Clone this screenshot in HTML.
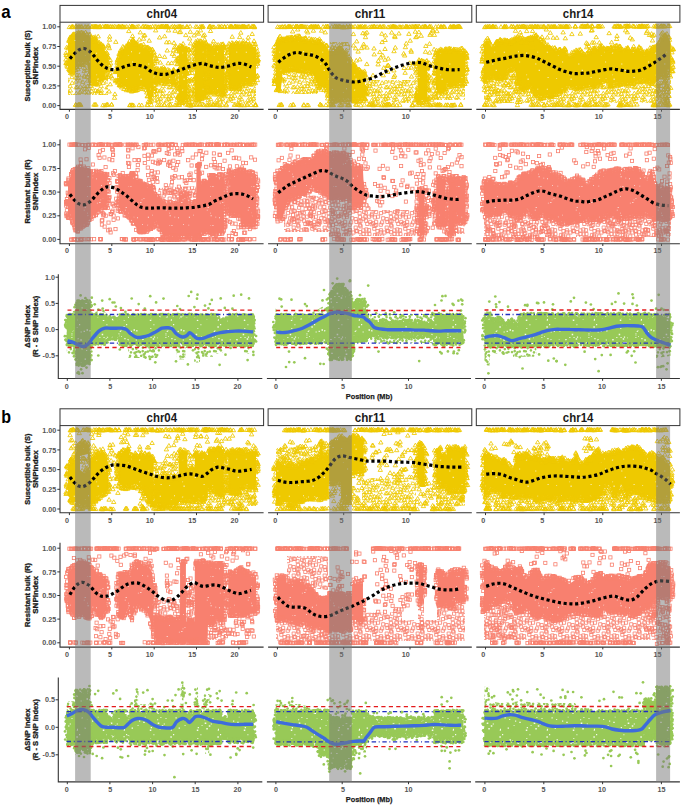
<!DOCTYPE html>
<html><head><meta charset="utf-8"><style>
html,body{margin:0;padding:0;background:#fff;}
svg{display:block;}
text{font-family:"Liberation Sans",sans-serif;}
</style></head><body>
<div style="position:relative;width:685px;height:807px;overflow:hidden">
<svg width="685" height="807" viewBox="0 0 685 807" font-family="Liberation Sans, sans-serif">
<defs><marker id="mt" markerWidth="6" markerHeight="6" refX="3" refY="3" markerUnits="userSpaceOnUse" overflow="visible"><path d="M3,1L5.2,4.7H0.8Z" fill="none" stroke="#EEC900" stroke-width="0.85"/></marker><marker id="ms" markerWidth="6" markerHeight="6" refX="3" refY="3" markerUnits="userSpaceOnUse" overflow="visible"><rect x="1.4" y="1.4" width="3.2" height="3.2" fill="none" stroke="#F8806F" stroke-width="0.8"/></marker><marker id="md" markerWidth="6" markerHeight="6" refX="3" refY="3" markerUnits="userSpaceOnUse" overflow="visible"><circle cx="3" cy="3" r="1.35" fill="#98C957"/></marker><pattern id="pt" width="43" height="37" patternUnits="userSpaceOnUse"><rect width="43" height="37" fill="#EEC900"/><path d="M22.7,32.8h1.1v1.1h-1.1zM21.3,14.7h0.9v0.9h-0.9zM40.2,3.9h0.9v0.9h-0.9zM11.6,5.1h1.0v1.0h-1.0zM19.3,26.6h1.0v1.0h-1.0zM11.6,4.5h1.0v1.0h-1.0zM31.6,3.0h1.0v1.0h-1.0zM9.9,16.1h0.7v0.7h-0.7zM3.2,24.6h0.9v0.9h-0.9zM10.3,15.4h0.9v0.9h-0.9zM2.0,14.3h0.9v0.9h-0.9zM10.3,0.5h0.8v0.8h-0.8zM41.9,18.4h0.7v0.7h-0.7zM30.8,14.8h1.0v1.0h-1.0z" fill="#fff" fill-opacity="0.80"/></pattern><pattern id="ps" width="41" height="39" patternUnits="userSpaceOnUse"><rect width="41" height="39" fill="#F8806F"/><path d="M14.9,7.7h0.8v0.8h-0.8zM14.0,22.3h0.9v0.9h-0.9zM5.2,17.8h0.7v0.7h-0.7zM10.4,21.7h0.8v0.8h-0.8zM18.6,4.5h0.8v0.8h-0.8zM2.7,11.9h1.0v1.0h-1.0zM17.3,7.0h1.1v1.1h-1.1zM7.5,30.0h0.9v0.9h-0.9zM19.0,29.2h0.9v0.9h-0.9zM29.3,19.8h0.7v0.7h-0.7zM24.4,29.7h0.8v0.8h-0.8zM5.4,30.4h0.7v0.7h-0.7zM20.5,3.2h0.9v0.9h-0.9zM5.0,1.3h0.8v0.8h-0.8zM24.8,21.8h0.7v0.7h-0.7zM1.8,14.7h0.9v0.9h-0.9zM5.6,20.2h1.1v1.1h-1.1zM25.0,21.7h1.0v1.0h-1.0z" fill="#fff" fill-opacity="0.80"/></pattern><pattern id="pd" width="47" height="41" patternUnits="userSpaceOnUse"><rect width="47" height="41" fill="#98C957"/><path d="M39.1,21.9h1.1v1.1h-1.1zM9.3,0.1h1.0v1.0h-1.0zM45.1,23.6h1.1v1.1h-1.1zM41.7,11.4h1.2v1.2h-1.2zM2.3,24.7h1.4v1.4h-1.4zM8.8,32.6h1.5v1.5h-1.5zM33.3,11.3h1.5v1.5h-1.5zM3.7,19.7h0.9v0.9h-0.9zM9.5,8.9h1.1v1.1h-1.1zM18.3,31.1h1.5v1.5h-1.5zM20.8,28.3h1.5v1.5h-1.5zM7.7,5.8h1.5v1.5h-1.5zM25.7,2.9h1.1v1.1h-1.1zM34.5,20.2h1.2v1.2h-1.2zM7.3,14.9h1.2v1.2h-1.2zM13.6,28.1h0.9v0.9h-0.9zM24.5,4.9h0.9v0.9h-0.9zM26.5,2.3h0.9v0.9h-0.9zM16.7,25.4h1.6v1.6h-1.6zM1.7,14.5h1.2v1.2h-1.2zM29.4,39.3h1.4v1.4h-1.4zM12.9,8.5h1.2v1.2h-1.2zM24.5,6.5h0.9v0.9h-0.9zM39.5,1.3h1.5v1.5h-1.5zM11.7,10.2h1.5v1.5h-1.5zM37.6,30.4h1.4v1.4h-1.4zM24.5,21.0h1.0v1.0h-1.0zM32.0,37.1h1.2v1.2h-1.2zM30.3,9.9h1.3v1.3h-1.3zM22.7,26.4h1.2v1.2h-1.2zM27.0,8.2h0.9v0.9h-0.9zM16.0,9.5h0.8v0.8h-0.8zM5.3,8.9h1.1v1.1h-1.1zM24.4,9.0h1.0v1.0h-1.0zM29.8,33.0h0.9v0.9h-0.9zM12.4,37.2h1.0v1.0h-1.0zM42.2,2.1h1.3v1.3h-1.3zM19.4,20.0h1.0v1.0h-1.0zM43.6,28.0h0.9v0.9h-0.9zM33.6,3.4h1.1v1.1h-1.1zM29.9,31.8h1.1v1.1h-1.1zM9.7,29.9h1.3v1.3h-1.3zM36.6,2.8h1.3v1.3h-1.3zM16.1,22.2h1.1v1.1h-1.1zM1.2,11.0h1.5v1.5h-1.5z" fill="#fff" fill-opacity="0.90"/></pattern><pattern id="qt" width="31" height="29" patternUnits="userSpaceOnUse"><path d="M2.6,1.3l2.2,3.7h-4.4zM33.6,1.3l2.2,3.7h-4.4zM1.6,4.7l2.2,3.7h-4.4zM32.6,4.7l2.2,3.7h-4.4zM2.3,7.4l2.2,3.7h-4.4zM33.3,7.4l2.2,3.7h-4.4zM2.9,10.2l2.2,3.7h-4.4zM33.9,10.2l2.2,3.7h-4.4zM3.4,12.6l2.2,3.7h-4.4zM1.6,19.0l2.2,3.7h-4.4zM32.6,19.0l2.2,3.7h-4.4zM1.3,21.3l2.2,3.7h-4.4zM32.3,21.3l2.2,3.7h-4.4zM0.5,23.6l2.2,3.7h-4.4zM31.5,23.6l2.2,3.7h-4.4zM5.4,1.4l2.2,3.7h-4.4zM4.6,2.2l2.2,3.7h-4.4zM7.3,7.1l2.2,3.7h-4.4zM5.6,9.3l2.2,3.7h-4.4zM6.1,12.8l2.2,3.7h-4.4zM5.4,19.0l2.2,3.7h-4.4zM4.8,20.4l2.2,3.7h-4.4zM4.1,-4.8l2.2,3.7h-4.4zM4.1,24.2l2.2,3.7h-4.4zM8.4,1.3l2.2,3.7h-4.4zM7.8,4.6l2.2,3.7h-4.4zM11.3,7.0l2.2,3.7h-4.4zM11.6,11.2l2.2,3.7h-4.4zM10.1,14.1l2.2,3.7h-4.4zM9.9,17.0l2.2,3.7h-4.4zM10.2,22.7l2.2,3.7h-4.4zM8.2,-3.0l2.2,3.7h-4.4zM8.2,26.0l2.2,3.7h-4.4zM14.0,-1.8l2.2,3.7h-4.4zM14.0,27.2l2.2,3.7h-4.4zM14.3,4.2l2.2,3.7h-4.4zM14.3,7.3l2.2,3.7h-4.4zM13.8,9.8l2.2,3.7h-4.4zM15.0,14.7l2.2,3.7h-4.4zM13.9,17.5l2.2,3.7h-4.4zM13.9,21.4l2.2,3.7h-4.4zM15.3,-2.1l2.2,3.7h-4.4zM15.3,26.9l2.2,3.7h-4.4zM19.3,1.4l2.2,3.7h-4.4zM18.0,2.7l2.2,3.7h-4.4zM17.8,6.6l2.2,3.7h-4.4zM16.0,9.0l2.2,3.7h-4.4zM17.1,15.1l2.2,3.7h-4.4zM15.7,18.0l2.2,3.7h-4.4zM18.0,20.3l2.2,3.7h-4.4zM18.4,-2.5l2.2,3.7h-4.4zM18.4,26.5l2.2,3.7h-4.4zM22.9,-0.6l2.2,3.7h-4.4zM22.9,28.4l2.2,3.7h-4.4zM22.5,3.0l2.2,3.7h-4.4zM22.6,8.2l2.2,3.7h-4.4zM22.2,10.9l2.2,3.7h-4.4zM22.3,15.5l2.2,3.7h-4.4zM22.5,16.6l2.2,3.7h-4.4zM20.8,21.7l2.2,3.7h-4.4zM22.3,-3.2l2.2,3.7h-4.4zM22.3,25.8l2.2,3.7h-4.4zM24.8,0.1l2.2,3.7h-4.4zM24.8,29.1l2.2,3.7h-4.4zM26.6,3.1l2.2,3.7h-4.4zM24.6,5.3l2.2,3.7h-4.4zM24.6,9.9l2.2,3.7h-4.4zM26.8,14.4l2.2,3.7h-4.4zM25.1,16.6l2.2,3.7h-4.4zM25.5,20.4l2.2,3.7h-4.4zM25.6,-2.9l2.2,3.7h-4.4zM25.6,26.1l2.2,3.7h-4.4zM-0.5,-0.9l2.2,3.7h-4.4zM-0.5,28.1l2.2,3.7h-4.4zM30.5,-0.9l2.2,3.7h-4.4zM30.5,28.1l2.2,3.7h-4.4zM-1.4,2.1l2.2,3.7h-4.4zM29.6,2.1l2.2,3.7h-4.4zM-1.7,5.4l2.2,3.7h-4.4zM29.3,5.4l2.2,3.7h-4.4zM-0.3,11.3l2.2,3.7h-4.4zM30.7,11.3l2.2,3.7h-4.4zM-0.0,14.0l2.2,3.7h-4.4zM31.0,14.0l2.2,3.7h-4.4zM-2.4,17.3l2.2,3.7h-4.4zM28.6,17.3l2.2,3.7h-4.4zM-2.3,23.2l2.2,3.7h-4.4zM28.7,23.2l2.2,3.7h-4.4zM-2.6,-3.1l2.2,3.7h-4.4zM-2.6,25.9l2.2,3.7h-4.4zM28.4,-3.1l2.2,3.7h-4.4zM28.4,25.9l2.2,3.7h-4.4z" fill="none" stroke="#EEC900" stroke-width="0.8"/></pattern><pattern id="qs" width="31" height="29" patternUnits="userSpaceOnUse"><path d="M1.4,1.4h3.2v3.2h-3.2zM0.9,4.8h3.2v3.2h-3.2zM31.9,4.8h3.2v3.2h-3.2zM-1.4,9.2h3.2v3.2h-3.2zM29.6,9.2h3.2v3.2h-3.2zM1.3,12.8h3.2v3.2h-3.2zM32.3,12.8h3.2v3.2h-3.2zM-0.5,18.6h3.2v3.2h-3.2zM30.5,18.6h3.2v3.2h-3.2zM1.0,21.3h3.2v3.2h-3.2zM32.0,21.3h3.2v3.2h-3.2zM0.7,24.1h3.2v3.2h-3.2zM31.7,24.1h3.2v3.2h-3.2zM3.4,1.8h3.2v3.2h-3.2zM3.7,3.1h3.2v3.2h-3.2zM2.5,7.4h3.2v3.2h-3.2zM4.4,12.1h3.2v3.2h-3.2zM2.5,17.3h3.2v3.2h-3.2zM2.5,20.4h3.2v3.2h-3.2zM3.9,-2.5h3.2v3.2h-3.2zM3.9,26.5h3.2v3.2h-3.2zM7.1,-1.3h3.2v3.2h-3.2zM7.1,27.7h3.2v3.2h-3.2zM8.6,2.8h3.2v3.2h-3.2zM7.4,8.5h3.2v3.2h-3.2zM9.6,13.7h3.2v3.2h-3.2zM8.5,17.8h3.2v3.2h-3.2zM7.2,20.1h3.2v3.2h-3.2zM7.4,-3.3h3.2v3.2h-3.2zM7.4,25.7h3.2v3.2h-3.2zM10.9,-1.1h3.2v3.2h-3.2zM10.9,27.9h3.2v3.2h-3.2zM12.9,6.1h3.2v3.2h-3.2zM10.6,7.0h3.2v3.2h-3.2zM13.1,14.5h3.2v3.2h-3.2zM13.8,17.3h3.2v3.2h-3.2zM13.1,23.0h3.2v3.2h-3.2zM13.6,-2.7h3.2v3.2h-3.2zM13.6,26.3h3.2v3.2h-3.2zM17.5,-1.5h3.2v3.2h-3.2zM17.5,27.5h3.2v3.2h-3.2zM14.2,6.3h3.2v3.2h-3.2zM17.0,8.6h3.2v3.2h-3.2zM17.3,12.3h3.2v3.2h-3.2zM16.6,16.8h3.2v3.2h-3.2zM17.4,20.6h3.2v3.2h-3.2zM14.6,-2.4h3.2v3.2h-3.2zM14.6,26.6h3.2v3.2h-3.2zM20.9,0.4h3.2v3.2h-3.2zM20.9,29.4h3.2v3.2h-3.2zM18.5,3.1h3.2v3.2h-3.2zM21.5,7.3h3.2v3.2h-3.2zM20.9,14.1h3.2v3.2h-3.2zM17.9,16.6h3.2v3.2h-3.2zM18.0,21.7h3.2v3.2h-3.2zM20.8,-3.2h3.2v3.2h-3.2zM20.8,25.8h3.2v3.2h-3.2zM24.0,0.7h3.2v3.2h-3.2zM24.0,29.7h3.2v3.2h-3.2zM25.1,4.3h3.2v3.2h-3.2zM23.2,8.3h3.2v3.2h-3.2zM22.8,12.2h3.2v3.2h-3.2zM23.3,16.1h3.2v3.2h-3.2zM24.7,19.3h3.2v3.2h-3.2zM23.8,-4.1h3.2v3.2h-3.2zM23.8,24.9h3.2v3.2h-3.2zM-4.2,0.4h3.2v3.2h-3.2zM-4.2,29.4h3.2v3.2h-3.2zM26.8,0.4h3.2v3.2h-3.2zM26.8,29.4h3.2v3.2h-3.2zM-1.9,4.4h3.2v3.2h-3.2zM29.1,4.4h3.2v3.2h-3.2zM-1.9,10.7h3.2v3.2h-3.2zM29.1,10.7h3.2v3.2h-3.2zM-4.5,12.1h3.2v3.2h-3.2zM26.5,12.1h3.2v3.2h-3.2zM-3.3,17.3h3.2v3.2h-3.2zM27.7,17.3h3.2v3.2h-3.2zM-2.0,19.6h3.2v3.2h-3.2zM29.0,19.6h3.2v3.2h-3.2zM-4.6,-3.4h3.2v3.2h-3.2zM-4.6,25.6h3.2v3.2h-3.2zM26.4,-3.4h3.2v3.2h-3.2zM26.4,25.6h3.2v3.2h-3.2z" fill="none" stroke="#F8806F" stroke-width="0.8"/></pattern><pattern id="qd" width="31" height="29" patternUnits="userSpaceOnUse"><path d="M-1.2,2.0a1.3,1.3 0 1,0 0.01,0zM-1.2,31.0a1.3,1.3 0 1,0 0.01,0zM29.8,2.0a1.3,1.3 0 1,0 0.01,0zM29.8,31.0a1.3,1.3 0 1,0 0.01,0zM0.3,5.2a1.3,1.3 0 1,0 0.01,0zM31.3,5.2a1.3,1.3 0 1,0 0.01,0zM0.8,7.9a1.3,1.3 0 1,0 0.01,0zM31.8,7.9a1.3,1.3 0 1,0 0.01,0zM-1.0,12.0a1.3,1.3 0 1,0 0.01,0zM30.0,12.0a1.3,1.3 0 1,0 0.01,0zM-0.7,16.2a1.3,1.3 0 1,0 0.01,0zM30.3,16.2a1.3,1.3 0 1,0 0.01,0zM-0.8,18.3a1.3,1.3 0 1,0 0.01,0zM30.2,18.3a1.3,1.3 0 1,0 0.01,0zM-1.2,24.0a1.3,1.3 0 1,0 0.01,0zM29.8,24.0a1.3,1.3 0 1,0 0.01,0zM0.6,-1.2a1.3,1.3 0 1,0 0.01,0zM0.6,27.8a1.3,1.3 0 1,0 0.01,0zM31.6,-1.2a1.3,1.3 0 1,0 0.01,0zM31.6,27.8a1.3,1.3 0 1,0 0.01,0zM3.9,1.1a1.3,1.3 0 1,0 0.01,0zM3.9,30.1a1.3,1.3 0 1,0 0.01,0zM2.4,6.1a1.3,1.3 0 1,0 0.01,0zM3.9,8.6a1.3,1.3 0 1,0 0.01,0zM4.8,12.9a1.3,1.3 0 1,0 0.01,0zM4.0,14.9a1.3,1.3 0 1,0 0.01,0zM3.4,20.1a1.3,1.3 0 1,0 0.01,0zM3.5,21.9a1.3,1.3 0 1,0 0.01,0zM2.8,25.9a1.3,1.3 0 1,0 0.01,0zM7.0,3.1a1.3,1.3 0 1,0 0.01,0zM6.1,6.5a1.3,1.3 0 1,0 0.01,0zM5.8,9.1a1.3,1.3 0 1,0 0.01,0zM6.0,13.8a1.3,1.3 0 1,0 0.01,0zM5.3,14.5a1.3,1.3 0 1,0 0.01,0zM6.0,18.6a1.3,1.3 0 1,0 0.01,0zM6.6,24.9a1.3,1.3 0 1,0 0.01,0zM6.9,25.5a1.3,1.3 0 1,0 0.01,0zM10.5,3.6a1.3,1.3 0 1,0 0.01,0zM10.7,4.0a1.3,1.3 0 1,0 0.01,0zM11.1,7.8a1.3,1.3 0 1,0 0.01,0zM8.6,11.2a1.3,1.3 0 1,0 0.01,0zM9.7,16.2a1.3,1.3 0 1,0 0.01,0zM8.5,19.0a1.3,1.3 0 1,0 0.01,0zM8.7,23.2a1.3,1.3 0 1,0 0.01,0zM8.8,-0.2a1.3,1.3 0 1,0 0.01,0zM8.8,28.8a1.3,1.3 0 1,0 0.01,0zM12.4,2.7a1.3,1.3 0 1,0 0.01,0zM12.4,31.7a1.3,1.3 0 1,0 0.01,0zM12.1,6.3a1.3,1.3 0 1,0 0.01,0zM13.2,8.3a1.3,1.3 0 1,0 0.01,0zM11.2,13.3a1.3,1.3 0 1,0 0.01,0zM11.6,16.1a1.3,1.3 0 1,0 0.01,0zM12.1,20.2a1.3,1.3 0 1,0 0.01,0zM13.2,23.6a1.3,1.3 0 1,0 0.01,0zM12.4,-0.7a1.3,1.3 0 1,0 0.01,0zM12.4,28.3a1.3,1.3 0 1,0 0.01,0zM16.0,2.8a1.3,1.3 0 1,0 0.01,0zM16.0,31.8a1.3,1.3 0 1,0 0.01,0zM17.2,6.5a1.3,1.3 0 1,0 0.01,0zM14.7,9.0a1.3,1.3 0 1,0 0.01,0zM14.2,11.5a1.3,1.3 0 1,0 0.01,0zM16.7,17.1a1.3,1.3 0 1,0 0.01,0zM15.1,18.2a1.3,1.3 0 1,0 0.01,0zM14.2,24.1a1.3,1.3 0 1,0 0.01,0zM14.6,25.8a1.3,1.3 0 1,0 0.01,0zM18.7,1.8a1.3,1.3 0 1,0 0.01,0zM18.7,30.8a1.3,1.3 0 1,0 0.01,0zM19.7,5.2a1.3,1.3 0 1,0 0.01,0zM19.5,9.5a1.3,1.3 0 1,0 0.01,0zM17.4,11.5a1.3,1.3 0 1,0 0.01,0zM19.3,17.7a1.3,1.3 0 1,0 0.01,0zM18.1,21.2a1.3,1.3 0 1,0 0.01,0zM20.2,22.6a1.3,1.3 0 1,0 0.01,0zM18.9,-1.7a1.3,1.3 0 1,0 0.01,0zM18.9,27.3a1.3,1.3 0 1,0 0.01,0zM21.5,2.9a1.3,1.3 0 1,0 0.01,0zM21.5,31.9a1.3,1.3 0 1,0 0.01,0zM20.7,4.4a1.3,1.3 0 1,0 0.01,0zM20.5,7.3a1.3,1.3 0 1,0 0.01,0zM22.4,12.5a1.3,1.3 0 1,0 0.01,0zM23.0,15.3a1.3,1.3 0 1,0 0.01,0zM22.2,20.3a1.3,1.3 0 1,0 0.01,0zM21.8,22.6a1.3,1.3 0 1,0 0.01,0zM23.4,25.9a1.3,1.3 0 1,0 0.01,0zM23.8,2.2a1.3,1.3 0 1,0 0.01,0zM23.8,31.2a1.3,1.3 0 1,0 0.01,0zM25.4,7.2a1.3,1.3 0 1,0 0.01,0zM25.6,10.2a1.3,1.3 0 1,0 0.01,0zM25.3,14.4a1.3,1.3 0 1,0 0.01,0zM24.0,16.7a1.3,1.3 0 1,0 0.01,0zM25.7,21.0a1.3,1.3 0 1,0 0.01,0zM23.7,25.1a1.3,1.3 0 1,0 0.01,0zM25.5,-1.8a1.3,1.3 0 1,0 0.01,0zM25.5,27.2a1.3,1.3 0 1,0 0.01,0zM-2.9,1.8a1.3,1.3 0 1,0 0.01,0zM-2.9,30.8a1.3,1.3 0 1,0 0.01,0zM28.1,1.8a1.3,1.3 0 1,0 0.01,0zM28.1,30.8a1.3,1.3 0 1,0 0.01,0zM-2.5,7.2a1.3,1.3 0 1,0 0.01,0zM28.5,7.2a1.3,1.3 0 1,0 0.01,0zM-3.3,7.7a1.3,1.3 0 1,0 0.01,0zM27.7,7.7a1.3,1.3 0 1,0 0.01,0zM-2.9,11.0a1.3,1.3 0 1,0 0.01,0zM28.1,11.0a1.3,1.3 0 1,0 0.01,0zM-2.8,17.2a1.3,1.3 0 1,0 0.01,0zM28.2,17.2a1.3,1.3 0 1,0 0.01,0zM-3.3,19.4a1.3,1.3 0 1,0 0.01,0zM27.7,19.4a1.3,1.3 0 1,0 0.01,0zM-3.0,23.1a1.3,1.3 0 1,0 0.01,0zM28.0,23.1a1.3,1.3 0 1,0 0.01,0zM-2.9,26.0a1.3,1.3 0 1,0 0.01,0zM28.1,26.0a1.3,1.3 0 1,0 0.01,0z" fill="#98C957"/></pattern></defs>
<rect width="685" height="807" fill="#fff"/>
<polygon points="68.0,64.0 108.0,64.0 108.0,95.0 68.0,95.0" fill="url(#qt)"/>
<polygon points="155.0,78.0 256.0,80.0 256.0,103.0 155.0,103.0" fill="url(#qt)"/>
<polygon points="187.0,62.0 195.0,62.0 195.0,80.0 187.0,80.0" fill="url(#qt)"/>
<polygon points="224.0,66.0 229.0,66.0 229.0,90.0 224.0,90.0" fill="url(#qt)"/>
<polygon points="68.0,43.0 71.7,38.0 75.0,35.5 78.0,35.0 79.0,34.9 82.0,34.5 87.0,35.0 89.0,36.0 91.0,38.0 95.0,41.0 96.5,42.2 99.4,44.5 101.0,46.1 104.0,49.0 107.0,54.0 108.5,58.0 108.5,66.0 107.0,70.0 104.0,75.5 101.0,79.0 99.4,80.1 96.5,82.0 95.0,81.5 91.0,80.0 89.0,75.0 87.0,62.0 82.0,62.0 79.0,62.0 78.0,63.0 75.0,66.0 71.7,72.0 68.0,68.0" fill="url(#pt)"/>
<polygon points="117.0,61.0 120.0,53.6 123.0,49.0 126.0,47.7 130.0,43.4 133.0,42.0 137.4,46.0 141.8,47.7 146.0,49.5 148.0,50.0 150.5,51.0 153.4,52.0 153.4,96.0 150.5,100.0 148.0,98.8 146.0,88.6 141.8,85.7 137.4,87.2 133.0,88.0 130.0,88.6 126.0,87.0 123.0,85.7 120.0,83.0 117.0,81.0" fill="url(#pt)"/>
<polygon points="155.0,70.0 175.0,72.0 175.0,82.0 155.0,80.0" fill="url(#pt)"/>
<polygon points="179.0,47.7 187.0,47.7 187.0,100.0 179.0,100.0" fill="url(#pt)"/>
<polygon points="195.0,45.0 198.0,42.0 206.0,45.0 206.0,96.0 198.0,98.0 195.0,98.0" fill="url(#pt)"/>
<polygon points="207.0,47.7 215.0,47.7 216.0,46.3 224.0,46.3 224.0,92.0 216.0,92.0 215.0,90.0 207.0,90.0" fill="url(#pt)"/>
<polygon points="229.0,45.5 240.0,45.5 241.0,45.0 256.0,47.0 256.0,82.0 241.0,82.0 240.0,86.0 229.0,86.0" fill="url(#pt)"/>
<path d="M81.1,32.2 81.1,63.6 70.9,38.2 70.9,71.6 70.3,38.9 70.3,69.7 85.6,32.1 85.6,61.4 85.2,35.1 85.2,61.5 77.0,34.7 77.0,66.7 91.4,36.9 91.4,83.0 69.9,40.9 69.9,70.2 73.8,33.8 73.8,68.3 101.1,43.8 101.1,80.3 93.9,38.6 93.9,82.2 70.5,36.8 70.5,70.6 95.6,40.2 95.6,81.9 91.7,37.3 91.7,80.5 100.2,45.1 100.2,79.5 91.3,37.3 91.3,82.6 97.5,41.2 97.5,84.2 72.8,35.9 72.8,72.1 74.2,35.1 74.2,66.7 95.1,41.1 95.1,82.8 103.5,46.7 103.5,77.9 92.1,38.1 92.1,81.2 102.0,47.8 102.0,78.7 94.9,38.2 94.9,83.2 94.2,41.4 94.2,83.5 79.5,33.4 79.5,63.7 68.9,40.6 68.9,68.7 72.7,34.4 72.7,72.2 73.2,34.8 73.2,69.8 103.3,45.6 103.3,77.1 90.3,37.8 90.3,80.4 103.0,46.1 103.0,77.3 82.5,35.1 82.5,64.8 74.1,33.9 74.1,67.5 77.5,34.0 77.5,64.9 78.6,31.9 78.6,63.0 83.0,33.9 83.0,64.8 96.0,40.8 96.0,83.3 95.4,38.5 95.4,84.2 99.6,45.2 99.6,82.1 83.9,33.3 83.9,61.4 93.7,37.3 93.7,80.2 76.5,32.9 76.5,64.9 70.1,37.1 70.1,69.9 72.1,36.1 72.1,70.4 103.4,47.9 103.4,75.8 78.2,33.4 78.2,63.2 73.0,37.4 73.0,72.7 86.9,33.9 86.9,61.3 72.1,36.0 72.1,71.3 101.6,44.3 101.6,77.4 106.5,52.3 106.5,70.5 90.0,34.1 90.0,78.6 107.6,56.1 107.6,70.1 78.6,33.4 78.6,62.1 99.3,43.5 99.3,82.3 81.4,32.5 81.4,64.2 107.9,56.8 107.9,69.9 101.1,46.2 101.1,78.7 89.0,34.4 89.0,73.9 69.1,39.6 69.1,69.3 96.0,42.7 96.0,82.6 105.9,53.2 105.9,74.7 82.8,32.5 82.8,61.9 68.2,48.1 66.9,65.5 66.3,55.0 66.8,63.0 68.5,59.5 66.1,62.6 66.5,55.0 68.3,62.7 67.8,63.0 65.9,52.9 67.6,66.7 66.6,47.3 68.4,46.8 66.1,63.2 68.4,63.7 65.9,59.4 67.7,56.7 108.1,58.1 110.6,63.2 109.3,65.5 109.0,65.0 110.2,59.7 126.2,45.7 126.2,87.0 138.3,44.4 138.3,87.6 121.8,51.5 121.8,85.0 133.7,41.9 133.7,90.5 132.3,43.0 132.3,89.1 136.4,44.1 136.4,86.5 133.0,39.8 133.0,87.0 146.1,47.2 146.1,90.0 143.4,47.6 143.4,87.1 135.9,43.8 135.9,89.6 120.9,51.5 120.9,83.8 127.1,46.6 127.1,88.5 137.4,46.1 137.4,89.8 133.1,41.6 133.1,89.0 135.6,44.2 135.6,88.3 136.4,44.0 136.4,90.1 142.5,48.5 142.5,88.9 126.4,46.5 126.4,90.0 147.6,47.4 147.6,96.1 133.1,39.4 133.1,87.9 119.7,54.1 119.7,84.9 149.7,48.3 149.7,101.5 141.0,45.0 141.0,88.5 152.2,49.5 152.2,100.4 131.5,41.7 131.5,91.3 147.3,47.5 147.3,96.0 135.8,42.9 135.8,87.3 128.6,44.8 128.6,87.1 137.2,44.6 137.2,86.3 129.1,43.9 129.1,89.3 119.3,56.2 119.3,84.7 152.4,49.1 152.4,97.5 118.4,57.6 118.4,82.0 121.7,49.7 121.7,87.2 146.8,47.7 146.8,92.3 150.5,50.3 150.5,101.8 120.3,50.4 120.3,85.0 132.5,39.5 132.5,90.9 140.1,47.2 140.1,85.6 148.2,47.3 148.2,101.3 133.5,40.8 133.5,89.1 150.7,49.2 150.7,99.2 136.2,42.8 136.2,86.9 122.9,46.4 122.9,85.4 128.4,43.4 128.4,90.0 127.6,45.0 127.6,87.3 129.6,40.9 129.6,88.5 117.6,59.6 117.6,82.6 123.9,47.5 123.9,88.8 120.9,52.5 120.9,84.5 135.0,44.2 135.0,88.2 135.4,44.0 135.4,90.5 129.5,44.3 129.5,90.2 140.1,45.7 140.1,86.7 119.0,53.6 119.0,81.6 144.0,46.7 144.0,86.9 120.1,53.8 120.1,85.5 141.4,45.7 141.4,85.8 116.9,70.2 117.3,69.9 117.0,80.2 114.9,71.9 117.1,80.3 116.9,68.1 117.8,68.6 116.4,71.1 117.2,71.1 117.8,66.3 117.5,69.0 117.7,61.4 116.9,65.7 116.0,71.6 154.9,80.9 154.7,90.7 153.8,66.3 155.6,58.6 154.8,80.3 152.7,88.8 155.3,79.6 154.8,87.7 153.0,75.0 154.1,88.7 155.0,88.4 154.4,91.3 154.6,82.5 153.3,53.4 153.0,67.9 152.9,88.8 154.3,79.6 154.5,81.9 154.1,52.1 155.0,84.9 154.1,75.5 154.6,54.9 154.8,63.1 152.8,63.7 154.8,61.0 154.8,94.9 154.1,68.8 154.0,82.1 154.9,79.1 154.5,55.4 157.9,68.3 157.9,82.3 161.1,69.9 161.1,79.7 156.2,68.2 156.2,81.8 168.8,71.1 168.8,81.5 165.3,69.9 165.3,81.9 157.4,70.8 157.4,80.0 174.6,72.7 174.6,81.0 164.2,71.2 164.2,83.8 164.0,69.0 164.0,80.7 173.9,69.7 173.9,83.2 157.8,69.4 157.8,83.1 157.7,70.5 157.7,81.3 172.7,71.6 172.7,81.7 173.0,70.7 173.0,80.9 155.1,69.0 155.1,80.8 161.0,68.2 161.0,81.0 161.3,71.0 161.3,79.6 170.0,71.9 170.0,81.0 173.5,71.7 173.5,84.5 160.8,69.1 160.8,81.2 175.0,71.4 175.0,82.4 163.6,69.0 163.6,80.0 157.0,70.5 157.0,80.3 173.7,69.9 173.7,81.9 165.2,68.8 165.2,81.5 174.1,72.4 174.1,84.2 167.6,71.9 167.6,84.0 166.0,71.0 166.0,80.3 169.6,70.3 169.6,83.5 167.9,69.4 167.9,80.5 173.5,69.4 173.5,82.7 161.9,68.9 161.9,82.6 152.9,72.6 153.8,73.0 154.1,73.9 155.3,71.6 155.2,79.1 154.3,72.2 153.1,80.0 175.5,73.4 174.8,72.9 175.2,72.9 174.9,74.6 175.9,80.9 176.4,76.1 175.4,77.2 182.0,46.1 182.0,99.2 181.2,48.6 181.2,99.5 183.0,47.2 183.0,102.5 180.7,45.8 180.7,100.0 182.2,46.5 182.2,102.8 185.8,48.2 185.8,99.1 179.3,47.5 179.3,102.6 182.8,47.0 182.8,99.0 182.1,48.4 182.1,102.3 185.8,48.6 185.8,100.0 179.9,45.3 179.9,101.1 184.5,48.5 184.5,101.9 177.9,87.7 178.4,76.5 179.7,88.6 179.1,95.8 177.9,63.6 179.4,60.9 177.9,84.2 179.5,51.4 178.2,78.2 178.6,59.4 178.0,48.2 178.9,71.8 176.9,81.4 177.1,72.6 179.1,60.6 176.9,84.6 178.9,48.8 178.3,83.0 178.5,61.2 177.8,96.1 179.1,49.5 178.8,69.7 177.8,58.1 177.4,86.4 178.3,58.4 176.9,64.0 177.3,59.8 179.1,87.5 178.9,97.5 178.3,57.5 179.1,69.5 177.8,97.3 179.4,68.3 179.2,98.6 179.4,50.4 179.6,68.3 188.9,93.9 188.4,99.9 189.0,64.9 186.8,96.6 188.4,49.4 188.2,67.5 187.3,65.0 186.7,47.9 187.0,66.1 189.1,54.2 189.1,58.5 187.3,90.7 188.7,70.3 186.3,72.5 187.3,95.8 186.8,66.8 188.9,49.3 187.4,90.2 188.5,49.8 186.3,51.0 189.0,61.1 188.4,94.7 187.2,61.9 189.1,80.0 187.0,85.2 187.1,62.1 186.2,87.2 188.9,80.9 189.0,49.0 186.9,72.6 189.1,97.6 187.4,60.8 187.5,73.5 189.0,57.3 188.6,86.3 188.7,88.1 201.7,41.7 201.7,97.4 199.0,42.5 199.0,97.1 197.2,42.8 197.2,98.0 195.7,41.4 195.7,99.2 198.6,43.1 198.6,100.4 205.9,43.0 205.9,95.4 196.1,42.9 196.1,99.8 199.9,40.7 199.9,98.2 201.8,43.1 201.8,99.0 204.3,44.0 204.3,95.9 204.2,42.5 204.2,97.7 199.1,42.4 199.1,97.5 197.7,40.3 197.7,97.6 204.7,43.8 204.7,96.6 199.4,43.5 199.4,98.7 197.5,42.7 197.5,99.6 205.9,42.4 205.9,96.9 193.3,89.5 193.1,47.1 194.9,51.3 195.2,96.6 194.1,94.3 194.7,90.9 194.5,58.8 193.5,95.1 195.5,76.6 193.9,56.5 194.7,52.5 195.2,58.5 194.0,79.5 195.2,45.6 194.8,81.0 195.2,61.5 195.2,87.1 194.2,48.4 195.5,66.0 194.1,78.9 195.5,53.7 193.7,66.7 195.0,61.3 192.9,61.6 194.1,63.9 194.6,90.8 192.8,64.3 195.2,83.6 195.2,45.3 193.1,67.5 193.3,66.5 193.2,69.4 195.3,45.8 194.1,79.0 193.1,49.7 193.9,64.7 194.3,52.7 206.0,71.6 208.0,50.5 206.7,86.0 208.1,55.1 205.6,93.1 208.1,69.6 205.4,92.2 206.4,91.1 207.1,87.1 205.7,85.1 205.9,65.6 207.7,87.3 205.7,56.1 206.4,71.4 206.4,51.3 205.9,82.0 207.9,47.1 206.9,83.6 205.3,87.7 205.6,75.6 206.9,77.0 206.1,66.4 206.9,66.7 207.2,67.8 206.5,46.2 207.1,70.0 205.9,83.9 207.5,68.4 205.7,69.1 205.5,51.6 206.5,49.7 206.5,71.0 205.3,77.5 205.4,82.4 207.5,71.1 207.9,46.7 207.9,90.5 223.2,43.8 223.2,94.4 223.9,46.2 223.9,94.3 210.3,48.6 210.3,91.0 223.3,47.0 223.3,91.7 220.4,47.0 220.4,91.3 213.0,47.7 213.0,89.6 222.2,44.4 222.2,94.3 209.4,46.7 209.4,92.7 210.5,45.8 210.5,91.0 212.4,44.8 212.4,89.7 209.7,48.4 209.7,91.7 222.2,44.0 222.2,94.1 209.0,46.8 209.0,91.5 213.1,48.2 213.1,91.2 216.9,46.8 216.9,91.4 223.9,45.8 223.9,92.6 220.6,44.4 220.6,95.0 216.8,44.7 216.8,94.1 214.5,45.4 214.5,92.0 207.8,48.0 207.8,90.0 217.9,47.2 217.9,93.3 218.3,44.6 218.3,91.0 207.6,45.3 207.6,91.5 214.3,46.8 214.3,92.6 209.2,45.6 209.2,91.6 207.4,44.7 207.4,90.4 207.5,62.8 207.1,72.4 206.0,56.3 205.9,67.8 207.4,87.3 207.1,54.0 207.5,74.7 205.2,80.8 206.6,58.9 207.8,75.0 206.1,62.5 205.9,66.5 205.0,78.7 207.1,85.9 207.7,70.2 206.6,57.8 207.6,80.6 207.8,71.0 205.0,53.7 207.2,73.4 206.3,74.8 205.4,55.1 206.9,60.4 207.7,85.3 205.5,78.0 207.8,83.4 205.6,67.4 205.6,66.8 207.1,52.2 223.9,48.1 224.2,80.6 225.3,84.9 225.3,58.5 224.9,66.2 225.6,70.2 224.0,75.6 226.1,56.2 225.8,47.0 224.0,57.1 225.4,89.5 225.4,61.2 225.8,61.3 223.9,87.8 225.1,78.0 225.2,91.0 224.6,84.7 225.3,85.5 224.5,79.4 224.9,60.4 223.8,74.8 223.4,87.9 223.6,47.5 223.5,88.8 224.2,52.8 223.3,48.2 225.3,75.3 225.3,80.0 223.4,73.3 224.3,83.7 225.7,87.0 230.8,46.0 230.8,88.7 254.5,44.2 254.5,81.8 232.0,42.6 232.0,88.4 250.9,45.9 250.9,84.3 246.1,43.8 246.1,81.4 231.6,45.5 231.6,85.8 237.6,44.2 237.6,85.1 235.9,43.6 235.9,87.9 238.9,43.8 238.9,88.9 242.6,45.6 242.6,83.5 229.8,44.2 229.8,86.7 249.9,44.6 249.9,83.8 243.5,43.2 243.5,84.4 231.5,45.8 231.5,85.7 229.0,43.3 229.0,88.0 255.4,43.9 255.4,83.0 242.3,45.4 242.3,81.7 242.4,43.6 242.4,84.3 236.0,46.3 236.0,86.1 234.8,45.3 234.8,87.0 232.0,45.0 232.0,85.3 250.3,46.0 250.3,84.1 246.0,44.1 246.0,82.6 239.7,46.1 239.7,85.3 253.0,43.7 253.0,81.8 236.1,46.1 236.1,87.0 239.2,46.0 239.2,85.9 241.4,44.2 241.4,84.0 249.3,45.7 249.3,82.4 237.8,43.1 237.8,88.4 246.9,45.8 246.9,81.7 240.8,45.2 240.8,83.9 232.4,44.3 232.4,88.5 235.4,43.3 235.4,86.2 248.0,46.3 248.0,81.6 233.2,43.5 233.2,86.3 243.1,42.9 243.1,82.3 234.1,46.4 234.1,87.9 231.7,46.3 231.7,85.4 239.4,46.4 239.4,88.2 248.8,44.8 248.8,81.8 246.2,43.1 246.2,81.8 239.5,42.6 239.5,86.6 227.4,73.6 228.3,71.1 228.4,51.2 228.0,61.9 227.6,82.3 228.5,68.7 227.6,62.6 229.1,74.7 227.2,76.8 227.7,80.0 227.8,71.5 228.4,58.2 227.9,49.5 228.5,77.2 227.7,71.0 229.0,62.7 228.4,70.7 228.6,72.8 227.0,52.9 227.8,77.0 228.6,65.3 226.9,47.0 228.2,52.0 227.5,83.6 228.2,49.6 228.1,67.4 227.6,66.2 227.9,79.1 256.8,61.4 258.0,54.4 257.3,60.7 257.5,51.3 258.2,59.4 255.4,56.6 256.4,47.5 256.5,61.7 257.3,59.3 256.0,54.9 257.4,79.9 256.8,54.7 257.6,60.7 255.8,51.5 257.5,75.3 257.1,63.4 256.9,54.9 258.1,59.4 257.1,75.7 257.6,63.4 256.1,66.2 255.6,76.2 256.3,76.8 256.0,60.2 99.3,62.0 98.2,36.2 107.3,53.2 99.2,54.4 103.2,62.1 105.8,76.2 101.2,92.7 109.5,39.5 109.1,91.3 108.3,44.6 109.1,74.6 95.3,36.7 111.2,76.0 99.3,42.2 97.4,50.3 108.2,57.1 97.6,91.1 108.5,46.2 110.1,73.1 108.3,76.8 110.2,84.1 109.3,48.0 106.8,68.4 107.6,62.8 110.0,69.9 99.5,50.3 97.4,66.1 96.0,64.5 97.5,66.0 103.5,68.9 109.7,36.4 109.3,64.5 115.4,79.9 117.0,62.5 114.5,97.6 112.5,78.2 115.8,41.7 115.7,81.0 117.6,59.8 117.9,70.6 114.9,93.9 156.5,58.7 183.1,43.5 193.8,44.6 176.4,51.0 189.7,38.4 174.6,46.9 179.9,63.1 168.2,63.1 173.2,50.1 167.2,50.3 198.9,56.2 190.6,43.2 169.3,42.0 181.4,55.4 190.3,31.6 187.5,65.4 179.5,32.0 168.5,30.2 163.5,66.9 182.4,56.3 190.5,66.4 182.5,54.7 183.2,57.9 181.8,57.2 164.6,56.7 175.6,60.5 159.6,37.3 156.7,61.0 196.1,56.2 171.6,62.9 190.4,52.5 166.6,42.1 174.0,42.7 174.4,55.7 197.0,32.2 180.5,31.6 160.3,62.4 180.9,66.7 175.1,30.6 172.4,53.7 197.2,69.2 176.4,46.5 159.6,55.8 164.6,36.1 155.7,30.2 185.8,34.9 198.5,33.5 194.1,35.2 201.0,40.8 213.6,41.0 210.5,30.8 243.3,40.7 247.9,40.9 204.7,39.4 239.7,36.9 252.2,33.8 254.0,40.8 200.6,30.2 236.4,42.3 204.5,34.7 240.8,32.5 248.2,37.3 203.3,35.5 232.2,36.6 140.3,32.2 143.9,35.4 139.3,39.4 132.5,35.8 143.6,44.2 143.5,38.5 128.8,30.9 149.2,40.5 144.8,35.0 182.3,27.0 224.5,26.7 126.7,26.5 235.1,26.5 197.1,26.7 236.6,26.8 122.0,26.2 118.2,26.5 178.7,26.9 235.0,26.2 224.8,26.8 231.2,26.7 120.2,26.9 219.9,26.7 239.9,26.5 84.9,26.6 218.1,26.4 209.3,26.9 112.8,26.7 195.7,26.6 107.6,26.4 209.5,26.8 155.0,26.3 219.8,26.8 112.5,26.7 236.7,26.9 166.6,26.6 179.2,26.4 105.0,26.3 200.1,26.5 174.5,26.5 165.7,26.3 77.3,27.0 138.9,26.3 187.3,26.8 98.2,26.7 133.5,26.6 72.8,26.2 254.2,26.9 159.9,26.7 117.9,26.8 148.7,27.0 212.5,26.9 249.2,26.4 76.1,26.4 102.8,26.3 78.5,26.6 231.8,26.6 246.1,26.9 81.0,26.7 143.3,26.3 248.4,26.4 174.6,26.7 247.9,26.7 142.5,26.6 98.9,27.0 254.5,26.4 76.2,26.4 134.8,26.9 238.2,26.9 77.8,26.8 201.7,26.7 253.3,26.2 96.1,26.8 244.7,26.7 124.9,26.7 210.7,26.3 129.6,26.4 92.2,26.6 100.5,26.4 95.8,26.7 71.4,26.8 105.5,26.2 242.5,26.4 243.7,26.9 235.2,26.3 152.6,26.3 242.7,26.9 186.5,26.6 132.5,26.9 158.3,26.7 95.7,26.4 79.6,26.8 172.5,26.3 231.8,26.4 146.0,26.3 119.7,26.9 131.6,26.3 160.8,26.5 237.9,26.3 252.0,26.2 236.4,26.7 108.5,26.6 122.5,26.4 106.7,26.5 254.3,27.0 242.0,26.3 123.1,26.9 79.7,26.8 123.9,27.0 72.0,26.8 132.7,26.3 69.4,26.9 167.5,26.3 150.4,26.9 109.8,26.7 94.8,26.3 213.1,26.8 105.8,26.3 85.3,26.7 161.7,26.4 107.5,26.7 201.4,26.8 178.0,26.4 81.3,26.8 145.3,26.8 79.4,26.8 131.7,26.9 230.7,26.6 71.9,26.9 158.1,26.9 118.8,26.3 224.5,26.5 99.6,26.5 180.2,26.2 166.2,26.6 165.4,26.3 202.6,26.9 230.8,26.5 202.0,26.5 209.5,26.2 232.2,27.0 161.5,26.6 168.2,26.6 72.9,27.0 110.8,26.3 88.2,26.4 221.8,26.2 87.0,26.8 105.5,26.2 181.1,26.7 166.8,26.8 88.2,26.9 203.1,26.2 92.0,26.6 162.6,26.4 91.8,26.5 94.6,26.7 230.0,26.3 176.1,26.8 99.7,26.9 244.3,26.5 147.6,26.9 167.3,26.5 245.0,26.8 132.3,26.4 131.7,26.5 252.5,26.8 239.7,26.9 227.5,26.2 165.7,27.0 243.7,26.4 147.9,26.7 137.1,26.6 82.0,26.5 163.4,26.2 95.1,27.0 214.2,26.9 187.4,26.8 234.4,26.9 75.4,26.7 118.7,26.7 120.1,26.6 241.9,26.7 115.9,26.6 150.1,27.0 122.8,26.4 190.1,26.3 180.1,27.0 165.1,26.4 156.2,26.6 96.8,26.3 93.6,26.4 145.0,26.4 114.5,26.3 171.2,26.9 183.1,26.7 80.2,104.5 80.8,104.7 79.0,104.8 78.2,104.5 75.7,104.5 78.6,104.6 79.4,104.3 76.9,105.0 75.6,104.7 94.0,104.5 96.0,104.5 95.1,104.4 102.9,105.0 107.7,104.3 107.0,104.7 111.6,104.4 104.9,105.1 111.6,104.4 106.4,104.6 131.8,104.8 133.5,105.0 130.2,104.9 132.4,104.9 129.8,104.9 132.1,105.0 141.7,105.0 139.1,104.9 151.3,104.7 159.2,104.8 147.8,104.9 157.3,104.8 147.0,104.7 204.0,104.9 188.1,104.6 213.3,104.6 190.9,104.9 241.6,104.7 202.6,104.4 189.2,104.4 215.2,104.8 168.4,105.0 191.1,105.0 240.5,105.1 179.6,104.6 247.4,104.3 164.6,104.8 207.7,105.0 234.3,104.7 255.8,104.7 209.7,104.8 197.4,104.6 217.1,104.6 251.0,104.8 210.4,104.4 195.9,104.6 213.9,104.8 244.5,105.1 206.7,104.7 220.0,105.1 193.0,104.7 238.3,104.4 190.5,105.1 239.3,104.7 170.6,105.0 226.2,105.0 255.1,105.0 200.4,104.4 187.8,104.7 208.5,104.5 177.5,104.8 217.9,104.6 255.4,104.8 164.1,104.6 235.6,104.5 226.3,104.3 189.2,105.0 216.3,104.8 178.9,104.7 213.1,104.5 222.1,104.7 255.7,104.8 199.5,104.4 175.0,104.9 170.2,104.4 176.4,104.7 239.0,104.8 237.4,104.3 161.2,104.9 191.0,104.9 194.0,104.4 185.6,104.4 246.8,104.8" fill="none" stroke="none" marker-start="url(#mt)" marker-mid="url(#mt)" marker-end="url(#mt)"/>
<path d="M69.9,58.7 C70.6,57.9 72.8,55.4 74.3,53.9 C75.8,52.4 77.4,50.8 79.0,49.9 C80.6,49.0 82.3,48.2 84.1,48.5 C85.9,48.8 88.0,50.2 89.6,51.4 C91.2,52.6 92.6,54.3 93.9,55.8 C95.2,57.3 96.3,59.0 97.7,60.6 C99.1,62.2 100.8,64.0 102.3,65.3 C103.8,66.6 105.3,67.5 107.0,68.2 C108.7,68.9 110.7,69.5 112.6,69.6 C114.5,69.7 116.5,69.4 118.4,68.9 C120.3,68.4 122.5,67.3 124.2,66.7 C125.9,66.1 127.0,65.7 128.6,65.3 C130.2,64.9 131.9,64.5 133.7,64.5 C135.5,64.5 137.6,65.0 139.6,65.5 C141.6,66.0 143.6,66.5 145.4,67.4 C147.2,68.3 148.8,70.1 150.5,71.1 C152.2,72.1 153.9,72.8 155.6,73.3 C157.3,73.8 158.7,74.1 160.5,74.3 C162.3,74.5 164.3,74.6 166.2,74.3 C168.1,74.0 170.1,73.2 172.0,72.6 C173.9,72.0 176.1,71.4 177.9,70.8 C179.7,70.2 181.4,69.5 183.0,68.9 C184.6,68.3 185.8,67.6 187.4,67.0 C189.0,66.4 190.8,66.0 192.5,65.5 C194.2,65.0 195.7,64.5 197.3,64.2 C198.9,63.9 200.3,63.3 202.0,63.4 C203.7,63.5 205.7,64.5 207.5,65.0 C209.3,65.5 211.1,66.0 212.9,66.4 C214.7,66.8 216.5,67.3 218.3,67.4 C220.1,67.5 222.0,67.3 223.9,67.0 C225.8,66.7 227.9,66.2 229.7,65.7 C231.5,65.2 233.1,64.5 234.8,64.1 C236.5,63.7 238.1,63.3 239.9,63.4 C241.7,63.5 243.9,63.9 245.8,64.5 C247.7,65.1 250.4,66.6 251.3,67.0" fill="none" stroke="#000" stroke-width="3.2" stroke-dasharray="3.1 2.7"/>
<polygon points="283.0,68.0 318.0,70.0 318.0,94.0 283.0,94.0" fill="url(#qt)"/>
<polygon points="330.0,42.0 350.0,42.0 350.0,56.0 330.0,56.0" fill="url(#qt)"/>
<polygon points="365.0,78.0 372.0,80.0 401.0,80.0 401.0,103.0 372.0,103.0 365.0,103.0" fill="url(#qt)"/>
<polygon points="436.0,84.0 465.0,84.0 465.0,100.0 436.0,100.0" fill="url(#qt)"/>
<polygon points="401.0,80.0 417.0,80.0 417.0,103.0 401.0,103.0" fill="url(#qt)"/>
<polygon points="276.0,43.0 281.0,41.2 283.0,40.5 290.0,40.0 297.0,38.5 304.5,40.0 312.0,41.0 316.0,42.0 319.0,42.5 323.5,43.0 328.6,49.2 328.6,88.6 323.5,88.0 319.0,86.0 316.0,80.0 312.0,72.0 304.5,70.0 297.0,68.0 290.0,67.0 283.0,70.0 281.0,88.0 276.0,88.0" fill="url(#pt)"/>
<polygon points="328.6,56.0 335.0,52.0 340.0,50.0 345.0,54.0 350.0,60.0 352.0,65.0 358.0,70.0 365.0,74.0 365.0,98.8 358.0,98.8 352.0,98.8 350.0,98.8 345.0,98.8 340.0,98.8 335.0,98.8 328.6,98.8" fill="url(#pt)"/>
<polygon points="417.5,62.5 427.0,62.5 427.0,100.0 417.5,100.0" fill="url(#pt)"/>
<polygon points="436.0,51.0 446.0,50.7 447.0,50.7 465.0,51.0 465.0,83.0 447.0,83.0 446.0,90.0 436.0,90.0" fill="url(#pt)"/>
<path d="M294.4,37.9 294.4,68.2 278.9,42.5 278.9,89.3 326.5,45.4 326.5,89.8 289.1,37.2 289.1,70.1 321.0,41.0 321.0,89.5 318.9,40.7 318.9,87.2 326.5,45.6 326.5,91.2 288.8,38.6 288.8,69.4 287.6,38.4 287.6,70.5 301.5,39.6 301.5,69.2 285.1,38.8 285.1,68.8 327.1,45.5 327.1,89.7 282.0,40.0 282.0,79.2 297.2,35.8 297.2,67.5 319.4,41.0 319.4,86.2 286.1,38.4 286.1,68.6 277.8,42.0 277.8,88.4 284.2,40.2 284.2,68.9 290.2,40.3 290.2,66.5 299.3,39.3 299.3,70.8 284.4,38.8 284.4,71.3 295.8,39.6 295.8,67.7 326.0,45.1 326.0,88.2 299.8,36.6 299.8,70.6 289.7,40.6 289.7,68.5 295.4,36.8 295.4,69.2 287.2,40.7 287.2,67.7 303.0,38.9 303.0,69.7 316.6,40.6 316.6,82.8 305.9,38.4 305.9,70.9 280.5,39.1 280.5,90.4 292.9,39.0 292.9,66.8 305.6,38.6 305.6,71.3 291.6,36.9 291.6,67.5 287.9,37.7 287.9,69.8 290.9,38.4 290.9,69.8 316.8,42.7 316.8,84.0 283.0,38.6 283.0,69.6 311.7,40.6 311.7,72.3 297.7,38.3 297.7,70.0 289.1,40.5 289.1,67.8 309.1,38.3 309.1,70.7 324.0,43.6 324.0,89.9 278.1,39.4 278.1,87.6 286.4,38.5 286.4,69.1 278.1,40.5 278.1,89.6 285.5,40.7 285.5,70.2 313.7,39.4 313.7,76.1 312.0,39.4 312.0,71.0 319.9,42.7 319.9,86.5 278.3,42.6 278.3,89.4 278.5,40.1 278.5,87.4 317.6,40.1 317.6,85.9 315.4,39.2 315.4,80.6 296.7,38.6 296.7,70.3 290.8,37.2 290.8,69.9 298.3,39.5 298.3,70.1 314.9,42.0 314.9,79.2 299.8,36.3 299.8,70.5 298.5,37.9 298.5,71.1 282.7,40.6 282.7,71.7 313.0,41.5 313.0,74.0 304.7,40.9 304.7,71.6 304.6,38.0 304.6,69.3 294.8,37.6 294.8,67.5 292.3,37.0 292.3,69.2 311.3,38.9 311.3,71.8 303.1,38.5 303.1,72.4 294.5,37.2 294.5,70.2 283.5,39.7 283.5,70.1 318.9,41.7 318.9,87.8 284.9,40.0 284.9,70.6 300.3,39.2 300.3,71.2 282.0,39.0 282.0,79.2 286.9,37.5 286.9,68.5 286.4,40.1 286.4,69.3 281.9,39.2 281.9,80.4 295.1,36.6 295.1,67.0 276.6,43.8 276.6,90.0 280.4,41.3 280.4,90.9 305.6,37.6 305.6,71.3 298.8,36.6 298.8,69.7 276.4,43.5 276.4,89.6 309.0,41.3 309.0,72.8 276.0,54.1 276.4,44.2 274.5,80.8 275.9,51.4 274.9,81.1 274.0,50.6 274.4,80.4 274.6,57.7 276.2,80.1 275.8,59.6 275.1,59.6 274.3,53.8 276.7,68.5 274.9,79.9 274.7,83.7 274.0,65.2 275.3,50.1 275.9,69.2 276.6,74.0 276.3,62.9 273.9,47.0 276.7,62.8 276.2,75.5 276.8,80.8 274.2,78.4 275.5,55.7 274.8,66.2 275.5,58.2 275.5,73.0 274.3,83.7 276.3,56.3 329.1,71.4 328.8,56.9 328.1,62.0 329.2,87.5 330.5,83.3 330.7,87.1 329.7,81.2 328.0,75.9 329.6,60.9 329.5,86.7 329.2,74.7 328.7,62.7 330.5,50.3 328.4,75.9 329.1,52.6 329.8,63.9 329.5,65.6 329.4,71.5 329.0,53.7 328.3,84.3 329.4,53.6 330.4,59.2 328.1,70.1 328.6,68.5 329.5,58.1 329.5,53.7 329.3,72.4 331.5,52.8 331.5,98.1 344.6,54.1 344.6,100.0 354.6,67.2 354.6,98.3 364.7,73.7 364.7,98.2 358.8,69.0 358.8,98.5 363.5,72.4 363.5,100.9 333.6,53.0 333.6,98.0 337.2,49.6 337.2,97.9 350.2,58.4 350.2,99.0 354.4,65.7 354.4,101.4 351.2,63.5 351.2,100.1 362.0,72.8 362.0,98.5 355.7,66.5 355.7,100.9 353.4,66.4 353.4,98.3 342.2,51.7 342.2,101.6 354.9,64.6 354.9,100.2 332.2,52.9 332.2,101.0 332.7,54.1 332.7,100.5 337.9,48.6 337.9,99.6 359.1,70.0 359.1,98.3 329.4,53.0 329.4,101.0 335.3,51.1 335.3,99.0 353.6,64.9 353.6,98.4 360.5,70.6 360.5,100.6 358.0,70.8 358.0,97.9 341.1,48.5 341.1,99.8 360.4,71.6 360.4,97.9 335.2,52.2 335.2,100.5 342.9,51.2 342.9,98.4 359.4,69.4 359.4,101.3 350.8,59.4 350.8,99.1 336.5,52.0 336.5,100.2 330.2,52.7 330.2,99.2 345.6,54.1 345.6,99.4 341.5,48.2 341.5,100.1 340.7,47.7 340.7,99.6 364.5,70.9 364.5,98.4 353.0,63.9 353.0,98.9 346.8,54.2 346.8,100.1 347.8,58.2 347.8,101.8 329.8,54.5 329.8,100.9 360.4,71.4 360.4,100.3 351.7,62.7 351.7,98.9 357.5,70.1 357.5,101.6 353.4,64.4 353.4,100.9 355.5,67.0 355.5,100.3 341.4,50.3 341.4,99.4 330.8,53.0 330.8,99.1 364.6,72.7 364.6,99.3 337.5,49.0 337.5,99.2 333.5,49.9 333.5,101.3 345.1,52.9 345.1,100.1 339.6,47.8 339.6,98.1 339.6,48.4 339.6,100.7 348.7,59.1 348.7,99.2 362.1,71.7 362.1,98.1 335.1,51.3 335.1,101.7 341.6,51.4 341.6,99.5 326.8,58.9 327.9,94.5 328.6,67.0 329.3,63.0 328.6,86.1 328.7,73.1 328.8,81.8 326.8,83.7 328.8,87.4 326.5,81.7 329.2,90.6 326.8,70.6 329.0,64.1 327.8,93.5 327.5,95.5 328.8,70.0 327.2,83.8 328.2,85.1 328.4,58.5 328.2,57.9 327.5,70.3 327.9,81.6 328.6,75.8 329.4,95.6 327.7,98.3 329.2,82.3 327.2,70.1 329.1,62.7 329.0,88.8 364.5,94.2 365.5,87.4 366.0,87.8 366.2,88.9 365.2,92.4 365.0,91.6 366.5,93.2 365.1,93.2 367.1,85.2 365.0,87.0 367.0,77.3 364.2,85.8 366.2,93.2 365.3,98.5 364.9,92.8 364.5,74.7 364.6,75.5 422.3,61.7 422.3,99.7 426.4,61.0 426.4,99.6 419.2,62.5 419.2,102.7 419.0,59.6 419.0,102.1 419.8,63.4 419.8,101.0 423.5,60.9 423.5,102.2 421.9,60.8 421.9,102.6 418.5,62.4 418.5,99.3 423.6,61.1 423.6,102.5 418.1,61.8 418.1,100.6 426.2,63.3 426.2,101.5 419.6,60.5 419.6,100.0 421.6,60.4 421.6,99.8 424.7,62.1 424.7,100.2 426.9,60.4 426.9,101.3 417.8,94.9 415.7,72.5 416.0,93.4 417.5,74.9 416.8,95.9 417.8,88.1 416.5,79.5 416.6,95.6 417.7,95.6 417.2,91.7 415.7,69.3 415.7,99.8 417.4,63.4 418.0,99.0 418.3,96.7 417.8,90.1 418.0,68.8 416.3,65.9 417.3,96.9 416.2,95.6 415.4,63.7 417.6,92.2 416.2,63.9 416.8,71.2 417.0,66.4 418.2,99.7 427.1,95.4 426.6,80.8 426.6,78.6 426.7,88.2 426.6,90.2 427.7,66.7 427.3,81.1 429.0,75.6 426.8,98.8 428.8,89.9 427.0,69.1 427.0,65.1 426.3,81.6 427.4,83.4 427.3,62.9 428.3,87.0 427.8,83.1 428.3,99.3 428.8,89.4 427.4,74.4 427.5,99.0 427.4,77.0 427.4,67.9 429.2,62.7 428.0,97.2 427.0,85.4 446.9,48.7 446.9,83.3 439.4,51.3 439.4,92.1 462.3,48.2 462.3,84.8 445.4,50.3 445.4,91.2 445.2,51.6 445.2,89.0 457.6,51.3 457.6,84.0 453.2,51.8 453.2,82.9 454.3,50.8 454.3,83.5 456.7,49.4 456.7,84.1 453.8,50.5 453.8,83.3 454.2,50.0 454.2,82.9 453.8,48.9 453.8,85.6 449.7,50.6 449.7,84.1 449.8,48.6 449.8,82.6 462.9,50.1 462.9,84.1 451.3,51.0 451.3,83.0 441.0,51.1 441.0,90.8 454.6,51.1 454.6,85.6 461.2,48.1 461.2,83.5 460.1,51.2 460.1,82.5 440.5,48.9 440.5,89.4 446.3,50.9 446.3,88.7 449.1,48.1 449.1,83.6 464.9,50.8 464.9,83.8 449.9,50.9 449.9,85.0 440.3,50.6 440.3,90.5 451.1,48.7 451.1,83.5 445.9,49.2 445.9,89.1 441.8,50.1 441.8,89.2 441.2,50.7 441.2,90.1 445.4,48.7 445.4,92.3 438.6,50.5 438.6,92.4 441.8,49.5 441.8,92.2 453.9,49.3 453.9,82.2 448.8,49.2 448.8,84.9 444.6,49.4 444.6,91.6 459.5,49.3 459.5,83.5 452.8,51.5 452.8,82.8 464.2,50.8 464.2,83.5 455.3,49.2 455.3,82.3 457.9,49.4 457.9,84.1 450.4,51.4 450.4,85.0 436.7,50.3 436.7,90.9 449.4,51.1 449.4,83.7 449.7,51.3 449.7,83.8 450.2,49.8 450.2,85.3 434.8,79.9 435.6,52.6 434.8,72.6 434.5,81.0 436.4,59.6 436.6,82.9 436.5,54.4 434.5,73.0 436.6,77.6 434.7,69.8 436.6,77.9 435.5,73.8 433.8,82.9 434.2,56.7 435.8,71.2 436.8,89.6 436.0,61.2 435.9,60.9 434.2,72.7 435.3,67.4 436.6,62.9 434.2,82.3 434.2,61.0 436.2,53.0 435.2,65.6 435.4,70.1 435.0,65.3 466.6,57.4 467.0,68.8 464.4,61.1 465.8,64.1 465.9,61.4 465.0,76.5 465.1,73.7 466.6,69.9 465.6,80.9 465.5,79.1 464.4,64.9 466.1,52.6 466.8,53.3 466.0,56.8 467.0,69.0 466.6,66.9 466.2,72.6 465.1,57.8 466.7,55.7 467.0,57.6 464.5,54.0 466.6,81.4 299.0,35.6 290.7,38.1 313.4,30.5 280.0,36.0 279.2,37.4 292.6,31.3 307.8,32.2 306.7,30.5 325.3,32.2 321.6,30.5 319.4,38.8 297.7,29.3 358.1,51.4 355.6,48.1 353.5,45.3 363.7,44.0 362.9,33.0 365.3,33.3 366.8,63.9 367.0,47.4 356.7,41.2 364.0,46.4 366.9,32.3 359.8,59.2 361.6,47.9 353.4,33.9 356.3,60.3 365.5,37.0 433.0,30.6 411.5,76.4 394.7,75.3 415.3,31.5 394.0,51.0 388.3,65.4 383.8,67.6 391.7,32.4 408.9,33.7 408.4,67.6 411.3,51.6 374.2,54.2 378.4,60.7 380.7,57.3 395.3,47.4 415.8,37.0 383.2,75.1 393.9,70.3 429.6,52.5 381.8,33.6 430.0,34.7 404.7,55.3 379.8,51.9 382.8,55.2 405.4,47.0 385.0,48.8 385.4,35.2 387.8,71.7 405.1,72.6 373.0,75.2 404.2,67.8 409.6,62.8 387.1,65.8 382.1,41.9 374.0,48.3 406.2,43.3 430.8,33.1 410.2,40.5 411.3,67.4 418.9,32.0 388.2,58.4 436.9,31.0 412.8,62.9 425.8,45.8 425.5,51.6 432.8,29.5 434.1,49.2 398.9,33.3 388.2,65.0 416.8,36.4 394.7,35.9 385.1,39.8 393.8,76.8 437.8,67.8 403.7,53.4 423.4,73.5 421.6,60.2 385.1,59.6 427.8,67.5 378.1,64.2 395.0,36.9 435.7,62.0 421.2,35.6 426.7,74.9 431.7,65.5 426.9,68.3 411.0,50.3 426.5,67.4 429.5,43.6 435.4,55.1 434.4,34.7 435.9,67.6 429.5,97.6 429.3,80.3 431.6,81.4 431.9,99.5 433.9,94.2 430.9,96.2 434.9,93.4 436.4,97.3 431.1,77.4 433.5,97.6 430.4,91.1 435.4,96.4 427.0,88.2 427.2,78.0 435.1,86.3 433.0,87.4 338.7,26.4 342.1,26.9 390.9,26.4 293.2,26.4 406.0,26.6 398.6,26.8 299.2,26.7 284.6,26.9 310.9,26.4 453.2,26.5 318.3,26.9 389.3,26.9 349.6,26.6 452.9,26.6 458.9,26.4 429.8,26.3 374.0,26.2 309.3,27.0 360.6,26.8 323.1,26.5 295.6,26.6 435.7,26.6 346.3,26.9 441.5,26.7 291.0,26.7 358.7,27.0 343.6,26.7 393.3,26.5 373.1,26.7 443.9,26.6 343.9,27.0 287.5,26.9 402.8,26.6 359.4,26.8 441.0,26.8 415.0,26.2 336.8,26.3 452.3,26.9 303.6,26.7 383.1,26.2 349.2,26.8 395.0,26.4 417.3,26.4 377.1,26.5 457.0,26.7 425.1,26.7 347.0,27.0 407.6,26.8 328.1,26.3 382.8,26.9 423.0,26.5 302.7,26.6 438.4,26.3 412.9,26.3 334.4,26.2 331.8,26.5 454.9,27.0 311.4,26.4 450.6,26.4 336.0,26.6 297.0,26.4 349.5,26.5 454.3,26.4 314.5,26.9 359.8,26.9 394.2,26.8 334.9,26.3 416.3,26.6 379.8,26.7 415.5,26.4 343.7,26.9 374.4,26.4 393.0,26.4 418.9,26.2 429.1,26.7 342.1,27.0 325.9,26.4 289.9,26.6 415.7,26.7 352.9,26.8 297.5,26.4 395.6,27.0 393.6,26.8 419.5,26.5 450.0,26.8 339.9,26.5 425.3,26.5 311.2,26.9 374.8,26.6 400.2,26.9 301.6,26.5 289.1,26.5 369.4,26.9 399.9,26.7 351.3,26.7 327.4,26.9 422.1,26.9 304.8,26.7 415.8,26.6 442.3,26.9 413.7,26.9 396.4,26.9 301.2,26.8 406.5,26.7 327.6,26.3 388.0,26.9 327.2,26.4 318.2,26.3 401.4,27.0 424.6,26.5 405.7,26.3 431.3,26.5 277.6,26.7 302.5,26.4 287.9,26.6 379.1,26.8 284.3,26.9 297.3,26.4 392.8,26.5 337.9,26.7 317.1,26.8 315.5,26.9 425.8,26.6 282.6,26.8 282.2,26.6 355.0,26.3 392.9,26.8 384.6,26.5 371.2,26.7 318.6,26.9 460.2,26.8 453.9,26.5 458.5,26.3 364.9,26.3 360.5,26.7 407.3,26.6 339.9,26.4 351.1,26.4 312.7,26.8 372.0,26.6 313.4,26.8 313.2,26.4 380.1,26.8 456.0,26.8 451.5,26.9 409.9,26.8 288.5,26.4 279.4,26.9 409.8,26.7 325.5,26.5 307.1,26.7 459.4,26.4 285.1,26.3 342.4,26.9 425.0,26.6 295.8,26.3 305.3,26.8 363.7,27.0 444.8,26.8 364.6,26.9 300.6,26.3 380.7,26.6 315.5,26.4 280.9,26.9 407.7,27.0 457.4,26.5 411.8,26.5 426.4,26.9 301.6,26.2 316.4,26.7 346.7,26.2 429.8,26.8 362.3,26.2 440.6,26.6 290.1,26.5 391.9,26.9 366.2,26.7 314.9,26.4 443.7,26.5 296.1,26.7 300.2,26.4 361.0,26.7 394.1,26.8 357.9,26.3 281.6,104.3 280.4,104.6 281.4,104.9 279.2,104.8 293.5,104.7 290.7,105.0 293.0,104.4 303.9,105.1 303.8,104.6 308.3,105.0 307.1,104.9 320.2,104.4 325.9,104.9 320.2,104.3 321.4,105.0 333.6,104.8 348.5,104.8 348.3,104.5 332.2,104.3 344.9,104.4 349.4,104.9 332.9,104.9 332.4,104.7 331.2,104.9 347.7,105.0 329.0,105.0 340.7,105.0 339.6,104.8 341.5,104.9 330.6,104.3 378.7,104.5 371.5,104.3 388.5,104.3 392.7,104.9 374.4,104.4 383.9,104.5 373.0,104.4 399.8,104.7 369.3,104.4 387.8,105.0 393.6,104.4 370.0,104.5 389.4,104.4 381.7,105.1 389.7,104.3 355.7,104.4 385.9,104.8 377.5,104.7 372.0,104.8 383.8,105.0 387.9,104.9 396.7,105.0 387.1,104.3 385.4,105.0 373.1,105.0 360.8,105.1 373.6,104.9 364.4,104.5 369.1,104.6 356.6,104.7 412.9,104.8 412.6,104.9 412.0,105.1 422.3,104.5 418.7,104.6 417.1,104.5 423.2,105.0 438.5,104.9 454.1,105.0 454.8,104.7 430.7,105.0 438.0,104.8 439.8,104.7 460.8,104.4 445.6,104.8 445.8,105.1 441.3,105.0 451.1,105.1 430.1,104.5 437.1,105.0 427.5,104.5 452.1,105.1 433.2,104.7 451.0,104.9 453.1,104.9 435.7,104.5 428.0,104.9 434.3,104.5 460.8,104.8 447.7,104.8 447.9,104.9 437.6,104.4 429.3,104.3 439.7,104.4" fill="none" stroke="none" marker-start="url(#mt)" marker-mid="url(#mt)" marker-end="url(#mt)"/>
<path d="M278.2,62.3 C279.1,61.6 281.6,59.4 283.3,58.2 C285.0,57.0 286.8,55.8 288.4,55.0 C290.0,54.2 291.2,53.7 292.8,53.3 C294.4,52.9 296.1,52.3 297.9,52.4 C299.7,52.5 301.9,53.5 303.8,53.9 C305.8,54.3 307.7,54.3 309.6,54.7 C311.5,55.1 313.4,55.4 315.4,56.2 C317.3,57.0 319.6,58.1 321.3,59.4 C323.0,60.7 324.5,62.2 325.7,63.8 C326.9,65.4 327.5,67.2 328.6,68.9 C329.7,70.6 330.9,72.5 332.2,74.0 C333.5,75.5 334.9,77.1 336.6,78.1 C338.3,79.1 340.6,79.6 342.5,80.1 C344.4,80.6 346.4,81.0 348.3,81.3 C350.2,81.6 352.2,82.0 354.1,82.0 C356.1,82.0 358.1,81.6 360.0,81.3 C361.9,81.0 363.2,80.5 365.5,79.9 C367.8,79.3 371.2,78.6 373.5,77.7 C375.8,76.8 377.4,75.7 379.3,74.7 C381.2,73.7 383.2,72.7 385.1,71.8 C387.1,70.9 389.1,70.1 391.0,69.3 C392.9,68.5 394.9,67.7 396.8,67.0 C398.8,66.3 400.8,65.6 402.7,65.0 C404.6,64.4 406.6,63.9 408.5,63.5 C410.4,63.1 412.4,62.9 414.3,62.8 C416.2,62.6 418.5,62.4 420.2,62.6 C421.9,62.8 422.9,63.2 424.6,63.8 C426.3,64.4 428.5,65.4 430.4,66.0 C432.3,66.6 434.4,67.0 436.2,67.4 C438.0,67.8 439.5,68.2 441.3,68.6 C443.1,69.0 445.2,69.4 447.2,69.6 C449.1,69.8 450.9,69.9 453.0,69.9 C455.1,69.9 458.5,69.6 459.6,69.6" fill="none" stroke="#000" stroke-width="3.2" stroke-dasharray="3.1 2.7"/>
<polygon points="484.0,74.0 671.0,72.0 671.0,103.0 484.0,103.0" fill="url(#qt)"/>
<polygon points="484.0,44.8 487.7,40.4 490.6,45.2 492.1,47.7 497.9,43.5 502.3,40.4 503.7,41.1 508.1,43.4 514.0,40.4 516.9,39.0 518.3,39.6 524.2,41.9 528.6,40.2 534.4,38.1 535.9,37.5 538.8,39.7 541.7,41.9 544.6,44.2 549.0,47.7 553.4,49.5 556.3,50.7 560.0,50.7 565.0,50.7 566.0,52.0 569.4,56.5 576.0,52.1 580.0,52.1 586.0,55.0 593.0,50.7 600.4,47.7 604.0,49.0 607.0,50.0 609.0,50.7 618.0,47.7 624.0,50.7 631.0,49.2 638.4,49.2 645.7,53.6 651.5,49.2 656.0,49.2 661.8,39.0 667.6,36.0 670.5,41.9 671.2,45.0 671.2,72.0 670.5,72.2 667.6,72.8 661.8,74.2 656.0,75.5 651.5,82.0 645.7,78.4 638.4,80.0 631.0,84.0 624.0,82.0 618.0,82.0 609.0,84.0 607.0,78.0 604.0,78.0 600.4,84.0 593.0,84.0 586.0,86.0 580.0,86.0 576.0,86.0 569.4,86.0 566.0,86.0 565.0,86.7 560.0,90.0 556.3,92.8 553.4,95.0 549.0,93.0 544.6,96.0 541.7,96.0 538.8,96.0 535.9,92.0 534.4,90.0 528.6,82.0 524.2,88.0 518.3,84.0 516.9,78.5 514.0,67.0 508.1,68.2 503.7,78.0 502.3,77.4 497.9,75.5 492.1,75.9 490.6,76.0 487.7,77.8 484.0,80.0" fill="url(#pt)"/>
<path d="M505.1,40.8 505.1,77.7 612.7,47.6 612.7,85.3 517.3,36.6 517.3,80.3 560.6,50.5 560.6,90.4 620.3,46.2 620.3,84.7 548.1,47.3 548.1,92.7 639.1,47.6 639.1,82.3 634.3,48.9 634.3,82.3 485.8,40.4 485.8,81.5 513.6,40.3 513.6,68.4 607.8,48.0 607.8,79.9 502.2,41.4 502.2,77.9 606.1,49.0 606.1,77.9 496.1,41.9 496.1,78.0 508.3,44.1 508.3,68.6 619.3,45.9 619.3,84.2 531.1,37.8 531.1,86.6 504.9,39.7 504.9,77.6 537.4,37.2 537.4,96.2 525.9,39.0 525.9,85.5 555.9,49.0 555.9,94.7 572.3,55.0 572.3,85.2 608.2,50.8 608.2,81.6 489.5,42.1 489.5,76.1 570.1,55.9 570.1,85.4 506.0,41.3 506.0,72.5 527.2,39.5 527.2,83.4 496.7,42.8 496.7,76.5 659.3,42.6 659.3,74.0 525.6,41.3 525.6,87.3 646.9,53.5 646.9,81.6 504.6,42.4 504.6,77.1 528.9,37.8 528.9,84.8 523.8,39.1 523.8,87.8 657.0,46.3 657.0,77.2 497.9,42.3 497.9,75.8 522.4,40.9 522.4,87.3 506.4,43.5 506.4,72.9 517.7,36.4 517.7,83.2 580.3,49.4 580.3,86.9 622.6,49.2 622.6,81.9 577.4,51.5 577.4,87.6 511.2,42.1 511.2,70.4 622.6,50.4 622.6,82.5 653.0,46.9 653.0,79.8 595.9,50.1 595.9,83.3 524.6,38.9 524.6,88.2 510.3,40.1 510.3,69.7 593.2,51.4 593.2,84.6 611.1,47.0 611.1,86.3 527.6,39.5 527.6,84.4 661.5,38.5 661.5,77.2 600.3,45.6 600.3,86.3 521.8,41.9 521.8,87.2 526.4,41.9 526.4,85.3 560.2,49.1 560.2,91.6 488.3,39.9 488.3,77.0 639.0,46.6 639.0,81.3 532.3,37.7 532.3,88.3 617.2,45.5 617.2,82.1 506.6,43.4 506.6,71.2 509.7,41.7 509.7,69.2 650.0,47.6 650.0,81.0 515.4,39.1 515.4,73.2 560.6,51.3 560.6,91.3 645.0,54.0 645.0,78.6 660.3,40.2 660.3,73.7 655.2,46.6 655.2,75.7 538.2,37.4 538.2,98.1 646.9,51.3 646.9,80.3 642.9,52.1 642.9,80.6 580.0,49.6 580.0,86.0 607.2,49.4 607.2,80.8 652.2,50.0 652.2,80.7 498.2,43.9 498.2,76.9 518.0,39.2 518.0,82.8 528.3,38.8 528.3,83.5 610.8,47.4 610.8,85.6 600.9,46.7 600.9,84.9 633.7,46.2 633.7,83.5 610.9,49.9 610.9,85.2 517.7,40.2 517.7,83.9 527.6,39.3 527.6,86.2 522.8,40.0 522.8,89.9 652.5,47.1 652.5,82.5 551.3,48.3 551.3,96.1 507.9,41.2 507.9,68.5 533.8,35.4 533.8,88.7 560.0,49.4 560.0,89.3 593.0,51.5 593.0,85.3 550.6,48.2 550.6,94.5 516.8,38.0 516.8,77.3 610.5,47.8 610.5,84.1 664.2,37.8 664.2,76.0 604.2,48.6 604.2,79.8 664.9,35.2 664.9,75.5 540.3,38.9 540.3,98.3 596.5,49.7 596.5,86.5 594.2,48.0 594.2,83.1 584.1,54.0 584.1,86.1 497.1,41.1 497.1,75.2 614.3,46.0 614.3,82.7 533.6,38.2 533.6,91.9 487.6,38.0 487.6,80.5 665.6,34.6 665.6,73.6 581.8,51.2 581.8,86.7 573.6,51.7 573.6,85.2 499.7,39.9 499.7,75.6 600.8,47.6 600.8,83.3 632.2,49.1 632.2,83.7 576.1,49.9 576.1,88.7 588.9,50.4 588.9,84.8 613.7,47.7 613.7,84.8 526.9,41.1 526.9,86.5 501.6,40.2 501.6,76.9 616.5,48.4 616.5,84.5 527.3,38.1 527.3,85.4 589.8,50.2 589.8,84.7 593.0,48.1 593.0,85.5 529.1,38.1 529.1,83.4 583.8,53.8 583.8,85.1 619.6,46.4 619.6,82.2 603.8,48.6 603.8,79.8 652.8,47.0 652.8,80.3 608.0,48.4 608.0,80.7 526.4,41.2 526.4,87.4 618.1,48.6 618.1,84.2 542.0,40.4 542.0,97.9 494.4,45.5 494.4,75.1 493.2,46.0 493.2,75.4 658.4,45.5 658.4,75.8 521.0,38.1 521.0,86.9 581.6,51.3 581.6,87.9 583.1,53.7 583.1,85.4 497.1,42.7 497.1,76.5 531.3,38.9 531.3,85.6 543.6,42.3 543.6,97.8 628.2,48.3 628.2,84.0 657.6,47.0 657.6,76.6 503.6,39.9 503.6,79.5 536.2,34.8 536.2,95.3 654.3,46.7 654.3,78.8 599.9,46.1 599.9,83.3 624.5,50.7 624.5,82.9 500.0,40.6 500.0,75.8 664.4,34.9 664.4,73.7 627.8,47.4 627.8,82.5 497.2,41.7 497.2,76.7 640.0,47.8 640.0,79.4 627.2,48.7 627.2,83.3 507.1,40.8 507.1,73.4 505.9,40.3 505.9,75.1 650.9,50.2 650.9,82.5 663.0,37.8 663.0,74.0 571.1,55.2 571.1,87.9 508.3,41.1 508.3,71.0 504.0,41.5 504.0,77.6 530.4,37.6 530.4,85.4 669.4,37.3 669.4,74.8 544.1,41.5 544.1,98.0 547.9,44.6 547.9,94.4 637.8,49.7 637.8,81.6 485.9,42.5 485.9,80.2 652.4,50.0 652.4,81.1 642.8,52.2 642.8,79.1 552.5,47.6 552.5,95.0 554.8,47.5 554.8,93.8 654.3,47.8 654.3,79.5 650.1,50.3 650.1,81.1 656.1,49.2 656.1,78.4 620.3,48.9 620.3,84.3 531.4,38.8 531.4,86.4 641.2,48.4 641.2,80.5 547.0,46.4 547.0,94.8 642.0,51.7 642.0,81.7 510.0,43.2 510.0,69.8 610.7,49.7 610.7,82.8 646.9,51.9 646.9,80.0 547.5,46.7 547.5,96.1 646.8,50.6 646.8,79.5 530.7,36.9 530.7,85.2 488.9,42.5 488.9,77.0 497.2,41.3 497.2,77.5 521.1,39.5 521.1,86.5 634.2,50.0 634.2,82.5 602.4,49.0 602.4,81.6 652.4,49.1 652.4,80.9 647.6,51.4 647.6,79.0 594.0,50.6 594.0,85.1 574.6,51.7 574.6,88.5 608.6,48.4 608.6,83.2 552.0,49.8 552.0,96.1 507.4,43.7 507.4,69.0 594.6,48.8 594.6,85.9 564.4,48.1 564.4,88.2 637.6,49.4 637.6,80.9 525.6,41.3 525.6,88.3 525.0,42.1 525.0,89.9 565.1,49.4 565.1,88.4 658.1,43.4 658.1,75.2 545.6,44.9 545.6,95.1 586.4,53.8 586.4,87.6 510.8,42.9 510.8,70.6 589.0,53.3 589.0,84.9 654.4,48.4 654.4,79.9 646.6,51.4 646.6,81.6 522.8,38.4 522.8,88.1 652.2,49.8 652.2,83.8 579.6,52.8 579.6,87.2 510.9,41.5 510.9,69.8 563.3,50.1 563.3,87.8 535.7,36.3 535.7,92.8 571.7,52.4 571.7,85.0 547.7,46.5 547.7,95.9 528.4,38.4 528.4,83.4 516.8,38.4 516.8,80.9 521.8,40.3 521.8,88.3 624.3,50.5 624.3,83.9 535.0,38.2 535.0,93.5 493.8,47.2 493.8,76.5 500.2,39.2 500.2,78.7 610.9,47.7 610.9,84.4 603.6,49.8 603.6,79.1 627.5,47.9 627.5,82.8 514.2,39.0 514.2,69.2 540.8,38.8 540.8,95.9 499.9,39.9 499.9,76.6 578.5,49.8 578.5,86.9 566.3,53.4 566.3,86.9 660.9,39.5 660.9,74.2 594.8,47.5 594.8,83.7 497.7,43.5 497.7,78.4 559.5,49.1 559.5,91.1 549.9,47.8 549.9,94.0 512.5,41.6 512.5,68.6 485.2,43.8 485.2,81.2 550.4,47.8 550.4,96.3 559.2,49.4 559.2,90.8 587.8,53.6 587.8,87.4 661.7,36.7 661.7,74.6 643.4,52.4 643.4,80.3 610.8,48.5 610.8,86.4 586.8,53.1 586.8,85.5 505.6,42.7 505.6,76.0 489.0,40.9 489.0,77.9 576.8,50.6 576.8,88.6 549.5,47.0 549.5,95.9 603.7,47.7 603.7,78.9 556.5,50.1 556.5,94.8 532.8,37.2 532.8,88.3 551.9,49.6 551.9,95.5 535.6,35.9 535.6,94.0 514.0,40.2 514.0,66.1 520.2,37.5 520.2,87.5 511.5,39.6 511.5,66.7 533.4,38.4 533.4,90.5 654.4,50.0 654.4,79.0 656.6,45.5 656.6,78.1 565.3,48.8 565.3,88.5 644.7,51.6 644.7,78.0 647.4,52.3 647.4,80.9 666.9,33.5 666.9,72.2 507.3,40.1 507.3,71.9 602.0,45.7 602.0,81.1 517.9,38.8 517.9,84.0 665.5,35.5 665.5,76.2 565.3,49.7 565.3,86.5 527.6,41.5 527.6,86.4 616.1,46.0 616.1,82.1 512.5,39.6 512.5,69.3 495.0,44.7 495.0,77.4 490.3,43.4 490.3,78.4 591.8,50.3 591.8,86.9 596.5,47.6 596.5,84.6 660.6,41.6 660.6,77.1 589.0,50.7 589.0,84.8 555.8,50.2 555.8,92.2 634.1,49.3 634.1,83.4 485.1,43.7 485.1,80.0 609.3,49.9 609.3,85.8 560.5,51.5 560.5,92.5 657.9,45.3 657.9,75.3 554.5,48.0 554.5,96.8 632.3,49.4 632.3,85.6 669.5,39.6 669.5,72.7 625.8,48.4 625.8,84.0 513.7,41.0 513.7,68.0 535.5,38.3 535.5,90.8 658.1,45.5 658.1,74.6 626.5,49.5 626.5,85.3 593.8,49.1 593.8,86.7 500.3,41.9 500.3,76.0 535.8,35.0 535.8,94.4 566.7,52.9 566.7,86.0 620.7,48.7 620.7,81.4 576.4,52.0 576.4,85.9 606.5,47.9 606.5,78.5 656.2,49.6 656.2,78.4 563.9,50.0 563.9,89.6 482.5,60.9 482.2,58.9 481.9,61.4 484.4,71.2 484.4,68.7 484.6,79.6 483.2,70.9 484.4,67.2 483.7,53.6 482.4,46.0 483.4,47.9 482.2,76.2 484.7,61.2 483.4,70.1 482.6,56.9 482.0,51.3 484.4,73.5 484.4,51.3 483.3,56.6 484.3,77.5 483.4,72.5 484.0,76.9 484.1,76.7 483.0,79.0 672.7,62.0 672.0,68.1 671.7,47.7 673.1,66.8 672.4,65.1 671.1,57.5 672.9,71.0 673.2,49.3 672.5,60.0 671.6,49.5 670.8,57.7 671.9,52.2 671.5,60.0 672.7,60.9 670.9,68.9 671.5,70.9 673.3,48.8 672.1,71.1 497.9,89.8 495.3,75.8 491.4,78.3 494.2,92.0 504.3,100.6 508.7,84.8 518.2,92.1 503.6,98.3 508.1,84.7 505.8,83.1 518.9,81.6 519.0,76.7 484.4,89.9 491.4,88.7 488.3,97.6 508.1,93.5 517.4,101.8 508.4,94.3 484.1,76.3 499.4,101.2 495.3,90.3 484.3,86.2 516.5,90.9 513.7,75.4 491.3,79.8 514.0,77.7 517.6,82.2 515.7,88.9 495.6,101.1 498.6,93.8 486.4,97.4 519.3,78.0 510.9,82.3 489.3,84.8 507.8,100.7 519.8,101.8 506.4,92.6 489.8,94.6 503.8,84.7 516.4,81.9 520.2,32.2 520.7,40.8 563.1,32.2 543.7,40.5 547.4,37.3 546.3,29.3 514.8,37.5 526.4,44.1 526.7,45.5 526.7,30.9 542.0,36.8 532.8,44.3 525.5,42.4 565.3,38.1 543.7,47.5 550.3,32.6 515.5,30.6 532.6,30.8 553.2,37.5 531.1,39.2 571.9,33.9 521.1,35.1 532.1,47.2 556.9,37.6 592.1,29.9 588.9,45.9 627.3,32.1 625.6,30.2 617.0,35.7 587.5,43.8 632.3,39.2 592.3,42.4 611.6,42.2 586.7,47.1 580.3,33.5 609.1,33.0 586.4,42.7 652.6,35.7 599.4,42.4 596.2,37.0 630.3,37.6 591.4,30.4 619.6,48.8 647.2,31.0 616.7,38.8 594.2,42.4 616.2,45.2 601.3,47.7 668.2,88.7 658.1,89.0 657.9,94.9 666.5,91.8 670.6,76.3 666.7,98.2 657.7,84.3 656.8,91.9 666.8,85.1 666.4,85.6 666.7,83.0 670.7,87.7 656.1,77.7 666.9,100.1 665.6,79.5 669.1,95.8 657.7,86.0 666.1,75.1 656.6,85.3 669.1,103.9 660.8,101.4 667.8,100.1 664.8,103.1 665.7,102.5 664.5,80.7 663.8,89.0 661.1,85.8 663.7,92.1 659.3,83.0 663.5,89.6 662.3,94.3 658.8,90.4 660.1,97.3 666.6,97.6 663.8,82.2 668.7,37.2 651.6,33.6 652.5,40.3 665.4,36.7 662.7,32.4 654.0,34.7 649.5,34.8 663.4,40.7 646.4,32.7 664.3,39.5 661.0,39.2 661.5,33.4 485.4,26.5 484.7,27.0 496.1,26.7 506.2,26.8 489.3,26.5 486.5,26.8 501.0,26.6 492.5,26.4 495.2,26.8 504.6,26.9 504.0,26.6 493.7,26.5 506.4,26.3 487.6,26.4 505.2,26.9 491.6,26.9 504.5,26.5 488.4,26.8 492.6,26.3 504.8,26.6 493.1,26.7 489.9,26.2 493.0,26.5 511.7,26.5 560.5,26.5 555.2,26.7 523.2,26.2 554.8,26.7 530.1,26.4 566.6,26.9 526.2,26.7 548.4,26.5 513.4,26.5 552.9,26.7 544.2,26.3 524.8,26.4 538.1,26.5 569.6,26.3 575.1,26.4 566.7,26.4 549.2,26.5 513.5,26.8 563.7,26.4 561.5,26.6 575.2,26.2 535.7,26.4 551.6,26.8 565.7,26.6 536.2,26.8 517.8,26.4 559.9,26.6 575.5,26.3 541.0,26.4 511.1,26.3 516.9,26.5 539.1,26.6 529.8,26.8 544.5,27.0 522.0,26.6 543.1,26.5 567.0,26.4 568.0,26.5 532.8,26.7 547.6,26.4 516.5,27.0 535.0,26.3 553.7,26.6 532.3,26.5 565.9,26.5 538.1,27.0 534.5,26.5 521.5,26.7 554.2,26.6 537.4,26.4 562.3,26.6 565.1,26.5 558.7,26.2 525.3,27.0 555.4,26.7 543.3,26.6 523.8,26.3 552.9,26.8 527.8,26.7 519.9,26.7 522.2,26.6 531.4,26.6 519.7,26.6 551.1,26.3 587.1,26.2 592.6,26.2 597.9,26.2 585.1,26.1 599.1,26.2 597.3,26.0 590.3,26.5 598.9,26.2 582.4,26.2 580.8,26.4 602.4,26.3 586.2,26.4 584.1,26.4 592.0,25.7 600.5,26.1 599.1,26.3 592.3,26.4 584.7,26.4 587.8,25.7 587.7,25.8 581.7,26.2 582.8,25.8 586.7,25.9 646.7,26.4 644.7,26.5 627.0,26.3 620.5,26.4 642.2,26.3 618.3,25.8 646.9,26.1 634.1,26.4 614.9,26.3 628.0,26.3 627.7,25.9 648.2,25.9 639.5,26.4 619.2,26.3 625.2,25.9 617.9,26.5 624.1,26.1 629.6,25.7 639.9,26.3 644.9,26.0 617.6,26.0 639.0,26.2 625.6,26.1 615.3,26.4 628.3,26.1 641.3,25.9 638.6,26.0 642.3,25.8 620.3,26.2 628.8,26.0 632.7,25.9 626.9,25.7 641.7,25.9 643.1,26.1 633.7,26.2 614.1,26.3 621.0,26.4 641.2,26.2 642.4,26.0 636.6,26.5 616.8,25.8 660.4,26.1 655.7,25.9 668.6,26.0 655.7,25.8 663.4,25.9 661.6,26.1 660.9,26.1 668.1,25.7 669.7,25.9 653.7,26.3 663.3,26.1 656.9,26.3 658.5,26.3 657.1,26.2 664.7,26.0 661.6,25.8 664.6,26.3 655.8,26.1 492.8,104.4 494.1,105.0 484.6,104.5 485.0,104.5 485.0,104.7 487.0,104.5 489.5,104.6 517.4,104.9 532.9,104.5 531.1,104.6 532.8,104.9 544.3,105.1 534.6,104.3 543.9,104.6 546.8,104.6 536.3,104.4 547.1,104.7 538.5,104.6 544.1,105.0 539.1,104.4 575.2,105.0 575.3,104.8 584.7,104.7 585.6,104.5 584.6,105.0 555.0,104.6 604.6,105.1 550.8,104.8 589.2,105.0 579.1,104.4 568.6,104.9 595.2,104.5 589.8,104.8 590.8,104.3 577.4,104.6 587.0,104.6 557.9,104.8 567.8,104.9 569.0,104.7 600.1,104.4 595.3,104.4 608.0,104.3 594.9,104.6 561.1,104.6 581.1,104.6 557.6,104.7 568.6,105.1 573.8,104.6 564.1,105.1 569.9,104.8 601.6,104.6 596.8,104.5 556.8,104.3 577.8,105.0 562.6,104.7 597.3,104.5 559.5,104.7 576.4,105.1 605.6,104.5 584.8,104.6 552.1,104.7 606.8,104.5 586.3,104.9 553.9,105.0 556.8,104.5 633.7,104.3 626.3,104.4 628.4,104.3 621.3,104.5 619.8,104.4 622.3,104.7 621.0,105.0 627.2,104.5 623.3,105.0 619.0,104.9 620.1,105.1 627.0,104.8 637.0,104.4 619.4,104.9 630.9,104.9 655.1,104.7 653.1,104.6 655.2,104.8 655.6,104.5 663.1,104.4 666.6,104.7 654.0,104.4 660.2,104.7 664.8,104.6 658.1,105.0 655.0,105.1 668.6,105.1 669.8,104.5 666.9,104.8 653.5,105.1" fill="none" stroke="none" marker-start="url(#mt)" marker-mid="url(#mt)" marker-end="url(#mt)"/>
<path d="M486.2,62.3 C487.1,62.1 489.5,61.6 491.3,61.2 C493.1,60.8 495.2,60.1 497.2,59.7 C499.1,59.3 501.2,59.0 503.0,58.7 C504.8,58.4 506.4,58.1 508.1,57.7 C509.8,57.3 511.5,56.8 513.2,56.5 C514.9,56.2 516.5,56.0 518.3,55.8 C520.1,55.6 522.3,55.4 524.2,55.5 C526.1,55.6 527.8,55.8 529.7,56.2 C531.6,56.6 533.9,57.1 535.6,57.7 C537.4,58.3 538.6,58.9 540.2,59.7 C541.8,60.5 543.7,61.5 545.3,62.3 C546.9,63.1 548.1,63.7 549.7,64.5 C551.3,65.3 553.1,66.2 554.8,67.0 C556.5,67.8 558.2,68.9 559.9,69.6 C561.6,70.3 563.3,70.9 565.0,71.4 C566.7,71.9 568.6,72.4 570.2,72.8 C571.8,73.2 572.6,73.6 574.5,73.7 C576.4,73.8 579.6,73.4 581.5,73.3 C583.4,73.2 584.2,73.4 585.8,73.3 C587.4,73.2 589.2,72.9 590.9,72.6 C592.6,72.3 594.4,71.8 596.1,71.4 C597.8,71.0 599.5,70.8 601.2,70.4 C602.9,70.1 604.5,69.5 606.3,69.3 C608.1,69.0 610.0,68.9 611.8,68.9 C613.6,69.0 615.4,69.3 617.2,69.6 C619.0,69.9 620.8,70.2 622.6,70.5 C624.4,70.8 626.3,71.3 628.2,71.4 C630.1,71.5 632.1,71.3 634.0,71.1 C635.9,70.9 637.9,70.8 639.6,70.4 C641.3,70.0 642.7,69.2 644.2,68.5 C645.7,67.8 647.0,67.0 648.6,66.1 C650.2,65.2 652.1,64.1 653.7,63.1 C655.3,62.1 656.6,61.2 658.1,60.1 C659.6,59.0 661.3,58.0 662.9,56.8 C664.5,55.6 666.8,53.6 667.6,53.0" fill="none" stroke="#000" stroke-width="3.2" stroke-dasharray="3.1 2.7"/>
<polygon points="158.0,188.0 196.0,186.0 196.0,206.0 158.0,206.0" fill="url(#qs)"/>
<polygon points="68.0,182.3 71.7,173.5 76.0,170.6 81.9,167.7 87.7,172.0 91.4,174.5 92.1,175.0 95.0,173.5 98.0,172.0 99.4,172.4 103.8,173.5 107.4,176.4 107.4,202.7 103.8,207.0 99.4,210.0 98.0,211.4 95.0,214.4 92.1,215.5 91.4,215.8 87.7,221.7 81.9,224.6 76.0,230.4 71.7,218.8 68.0,217.3" fill="url(#ps)"/>
<polygon points="118.4,177.9 122.8,175.0 124.2,175.7 128.6,177.9 130.0,176.5 133.0,173.5 135.9,178.3 137.4,180.8 141.8,185.2 147.6,188.1 153.4,189.6 156.4,198.3 160.0,200.0 164.0,205.0 178.6,206.0 179.0,195.0 187.4,195.0 188.0,204.0 196.0,204.0 196.5,166.2 200.5,166.2 201.0,185.0 208.0,181.0 208.5,177.9 216.5,177.9 223.9,176.4 223.9,231.9 216.5,231.9 208.5,231.9 208.0,231.9 201.0,231.9 200.5,236.3 196.5,236.3 196.0,236.3 188.0,236.3 187.4,236.3 179.0,236.3 178.6,236.3 164.0,236.3 160.0,230.4 156.4,220.2 153.4,224.6 147.6,229.0 141.8,230.4 137.4,228.2 135.9,227.5 133.0,221.7 130.0,215.8 128.6,215.1 124.2,212.9 122.8,211.5 118.4,207.0" fill="url(#ps)"/>
<polygon points="228.2,172.0 235.0,174.0 240.0,172.0 240.5,172.1 248.0,173.0 256.0,176.0 256.0,224.6 248.0,224.6 240.5,224.6 240.0,212.9 235.0,212.9 228.2,212.9" fill="url(#ps)"/>
<path d="M93.5,174.5 93.5,216.2 71.1,175.3 71.1,218.3 78.2,169.0 78.2,228.0 86.2,170.8 86.2,221.8 94.0,171.4 94.0,215.7 93.6,174.0 93.6,214.1 75.5,171.8 75.5,229.7 84.7,168.3 84.7,225.0 97.2,172.0 97.2,212.8 90.4,172.9 90.4,217.1 105.4,175.7 105.4,207.2 107.1,175.0 107.1,205.4 77.5,169.8 77.5,230.8 105.0,174.8 105.0,208.1 78.5,169.5 78.5,228.8 80.3,167.0 80.3,228.4 101.2,173.2 101.2,210.4 74.7,169.1 74.7,228.2 76.4,168.8 76.4,229.5 74.1,171.8 74.1,225.2 101.4,171.2 101.4,211.0 79.9,166.7 79.9,227.1 68.5,179.9 68.5,218.0 68.5,181.6 68.5,218.0 68.0,183.1 68.0,217.2 78.0,166.7 78.0,227.9 96.0,172.4 96.0,214.5 77.7,167.9 77.7,231.6 82.7,169.2 82.7,226.8 72.9,173.1 72.9,221.1 96.0,173.2 96.0,215.2 89.7,173.6 89.7,218.2 89.3,171.1 89.3,219.8 75.5,170.7 75.5,230.4 98.7,171.7 98.7,212.1 104.3,174.2 104.3,207.6 80.8,168.9 80.8,226.1 72.0,171.6 72.0,221.5 104.7,173.8 104.7,207.6 104.9,174.5 104.9,206.4 86.2,170.9 86.2,222.7 72.3,172.6 72.3,222.7 77.8,169.5 77.8,231.2 73.0,170.1 73.0,223.4 81.2,168.9 81.2,228.3 85.6,170.6 85.6,224.3 74.8,172.3 74.8,227.0 71.0,174.0 71.0,217.6 86.9,170.1 86.9,224.9 84.3,169.9 84.3,225.5 91.1,172.3 91.1,216.5 87.4,170.3 87.4,223.5 87.9,170.4 87.9,222.8 107.3,174.1 107.3,203.2 68.5,178.5 68.5,216.7 84.7,170.1 84.7,225.0 106.1,175.7 106.1,205.6 90.9,171.2 90.9,217.2 78.3,168.9 78.3,227.4 89.4,171.6 89.4,220.0 83.9,166.6 83.9,225.5 99.5,171.8 99.5,209.4 91.6,175.1 91.6,218.7 66.5,183.9 66.2,205.6 68.0,214.5 66.3,213.6 68.1,202.5 67.7,192.7 66.5,203.9 67.8,201.3 66.0,202.1 66.1,202.1 65.8,183.3 67.4,201.6 66.6,216.2 66.9,199.0 66.9,201.0 66.7,215.4 68.8,193.5 66.2,184.4 66.4,183.4 66.9,210.3 68.1,195.6 68.1,207.0 67.2,203.5 67.8,202.8 109.5,196.9 109.5,182.9 108.1,186.5 107.6,197.5 107.1,191.1 108.9,201.0 106.7,183.5 108.1,201.0 107.1,198.5 107.8,190.8 109.4,178.1 107.6,180.5 107.0,184.4 108.7,191.7 107.0,197.5 108.1,180.2 109.1,198.0 107.3,201.1 203.9,181.3 203.9,230.9 209.9,178.2 209.9,231.3 199.3,166.3 199.3,237.8 206.2,183.0 206.2,232.2 206.4,182.6 206.4,232.2 190.5,203.7 190.5,238.7 178.2,204.1 178.2,236.3 175.7,203.3 175.7,238.7 212.2,175.9 212.2,233.7 189.4,201.5 189.4,238.4 199.2,164.4 199.2,235.7 148.1,188.3 148.1,229.5 204.4,180.7 204.4,231.3 155.2,195.4 155.2,221.6 126.1,176.7 126.1,213.2 188.8,201.3 188.8,236.3 188.4,204.5 188.4,236.9 165.8,202.2 165.8,236.7 143.9,186.4 143.9,231.7 201.2,184.0 201.2,233.7 131.8,173.2 131.8,219.6 148.2,188.2 148.2,228.4 152.7,187.6 152.7,227.6 185.8,193.9 185.8,236.8 215.6,178.7 215.6,232.7 178.2,206.4 178.2,236.3 145.7,184.6 145.7,230.5 199.5,163.8 199.5,237.0 222.9,175.5 222.9,232.4 207.0,182.2 207.0,232.4 131.4,174.6 131.4,220.6 215.8,177.5 215.8,232.1 172.7,203.7 172.7,237.1 167.8,205.9 167.8,238.9 216.1,176.8 216.1,234.8 133.1,174.3 133.1,223.4 210.4,176.6 210.4,234.9 121.0,176.6 121.0,212.0 157.9,199.3 157.9,224.2 197.8,165.1 197.8,236.9 139.1,182.7 139.1,231.0 127.8,178.4 127.8,214.6 158.0,197.7 158.0,226.0 212.3,178.7 212.3,233.4 157.0,196.0 157.0,221.1 173.1,205.0 173.1,237.1 222.0,175.4 222.0,232.3 162.5,200.8 162.5,236.9 180.7,194.2 180.7,237.0 144.8,185.0 144.8,230.7 165.5,206.0 165.5,237.6 140.2,180.9 140.2,229.3 154.9,194.0 154.9,225.0 143.3,186.1 143.3,230.8 175.1,204.9 175.1,235.5 125.4,176.0 125.4,215.2 158.5,200.0 158.5,228.5 150.3,186.1 150.3,228.2 187.4,193.4 187.4,235.5 169.8,202.5 169.8,238.2 184.4,193.1 184.4,237.1 143.0,183.5 143.0,229.8 204.5,181.8 204.5,233.8 155.1,194.7 155.1,223.5 187.4,193.6 187.4,237.5 138.5,182.8 138.5,230.5 174.6,205.3 174.6,235.7 153.7,188.3 153.7,226.6 119.8,175.8 119.8,210.9 201.0,183.5 201.0,232.4 142.9,185.6 142.9,230.3 194.7,202.4 194.7,238.3 178.9,199.3 178.9,239.2 158.3,200.2 158.3,224.7 211.0,175.0 211.0,233.1 159.4,199.8 159.4,228.9 140.4,183.9 140.4,230.9 198.1,165.2 198.1,235.4 199.8,164.1 199.8,237.2 118.5,175.9 118.5,208.7 199.0,165.7 199.0,237.1 195.7,203.7 195.7,236.1 174.9,205.1 174.9,238.2 139.3,180.9 139.3,229.5 128.5,176.3 128.5,217.0 179.3,192.7 179.3,238.2 130.7,175.8 130.7,216.8 128.6,175.9 128.6,216.1 146.9,188.3 146.9,231.9 148.3,188.3 148.3,230.3 177.6,204.0 177.6,239.1 219.3,174.4 219.3,232.2 152.3,187.1 152.3,226.2 213.2,175.0 213.2,234.2 151.0,186.0 151.0,229.0 147.1,185.7 147.1,228.6 157.1,196.1 157.1,222.0 144.8,186.0 144.8,230.5 150.6,188.0 150.6,228.8 194.8,202.4 194.8,239.0 201.9,183.7 201.9,232.8 153.2,187.1 153.2,227.3 182.6,192.4 182.6,239.0 212.0,175.0 212.0,233.7 143.5,185.2 143.5,232.3 155.4,194.3 155.4,223.4 138.7,181.6 138.7,229.6 222.1,174.5 222.1,233.7 122.7,173.1 122.7,210.9 134.1,174.5 134.1,223.6 202.2,181.7 202.2,233.4 209.2,175.4 209.2,231.8 199.1,165.1 199.1,239.0 154.1,190.1 154.1,226.5 154.7,194.2 154.7,225.3 139.5,182.1 139.5,232.0 130.8,176.1 130.8,219.4 197.5,165.6 197.5,235.7 219.5,174.7 219.5,234.0 194.7,202.3 194.7,238.0 161.7,202.1 161.7,232.1 216.9,176.4 216.9,234.1 168.2,205.5 168.2,236.5 175.9,202.9 175.9,237.3 126.8,177.4 126.8,215.9 163.2,205.0 163.2,238.0 219.3,174.7 219.3,233.7 195.2,203.4 195.2,235.4 215.9,176.7 215.9,233.3 204.4,181.2 204.4,231.0 215.8,176.0 215.8,231.1 132.8,174.7 132.8,223.4 140.5,181.5 140.5,232.4 188.5,203.3 188.5,235.8 162.0,203.3 162.0,232.4 162.6,200.5 162.6,237.3 129.4,177.9 129.4,217.9 195.6,201.2 195.6,238.1 170.4,204.4 170.4,235.9 172.4,205.8 172.4,235.8 210.8,176.6 210.8,232.0 143.6,185.0 143.6,231.5 178.5,206.6 178.5,237.3 172.5,206.5 172.5,236.2 120.2,175.1 120.2,209.0 131.5,173.7 131.5,217.9 215.5,176.8 215.5,234.4 192.0,203.9 192.0,238.3 150.2,188.7 150.2,226.8 176.9,205.3 176.9,238.4 136.1,177.0 136.1,229.9 203.3,184.6 203.3,231.4 140.6,181.4 140.6,231.7 197.0,165.8 197.0,238.4 172.8,204.9 172.8,239.0 186.8,194.6 186.8,237.7 170.5,205.5 170.5,237.6 132.0,173.2 132.0,220.5 164.0,204.2 164.0,236.7 159.7,198.5 159.7,229.9 220.9,174.4 220.9,231.0 194.5,202.6 194.5,237.1 180.8,193.5 180.8,236.3 120.0,177.3 120.0,211.4 148.6,187.2 148.6,228.6 124.6,176.4 124.6,215.4 143.8,184.2 143.8,231.7 202.5,183.0 202.5,232.4 118.5,201.1 116.6,202.9 118.9,195.2 116.2,198.7 117.8,182.1 119.0,199.2 119.0,201.4 117.2,191.7 116.5,205.0 117.4,180.8 117.4,190.1 118.5,204.9 117.0,181.4 118.5,187.9 117.5,187.3 117.9,201.6 118.7,198.9 118.2,205.4 116.3,187.4 117.4,181.1 224.3,211.0 225.0,195.4 223.2,183.3 224.8,185.9 224.0,210.7 225.8,205.0 223.9,208.9 223.9,219.8 223.6,190.9 224.4,226.8 223.6,187.1 223.5,188.3 224.1,198.3 225.4,198.8 224.5,198.4 225.4,226.5 224.4,227.5 223.9,230.7 224.7,214.2 224.2,191.5 223.5,225.5 224.2,215.2 224.5,205.6 223.7,186.2 224.1,214.2 224.7,176.5 225.2,200.4 223.3,190.8 223.7,222.1 224.8,194.5 223.8,192.6 223.9,195.6 225.5,220.2 225.2,225.5 225.1,182.7 223.2,185.5 223.9,205.7 225.6,208.9 240.1,170.0 240.1,219.2 249.1,171.8 249.1,223.8 255.5,173.8 255.5,227.0 231.5,172.6 231.5,213.3 252.9,173.0 252.9,224.0 233.7,173.8 233.7,215.8 246.1,172.5 246.1,224.7 235.8,171.0 235.8,215.8 229.4,171.8 229.4,213.3 233.4,172.3 233.4,215.6 235.1,171.6 235.1,214.4 246.5,171.9 246.5,224.3 252.5,172.1 252.5,224.3 234.9,173.0 234.9,213.8 243.6,172.4 243.6,227.2 241.2,169.3 241.2,226.9 228.7,170.4 228.7,212.5 244.9,172.7 244.9,224.1 236.4,173.9 236.4,214.7 231.2,172.6 231.2,215.1 239.6,169.8 239.6,214.5 237.1,170.7 237.1,212.6 239.4,169.8 239.4,213.4 243.5,171.6 243.5,225.2 250.4,171.3 250.4,224.9 254.1,175.8 254.1,227.3 249.5,172.7 249.5,226.8 244.1,170.0 244.1,224.6 230.9,173.3 230.9,213.2 239.5,171.3 239.5,212.3 247.8,173.2 247.8,226.8 252.7,173.0 252.7,224.2 249.4,173.3 249.4,225.1 237.7,170.5 237.7,215.2 241.0,172.4 241.0,225.0 237.1,172.2 237.1,214.9 252.7,173.2 252.7,226.4 239.4,172.7 239.4,214.9 243.6,170.9 243.6,224.7 252.8,175.0 252.8,224.8 230.6,170.5 230.6,215.8 229.3,172.6 229.3,214.0 243.6,171.6 243.6,225.2 243.7,169.8 243.7,227.3 228.7,177.7 227.0,198.2 226.6,200.3 226.2,174.1 229.0,181.7 226.7,178.2 227.4,203.5 228.5,193.6 226.3,202.6 227.8,191.6 228.2,211.3 226.7,199.8 228.1,201.9 227.5,204.6 227.9,208.1 226.9,190.4 227.3,204.9 227.4,211.3 229.0,208.7 226.9,192.0 226.5,178.1 228.0,201.2 226.5,187.3 226.0,198.5 228.9,177.0 228.8,195.3 228.0,182.7 227.7,175.2 257.9,216.7 256.9,197.6 256.1,205.3 256.2,223.4 258.1,211.3 257.7,179.7 255.6,192.8 255.6,196.5 258.2,216.6 258.1,186.8 255.9,177.1 256.0,178.7 256.8,190.6 257.2,203.3 257.0,190.6 257.4,209.5 257.3,198.9 256.6,189.9 255.3,198.6 257.0,185.0 257.8,218.7 257.8,215.7 256.7,184.5 256.0,211.8 258.2,181.4 255.2,193.2 256.2,205.0 255.5,217.0 256.2,220.2 256.2,190.8 255.7,222.9 257.0,216.1 255.4,202.4 257.4,223.8 112.8,150.1 93.1,177.0 98.7,175.7 88.9,147.8 113.1,154.9 99.6,157.8 100.2,175.0 113.1,173.3 89.0,171.6 80.6,159.5 113.0,154.6 92.9,164.5 88.3,168.3 102.8,149.9 112.2,149.1 104.4,157.5 85.0,149.3 114.9,171.0 96.1,170.8 113.9,174.8 98.6,155.2 98.1,176.4 105.6,167.1 109.5,159.3 99.6,172.5 87.0,172.8 80.9,163.1 100.1,151.4 112.3,160.2 86.5,159.3 110.6,214.2 100.1,203.0 112.8,204.4 104.6,226.6 115.5,229.1 103.1,200.2 113.6,219.8 106.6,200.6 107.8,207.8 110.6,232.4 103.8,202.5 112.5,203.6 104.0,214.5 117.7,210.7 105.7,215.7 102.9,213.3 112.6,210.7 114.3,206.1 101.8,220.7 108.2,230.3 101.9,224.6 112.1,212.2 102.3,220.2 113.6,215.6 108.5,222.6 111.0,214.0 103.3,215.3 109.9,229.6 117.9,218.4 105.9,207.4 148.2,175.1 135.9,173.2 160.0,161.9 158.0,163.6 148.9,179.9 134.5,160.1 159.5,149.5 137.8,165.1 151.8,171.0 157.8,172.4 128.0,149.7 129.2,163.4 128.9,167.0 148.2,154.7 155.4,162.7 158.7,160.6 147.8,167.6 136.4,176.6 128.1,156.5 138.3,180.5 144.0,148.4 137.6,170.2 153.9,151.1 152.9,161.8 144.8,163.0 142.0,184.6 157.4,181.9 151.5,173.6 132.5,148.3 154.6,172.6 148.2,158.9 136.5,182.0 145.0,147.8 138.9,160.3 130.2,184.2 156.9,178.0 128.1,162.9 131.6,174.6 153.9,177.0 153.3,151.6 128.4,150.5 155.0,178.5 144.5,155.9 155.4,151.6 138.4,147.1 159.5,162.8 152.7,177.5 146.6,184.5 152.8,182.2 158.8,150.1 152.0,155.6 138.4,160.0 199.6,151.1 179.7,154.7 199.9,173.8 189.3,175.0 191.6,165.5 178.9,186.7 189.3,194.2 175.1,192.1 190.5,177.8 178.7,177.5 166.8,153.0 175.2,154.4 165.8,185.3 190.3,180.0 171.4,185.5 193.7,180.2 172.2,177.4 178.2,162.0 169.3,193.0 186.8,196.5 170.2,161.7 182.3,151.1 174.9,176.1 181.3,195.3 184.8,181.2 185.1,188.8 177.2,148.0 199.3,189.2 168.6,153.8 172.0,182.2 168.7,149.0 181.8,148.3 173.3,167.9 171.4,148.1 173.4,160.7 175.7,169.6 177.0,164.9 164.7,191.5 190.6,173.6 164.1,160.1 196.4,171.8 171.4,190.6 196.1,154.4 182.0,177.2 168.2,164.6 186.3,183.0 186.6,180.3 177.6,151.6 164.6,191.6 195.1,195.1 166.7,188.0 170.2,166.0 171.2,192.7 193.5,191.3 177.7,196.7 173.4,177.9 188.2,160.2 177.7,153.2 192.7,157.6 168.9,162.5 216.6,168.4 213.6,175.3 219.6,154.7 213.9,153.4 206.3,152.7 202.0,159.2 223.0,169.0 202.3,155.0 215.4,165.0 200.7,151.0 214.7,167.2 202.1,172.7 206.2,166.9 213.8,158.9 224.6,160.7 211.0,165.3 221.8,179.6 220.0,165.2 218.6,168.4 224.9,179.1 219.8,154.9 214.8,162.1 225.2,223.8 225.1,219.7 226.4,203.9 227.5,220.6 228.9,235.9 228.0,194.8 227.3,207.7 228.7,205.0 225.8,181.4 226.4,209.8 225.5,185.9 226.4,184.0 224.9,204.9 225.7,208.0 226.7,201.8 231.7,150.4 243.7,171.3 235.9,157.7 236.9,166.3 241.8,167.5 228.1,152.9 233.8,158.1 239.2,158.5 255.0,159.7 244.1,171.2 246.0,163.1 251.2,157.4 229.0,171.1 243.0,162.8 229.9,166.4 238.5,227.4 235.9,234.0 238.3,218.6 253.0,217.3 235.6,223.7 255.5,214.8 233.9,231.1 230.1,221.9 249.9,229.1 250.2,214.8 252.9,220.6 250.8,223.3 253.0,223.5 235.2,215.6 241.9,213.2 232.6,233.0 244.1,232.7 232.2,223.5 241.1,214.6 235.4,234.1 248.3,224.2 245.1,232.7 118.6,144.8 71.6,145.0 77.6,144.7 76.1,144.8 99.3,144.8 93.4,144.6 106.3,144.8 85.1,145.0 117.8,145.0 120.2,144.6 89.2,144.8 82.3,144.9 116.1,144.6 95.3,145.0 115.2,144.8 74.4,144.8 95.9,144.9 78.7,144.7 120.2,144.6 100.8,144.6 108.0,144.8 117.1,144.7 114.6,144.7 71.5,144.6 73.0,144.7 119.5,144.7 106.3,144.6 95.8,144.8 74.1,144.8 92.2,144.7 112.2,144.9 75.3,144.6 71.7,144.7 102.1,145.0 119.4,145.0 75.5,144.9 108.6,144.8 120.8,144.8 75.2,144.7 75.7,144.9 101.5,145.0 69.5,144.6 119.6,144.7 82.7,145.0 74.8,144.9 115.6,144.8 100.6,144.6 100.5,144.9 109.1,144.8 74.9,144.7 103.0,144.6 74.6,144.7 110.4,144.8 87.6,145.0 99.2,144.7 98.4,145.0 88.2,144.8 99.0,145.0 102.2,144.6 99.3,144.7 187.0,144.9 127.6,144.8 166.1,144.8 232.5,144.8 207.5,144.7 158.5,144.8 194.8,144.7 225.2,144.8 171.6,144.7 234.6,145.0 247.9,144.7 134.3,144.9 128.2,145.0 214.0,144.7 182.8,144.9 146.0,144.7 228.1,144.9 201.7,144.6 153.4,144.7 129.1,144.9 200.0,145.0 197.6,145.0 186.4,144.8 161.9,144.8 247.7,144.8 125.3,144.7 150.9,144.9 191.7,144.8 246.5,144.9 136.4,144.6 216.8,144.8 210.5,144.8 129.7,144.8 234.4,144.9 130.8,144.6 243.5,144.8 146.6,144.9 246.1,145.0 209.5,145.0 136.5,144.8 231.2,144.7 143.8,145.0 217.3,144.6 133.3,144.8 250.0,144.9 239.8,144.6 200.5,144.6 168.5,144.6 185.8,144.6 211.0,144.9 243.5,144.9 134.9,145.0 196.1,145.0 189.5,144.6 217.2,144.6 253.9,144.8 243.2,144.8 167.8,144.9 218.0,144.8 161.1,144.8 218.6,144.7 145.7,144.8 211.2,144.6 160.6,145.0 160.0,144.9 165.0,144.6 188.7,145.0 226.8,144.6 217.1,144.9 188.2,144.9 193.4,144.6 216.1,144.6 165.6,145.0 199.4,144.8 218.0,144.8 175.3,144.8 127.9,144.7 130.2,145.0 243.9,144.9 145.7,145.0 162.1,145.0 210.3,144.9 222.1,144.7 234.3,144.8 224.2,145.0 158.3,144.8 172.4,144.6 239.7,144.9 189.2,144.8 240.3,144.6 171.9,144.9 195.0,144.8 158.9,144.7 212.8,144.7 247.8,145.0 252.1,144.7 192.4,144.6 172.1,144.6 190.7,145.0 224.9,144.7 161.2,145.0 131.9,145.0 237.1,144.6 249.6,144.9 176.0,144.8 204.7,144.8 238.7,145.0 167.8,144.6 227.0,144.9 210.8,144.6 134.9,145.0 172.7,144.8 252.5,144.6 208.2,144.6 198.5,144.9 145.6,144.9 251.9,145.0 228.6,145.0 218.9,144.8 233.0,145.0 207.4,144.9 148.4,144.7 167.6,145.0 227.4,144.7 255.2,144.6 133.1,144.7 135.1,145.0 172.0,144.7 237.0,144.8 207.6,144.8 185.3,145.0 77.2,239.4 82.4,239.1 73.8,239.4 90.8,239.3 71.5,239.7 73.6,239.7 71.2,239.5 73.8,239.2 81.0,239.6 81.3,239.3 80.5,239.4 77.3,239.8 75.0,239.1 84.3,239.3 88.8,239.0 87.6,239.3 94.1,239.2 81.3,239.3 100.1,239.2 100.7,239.3 100.8,239.2 124.2,239.4 126.0,239.5 124.0,239.1 121.8,239.1 122.3,239.1 125.6,239.3 151.9,239.2 136.7,239.1 134.3,239.5 144.3,239.2 149.6,239.5 140.9,239.5 146.1,239.4 133.1,239.3 152.8,239.3 145.7,239.1 148.8,239.7 139.6,239.3 142.8,239.2 135.8,239.1 146.8,239.4 153.0,239.8 151.1,239.8 150.3,239.0 134.0,239.8 151.1,239.5 145.3,239.3 185.3,239.1 193.8,239.2 164.4,239.7 195.7,239.7 176.3,239.5 175.1,239.7 170.4,239.5 194.3,239.3 161.5,239.4 192.1,239.7 170.0,239.1 177.1,239.6 172.0,239.5 158.2,239.1 204.9,239.4 163.8,239.4 220.9,239.3 194.4,239.3 190.9,239.0 216.9,239.5 180.0,239.2 168.9,239.7 214.0,239.3 197.6,239.4 169.8,239.0 206.7,239.1 195.0,239.0 157.5,239.1 201.1,239.5 224.4,239.5 192.0,239.0 222.1,239.4 215.2,239.0 213.6,239.4 171.0,239.3 161.2,239.5 171.1,239.6 168.0,239.6 198.6,239.6 221.6,239.2 203.1,239.3 217.7,239.7 208.7,239.5 174.0,239.7 222.8,239.8 179.3,239.7 202.8,239.7 211.3,239.4 183.3,239.6 201.2,239.4 216.3,239.0 156.9,239.4 162.7,239.7 162.1,239.7 171.5,239.1 208.0,239.5 184.3,239.5 194.2,239.8 191.0,239.4 187.9,239.3 203.6,239.1 203.8,239.7 208.5,239.4 180.4,239.1 162.4,239.4 216.7,239.7 168.7,239.6 231.8,239.4 232.1,239.1 229.0,239.4 231.4,239.4 243.1,239.7 244.7,239.3 241.8,239.4 250.0,239.3 249.3,239.4 238.2,239.8 242.9,239.4 254.3,239.2 239.1,239.2 240.6,239.7 246.8,239.0 242.6,239.4 241.0,239.2" fill="none" stroke="none" marker-start="url(#ms)" marker-mid="url(#ms)" marker-end="url(#ms)"/>
<path d="M69.9,194.2 C70.6,195.1 72.5,198.0 73.9,199.5 C75.3,201.0 76.6,202.5 78.2,203.4 C79.8,204.3 81.6,205.1 83.4,204.9 C85.2,204.7 87.2,203.6 88.9,202.4 C90.6,201.2 92.1,199.5 93.6,198.0 C95.1,196.5 96.5,194.6 98.0,193.2 C99.5,191.8 100.8,190.4 102.3,189.3 C103.8,188.2 105.3,187.2 107.0,186.9 C108.7,186.6 110.8,187.0 112.6,187.4 C114.4,187.8 116.1,188.8 117.7,189.6 C119.3,190.4 120.5,191.4 122.0,192.5 C123.5,193.6 125.3,194.8 126.9,196.1 C128.5,197.4 129.9,198.8 131.5,200.2 C133.1,201.5 134.7,203.0 136.2,204.2 C137.7,205.3 139.0,206.4 140.7,207.1 C142.3,207.8 144.3,207.9 146.1,208.1 C147.9,208.3 149.8,208.1 151.7,208.1 C153.6,208.1 155.4,207.9 157.5,207.8 C159.6,207.8 161.9,207.7 164.0,207.8 C166.1,207.9 167.9,208.1 169.8,208.2 C171.8,208.3 173.8,208.2 175.7,208.2 C177.6,208.2 179.4,208.2 181.2,208.1 C183.0,208.0 184.7,207.9 186.6,207.8 C188.5,207.7 190.6,207.7 192.5,207.5 C194.4,207.3 196.4,206.9 198.3,206.6 C200.2,206.3 202.3,206.0 204.1,205.6 C205.9,205.2 207.6,204.9 209.3,204.2 C211.0,203.5 212.8,202.1 214.4,201.2 C216.1,200.3 217.7,199.7 219.2,199.0 C220.7,198.3 222.1,197.6 223.6,196.9 C225.1,196.2 226.4,195.6 227.9,195.1 C229.4,194.6 231.0,194.2 232.6,193.9 C234.2,193.7 236.0,193.6 237.7,193.6 C239.4,193.6 241.1,193.8 242.8,194.2 C244.5,194.6 246.2,195.3 247.9,196.1 C249.6,196.9 252.2,198.5 253.0,199.0" fill="none" stroke="#000" stroke-width="3.2" stroke-dasharray="3.1 2.7"/>
<polygon points="284.0,196.0 329.3,196.0 329.3,232.0 284.0,232.0" fill="url(#qs)"/>
<polygon points="329.3,195.0 351.9,195.0 351.9,236.0 329.3,236.0" fill="url(#qs)"/>
<polygon points="352.0,203.0 368.0,203.0 372.0,210.0 416.0,210.0 416.0,236.0 372.0,236.0 368.0,236.0 352.0,236.0" fill="url(#qs)"/>
<polygon points="454.0,218.0 465.0,218.0 465.0,234.0 454.0,234.0" fill="url(#qs)"/>
<polygon points="276.8,173.5 282.6,169.1 287.0,168.3 289.9,167.7 297.2,163.3 304.5,161.8 311.8,158.9 317.6,154.5 323.5,153.1 329.3,156.0 335.0,155.0 340.0,155.0 345.0,156.0 350.0,158.0 351.9,168.5 352.0,169.1 362.9,169.1 363.5,180.0 365.0,190.0 365.0,200.0 363.5,200.0 362.9,205.0 352.0,205.0 351.9,197.0 350.0,197.0 345.0,197.0 340.0,197.0 335.0,196.3 329.3,195.4 323.5,192.5 317.6,188.1 311.8,188.1 304.5,191.0 297.2,195.4 289.9,196.9 287.0,201.2 282.6,218.8 276.8,218.8" fill="url(#ps)"/>
<polygon points="418.7,191.0 424.6,191.0 424.6,233.0 418.7,233.0" fill="url(#ps)"/>
<polygon points="436.2,179.3 445.0,179.0 445.0,224.6 436.2,224.6" fill="url(#ps)"/>
<polygon points="448.5,179.3 454.0,179.3 454.0,233.4 448.5,233.4" fill="url(#ps)"/>
<polygon points="454.0,179.3 465.4,180.0 465.4,220.2 454.0,220.2" fill="url(#ps)"/>
<path d="M356.6,167.9 356.6,204.9 329.5,153.4 329.5,196.5 333.9,152.5 333.9,197.3 304.1,161.9 304.1,192.7 357.0,168.5 357.0,204.7 293.2,165.5 293.2,198.5 282.3,168.0 282.3,218.9 318.0,154.9 318.0,189.7 342.4,155.5 342.4,197.1 331.4,154.1 331.4,196.6 323.6,152.8 323.6,192.2 350.7,159.8 350.7,197.3 351.7,168.4 351.7,197.5 360.8,166.2 360.8,207.8 294.5,162.1 294.5,198.0 291.0,167.0 291.0,195.7 287.7,166.5 287.7,199.5 318.4,152.7 318.4,190.6 320.3,154.7 320.3,192.5 291.9,167.2 291.9,199.1 326.6,153.8 326.6,193.7 305.1,159.4 305.1,190.5 331.0,154.0 331.0,197.7 327.4,155.3 327.4,193.8 351.5,165.5 351.5,198.5 297.8,163.0 297.8,195.6 340.4,154.4 340.4,196.6 303.3,162.1 303.3,190.8 332.5,154.6 332.5,197.7 305.8,160.2 305.8,191.4 342.9,152.9 342.9,198.0 299.7,162.1 299.7,193.9 295.0,162.6 295.0,198.4 308.9,160.6 308.9,191.2 300.5,161.8 300.5,192.4 359.1,168.6 359.1,204.5 322.6,152.3 322.6,193.5 302.3,162.9 302.3,193.8 283.2,169.3 283.2,218.9 303.6,161.8 303.6,194.0 354.6,166.4 354.6,207.3 298.7,163.2 298.7,196.2 317.9,155.0 317.9,190.5 364.5,187.5 364.5,201.3 341.6,155.0 341.6,197.6 320.8,152.8 320.8,190.3 299.8,163.1 299.8,196.2 338.3,154.8 338.3,197.8 327.4,154.7 327.4,193.5 315.9,156.6 315.9,187.9 318.0,151.7 318.0,188.4 349.5,154.9 349.5,199.2 347.2,157.3 347.2,197.0 359.0,167.6 359.0,205.8 360.7,168.3 360.7,206.7 286.5,165.4 286.5,203.1 286.1,168.7 286.1,204.7 361.3,168.8 361.3,204.8 339.5,153.3 339.5,198.0 283.5,169.3 283.5,217.4 328.0,155.1 328.0,195.1 288.1,166.4 288.1,201.6 326.5,152.1 326.5,193.9 318.7,151.3 318.7,188.1 316.5,152.9 316.5,190.7 288.2,168.0 288.2,201.7 304.6,160.9 304.6,193.9 331.2,154.2 331.2,198.6 299.7,163.6 299.7,194.1 314.0,155.5 314.0,189.7 354.6,168.9 354.6,204.7 364.1,184.2 364.1,201.0 351.7,165.1 351.7,198.4 346.1,156.6 346.1,198.7 282.3,168.2 282.3,218.9 330.4,154.4 330.4,196.4 324.2,152.8 324.2,195.4 301.7,160.5 301.7,192.4 286.7,168.7 286.7,205.0 287.9,166.5 287.9,202.5 353.0,170.0 353.0,208.0 303.6,159.3 303.6,191.5 321.1,150.7 321.1,190.7 318.5,154.0 318.5,188.4 287.7,166.4 287.7,199.6 287.6,165.6 287.6,202.5 354.3,166.3 354.3,207.2 351.2,164.3 351.2,197.2 349.1,155.0 349.1,196.2 361.0,167.0 361.0,207.7 343.3,152.9 343.3,196.4 333.8,152.8 333.8,197.7 336.1,152.9 336.1,197.3 295.5,164.8 295.5,197.3 337.8,154.5 337.8,195.9 355.0,169.2 355.0,206.1 328.9,154.8 328.9,197.2 323.8,151.4 323.8,193.7 295.6,161.3 295.6,196.8 353.6,169.0 353.6,204.8 321.6,152.9 321.6,192.4 317.4,153.7 317.4,189.9 354.5,168.2 354.5,207.1 336.8,152.5 336.8,196.6 304.5,160.2 304.5,192.0 302.8,163.1 302.8,194.0 309.5,159.6 309.5,191.7 290.9,166.6 290.9,199.5 309.9,160.2 309.9,191.1 305.0,159.2 305.0,193.0 313.4,156.0 313.4,189.0 341.0,155.8 341.0,199.7 344.4,153.6 344.4,197.5 277.4,170.8 277.4,219.2 292.4,165.1 292.4,195.9 334.4,153.7 334.4,196.2 337.3,153.3 337.3,195.7 350.7,162.1 350.7,199.5 302.7,160.2 302.7,193.9 289.7,168.6 289.7,198.8 325.2,151.1 325.2,193.5 314.1,158.0 314.1,187.7 329.0,153.2 329.0,198.1 342.7,155.8 342.7,199.0 292.7,164.0 292.7,195.5 325.4,151.4 325.4,193.2 292.2,167.0 292.2,198.6 302.0,163.2 302.0,192.1 289.2,166.4 289.2,200.2 285.5,168.7 285.5,208.4 347.2,155.2 347.2,196.2 285.5,168.4 285.5,208.1 344.2,153.6 344.2,197.1 295.5,164.8 295.5,197.6 290.5,167.3 290.5,195.9 317.9,152.4 317.9,190.4 340.2,154.8 340.2,196.8 280.6,170.2 280.6,220.6 277.6,173.2 277.6,221.4 308.7,159.2 308.7,190.9 358.5,168.7 358.5,206.1 275.3,195.7 277.5,198.3 276.4,188.7 276.4,183.5 276.7,207.3 274.9,194.2 275.1,179.2 276.1,207.2 275.3,191.0 277.1,217.0 275.8,203.1 276.6,178.6 275.9,191.8 274.9,203.5 275.3,199.3 275.3,179.6 274.6,199.8 275.8,182.1 277.3,205.4 275.4,203.7 276.8,195.6 275.3,202.5 274.9,177.5 275.3,174.1 275.7,197.7 277.4,192.5 275.6,212.8 277.4,196.6 275.2,178.8 274.9,216.0 276.6,183.0 364.6,192.2 365.5,197.1 367.0,195.6 367.1,194.3 366.2,190.0 365.5,190.2 364.6,198.1 419.4,189.2 419.4,234.1 421.8,188.1 421.8,232.4 422.7,189.6 422.7,232.4 421.5,189.5 421.5,236.0 419.0,188.7 419.0,232.3 422.0,191.8 422.0,235.1 419.4,190.2 419.4,233.4 424.5,190.8 424.5,234.4 420.2,189.7 420.2,234.1 418.4,214.7 419.2,208.7 416.5,207.8 418.0,222.6 417.1,221.9 418.4,220.9 418.9,216.9 419.5,199.1 419.0,205.8 417.3,191.9 416.9,194.9 416.6,230.9 417.7,226.3 416.7,209.8 416.9,192.5 417.2,218.2 417.2,197.3 419.3,213.0 417.7,219.9 419.0,214.9 416.6,201.6 417.0,231.4 417.5,209.5 418.2,210.6 419.1,194.1 418.7,198.3 416.8,206.2 416.9,214.6 416.8,228.7 425.9,209.8 424.5,214.7 424.7,225.8 423.9,217.7 424.8,208.6 425.4,232.3 426.8,206.0 426.7,231.1 425.4,214.7 424.4,224.1 425.3,223.0 426.6,217.2 425.9,214.1 424.2,210.3 424.0,198.6 426.7,207.0 424.2,209.3 424.0,216.5 424.5,200.1 425.7,229.9 423.8,221.0 425.5,211.5 425.1,191.5 424.9,213.0 424.8,232.8 424.8,226.5 426.2,224.4 425.3,212.0 426.3,195.9 438.2,176.3 438.2,225.6 440.2,180.0 440.2,227.3 439.8,178.2 439.8,224.0 442.8,178.2 442.8,224.3 443.9,176.2 443.9,224.4 440.4,180.1 440.4,224.2 438.5,179.4 438.5,224.9 444.4,176.1 444.4,224.6 438.9,179.6 438.9,224.0 442.1,179.6 442.1,227.5 443.3,176.3 443.3,225.5 438.1,176.7 438.1,224.6 442.7,178.4 442.7,224.1 438.7,176.5 438.7,227.3 434.7,200.7 434.1,223.6 436.4,190.8 436.4,207.8 435.2,202.8 434.7,203.3 436.1,209.6 434.2,181.6 435.5,185.6 434.8,198.8 434.5,209.6 434.1,205.6 435.2,223.4 434.6,194.6 436.7,221.0 436.8,221.1 434.2,209.3 434.2,206.8 434.8,206.3 436.3,182.9 434.8,199.7 436.6,204.6 436.2,191.2 434.4,207.3 434.8,216.3 435.7,199.7 435.7,195.5 434.7,219.4 436.1,211.5 436.4,179.7 434.9,214.5 445.2,224.4 446.4,193.6 446.5,217.5 444.6,220.6 445.5,191.5 445.3,203.1 445.8,192.4 444.4,207.8 446.4,210.7 445.4,218.1 444.3,184.9 444.3,204.3 445.8,189.4 445.8,179.2 444.3,222.9 446.9,182.2 446.2,202.2 445.8,217.3 446.1,221.9 446.2,220.7 444.5,216.5 445.2,221.0 446.6,223.1 446.5,196.8 445.8,214.7 444.4,203.6 445.9,211.7 445.2,206.6 446.4,196.4 446.2,220.2 445.3,203.0 451.2,179.7 451.2,233.5 450.1,177.9 450.1,235.0 449.3,180.2 449.3,234.4 452.5,177.9 452.5,232.5 450.6,178.6 450.6,232.8 453.9,178.6 453.9,234.2 448.7,177.3 448.7,233.7 452.1,177.0 452.1,234.3 448.5,209.9 447.2,207.3 447.0,213.0 449.0,214.8 447.8,220.4 446.5,198.3 446.7,191.7 447.3,179.6 446.8,203.4 447.9,206.2 448.2,191.7 447.2,213.2 449.1,193.9 446.5,194.6 448.4,210.6 448.2,230.6 446.4,186.3 448.6,188.6 448.0,194.7 447.3,227.2 449.1,180.7 449.0,196.1 448.9,202.7 448.2,218.6 446.4,232.2 448.0,214.1 448.9,212.3 446.6,227.2 448.9,188.3 446.6,217.0 447.0,182.9 447.4,180.5 447.1,222.3 448.3,179.5 447.1,233.3 447.4,199.1 448.3,223.2 456.1,199.0 453.9,233.2 454.5,203.2 454.1,218.5 456.1,204.7 455.8,201.0 454.5,222.7 456.1,220.2 455.3,224.1 456.0,230.9 454.8,200.3 453.2,207.8 454.3,179.3 456.2,195.9 456.0,180.2 454.3,221.7 455.2,215.7 454.7,184.2 455.7,220.5 454.6,209.7 455.6,206.0 454.6,205.5 455.4,219.1 454.2,221.3 454.3,215.7 454.3,227.9 456.0,221.4 454.3,198.3 454.5,212.0 453.3,208.8 456.0,182.8 455.9,210.3 456.2,218.4 455.4,220.0 454.5,185.7 455.8,226.8 455.4,191.1 459.7,178.7 459.7,220.7 459.6,178.5 459.6,223.1 461.1,180.6 461.1,222.8 456.0,179.5 456.0,220.7 460.8,179.0 460.8,222.2 457.4,179.2 457.4,220.7 462.9,178.8 462.9,221.8 465.4,178.1 465.4,219.2 464.2,179.0 464.2,221.8 463.5,180.4 463.5,220.7 465.3,178.6 465.3,222.1 463.5,178.3 463.5,220.9 458.2,177.9 458.2,220.8 463.7,177.1 463.7,223.2 463.0,179.1 463.0,221.8 457.4,179.6 457.4,222.7 458.4,178.6 458.4,220.1 456.9,179.9 456.9,221.8 453.5,205.5 454.2,179.5 453.7,202.8 454.2,201.5 453.8,190.0 452.6,194.1 452.6,210.0 453.7,180.6 452.3,201.9 453.1,207.3 453.2,216.4 454.8,218.9 453.0,196.0 452.1,215.9 453.0,179.7 452.9,196.2 453.1,213.3 454.4,213.8 453.9,189.6 454.7,183.7 454.0,200.9 452.0,186.3 453.9,194.6 452.9,193.8 452.8,185.4 454.7,203.0 452.6,184.8 454.7,206.7 464.8,217.2 466.7,186.4 465.8,182.2 464.9,194.1 467.2,216.6 466.9,205.6 466.4,200.5 466.6,200.0 465.8,213.6 465.5,196.3 466.6,218.8 465.6,197.4 465.8,188.4 465.7,211.7 465.2,199.2 465.5,203.2 466.9,184.6 466.1,187.5 466.5,207.2 465.3,189.3 465.5,193.2 467.3,215.1 467.0,195.8 466.0,188.1 466.0,218.2 464.9,195.9 465.2,214.0 465.5,199.6 292.0,219.5 310.2,223.2 318.3,221.3 300.3,204.5 313.5,197.7 326.8,220.5 309.3,208.3 293.0,214.9 320.4,200.0 293.8,219.3 308.4,222.9 306.1,229.4 324.3,206.9 311.0,216.0 307.6,223.8 317.7,223.8 299.9,213.2 311.3,215.8 290.5,223.6 307.6,201.4 323.6,214.9 319.1,221.2 314.4,227.1 292.1,207.3 296.4,217.6 298.5,197.0 295.3,201.9 311.2,211.5 308.2,196.4 310.7,204.6 331.4,197.3 332.7,211.4 333.1,214.0 333.0,225.1 349.1,208.3 330.9,234.6 331.2,221.6 346.4,214.8 349.4,201.0 345.6,232.2 349.6,229.8 339.2,216.0 348.5,210.6 335.1,196.3 333.9,200.8 350.3,207.7 337.3,235.0 344.9,212.8 331.7,210.0 335.9,233.9 338.8,234.9 335.4,196.9 344.4,148.5 336.1,158.9 298.1,163.7 309.1,166.7 318.8,165.9 346.8,154.5 328.8,161.6 326.1,147.5 328.5,162.2 291.4,148.9 281.9,157.9 284.8,164.0 308.0,166.9 332.0,155.6 290.5,155.5 322.5,164.2 343.9,153.5 278.6,160.3 328.5,159.9 337.2,163.2 323.8,163.4 286.2,165.9 326.9,148.9 289.5,159.8 299.8,165.7 297.8,156.7 314.7,165.8 299.7,164.8 331.2,158.4 347.9,164.7 364.0,159.0 352.7,151.9 362.4,149.6 362.3,154.6 358.2,165.1 365.5,163.4 359.1,158.8 367.8,167.4 361.7,148.7 366.4,148.0 353.9,161.5 355.1,163.6 363.0,150.6 366.5,169.0 362.5,168.6 423.3,177.8 424.8,208.0 416.5,152.4 395.8,192.8 395.4,157.8 401.2,156.2 402.4,153.4 418.5,160.8 431.9,154.0 412.4,188.8 384.7,187.8 407.1,187.0 383.8,178.0 425.5,187.2 387.6,168.7 428.3,150.4 402.6,180.4 399.5,147.2 378.8,201.7 401.1,166.0 400.9,150.4 377.2,200.9 420.6,159.8 392.3,152.0 392.3,180.9 420.2,179.9 426.3,211.9 408.3,149.8 380.6,190.7 380.3,205.4 375.5,150.6 435.7,173.4 407.5,185.8 379.6,168.8 395.6,195.0 422.1,192.2 383.6,177.0 430.6,158.3 394.3,187.0 435.7,148.6 416.2,177.0 405.9,201.6 378.1,185.9 392.3,196.1 417.7,174.0 381.7,196.7 416.9,183.6 419.7,208.7 387.6,191.8 423.6,164.3 429.8,167.4 433.2,184.9 434.3,204.5 422.0,171.1 401.3,185.2 423.5,174.1 429.5,161.1 405.3,156.4 382.9,165.9 375.0,184.0 411.7,172.7 423.1,182.5 415.7,152.5 393.1,148.4 382.2,202.2 380.7,185.7 396.2,190.7 427.8,200.9 433.8,209.8 397.5,211.2 420.8,165.1 393.0,181.0 426.1,153.4 429.0,190.6 410.0,173.5 428.9,207.5 432.8,209.0 432.7,227.7 425.6,190.8 435.3,198.3 433.9,207.4 427.2,190.5 429.5,215.8 425.2,190.5 427.9,227.9 433.2,201.0 429.2,207.9 432.7,202.3 428.6,211.7 427.3,208.5 433.1,211.7 425.2,205.0 431.1,200.0 429.0,214.1 428.8,197.9 434.6,192.8 434.9,194.1 452.1,164.4 447.9,167.0 461.6,157.2 437.7,153.4 461.5,166.2 457.9,159.5 445.4,169.1 452.5,176.2 440.7,158.0 456.0,176.0 449.5,172.2 439.2,167.5 445.5,169.2 444.6,153.0 443.8,170.2 456.7,176.2 448.0,149.1 459.5,155.2 456.8,162.6 448.9,148.0 442.6,170.9 449.3,175.2 448.0,219.2 448.9,200.1 446.0,219.2 444.3,231.4 444.7,220.9 445.4,213.7 446.3,210.4 444.9,224.0 447.1,202.9 316.5,144.6 286.1,144.7 291.8,144.8 313.7,144.6 300.3,144.9 287.5,144.7 295.1,145.0 308.5,144.8 279.8,144.7 310.2,144.8 292.9,144.9 278.6,144.9 304.8,144.6 293.9,145.0 287.7,144.8 291.0,144.8 292.9,144.7 314.5,144.9 317.5,144.7 295.9,144.7 312.2,144.7 304.6,144.6 299.0,144.7 314.1,144.7 315.7,144.8 290.8,144.8 314.8,144.9 310.5,144.8 302.1,144.6 310.8,144.9 303.3,144.7 308.0,144.8 290.0,145.0 308.4,144.9 311.1,144.9 292.6,145.0 313.8,144.9 294.7,144.8 278.9,145.0 310.7,144.8 295.9,145.0 277.9,144.8 287.2,144.9 291.4,144.9 313.4,144.8 281.7,144.6 310.9,144.8 294.9,144.6 281.2,144.6 313.4,144.6 335.9,144.8 347.8,144.7 351.2,144.9 367.3,144.6 334.6,144.6 334.3,144.7 322.0,145.0 333.7,144.9 359.2,144.9 321.8,144.8 360.9,144.9 349.2,144.8 359.6,144.8 337.3,144.8 342.9,144.6 352.5,145.0 351.6,144.6 339.8,144.9 326.8,144.8 353.0,144.8 336.3,144.6 354.0,144.6 349.1,144.8 354.9,144.6 366.8,144.9 362.0,144.6 354.7,144.7 353.8,144.9 340.0,145.0 341.4,144.8 354.5,144.6 363.1,144.7 362.7,144.6 326.5,144.8 332.0,144.8 330.1,144.9 355.6,144.9 327.0,144.6 348.2,144.6 354.5,144.8 364.8,145.0 351.7,145.0 344.7,144.7 323.5,144.9 352.2,144.9 344.9,144.8 364.2,144.7 327.2,145.0 356.7,145.0 367.3,144.8 386.0,144.8 416.1,144.7 442.8,144.7 459.3,144.7 397.6,145.0 393.1,144.9 396.6,144.8 414.3,144.7 446.1,145.0 455.2,144.6 374.3,144.8 438.6,144.8 458.5,145.0 433.4,144.7 408.1,144.6 407.4,144.9 400.5,144.6 420.5,145.0 430.1,144.6 410.9,144.7 445.1,144.8 411.9,145.0 398.7,144.8 460.2,144.7 420.6,144.9 402.1,144.9 409.9,145.0 422.1,144.9 423.6,144.9 407.1,144.6 404.7,144.7 373.3,144.9 419.2,144.8 435.4,144.6 383.3,144.9 375.7,145.0 417.7,145.0 449.3,144.8 402.9,144.8 441.2,144.8 436.8,145.0 439.4,144.8 438.8,144.8 424.3,144.8 456.2,145.0 423.1,144.8 381.3,144.8 455.6,144.7 441.7,144.7 436.2,144.7 425.6,144.9 374.9,145.0 419.1,144.7 399.7,144.8 438.7,144.6 378.3,144.7 429.1,144.8 440.7,144.9 405.1,144.8 385.1,144.9 430.3,144.7 432.0,144.6 459.5,144.8 455.0,144.9 391.3,144.9 427.3,144.7 434.4,144.9 433.2,144.7 458.9,145.0 411.1,145.0 461.4,144.7 389.2,144.7 416.1,144.6 393.4,144.9 373.7,144.9 408.7,144.9 395.3,144.8 391.2,144.6 449.8,144.7 398.6,145.0 405.3,144.8 384.7,144.8 450.8,145.0 445.6,145.0 392.8,144.6 383.7,144.9 421.1,144.7 436.1,144.7 426.7,144.8 384.5,144.9 388.6,145.0 440.5,144.8 412.8,144.7 384.5,144.9 405.4,144.8 405.1,144.7 386.7,144.9 411.0,144.6 450.6,144.6 392.6,144.6 286.6,239.6 280.1,239.7 288.3,239.7 284.9,239.3 280.9,239.2 290.4,239.2 290.8,239.7 291.0,239.1 284.9,239.7 299.9,239.2 299.1,239.4 300.7,239.2 323.0,239.5 322.6,239.6 325.2,239.3 322.5,239.5 337.8,239.1 343.6,239.4 337.5,239.2 343.8,239.7 338.6,239.5 336.8,239.4 341.8,239.2 342.1,239.4 334.3,239.1 339.5,239.1 341.3,239.5 342.4,239.7 361.3,239.6 353.0,239.7 366.8,239.5 365.1,239.4 358.4,239.1 359.2,239.6 364.5,239.7 359.8,239.8 357.3,239.0 358.2,239.4 364.1,239.2 351.4,239.6 354.3,239.7 360.6,239.1 359.9,239.6 374.6,239.8 372.7,239.1 379.0,239.5 379.0,239.7 374.4,239.0 378.3,239.3 376.6,239.3 382.3,239.2 380.1,239.5 393.6,239.7 392.9,239.2 391.4,239.6 403.8,239.3 389.5,239.5 395.0,239.4 402.9,239.0 387.7,239.7 408.1,239.1 392.1,239.3 407.3,239.2 410.3,239.1 409.1,239.0 401.5,239.8 404.5,239.7 395.3,239.8 409.0,239.2 405.7,239.7 391.9,239.3 405.7,239.5 409.4,239.3 421.7,239.1 420.5,239.7 420.4,239.7 424.0,239.5 420.7,239.0 419.5,239.7 458.6,239.8 442.8,239.7 446.5,239.3 457.5,239.7 452.1,239.2 438.7,239.1 442.4,239.2 449.6,239.3 441.2,239.7 444.8,239.0 436.4,239.4 436.9,239.4 436.8,239.4 450.7,239.4 441.3,239.7 459.0,239.7 458.0,239.8 444.8,239.4 445.9,239.6 440.1,239.2 446.8,239.4" fill="none" stroke="none" marker-start="url(#ms)" marker-mid="url(#ms)" marker-end="url(#ms)"/>
<path d="M278.2,192.8 C279.1,192.1 281.6,190.1 283.3,188.8 C285.0,187.5 286.8,186.2 288.4,185.2 C290.0,184.2 291.2,183.8 292.8,183.0 C294.4,182.2 296.2,181.3 297.9,180.5 C299.6,179.7 301.4,178.9 303.0,178.2 C304.6,177.5 305.9,176.8 307.4,176.1 C308.9,175.4 310.2,174.9 311.8,174.2 C313.4,173.5 315.3,172.6 316.9,172.0 C318.5,171.4 319.6,170.7 321.3,170.6 C323.0,170.5 325.3,170.7 327.1,171.3 C328.9,171.9 330.5,173.3 332.2,174.2 C333.9,175.1 335.6,176.0 337.3,176.7 C339.0,177.4 340.8,177.8 342.5,178.6 C344.2,179.4 345.9,180.2 347.6,181.5 C349.3,182.8 351.0,185.1 352.7,186.6 C354.4,188.1 356.1,189.2 357.8,190.3 C359.5,191.4 361.0,192.3 362.6,193.2 C364.2,194.0 365.5,194.9 367.3,195.4 C369.1,195.9 371.5,195.9 373.5,196.1 C375.5,196.3 377.2,196.6 379.3,196.6 C381.4,196.6 383.8,196.3 385.9,196.1 C388.0,195.8 389.9,195.4 391.7,195.1 C393.5,194.8 395.1,194.5 396.8,194.2 C398.5,193.9 400.1,193.5 401.9,193.2 C403.7,192.9 405.9,192.7 407.8,192.5 C409.8,192.3 411.7,192.0 413.6,191.9 C415.5,191.8 417.6,191.6 419.4,191.7 C421.2,191.8 422.8,192.1 424.6,192.5 C426.4,192.9 428.5,193.4 430.4,193.9 C432.3,194.4 434.5,195.2 436.2,195.7 C437.9,196.2 439.0,196.5 440.6,196.9 C442.2,197.3 444.0,198.0 445.7,198.3 C447.4,198.7 449.1,198.8 450.8,199.0 C452.5,199.2 454.2,199.5 455.9,199.5 C457.6,199.5 460.1,199.1 461.0,199.0" fill="none" stroke="#000" stroke-width="3.2" stroke-dasharray="3.1 2.7"/>
<polygon points="484.0,210.0 671.0,210.0 671.0,237.0 484.0,237.0" fill="url(#qs)"/>
<polygon points="484.0,180.8 490.6,183.7 497.9,186.6 505.2,185.2 512.5,185.2 519.8,179.3 527.1,175.0 534.4,172.0 541.7,170.6 549.0,171.3 556.3,176.4 563.6,180.8 569.4,183.7 576.0,177.9 580.0,180.8 587.3,185.2 594.6,179.3 601.9,173.5 606.3,173.5 609.2,173.5 612.1,172.5 618.0,170.6 619.4,170.9 623.8,172.0 628.2,171.2 631.1,170.6 635.5,170.6 638.4,170.6 641.3,174.2 644.2,177.9 645.7,179.4 647.2,180.8 651.5,169.1 655.9,188.1 661.8,189.6 670.5,192.5 671.2,195.0 671.2,216.0 670.5,216.0 661.8,218.0 655.9,218.0 651.5,216.0 647.2,213.0 645.7,212.0 644.2,212.7 641.3,214.0 638.4,214.0 635.5,214.0 631.1,215.2 628.2,216.0 623.8,217.0 619.4,218.0 618.0,216.8 612.1,212.0 609.2,213.0 606.3,214.0 601.9,218.0 594.6,218.0 587.3,218.0 580.0,218.0 576.0,220.0 569.4,221.1 563.6,222.0 556.3,220.0 549.0,216.0 541.7,212.0 534.4,218.0 527.1,208.0 519.8,216.0 512.5,214.0 505.2,210.0 497.9,212.0 490.6,212.0 484.0,215.0" fill="url(#ps)"/>
<path d="M669.5,190.5 669.5,215.2 556.6,177.1 556.6,219.5 581.1,180.9 581.1,220.4 545.3,170.4 545.3,216.8 666.0,190.3 666.0,217.4 605.7,173.4 605.7,216.2 610.4,171.6 610.4,214.5 549.8,169.8 549.8,215.9 587.6,182.7 587.6,218.1 539.7,169.5 539.7,214.3 666.5,190.3 666.5,218.1 559.0,177.2 559.0,223.0 581.8,181.0 581.8,218.4 518.7,178.1 518.7,215.0 537.3,168.6 537.3,216.3 591.3,179.5 591.3,220.0 568.6,182.8 568.6,221.9 632.7,170.3 632.7,214.2 586.7,182.9 586.7,220.0 553.4,172.3 553.4,217.5 668.6,189.3 668.6,216.4 658.3,185.9 658.3,218.6 565.0,181.2 565.0,223.9 666.4,189.4 666.4,216.3 524.3,173.7 524.3,211.1 600.1,175.5 600.1,217.4 534.2,172.6 534.2,219.0 558.8,175.2 558.8,219.9 524.7,175.9 524.7,209.9 578.1,179.7 578.1,218.0 537.8,170.0 537.8,216.6 621.7,171.2 621.7,218.2 547.3,170.6 547.3,215.9 657.9,187.7 657.9,219.3 608.7,172.4 608.7,214.2 608.2,172.9 608.2,216.3 541.1,169.7 541.1,215.4 636.5,169.8 636.5,214.2 517.4,179.9 517.4,216.1 564.9,179.5 564.9,222.7 591.4,179.3 591.4,219.6 616.9,168.7 616.9,216.0 491.2,182.8 491.2,213.7 561.1,178.6 561.1,222.7 492.3,181.6 492.3,213.0 657.1,188.2 657.1,218.8 532.6,170.3 532.6,217.1 627.1,169.9 627.1,215.6 535.9,171.5 535.9,218.9 558.9,178.5 558.9,221.3 488.4,180.6 488.4,215.6 616.1,168.6 616.1,215.4 557.9,176.3 557.9,219.5 656.6,187.4 656.6,218.1 489.9,182.7 489.9,215.1 618.5,171.2 618.5,219.8 608.5,170.7 608.5,213.5 592.9,179.3 592.9,217.9 496.7,186.6 496.7,213.7 539.9,169.8 539.9,215.9 511.0,184.7 511.0,213.1 653.4,177.4 653.4,219.6 555.7,175.0 555.7,219.9 549.8,172.6 549.8,219.3 670.1,193.0 670.1,217.0 607.6,174.1 607.6,214.3 656.0,188.3 656.0,218.1 551.3,172.7 551.3,216.9 531.9,170.8 531.9,214.0 654.0,181.1 654.0,219.4 578.3,179.6 578.3,220.6 566.6,181.4 566.6,221.0 529.3,172.5 529.3,211.4 607.4,171.5 607.4,213.6 647.7,179.5 647.7,216.1 629.8,168.6 629.8,216.5 640.1,173.0 640.1,213.9 574.3,178.7 574.3,219.3 529.6,173.9 529.6,213.1 567.7,182.1 567.7,222.4 548.7,168.6 548.7,217.8 628.6,169.8 628.6,218.0 638.9,171.0 638.9,216.2 664.9,187.8 664.9,220.1 568.7,183.4 568.7,223.1 502.4,185.1 502.4,210.1 621.0,169.7 621.0,218.1 535.1,172.1 535.1,219.0 539.9,170.9 539.9,213.2 634.1,170.0 634.1,216.4 599.4,176.5 599.4,219.8 570.8,181.8 570.8,222.1 537.4,169.6 537.4,217.7 637.1,171.5 637.1,215.7 578.5,178.3 578.5,220.6 605.5,174.3 605.5,216.7 555.8,174.2 555.8,218.9 630.1,169.5 630.1,216.1 493.9,184.0 493.9,214.6 535.9,171.7 535.9,218.8 607.6,172.9 607.6,213.6 610.3,172.5 610.3,215.5 580.5,179.5 580.5,220.6 600.9,172.7 600.9,219.6 512.5,182.9 512.5,216.5 570.7,182.7 570.7,220.7 572.1,179.3 572.1,222.8 595.8,176.9 595.8,218.5 523.5,174.9 523.5,213.7 542.4,168.1 542.4,213.0 568.8,184.3 568.8,221.7 559.5,179.2 559.5,222.8 569.9,181.9 569.9,220.9 512.6,184.0 512.6,215.6 503.8,184.4 503.8,210.1 596.6,176.1 596.6,219.7 630.5,169.3 630.5,215.9 498.8,184.3 498.8,213.3 635.0,168.2 635.0,217.0 655.1,183.3 655.1,218.8 609.9,171.6 609.9,213.2 619.1,169.8 619.1,218.5 589.4,181.0 589.4,218.9 539.1,168.8 539.1,215.2 615.5,170.5 615.5,215.8 609.4,172.1 609.4,215.9 524.1,173.8 524.1,212.6 614.2,170.4 614.2,214.3 548.2,169.2 548.2,217.7 645.6,177.4 645.6,213.3 570.0,180.7 570.0,222.9 583.6,183.9 583.6,220.6 653.1,174.1 653.1,216.2 635.6,168.0 635.6,215.7 516.9,181.5 516.9,214.4 500.4,186.6 500.4,212.4 568.3,184.1 568.3,223.4 526.2,175.3 526.2,209.5 570.8,180.7 570.8,220.7 540.7,168.9 540.7,212.6 647.6,178.3 647.6,214.5 635.9,170.3 635.9,213.6 662.4,190.5 662.4,220.2 545.7,171.3 545.7,215.8 489.8,181.9 489.8,214.1 585.9,185.1 585.9,220.2 640.6,174.2 640.6,214.4 654.0,176.7 654.0,219.3 500.4,185.1 500.4,212.1 497.4,186.0 497.4,214.2 525.8,173.7 525.8,211.5 582.9,179.6 582.9,218.2 660.7,187.4 660.7,218.2 568.4,183.8 568.4,223.5 556.1,175.9 556.1,219.0 496.1,184.4 496.1,213.5 510.3,182.4 510.3,215.2 518.8,177.3 518.8,215.1 498.8,184.6 498.8,213.1 606.9,171.6 606.9,214.9 546.2,170.4 546.2,213.9 600.8,171.3 600.8,220.7 523.2,176.5 523.2,212.1 567.2,180.7 567.2,223.0 629.9,171.2 629.9,218.4 569.2,182.8 569.2,221.5 537.9,170.4 537.9,218.0 494.4,185.2 494.4,212.3 595.9,176.3 595.9,219.9 576.9,176.8 576.9,220.3 484.9,178.6 484.9,217.2 499.4,184.9 499.4,213.3 490.8,184.5 490.8,211.8 664.1,189.1 664.1,218.8 597.0,174.7 597.0,219.0 624.3,172.1 624.3,218.8 611.4,170.3 611.4,212.9 579.3,177.5 579.3,220.4 503.1,184.9 503.1,210.6 514.5,184.4 514.5,216.0 621.2,170.8 621.2,218.9 647.3,177.7 647.3,213.6 525.0,175.6 525.0,210.9 656.4,186.2 656.4,218.1 655.7,187.2 655.7,218.6 553.9,174.7 553.9,218.3 619.1,168.8 619.1,220.0 497.8,187.2 497.8,214.4 488.6,180.4 488.6,215.6 637.3,168.8 637.3,216.2 592.6,178.9 592.6,219.8 561.7,177.2 561.7,223.9 618.3,168.7 618.3,217.8 611.8,171.1 611.8,212.1 582.6,183.1 582.6,217.4 531.1,172.3 531.1,216.5 669.8,189.3 669.8,217.7 509.9,183.0 509.9,212.1 577.6,180.0 577.6,222.1 552.7,174.5 552.7,219.8 497.9,187.2 497.9,212.1 667.2,188.9 667.2,219.4 580.0,179.9 580.0,217.7 575.4,178.5 575.4,221.3 667.5,190.6 667.5,219.3 509.0,185.1 509.0,213.5 649.3,173.5 649.3,215.3 636.2,168.6 636.2,214.5 642.5,175.3 642.5,214.4 486.9,182.1 486.9,214.3 528.5,173.0 528.5,209.5 641.4,174.6 641.4,216.8 610.2,170.8 610.2,213.3 670.4,189.5 670.4,216.4 511.9,182.9 511.9,213.8 599.9,172.4 599.9,220.5 564.5,179.0 564.5,221.3 582.2,180.5 582.2,219.0 504.2,183.8 504.2,211.3 499.8,185.2 499.8,213.9 594.4,177.0 594.4,219.5 499.5,183.9 499.5,210.6 583.3,180.5 583.3,218.1 506.6,185.8 506.6,210.3 610.2,173.4 610.2,213.4 593.1,178.9 593.1,220.3 612.4,169.8 612.4,214.0 510.3,184.1 510.3,212.6 574.7,178.7 574.7,222.1 544.9,168.1 544.9,214.6 655.2,184.2 655.2,219.2 627.3,170.9 627.3,219.0 662.7,189.9 662.7,220.0 510.5,183.3 510.5,214.8 592.7,181.3 592.7,220.1 546.0,168.7 546.0,216.0 504.8,184.3 504.8,210.2 559.1,177.7 559.1,222.3 599.6,172.6 599.6,220.6 615.9,171.9 615.9,216.6 605.0,174.1 605.0,217.1 602.8,170.7 602.8,216.3 618.2,171.0 618.2,217.6 523.4,175.9 523.4,214.4 625.4,169.2 625.4,216.4 522.9,177.5 522.9,212.6 650.4,170.9 650.4,215.0 561.8,177.3 561.8,224.0 488.3,181.4 488.3,213.5 491.2,181.8 491.2,215.0 644.8,177.2 644.8,214.9 654.0,180.4 654.0,219.0 590.2,181.9 590.2,219.9 596.6,178.6 596.6,217.7 652.2,172.1 652.2,217.1 642.8,174.2 642.8,213.9 592.0,182.3 592.0,218.0 642.6,175.6 642.6,216.1 540.2,170.6 540.2,215.8 649.5,174.4 649.5,217.0 602.7,172.7 602.7,217.0 581.1,182.3 581.1,220.8 491.9,182.4 491.9,212.0 641.6,172.4 641.6,215.9 520.7,177.1 520.7,217.9 507.5,184.5 507.5,211.3 625.5,168.9 625.5,218.3 532.2,173.7 532.2,215.3 609.3,170.6 609.3,215.7 602.6,174.2 602.6,219.3 495.3,185.5 495.3,212.5 521.6,178.8 521.6,215.7 549.4,168.8 549.4,217.8 495.2,183.5 495.2,211.2 516.2,182.2 516.2,215.1 668.6,190.0 668.6,218.6 621.8,171.1 621.8,218.9 510.2,185.5 510.2,215.4 583.4,180.6 583.4,217.3 531.9,173.9 531.9,214.9 536.5,170.7 536.5,215.4 631.8,170.7 631.8,215.2 489.6,183.9 489.6,214.7 627.0,169.2 627.0,219.1 604.0,170.6 604.0,219.0 614.7,169.4 614.7,216.7 595.8,177.9 595.8,217.1 524.0,177.0 524.0,210.5 520.3,176.3 520.3,216.8 509.8,185.3 509.8,213.3 630.4,171.4 630.4,218.3 519.9,177.7 519.9,218.1 546.2,171.8 546.2,214.8 601.3,172.0 601.3,219.9 537.1,170.2 537.1,217.7 639.0,169.0 639.0,213.7 523.7,177.1 523.7,213.4 618.2,170.9 618.2,217.0 577.0,175.6 577.0,219.9 483.0,189.7 482.4,188.1 483.5,204.2 484.1,203.5 483.6,182.5 484.5,203.1 482.3,204.0 482.2,203.6 482.5,209.5 483.0,199.0 484.3,188.9 484.5,184.6 483.6,190.8 483.1,209.1 484.0,211.4 482.3,187.4 483.0,187.6 484.6,188.3 484.2,181.1 484.7,208.4 482.2,210.3 484.6,181.6 482.2,193.6 671.4,209.7 672.0,201.9 670.9,197.4 672.5,214.0 670.5,199.7 672.0,200.6 671.9,205.5 671.2,197.5 671.7,212.0 670.8,206.3 672.8,207.0 671.4,214.5 672.7,215.9 671.3,205.2 525.4,174.7 541.0,165.2 531.3,176.4 516.5,151.3 500.2,155.0 492.8,179.2 535.1,173.3 525.8,164.2 504.7,176.4 522.7,160.4 552.3,175.7 575.8,162.9 523.0,174.3 523.1,153.7 528.0,157.1 507.7,172.5 516.1,167.6 511.9,150.8 555.9,172.6 548.9,167.1 500.0,163.5 560.6,172.9 538.4,167.8 499.7,148.8 561.8,147.6 507.3,160.2 548.4,170.0 563.7,177.7 509.0,155.2 495.2,157.9 493.5,178.7 536.9,163.2 489.3,177.1 506.5,172.4 502.8,155.9 496.6,164.7 510.2,165.9 549.8,154.5 496.1,164.0 520.8,161.7 517.9,152.4 495.3,171.0 542.4,169.7 542.8,163.9 502.1,177.2 533.0,162.1 508.0,159.4 574.2,160.4 558.0,151.1 539.1,156.0 505.5,157.0 520.5,168.2 513.3,235.5 495.2,235.4 515.4,234.3 512.4,224.6 548.4,231.5 536.0,229.4 535.2,237.2 537.3,237.4 509.2,225.4 547.6,235.0 548.0,227.8 513.8,237.1 498.6,223.0 496.4,225.4 514.1,226.9 517.1,220.6 508.6,229.1 487.9,228.7 549.2,231.8 552.1,235.5 519.6,220.4 488.3,230.4 544.7,226.0 493.5,233.7 522.8,228.4 493.2,230.0 525.3,232.8 549.0,221.4 543.8,225.8 513.9,226.2 542.1,227.9 489.1,228.5 494.7,220.3 487.7,226.9 516.4,220.0 493.8,236.2 523.2,237.6 523.1,237.2 533.8,227.0 487.6,222.7 541.0,231.9 505.4,222.9 530.1,236.7 501.9,237.9 522.5,223.7 593.7,166.9 649.6,152.7 597.9,151.0 595.6,153.3 611.3,153.7 629.7,153.7 600.0,158.7 592.7,148.4 586.8,147.1 630.6,148.4 616.0,171.9 626.1,155.6 610.2,159.0 604.1,148.5 591.7,151.0 595.6,156.3 587.7,164.2 595.0,161.3 632.0,160.9 635.6,168.8 613.6,152.9 583.2,166.4 607.6,155.1 586.3,152.0 646.9,160.2 643.5,170.6 598.6,153.3 646.5,153.6 624.9,173.2 614.9,158.9 670.1,184.1 669.5,177.4 654.7,149.1 650.5,186.7 661.4,185.0 670.1,157.2 670.4,158.8 653.8,158.7 670.9,187.4 657.4,167.7 667.3,181.6 668.8,162.6 654.9,169.1 669.6,173.4 668.3,155.4 660.7,186.4 662.0,181.1 667.0,166.0 664.5,176.7 659.2,169.4 667.0,184.9 670.7,162.8 665.8,232.2 668.6,228.1 662.5,228.3 667.9,234.2 655.1,226.4 657.3,232.7 667.4,229.5 656.3,232.6 664.8,230.6 659.3,229.5 658.7,235.6 661.1,234.3 630.2,223.7 618.3,230.7 644.0,234.7 612.8,224.1 610.4,223.0 623.0,231.5 646.3,229.5 612.4,226.0 612.3,224.5 631.3,228.0 613.6,224.4 645.4,230.1 632.5,225.2 619.2,232.2 606.7,230.5 648.1,230.2 608.1,220.5 640.5,223.0 624.6,230.4 635.7,224.6 636.0,234.6 626.6,226.3 499.8,145.0 499.8,145.0 501.9,145.0 490.3,144.9 489.4,144.6 492.3,145.0 491.3,144.7 505.1,145.0 501.4,144.7 502.8,144.6 485.0,144.6 492.1,144.7 503.6,144.8 503.4,144.8 493.0,144.7 485.8,144.8 505.6,145.0 505.2,144.6 494.5,145.0 488.2,144.6 489.3,144.6 501.0,144.9 506.4,144.6 500.2,144.9 488.7,144.6 571.2,144.9 515.2,144.6 551.4,144.6 537.8,144.6 516.6,144.8 544.3,145.0 511.2,144.7 515.4,144.8 521.1,144.7 570.5,144.9 552.0,144.9 523.4,144.9 570.6,144.6 562.5,144.7 523.4,144.9 563.3,144.6 523.1,144.8 523.6,144.8 571.8,144.6 537.3,144.7 521.2,144.8 569.2,144.8 545.3,144.9 563.7,145.0 531.5,144.6 567.3,144.9 565.2,144.6 559.5,144.6 519.1,144.6 533.2,144.8 551.4,145.0 537.4,144.8 536.2,144.7 527.3,144.6 526.7,144.9 560.1,144.9 538.1,144.8 522.6,144.7 572.3,144.8 535.8,144.8 541.2,144.7 536.7,144.8 566.2,145.0 528.7,144.8 524.6,145.0 519.4,144.8 511.7,144.8 539.2,144.6 520.3,144.8 540.1,144.7 514.3,144.7 532.4,144.6 547.8,144.7 543.6,144.9 511.9,144.8 550.1,145.0 553.4,145.0 551.7,144.7 560.9,144.9 540.9,145.0 514.0,145.0 532.9,144.8 559.9,144.6 541.5,144.6 513.2,145.0 599.9,144.8 590.9,145.0 625.9,145.0 604.6,144.8 602.4,144.8 644.0,144.8 632.9,144.7 666.2,144.6 595.1,144.9 668.0,145.0 602.3,145.0 621.3,144.8 638.6,144.9 659.6,145.0 608.6,145.0 608.6,144.9 594.3,144.9 607.2,145.0 640.2,144.7 667.1,144.6 647.6,144.9 581.5,144.8 590.5,145.0 589.0,144.9 629.2,144.6 664.6,144.8 635.9,144.7 593.9,144.7 583.1,144.7 624.9,144.7 648.8,144.6 598.7,144.8 642.2,144.7 598.7,144.6 612.9,144.7 652.1,144.7 610.8,144.9 598.7,144.6 668.0,145.0 608.6,144.7 621.6,144.7 651.2,145.0 644.4,144.7 656.0,145.0 596.6,144.9 595.6,145.0 652.0,144.8 647.1,144.7 585.8,144.8 586.8,144.8 657.2,144.8 604.1,144.7 630.5,144.8 661.8,144.6 622.2,144.8 614.1,144.6 614.7,144.8 597.6,144.7 627.7,145.0 623.7,144.7 583.1,144.8 611.1,144.6 622.9,144.9 611.8,144.9 637.2,144.6 584.5,144.8 634.8,144.8 600.7,144.7 645.0,144.7 627.9,144.7 636.9,144.8 580.3,144.9 652.7,145.0 665.3,144.9 622.2,144.7 643.7,144.8 609.2,144.6 634.8,144.9 649.6,144.6 598.5,144.9 591.7,145.0 663.9,144.9 603.7,144.8 649.3,144.7 638.8,144.9 662.2,144.9 640.6,144.8 660.5,144.9 642.4,144.7 589.7,144.8 488.0,239.8 488.0,239.7 489.7,239.2 493.2,239.3 499.3,239.5 486.3,239.2 486.4,239.4 492.5,239.3 494.6,239.4 496.8,239.5 488.6,239.7 485.2,239.2 485.2,239.8 492.6,239.7 499.3,239.1 511.5,239.0 509.4,239.6 506.2,239.7 510.1,239.4 505.2,239.1 503.1,239.4 507.7,239.2 524.7,239.1 520.7,239.5 518.1,239.4 517.8,239.7 519.1,239.7 531.6,239.8 520.4,239.5 516.6,239.8 527.6,239.0 517.8,239.1 521.5,239.7 529.3,239.3 529.6,239.0 525.0,239.3 516.7,239.7 527.0,239.8 526.7,239.5 517.6,239.4 543.7,239.4 541.5,239.4 539.1,239.0 537.9,239.1 536.8,239.0 542.5,239.8 542.0,239.7 537.8,239.7 539.3,239.7 555.4,239.2 563.2,239.2 556.0,239.6 570.3,239.8 566.7,239.3 561.7,239.5 565.0,239.7 564.3,239.8 561.9,239.4 549.8,239.3 562.0,239.0 560.9,239.1 556.2,239.7 573.7,239.1 564.9,239.4 550.4,239.2 563.4,239.3 564.4,239.1 565.6,239.5 554.1,239.5 574.2,239.7 565.7,239.4 569.2,239.4 568.1,239.3 564.0,239.6 564.8,239.5 559.4,239.3 606.8,239.4 598.0,239.3 591.9,239.5 615.9,239.2 606.6,239.4 606.1,239.5 596.4,239.0 594.9,239.4 605.7,239.7 606.9,239.5 594.3,239.6 585.3,239.7 600.0,239.4 608.3,239.4 620.7,239.1 582.6,239.5 589.3,239.2 620.8,239.4 592.0,239.3 589.2,239.2 585.5,239.8 610.1,239.3 584.5,239.8 616.4,239.1 615.5,239.4 620.3,239.4 597.8,239.0 603.6,239.2 616.0,239.2 616.1,239.3 613.0,239.6 618.2,239.5 594.7,239.2 589.6,239.1 592.2,239.3 613.7,239.0 600.5,239.4 586.5,239.6 588.5,239.6 586.9,239.7 592.8,239.1 586.2,239.2 585.4,239.3 619.7,239.3 596.1,239.6 625.2,239.1 640.3,239.3 627.1,239.1 637.9,239.8 631.4,239.6 632.6,239.2 629.8,239.3 628.6,239.6 625.5,239.3 637.8,239.0 642.1,239.5 636.2,239.2 627.7,239.7 642.3,239.0 639.3,239.2 625.3,239.5 625.6,239.7 639.8,239.2 626.6,239.4 638.0,239.0 637.2,239.1 661.8,239.1 658.3,239.4 660.9,239.7 667.9,239.6 663.3,239.5 661.3,239.4 663.8,239.3" fill="none" stroke="none" marker-start="url(#ms)" marker-mid="url(#ms)" marker-end="url(#ms)"/>
<path d="M486.2,202.0 C487.1,201.8 489.6,201.2 491.3,200.9 C493.0,200.7 494.6,200.6 496.4,200.5 C498.2,200.4 500.4,200.3 502.3,200.2 C504.2,200.1 506.2,200.1 508.1,200.1 C510.1,200.1 512.0,200.3 514.0,200.1 C516.0,199.9 518.1,199.5 519.8,199.0 C521.5,198.5 522.7,197.6 524.2,196.9 C525.7,196.2 527.0,195.4 528.6,194.7 C530.2,194.0 532.0,193.1 533.7,192.5 C535.4,191.9 537.1,191.2 538.8,191.0 C540.5,190.8 542.2,190.9 543.9,191.3 C545.6,191.7 547.2,192.6 549.0,193.2 C550.8,193.8 553.0,194.2 554.8,194.7 C556.6,195.2 558.2,195.5 559.9,196.1 C561.6,196.7 563.3,197.4 565.0,198.0 C566.7,198.6 568.5,199.3 570.2,199.8 C571.9,200.3 573.4,201.0 575.0,201.2 C576.6,201.4 578.3,201.1 580.0,201.2 C581.7,201.3 583.3,202.0 585.1,202.0 C586.9,202.0 589.0,201.5 591.0,201.2 C593.0,200.9 595.0,200.7 596.8,200.2 C598.6,199.7 600.3,199.0 601.9,198.3 C603.5,197.6 604.7,196.8 606.3,196.1 C607.9,195.4 609.8,194.6 611.4,193.9 C613.0,193.2 614.3,192.4 615.8,191.7 C617.3,191.0 618.9,190.3 620.6,189.8 C622.3,189.3 624.4,188.8 626.0,188.8 C627.6,188.8 628.9,189.2 630.4,189.6 C631.9,190.0 633.2,190.5 634.7,191.3 C636.2,192.1 638.0,193.2 639.6,194.2 C641.2,195.2 642.7,196.2 644.2,197.1 C645.7,198.0 647.1,198.9 648.6,199.8 C650.1,200.7 651.4,201.9 653.0,202.7 C654.6,203.5 656.4,204.0 658.1,204.4 C659.8,204.8 661.5,205.1 663.2,205.3 C664.9,205.5 667.4,205.6 668.3,205.6" fill="none" stroke="#000" stroke-width="3.2" stroke-dasharray="3.1 2.7"/>
<polygon points="66.8,314.3 75.5,310.0 76.0,304.0 90.0,304.0 90.1,314.3 98.0,311.0 107.6,313.0 107.7,320.2 119.3,320.2 119.4,315.8 128.0,315.8 128.5,315.7 140.0,314.0 157.3,315.8 162.0,315.8 176.6,315.8 177.0,315.8 185.4,315.8 185.5,315.8 191.0,315.8 191.2,314.3 194.0,314.3 194.2,314.3 200.0,314.3 200.1,314.3 213.0,314.3 213.1,314.3 220.0,314.3 220.4,321.6 223.0,321.6 223.1,321.6 227.7,321.6 228.0,315.8 243.7,315.8 243.8,315.8 249.6,315.8 249.7,315.8 254.0,315.8 254.0,348.0 249.7,348.0 249.6,353.8 243.8,353.8 243.7,346.5 228.0,346.5 227.7,346.5 223.1,346.5 223.0,353.8 220.4,353.8 220.0,353.8 213.1,353.8 213.0,356.7 200.1,356.7 200.0,362.5 194.2,362.5 194.0,348.0 191.2,348.0 191.0,348.0 185.5,348.0 185.4,359.6 177.0,359.6 176.6,348.0 162.0,348.0 157.3,358.1 140.0,358.1 128.5,358.1 128.0,342.1 119.4,342.1 119.3,336.2 107.7,336.2 107.6,340.6 98.0,340.6 90.1,340.6 90.0,362.5 76.0,362.5 75.5,355.0 66.8,353.8" fill="url(#qd)"/>
<polygon points="66.8,318.0 75.5,318.0 76.0,318.0 90.0,318.0 90.1,318.0 98.0,318.0 107.6,318.0 107.7,320.2 119.3,320.2 119.4,318.0 128.0,318.0 128.5,318.0 140.0,318.0 157.3,318.0 162.0,318.0 176.6,318.0 177.0,318.0 185.4,318.0 185.5,318.0 191.0,318.0 191.2,318.0 194.0,318.0 194.2,318.0 200.0,318.0 200.1,318.0 213.0,318.0 213.1,318.0 220.0,318.0 220.4,321.6 223.0,321.6 223.1,321.6 227.7,321.6 228.0,318.0 243.7,318.0 243.8,318.0 249.6,318.0 249.7,318.0 254.0,318.0 254.0,342.0 249.7,342.0 249.6,342.0 243.8,342.0 243.7,342.0 228.0,342.0 227.7,342.0 223.1,342.0 223.0,342.0 220.4,342.0 220.0,342.0 213.1,342.0 213.0,342.0 200.1,342.0 200.0,342.0 194.2,342.0 194.0,342.0 191.2,342.0 191.0,342.0 185.5,342.0 185.4,342.0 177.0,342.0 176.6,342.0 162.0,342.0 157.3,342.0 140.0,342.0 128.5,342.0 128.0,342.0 119.4,342.0 119.3,336.2 107.7,336.2 107.6,340.6 98.0,340.6 90.1,340.6 90.0,342.0 76.0,342.0 75.5,342.0 66.8,342.0" fill="url(#pd)"/>
<polygon points="76.0,304.0 90.0,304.0 90.0,362.0 76.0,362.0" fill="url(#pd)"/>
<path d="M150.0,318.3 150.0,345.9 204.6,318.3 204.6,342.5 80.7,315.1 80.7,343.5 209.9,317.7 209.9,345.6 212.6,315.5 212.6,341.3 157.1,315.6 157.1,345.3 236.3,316.7 236.3,344.9 202.9,316.6 202.9,343.2 245.2,318.0 245.2,343.9 251.5,314.7 251.5,344.8 169.8,315.6 169.8,341.6 175.6,318.3 175.6,341.9 235.0,318.9 235.0,342.0 170.2,316.4 170.2,342.7 89.2,315.3 89.2,345.7 224.1,322.4 224.1,343.5 160.3,314.3 160.3,343.1 175.7,319.0 175.7,341.3 189.7,314.2 189.7,345.9 104.6,317.5 104.6,342.8 105.3,316.3 105.3,341.7 100.3,316.0 100.3,339.9 199.3,318.9 199.3,343.7 141.6,316.6 141.6,341.7 205.1,317.5 205.1,341.5 137.5,314.6 137.5,344.5 69.6,318.4 69.6,341.3 223.2,318.6 223.2,343.6 200.0,318.7 200.0,345.4 95.3,317.6 95.3,341.8 98.2,316.3 98.2,344.3 70.4,317.5 70.4,343.7 232.0,316.4 232.0,342.2 226.1,318.1 226.1,344.4 121.8,314.3 121.8,341.8 225.9,318.4 225.9,345.6 94.4,318.6 94.4,339.9 190.2,316.7 190.2,344.0 240.0,315.1 240.0,346.0 173.5,318.0 173.5,342.3 253.5,317.6 253.5,343.4 107.5,318.4 107.5,342.4 252.0,318.4 252.0,344.7 201.9,314.8 201.9,345.2 200.6,314.5 200.6,341.3 85.8,315.1 85.8,344.8 210.5,317.5 210.5,342.8 242.4,314.8 242.4,342.1 149.4,315.3 149.4,344.7 223.0,321.3 223.0,342.6 175.4,315.6 175.4,343.7 166.2,314.8 166.2,345.2 218.9,317.9 218.9,341.5 110.6,319.9 110.6,339.2 182.4,318.7 182.4,343.1 109.3,318.6 109.3,336.7 138.1,317.9 138.1,342.6 200.2,317.0 200.2,341.1 162.4,318.3 162.4,344.2 226.2,320.8 226.2,346.0 74.1,316.1 74.1,342.0 208.4,315.5 208.4,344.3 189.5,314.1 189.5,344.1 128.4,315.3 128.4,344.2 185.1,315.1 185.1,344.6 80.9,314.3 80.9,345.4 240.6,318.7 240.6,346.0 205.5,316.8 205.5,343.6 167.0,318.7 167.0,345.8 148.4,315.0 148.4,343.7 146.0,318.0 146.0,345.6 182.8,314.4 182.8,343.7 90.9,316.7 90.9,343.7 192.8,316.3 192.8,341.8 241.1,318.4 241.1,343.4 76.6,317.4 76.6,343.0 141.2,315.9 141.2,342.4 93.1,317.3 93.1,342.2 147.5,317.8 147.5,343.5 97.1,315.3 97.1,342.4 191.5,317.2 191.5,344.7 133.7,317.8 133.7,343.9 114.4,316.8 114.4,338.3 225.4,322.4 225.4,345.1 220.8,320.5 220.8,342.2 122.3,318.3 122.3,342.4 157.4,316.7 157.4,341.1 87.6,315.0 87.6,345.0 213.8,314.4 213.8,341.8 251.5,314.8 251.5,345.0 176.6,318.4 176.6,344.7 85.0,317.8 85.0,344.6 74.6,318.7 74.6,342.5 153.7,316.6 153.7,343.8 173.5,314.3 173.5,345.3 164.8,314.5 164.8,343.5 102.2,316.2 102.2,343.2 207.9,314.8 207.9,342.4 248.1,317.1 248.1,341.9 180.9,315.2 180.9,341.4 190.0,314.6 190.0,341.7 193.8,318.8 193.8,341.3 207.0,314.7 207.0,341.3 69.9,314.1 69.9,344.7 236.6,314.1 236.6,341.8 75.6,316.0 75.6,342.6 102.8,318.1 102.8,340.1 185.2,314.7 185.2,344.3 91.0,315.0 91.0,344.5 116.7,318.5 116.7,338.5 253.8,316.7 253.8,341.6 192.0,317.4 192.0,343.9 138.9,318.1 138.9,341.3 169.1,316.7 169.1,345.6 212.7,315.2 212.7,342.9 178.4,315.9 178.4,341.3 252.6,316.3 252.6,341.7 95.4,314.1 95.4,344.2 93.0,316.8 93.0,344.3 210.6,317.0 210.6,342.4 192.9,318.0 192.9,342.0 109.6,318.3 109.6,338.2 233.4,317.0 233.4,342.3 202.6,314.8 202.6,341.5 68.6,316.9 68.6,343.9 153.8,316.8 153.8,341.9 106.2,316.9 106.2,341.6 160.3,318.6 160.3,343.3 206.1,314.3 206.1,343.5 76.9,315.0 76.9,341.9 138.7,314.8 138.7,345.7 123.1,315.5 123.1,341.4 135.9,317.9 135.9,343.7 234.1,317.1 234.1,344.2 146.7,318.2 146.7,343.2 92.9,315.1 92.9,343.6 77.6,314.9 77.6,344.1 194.5,316.3 194.5,344.3 145.4,316.9 145.4,341.2 143.9,318.9 143.9,343.9 130.6,317.1 130.6,345.9 154.0,316.1 154.0,345.1 226.1,318.7 226.1,344.3 122.7,315.8 122.7,345.0 134.7,318.6 134.7,343.4 229.2,314.6 229.2,343.0 73.1,318.3 73.1,345.4 157.8,316.3 157.8,345.9 139.2,315.5 139.2,341.7 238.8,318.0 238.8,343.6 203.4,318.2 203.4,344.3 87.1,317.2 87.1,345.4 155.8,316.1 155.8,344.2 102.5,315.1 102.5,343.0 252.8,314.6 252.8,344.3 161.0,314.2 161.0,341.8 123.9,317.5 123.9,341.7 136.7,317.1 136.7,344.8 253.2,318.2 253.2,342.0 171.5,317.0 171.5,343.8 178.6,315.9 178.6,342.2 191.7,318.4 191.7,344.4 190.0,318.8 190.0,342.3 174.4,318.1 174.4,344.3 67.0,316.6 67.0,345.1 104.7,316.0 104.7,344.5 151.8,316.7 151.8,344.0 225.9,319.9 225.9,345.5 198.8,316.0 198.8,344.1 123.0,314.3 123.0,343.4 75.4,315.5 75.4,345.2 248.5,315.0 248.5,341.8 132.9,316.3 132.9,341.7 217.8,314.8 217.8,343.7 117.7,319.4 117.7,335.8 159.3,318.2 159.3,341.1 103.0,314.4 103.0,343.8 192.4,315.2 192.4,345.5 99.2,316.4 99.2,343.2 179.3,314.3 179.3,341.2 101.3,318.7 101.3,344.1 123.0,314.2 123.0,344.2 103.9,318.5 103.9,344.2 213.2,317.9 213.2,344.9 222.5,319.5 222.5,344.6 69.2,317.5 69.2,343.2 251.1,317.9 251.1,343.3 199.1,316.9 199.1,344.1 68.3,315.1 68.3,342.3 198.5,318.6 198.5,344.1 208.7,317.2 208.7,341.7 114.6,319.1 114.6,339.0 145.3,317.5 145.3,342.7 125.7,314.8 125.7,343.1 175.3,314.5 175.3,345.7 68.4,317.7 68.4,342.7 242.4,315.4 242.4,341.1 196.1,315.9 196.1,345.1 191.6,316.2 191.6,344.3 194.3,315.6 194.3,342.0 189.1,316.8 189.1,341.2 97.1,316.2 97.1,340.0 165.0,316.0 165.0,342.5 207.3,317.7 207.3,341.3 178.5,319.0 178.5,344.0 251.2,315.2 251.2,342.1 128.0,315.2 128.0,341.8 114.5,318.7 114.5,339.3 211.4,314.2 211.4,344.8 186.3,315.3 186.3,341.0 227.7,317.7 227.7,342.3 123.7,318.0 123.7,345.7 238.2,318.2 238.2,345.2 155.2,314.3 155.2,342.2 93.1,314.6 93.1,340.3 126.5,314.3 126.5,342.5 226.9,318.8 226.9,343.5 226.1,317.7 226.1,344.6 168.5,314.2 168.5,345.5 215.7,314.5 215.7,345.8 174.8,317.2 174.8,342.1 72.5,317.5 72.5,344.6 100.7,314.2 100.7,342.5 124.4,315.7 124.4,345.3 172.7,314.6 172.7,344.5 201.7,316.8 201.7,345.8 155.9,317.2 155.9,341.3 123.2,315.5 123.2,343.1 162.5,314.6 162.5,344.5 77.0,315.3 77.0,343.9 71.3,315.6 71.3,345.0 203.7,315.9 203.7,341.8 207.2,318.3 207.2,341.4 145.1,316.7 145.1,344.5 104.8,318.1 104.8,342.6 216.3,318.7 216.3,344.4 192.3,315.5 192.3,342.4 136.8,318.1 136.8,344.0 118.9,320.7 118.9,337.8 250.0,317.3 250.0,344.7 131.3,319.0 131.3,343.4 192.9,316.0 192.9,343.6 99.9,315.8 99.9,341.7 205.9,314.8 205.9,342.0 187.3,316.4 187.3,345.4 70.4,316.2 70.4,345.2 208.1,315.8 208.1,343.6 141.1,314.0 141.1,341.4 109.5,320.6 109.5,336.2 120.2,316.8 120.2,344.5 188.2,315.5 188.2,342.7 69.2,318.0 69.2,342.9 121.4,315.0 121.4,343.5 94.8,315.6 94.8,340.1 102.4,316.6 102.4,341.2 86.9,318.4 86.9,341.3 144.1,315.5 144.1,341.3 122.2,316.2 122.2,344.4 115.3,318.1 115.3,339.7 185.6,316.2 185.6,342.1 213.9,318.7 213.9,342.2 226.1,319.5 226.1,343.4 71.6,315.2 71.6,342.2 104.7,318.1 104.7,344.4 126.5,318.0 126.5,342.5 175.6,315.0 175.6,345.5 163.3,317.0 163.3,345.0 164.8,316.4 164.8,344.6 155.6,316.9 155.6,342.5 95.4,315.1 95.4,344.5 177.3,314.1 177.3,341.9 176.0,316.6 176.0,345.9 235.9,314.4 235.9,345.0 250.8,317.7 250.8,345.8 138.1,317.1 138.1,344.4 215.9,317.6 215.9,345.1 130.0,318.0 130.0,344.0 246.7,315.6 246.7,344.1 228.0,318.4 228.0,344.5 94.1,314.8 94.1,341.2 188.8,314.2 188.8,344.3 89.3,315.0 89.3,342.4 169.5,317.6 169.5,345.7 109.6,316.6 109.6,339.5 177.2,318.6 177.2,344.6 91.2,315.8 91.2,340.7 151.1,315.4 151.1,345.3 234.5,314.9 234.5,346.0 246.9,315.9 246.9,345.4 243.9,317.7 243.9,342.8 184.6,317.8 184.6,342.7 155.8,314.4 155.8,341.8 215.7,315.5 215.7,344.5 147.2,317.6 147.2,342.4 83.1,317.3 83.1,342.3 105.1,316.3 105.1,342.1 233.5,317.5 233.5,343.2 149.3,317.0 149.3,341.6 122.6,317.0 122.6,345.7 179.3,315.0 179.3,345.8 215.8,315.1 215.8,342.8 73.1,317.8 73.1,342.1 221.5,321.2 221.5,344.9 172.5,315.2 172.5,341.2 178.1,314.1 178.1,343.6 211.7,314.7 211.7,343.2 168.1,314.8 168.1,342.0 181.1,314.9 181.1,341.8 108.1,320.9 108.1,339.7 87.6,316.9 87.6,343.1 72.6,315.3 72.6,344.3 70.5,318.8 70.5,342.4 131.9,318.7 131.9,341.7 91.3,316.4 91.3,341.2 126.5,316.9 126.5,345.8 144.5,314.2 144.5,342.9 226.4,319.8 226.4,341.3 113.5,317.3 113.5,337.0 126.4,317.4 126.4,344.6 75.2,314.7 75.2,345.1 230.7,317.9 230.7,341.9 196.5,314.4 196.5,344.4 108.2,320.4 108.2,339.4 154.3,317.6 154.3,345.7 234.0,317.2 234.0,344.1 133.6,317.4 133.6,341.7 152.5,314.4 152.5,341.5 191.8,316.1 191.8,342.0 244.4,315.5 244.4,343.7 158.6,314.9 158.6,346.0 208.8,318.5 208.8,342.5 237.3,318.6 237.3,345.7 100.1,314.8 100.1,340.0 83.6,317.5 83.6,341.3 153.8,315.8 153.8,344.6 75.5,317.6 75.5,345.8 122.4,316.0 122.4,344.7 124.0,318.2 124.0,346.0 108.5,318.6 108.5,335.9 171.2,316.0 171.2,345.9 202.9,319.0 202.9,345.1 221.2,319.5 221.2,344.3 88.0,315.7 88.0,345.6 250.2,314.9 250.2,343.5 142.6,317.1 142.6,344.0 115.7,320.6 115.7,337.5 212.0,317.6 212.0,345.9 163.2,316.9 163.2,344.9 109.8,316.4 109.8,339.3 196.7,317.7 196.7,345.0 104.3,318.4 104.3,342.8 243.6,316.8 243.6,345.3 77.4,314.8 77.4,343.8 191.8,315.9 191.8,341.4 232.7,314.4 232.7,345.4 110.4,319.7 110.4,338.2 111.0,317.8 111.0,336.4 166.6,315.4 166.6,343.7 119.6,314.6 119.6,344.5 115.8,320.9 115.8,337.2 115.9,319.8 115.9,339.7 136.1,317.7 136.1,342.7 252.9,315.5 252.9,341.2 67.5,316.7 67.5,344.1 120.4,316.1 120.4,343.0 134.8,314.9 134.8,343.7 191.5,314.1 191.5,345.4 115.4,318.6 115.4,336.3 192.8,316.0 192.8,343.9 143.2,316.5 143.2,341.4 250.6,316.1 250.6,342.7 225.3,319.1 225.3,345.0 146.2,314.6 146.2,343.9 119.3,317.2 119.3,340.1 242.2,316.4 242.2,345.0 192.2,315.5 192.2,341.6 175.6,315.0 175.6,344.8 178.2,315.1 178.2,344.9 248.0,316.4 248.0,345.8 151.0,314.1 151.0,343.3 132.8,318.6 132.8,343.6 246.7,314.8 246.7,342.9 69.5,314.3 69.5,344.6 73.0,315.1 73.0,343.2 239.2,315.2 239.2,341.0 198.1,317.5 198.1,341.7 240.5,318.3 240.5,345.7 221.0,320.3 221.0,344.5 90.0,317.2 90.0,342.7 129.7,315.6 129.7,341.4 218.5,317.8 218.5,341.0 162.8,314.1 162.8,343.7 98.1,318.8 98.1,341.2 164.8,315.3 164.8,345.5 68.4,315.5 68.4,342.1 206.5,315.9 206.5,345.3 128.1,314.6 128.1,343.3 82.9,314.8 82.9,343.6 174.3,315.1 174.3,341.9 164.4,316.2 164.4,343.4 192.4,314.7 192.4,341.1 78.9,318.0 78.9,344.5 95.5,315.7 95.5,341.1 239.6,316.1 239.6,344.6 82.9,314.2 82.9,342.1 186.9,316.2 186.9,345.4 220.7,320.9 220.7,346.0 246.5,318.4 246.5,341.4 141.6,314.7 141.6,344.1 161.4,314.5 161.4,341.4 153.8,317.1 153.8,343.0 155.1,317.2 155.1,344.5 199.3,316.1 199.3,341.9 229.6,314.2 229.6,342.0 102.5,317.0 102.5,342.7 85.5,316.6 85.5,343.9 195.3,314.4 195.3,344.6 117.4,318.1 117.4,335.8 224.4,320.7 224.4,345.1 163.2,314.6 163.2,343.0 81.5,314.5 81.5,345.0 66.8,315.9 66.8,341.2 209.9,319.0 209.9,341.2 134.9,318.9 134.9,342.3 124.8,318.9 124.8,345.6 139.1,317.4 139.1,345.0 133.2,314.0 133.2,342.9 196.4,318.8 196.4,343.2 143.7,315.9 143.7,344.0 71.0,318.6 71.0,345.8 72.6,314.0 72.6,342.6 94.1,317.8 94.1,343.9 169.0,318.7 169.0,342.1 103.5,315.9 103.5,341.9 103.9,318.6 103.9,343.4 120.7,315.1 120.7,342.4 140.8,317.3 140.8,344.9 244.6,314.4 244.6,342.0 137.9,318.8 137.9,343.3 201.4,318.1 201.4,343.3 137.4,317.9 137.4,344.2 252.7,315.4 252.7,345.8 157.9,318.3 157.9,344.2 172.3,318.3 172.3,341.4 119.3,317.9 119.3,341.2 101.6,317.9 101.6,340.0 132.3,316.3 132.3,344.6 164.7,318.2 164.7,344.5 138.6,316.6 138.6,342.9 230.1,315.5 230.1,341.9 112.6,317.5 112.6,339.2 195.4,315.2 195.4,343.1 234.3,318.8 234.3,342.1 243.5,314.3 243.5,346.0 126.8,318.8 126.8,341.2 195.7,318.6 195.7,345.1 173.9,314.8 173.9,342.2 243.3,318.3 243.3,342.1 131.2,317.1 131.2,342.5 106.7,318.3 106.7,340.2 185.3,316.0 185.3,343.4 230.0,317.7 230.0,344.9 69.9,318.1 69.9,345.0 66.9,315.1 66.9,344.7 229.6,316.7 229.6,345.4 83.2,315.3 83.2,345.1 215.4,315.1 215.4,343.8 148.8,317.7 148.8,343.0 66.6,336.3 65.5,326.7 65.5,324.3 66.1,322.5 66.6,328.0 67.3,325.5 66.5,325.8 66.1,339.6 65.1,325.1 67.2,320.1 64.9,336.2 65.4,339.8 66.4,322.1 67.3,327.6 65.3,320.0 66.3,320.0 253.8,331.3 255.2,340.6 254.2,323.6 253.4,322.5 253.3,318.0 253.5,330.9 254.6,339.8 254.7,320.1 253.6,334.8 256.1,336.0 253.9,326.3 254.5,328.4 254.0,321.7 253.3,339.1 256.1,341.5 254.3,334.5 78.9,300.6 78.9,361.0 80.7,304.0 80.7,363.6 79.3,302.4 79.3,363.7 78.7,302.2 78.7,365.6 82.3,305.0 82.3,364.6 77.8,304.6 77.8,364.5 82.2,300.9 82.2,364.3 78.7,302.3 78.7,361.8 81.8,304.8 81.8,364.0 83.2,303.1 83.2,364.3 84.4,301.4 84.4,362.1 84.5,304.6 84.5,365.4 82.8,301.5 82.8,363.9 76.7,302.5 76.7,364.9 89.5,300.5 89.5,362.0 82.7,303.0 82.7,365.8 77.5,300.6 77.5,363.4 87.1,300.1 87.1,362.9 86.0,302.1 86.0,361.9 77.0,303.8 77.0,363.6 83.5,303.4 83.5,364.8 81.6,301.8 81.6,365.6 77.1,303.9 77.1,363.3 83.5,301.3 83.5,365.7 80.3,301.6 80.3,361.3 88.5,304.1 88.5,361.3 78.1,301.4 78.1,361.1 83.0,304.2 83.0,364.6 83.0,304.9 83.0,362.5 80.5,301.3 80.5,364.0 82.5,300.6 82.5,363.5 89.5,304.4 89.5,364.1 88.1,302.4 88.1,363.5 85.7,301.0 85.7,364.0 83.0,301.5 83.0,363.5 76.3,341.3 76.5,329.9 76.6,335.3 76.5,351.8 76.7,350.8 75.9,359.4 75.8,312.4 74.8,318.1 74.4,331.7 76.0,338.3 76.1,319.4 76.6,317.8 76.1,313.2 75.6,330.1 75.0,336.0 74.8,339.6 75.4,353.6 76.4,319.9 76.8,356.8 74.2,327.6 74.3,336.6 74.0,356.3 75.8,320.2 75.6,359.5 75.4,325.0 76.7,326.3 74.0,328.3 74.4,356.0 74.0,346.5 75.3,321.4 74.0,350.7 74.6,307.2 74.9,344.0 76.4,322.9 75.4,318.7 76.5,312.8 75.4,304.8 74.4,328.2 76.0,318.6 75.9,338.7 91.3,328.9 91.3,337.2 91.6,346.3 91.5,305.4 90.3,310.7 91.7,313.5 92.0,323.9 89.7,344.4 89.8,325.1 90.5,340.8 90.8,342.5 91.6,360.1 91.1,328.7 90.7,324.2 91.7,335.7 91.3,351.5 91.3,355.4 90.6,344.4 91.9,332.3 91.7,320.2 89.7,353.4 90.9,359.8 91.0,319.0 89.6,356.1 90.0,313.6 90.8,345.6 90.9,306.8 91.5,343.2 90.2,357.5 90.7,348.5 89.5,321.8 91.5,343.7 91.3,344.2 89.3,353.6 89.3,318.1 90.1,333.0 89.5,328.9 89.6,323.4 90.2,310.6 91.6,305.8 85.1,310.3 103.5,311.1 94.7,304.3 114.4,302.5 156.1,302.4 138.7,304.1 98.4,309.5 150.2,296.2 120.9,308.1 112.6,302.5 131.7,298.5 109.7,299.2 144.8,308.6 102.7,308.6 115.8,306.5 88.5,308.4 125.4,311.9 90.6,302.4 233.7,295.7 232.4,308.7 177.3,306.0 188.7,296.0 194.4,307.1 220.7,298.4 224.8,307.9 180.0,309.0 209.9,304.0 241.2,294.7 205.0,305.6 163.5,298.6 211.8,299.9 208.4,308.4 88.3,361.0 119.8,349.5 153.4,350.3 152.8,351.0 150.1,350.5 253.3,351.8 150.0,358.9 193.0,350.3 225.5,354.7 82.5,355.7 183.4,354.5 203.1,353.6 219.6,364.8 219.7,349.1 145.5,357.6 138.6,351.3 177.0,350.1 98.3,355.5 253.4,354.9 247.6,360.1 187.9,364.4 176.0,361.3 155.3,362.3 230.6,348.0 89.0,362.4 84.8,362.9 86.5,367.6 77.5,373.0 79.1,373.7 81.1,369.3 80.6,295.4 85.4,298.2 91.8,297.7 102.2,300.6 191.2,291.9 197.5,294.7 197.0,298.7 249.0,298.4 78.4,372.0 82.5,373.2" fill="none" stroke="none" marker-start="url(#md)" marker-mid="url(#md)" marker-end="url(#md)"/>
<path d="M67.5,310.2 C98.5,310.2 222.2,310.2 253.2,310.2" fill="none" stroke="#E41A1C" stroke-width="1.3" stroke-dasharray="4.2 3.3"/>
<path d="M67.5,314.5 C98.5,314.5 222.2,314.5 253.2,314.5" fill="none" stroke="#1F2FBF" stroke-width="1.3" stroke-dasharray="4.4 2.6 1 2.6"/>
<path d="M67.5,343.1 C98.5,343.1 222.2,343.1 253.2,343.1" fill="none" stroke="#1F2FBF" stroke-width="1.3" stroke-dasharray="4.4 2.6 1 2.6"/>
<path d="M67.5,347.5 C98.5,347.5 222.2,347.5 253.2,347.5" fill="none" stroke="#E41A1C" stroke-width="1.3" stroke-dasharray="4.2 3.3"/>
<path d="M67.5,340.6 C68.3,340.9 70.8,341.4 72.6,342.1 C74.4,342.8 76.6,344.3 78.4,345.0 C80.2,345.7 81.9,346.6 83.5,346.5 C85.1,346.4 86.3,345.8 87.9,344.3 C89.5,342.8 91.2,339.9 93.0,337.7 C94.8,335.5 97.0,332.7 98.9,331.1 C100.9,329.5 102.8,328.7 104.7,328.2 C106.7,327.7 108.6,328.2 110.6,328.2 C112.5,328.2 114.5,328.2 116.4,328.2 C118.3,328.2 120.5,327.9 122.2,328.2 C123.9,328.4 125.1,328.7 126.6,329.7 C128.1,330.7 129.3,332.7 131.0,334.0 C132.7,335.3 134.9,336.9 136.8,337.4 C138.8,337.9 140.8,337.3 142.7,337.0 C144.6,336.7 146.6,336.2 148.5,335.5 C150.4,334.8 152.8,333.5 154.4,332.6 C156.0,331.8 156.7,331.1 158.0,330.4 C159.3,329.7 160.4,328.6 162.0,328.2 C163.6,327.8 166.1,327.7 167.8,327.8 C169.5,327.9 170.7,327.9 172.2,328.9 C173.7,329.9 174.9,332.6 176.6,334.0 C178.3,335.4 180.7,336.8 182.4,337.0 C184.1,337.2 185.6,336.2 186.8,335.5 C188.0,334.8 188.7,332.7 189.7,332.6 C190.7,332.5 191.5,333.8 192.7,334.8 C193.9,335.8 195.3,337.8 197.0,338.4 C198.7,339.0 201.0,338.8 202.9,338.4 C204.8,338.0 206.8,336.9 208.7,336.2 C210.6,335.5 212.6,334.6 214.6,334.0 C216.6,333.4 218.2,333.0 220.4,332.6 C222.6,332.2 225.3,331.9 227.7,331.6 C230.1,331.4 232.6,331.2 235.0,331.1 C237.4,331.0 239.9,331.0 242.3,331.1 C244.7,331.2 247.8,331.5 249.6,331.6 C251.4,331.7 252.6,331.8 253.2,331.9" fill="none" stroke="#3E6CDB" stroke-width="3.4" stroke-linejoin="round"/>
<polygon points="370.0,314.0 434.0,314.0 434.0,343.0 370.0,343.0" fill="url(#qd)"/>
<polygon points="275.5,308.5 280.0,313.0 290.0,315.8 295.0,315.8 302.5,315.8 315.0,311.0 324.5,305.6 328.8,304.0 329.0,298.3 333.0,292.0 336.0,287.4 344.0,288.0 348.0,300.0 349.0,303.0 352.1,304.0 352.2,301.2 360.0,301.2 361.0,313.0 366.0,313.0 370.0,324.0 434.0,324.0 434.2,315.8 463.4,315.8 463.4,342.1 434.2,342.1 434.0,334.0 370.0,334.0 366.0,337.7 361.0,337.7 360.0,337.7 352.2,337.7 352.1,350.0 349.0,355.1 348.0,356.7 344.0,356.7 336.0,356.7 333.0,356.7 329.0,356.7 328.8,339.0 324.5,339.3 315.0,339.8 302.5,340.6 295.0,345.0 290.0,345.0 280.0,345.0 275.5,345.0" fill="url(#qd)"/>
<polygon points="275.5,318.0 280.0,318.0 290.0,318.0 295.0,318.0 302.5,318.0 315.0,318.0 324.5,318.0 328.8,318.0 329.0,318.0 333.0,318.0 336.0,318.0 344.0,318.0 348.0,318.0 349.0,318.0 352.1,318.0 352.2,318.0 360.0,318.0 361.0,318.0 366.0,318.0 370.0,324.0 434.0,324.0 434.2,318.0 463.4,318.0 463.4,341.0 434.2,341.0 434.0,334.0 370.0,334.0 366.0,337.7 361.0,337.7 360.0,337.7 352.2,337.7 352.1,341.0 349.0,341.0 348.0,341.0 344.0,341.0 336.0,341.0 333.0,341.0 329.0,341.0 328.8,339.0 324.5,339.3 315.0,339.8 302.5,340.6 295.0,341.0 290.0,341.0 280.0,341.0 275.5,341.0" fill="url(#pd)"/>
<polygon points="329.0,298.0 336.0,288.0 344.0,288.0 352.0,300.0 352.0,356.0 344.0,356.0 336.0,356.0 329.0,356.0" fill="url(#pd)"/>
<polygon points="352.2,303.0 366.0,303.0 366.0,338.0 352.2,338.0" fill="url(#pd)"/>
<path d="M359.2,317.8 359.2,338.5 372.0,321.2 372.0,334.7 296.2,315.3 296.2,341.3 405.1,320.7 405.1,333.8 458.3,317.2 458.3,340.4 438.0,317.8 438.0,343.0 456.2,316.7 456.2,340.7 277.7,314.5 277.7,342.3 379.4,324.2 379.4,333.4 288.8,314.5 288.8,341.8 451.4,317.9 451.4,340.2 386.6,320.9 386.6,334.1 335.9,315.2 335.9,341.5 317.6,315.7 317.6,341.6 381.2,323.6 381.2,334.4 280.6,316.9 280.6,341.6 315.0,316.0 315.0,343.6 388.1,323.6 388.1,333.2 377.7,323.5 377.7,337.3 418.4,320.3 418.4,337.9 278.6,317.9 278.6,342.4 450.0,318.7 450.0,343.7 291.1,317.2 291.1,340.6 355.3,314.6 355.3,338.2 285.4,316.7 285.4,340.5 321.3,317.9 321.3,339.9 384.3,324.3 384.3,336.2 429.4,324.7 429.4,334.2 310.5,319.0 310.5,343.7 336.0,318.6 336.0,340.4 318.2,318.3 318.2,339.2 437.4,315.1 437.4,343.8 299.4,316.5 299.4,342.6 380.4,324.3 380.4,333.2 408.6,324.3 408.6,335.6 319.8,318.0 319.8,340.7 324.6,317.9 324.6,342.1 430.4,322.5 430.4,333.1 279.9,316.8 279.9,340.2 392.3,320.7 392.3,336.9 279.2,317.5 279.2,341.1 463.3,316.4 463.3,342.6 435.1,315.4 435.1,344.9 330.9,314.2 330.9,341.4 344.5,317.0 344.5,340.3 445.5,317.9 445.5,343.7 461.2,314.3 461.2,343.4 436.4,314.9 436.4,342.1 313.0,318.6 313.0,341.3 431.5,321.3 431.5,336.0 415.7,321.7 415.7,334.3 291.4,317.1 291.4,342.1 313.1,315.6 313.1,340.6 299.0,317.0 299.0,340.6 316.1,315.8 316.1,343.7 408.8,321.1 408.8,337.2 451.9,315.7 451.9,344.0 393.8,322.8 393.8,337.5 401.5,323.2 401.5,337.7 361.1,314.5 361.1,336.7 411.4,322.3 411.4,337.4 458.2,315.3 458.2,341.0 383.2,320.1 383.2,333.5 289.4,315.5 289.4,342.2 312.3,317.4 312.3,342.8 431.9,322.7 431.9,336.8 425.1,323.6 425.1,334.6 383.6,324.1 383.6,334.2 342.9,314.1 342.9,343.0 297.0,316.2 297.0,340.8 297.3,318.4 297.3,341.5 455.5,317.7 455.5,342.9 366.5,318.0 366.5,340.3 311.2,316.7 311.2,340.4 310.7,315.1 310.7,343.0 450.9,316.2 450.9,340.9 308.7,315.5 308.7,341.1 441.6,316.6 441.6,342.5 393.2,320.9 393.2,334.9 358.2,314.3 358.2,338.2 382.9,323.0 382.9,334.3 289.1,316.9 289.1,340.8 276.3,318.8 276.3,343.7 451.5,315.6 451.5,343.9 435.6,317.1 435.6,340.2 327.1,315.9 327.1,340.3 383.1,320.9 383.1,334.1 279.7,316.0 279.7,340.6 319.4,314.1 319.4,342.8 318.3,316.5 318.3,341.5 283.2,316.7 283.2,344.0 320.3,317.2 320.3,342.1 380.8,321.8 380.8,335.6 400.9,322.2 400.9,336.7 416.3,323.8 416.3,335.2 303.0,314.9 303.0,341.1 381.1,320.3 381.1,334.6 303.2,316.7 303.2,340.6 430.1,320.3 430.1,334.8 415.9,324.2 415.9,335.0 452.7,318.4 452.7,342.8 337.6,315.0 337.6,343.4 286.8,317.2 286.8,341.1 310.7,317.1 310.7,341.1 286.1,314.7 286.1,343.9 348.5,317.9 348.5,343.1 276.1,315.7 276.1,343.0 321.4,314.7 321.4,343.5 336.4,317.3 336.4,342.2 461.3,315.1 461.3,340.2 397.5,323.5 397.5,337.2 296.3,314.9 296.3,342.3 327.8,314.6 327.8,338.8 283.7,316.1 283.7,340.7 280.9,314.5 280.9,343.5 396.9,321.7 396.9,337.0 283.9,316.1 283.9,344.7 285.5,314.7 285.5,342.4 341.4,314.3 341.4,344.2 424.1,322.9 424.1,335.1 380.1,322.5 380.1,335.8 335.7,318.1 335.7,342.6 319.9,316.9 319.9,342.4 369.1,320.3 369.1,336.5 405.2,320.9 405.2,337.4 352.4,316.1 352.4,339.3 418.2,320.9 418.2,333.9 367.2,315.9 367.2,337.7 299.6,315.0 299.6,341.6 443.8,317.1 443.8,341.4 395.4,322.5 395.4,333.0 358.1,317.5 358.1,340.7 456.9,314.1 456.9,342.6 347.0,316.2 347.0,344.1 357.6,316.7 357.6,340.5 438.8,316.9 438.8,342.6 294.5,315.9 294.5,341.0 420.6,323.4 420.6,333.7 384.4,324.4 384.4,337.2 346.2,315.8 346.2,342.7 354.0,318.9 354.0,341.0 443.4,319.0 443.4,340.5 453.3,315.8 453.3,341.3 388.4,322.0 388.4,334.0 458.7,314.9 458.7,340.4 349.3,318.1 349.3,344.0 360.8,316.0 360.8,337.4 425.4,323.8 425.4,334.1 401.2,324.5 401.2,334.8 319.0,317.7 319.0,341.7 349.7,314.0 349.7,341.6 407.9,320.9 407.9,335.4 420.2,321.7 420.2,333.6 402.5,323.4 402.5,336.0 446.0,315.9 446.0,342.6 360.5,318.3 360.5,338.4 320.8,315.8 320.8,342.6 415.1,320.9 415.1,337.1 461.0,315.7 461.0,343.9 405.7,323.1 405.7,334.2 275.7,318.3 275.7,341.7 430.2,324.3 430.2,337.3 413.2,323.6 413.2,337.1 452.5,318.6 452.5,344.4 335.9,318.6 335.9,340.5 310.1,318.3 310.1,341.9 454.7,315.7 454.7,340.3 303.7,318.4 303.7,343.6 356.0,317.3 356.0,336.9 451.5,315.4 451.5,341.0 366.9,317.8 366.9,338.3 410.6,320.9 410.6,337.0 336.6,316.0 336.6,344.5 414.4,323.6 414.4,337.0 355.0,315.7 355.0,339.3 434.8,314.9 434.8,343.5 364.7,318.7 364.7,340.2 448.8,316.1 448.8,342.3 322.4,315.0 322.4,340.0 315.6,317.1 315.6,341.6 414.0,323.8 414.0,337.9 374.6,323.1 374.6,335.6 365.2,315.7 365.2,338.2 337.9,316.5 337.9,342.2 378.3,323.3 378.3,337.9 385.1,325.0 385.1,334.6 389.9,322.9 389.9,335.3 361.8,315.2 361.8,341.6 289.6,318.0 289.6,342.4 340.6,315.5 340.6,344.7 338.5,316.9 338.5,342.1 399.9,322.8 399.9,335.7 295.4,314.1 295.4,343.2 275.9,316.6 275.9,341.4 414.8,321.6 414.8,333.2 305.4,315.7 305.4,342.7 407.9,324.2 407.9,337.8 380.1,320.2 380.1,336.3 342.1,317.0 342.1,340.9 350.1,315.2 350.1,343.4 453.5,315.8 453.5,342.5 395.0,323.8 395.0,334.8 325.9,317.3 325.9,339.7 368.9,321.5 368.9,336.8 458.4,315.7 458.4,341.1 351.9,318.5 351.9,344.3 286.8,314.9 286.8,341.2 422.0,323.5 422.0,333.8 424.0,324.3 424.0,337.1 340.9,318.1 340.9,341.3 450.6,314.7 450.6,342.0 332.7,318.1 332.7,343.8 375.4,322.7 375.4,334.5 385.8,320.2 385.8,336.6 455.0,316.3 455.0,342.3 385.5,321.9 385.5,337.6 315.7,316.4 315.7,342.3 415.8,321.5 415.8,333.6 405.1,320.6 405.1,337.1 279.1,318.4 279.1,344.1 370.6,324.5 370.6,336.9 401.8,321.3 401.8,333.4 297.4,314.5 297.4,343.2 407.3,324.7 407.3,334.9 343.8,318.3 343.8,344.0 459.6,314.0 459.6,344.8 353.1,318.0 353.1,337.7 377.3,323.8 377.3,336.6 406.1,320.4 406.1,337.6 285.8,318.1 285.8,342.8 392.3,321.1 392.3,336.9 418.3,321.2 418.3,337.6 353.6,318.3 353.6,337.9 345.7,315.1 345.7,340.2 302.2,314.8 302.2,342.2 366.1,314.7 366.1,341.1 394.8,322.6 394.8,334.4 354.0,318.6 354.0,338.8 370.0,324.6 370.0,335.0 435.9,314.3 435.9,343.5 298.2,315.4 298.2,340.3 441.0,318.5 441.0,344.0 369.3,319.4 369.3,336.3 444.4,317.6 444.4,340.0 461.1,318.7 461.1,342.9 279.7,317.6 279.7,343.1 276.3,316.2 276.3,340.1 287.1,317.4 287.1,343.8 336.6,314.8 336.6,341.4 318.4,316.8 318.4,340.0 447.0,314.1 447.0,341.1 392.8,322.2 392.8,333.4 348.2,315.4 348.2,344.0 320.5,317.2 320.5,341.9 353.8,314.2 353.8,339.4 295.8,315.2 295.8,344.6 308.4,318.8 308.4,340.0 281.4,314.2 281.4,344.2 443.9,315.4 443.9,341.7 339.6,317.2 339.6,341.5 363.5,317.3 363.5,338.1 300.7,317.3 300.7,343.0 276.2,316.2 276.2,344.2 387.0,323.4 387.0,337.9 313.6,316.0 313.6,339.7 444.3,316.9 444.3,344.4 399.0,321.7 399.0,336.6 326.4,316.5 326.4,341.3 421.4,321.2 421.4,336.8 377.6,323.1 377.6,333.5 374.3,320.5 374.3,336.2 424.4,321.9 424.4,335.2 392.8,322.8 392.8,337.9 433.8,323.4 433.8,334.7 285.9,317.4 285.9,341.1 407.8,323.3 407.8,337.3 286.7,316.4 286.7,341.7 339.7,315.3 339.7,344.2 361.1,316.8 361.1,337.3 380.0,323.2 380.0,333.6 339.1,315.3 339.1,342.8 290.5,318.9 290.5,341.9 449.5,314.2 449.5,343.8 444.5,316.2 444.5,341.9 392.5,321.5 392.5,334.2 447.2,317.2 447.2,342.5 361.9,318.0 361.9,340.4 328.4,315.6 328.4,340.1 285.9,316.1 285.9,340.6 400.6,321.7 400.6,334.6 316.5,315.3 316.5,339.9 442.0,316.3 442.0,342.7 335.5,318.8 335.5,343.0 307.5,317.4 307.5,339.3 462.5,317.7 462.5,341.1 356.1,318.5 356.1,340.6 423.1,322.9 423.1,334.0 397.9,322.9 397.9,333.8 286.2,316.6 286.2,344.6 337.1,317.2 337.1,340.5 440.5,318.4 440.5,341.5 410.5,323.7 410.5,335.2 441.0,314.2 441.0,341.4 297.5,318.1 297.5,343.6 318.6,317.3 318.6,341.2 382.1,322.1 382.1,335.8 380.7,321.6 380.7,334.8 306.2,317.2 306.2,343.5 318.4,316.9 318.4,340.6 309.6,314.3 309.6,339.4 415.2,320.7 415.2,334.4 371.3,321.0 371.3,335.9 364.6,315.1 364.6,340.1 395.7,324.8 395.7,334.7 421.4,323.1 421.4,335.9 282.4,315.5 282.4,342.1 284.1,314.5 284.1,344.1 296.4,316.8 296.4,341.1 374.4,322.0 374.4,334.3 361.4,315.4 361.4,341.4 362.0,314.6 362.0,340.4 306.4,317.7 306.4,343.2 448.9,316.6 448.9,343.7 424.2,324.1 424.2,336.0 443.5,317.7 443.5,341.9 344.8,318.2 344.8,344.6 346.4,318.6 346.4,344.0 406.2,321.7 406.2,334.4 330.0,317.4 330.0,342.3 317.4,314.7 317.4,342.7 311.3,314.9 311.3,341.7 285.7,316.0 285.7,341.0 436.9,316.8 436.9,342.5 363.5,314.1 363.5,340.9 453.0,314.0 453.0,342.8 423.3,324.2 423.3,337.8 445.4,318.4 445.4,340.7 462.4,318.9 462.4,343.2 440.4,315.3 440.4,342.2 296.0,316.4 296.0,344.9 408.0,322.3 408.0,334.6 315.3,316.2 315.3,340.3 367.4,318.9 367.4,337.5 387.0,322.1 387.0,335.5 366.8,319.4 366.8,340.4 385.4,323.8 385.4,334.5 306.1,315.6 306.1,340.1 419.3,324.6 419.3,336.2 316.6,314.7 316.6,342.6 383.3,320.7 383.3,338.0 417.0,324.8 417.0,337.9 422.8,324.6 422.8,337.7 305.5,315.7 305.5,342.1 395.4,320.8 395.4,334.4 420.6,324.8 420.6,335.4 450.7,318.4 450.7,344.5 311.0,315.9 311.0,342.4 428.2,324.2 428.2,333.6 402.8,320.1 402.8,334.6 285.3,316.6 285.3,340.6 399.4,322.0 399.4,337.0 336.3,319.0 336.3,340.6 290.9,316.5 290.9,342.5 434.3,314.1 434.3,340.9 321.6,316.2 321.6,342.5 400.2,321.2 400.2,334.9 419.7,322.8 419.7,333.5 343.2,314.1 343.2,342.3 319.0,315.5 319.0,340.3 438.0,314.4 438.0,340.4 300.2,316.1 300.2,341.9 450.4,317.6 450.4,341.3 300.2,316.7 300.2,343.9 317.7,317.8 317.7,340.5 455.4,318.8 455.4,340.9 426.9,323.0 426.9,334.9 372.8,324.5 372.8,335.4 381.5,322.5 381.5,333.1 418.1,320.5 418.1,337.5 276.8,316.8 276.8,341.3 404.2,323.1 404.2,336.7 429.5,324.9 429.5,333.6 318.6,316.4 318.6,343.3 350.0,315.0 350.0,342.6 334.8,314.4 334.8,344.0 361.1,318.2 361.1,337.2 339.0,314.6 339.0,344.2 359.5,317.0 359.5,337.0 358.2,315.9 358.2,340.2 319.9,318.9 319.9,340.2 372.0,322.4 372.0,334.7 286.3,314.2 286.3,344.6 459.6,317.1 459.6,340.7 311.9,315.6 311.9,339.2 339.7,315.4 339.7,341.6 432.9,322.8 432.9,338.0 333.2,314.4 333.2,343.8 412.3,324.1 412.3,334.9 428.5,320.5 428.5,336.6 405.6,322.8 405.6,336.1 362.7,316.1 362.7,339.1 389.7,324.2 389.7,334.7 380.2,321.9 380.2,333.9 407.9,320.0 407.9,337.4 284.8,314.8 284.8,343.7 357.1,315.5 357.1,339.1 450.5,317.2 450.5,341.8 453.7,315.2 453.7,340.5 413.5,324.0 413.5,337.0 350.1,317.4 350.1,341.1 325.8,318.7 325.8,342.4 453.1,316.8 453.1,343.6 343.6,316.0 343.6,344.6 415.5,324.7 415.5,333.8 353.1,318.6 353.1,341.3 429.4,324.4 429.4,334.3 409.7,320.5 409.7,335.3 277.7,316.2 277.7,341.0 352.4,317.4 352.4,340.1 441.2,318.7 441.2,341.5 338.2,316.1 338.2,341.3 434.0,324.0 434.0,336.3 397.3,321.5 397.3,334.4 418.4,320.5 418.4,338.0 302.7,315.0 302.7,343.4 446.7,314.8 446.7,344.7 371.3,320.6 371.3,335.7 319.0,317.2 319.0,341.7 432.4,324.6 432.4,337.3 402.3,323.6 402.3,337.3 432.8,322.5 432.8,337.7 456.1,315.0 456.1,341.1 390.9,322.7 390.9,335.1 369.1,319.7 369.1,335.9 387.0,323.8 387.0,336.5 294.8,315.0 294.8,342.4 420.7,321.4 420.7,336.7 318.6,315.5 318.6,342.9 312.4,318.2 312.4,341.8 280.3,316.4 280.3,342.7 299.0,315.9 299.0,342.2 364.5,318.6 364.5,338.6 443.9,315.5 443.9,343.7 304.7,316.9 304.7,343.2 430.9,320.3 430.9,336.7 304.5,318.8 304.5,341.0 435.9,314.8 435.9,344.9 376.5,321.1 376.5,337.6 424.0,323.6 424.0,335.1 319.0,317.2 319.0,342.8 414.0,323.6 414.0,333.3 362.4,315.5 362.4,339.4 401.1,323.0 401.1,333.0 333.2,315.4 333.2,342.1 329.1,315.0 329.1,341.1 367.8,321.1 367.8,336.2 456.1,317.3 456.1,344.5 441.8,317.8 441.8,344.6 311.9,317.2 311.9,340.8 306.9,315.4 306.9,342.6 300.6,314.5 300.6,343.9 428.7,320.2 428.7,334.0 276.1,316.7 276.1,344.9 304.1,316.9 304.1,341.7 412.4,322.9 412.4,336.7 295.5,318.9 295.5,343.9 295.9,314.1 295.9,344.0 421.3,321.9 421.3,337.6 394.3,322.6 394.3,333.2 274.8,326.7 275.0,325.9 273.8,326.5 276.0,323.8 273.8,329.9 275.2,338.1 273.3,327.6 275.9,325.4 276.0,338.1 274.2,325.4 274.4,337.5 273.3,322.0 274.9,332.9 275.0,330.2 274.9,327.4 274.6,327.1 463.5,327.6 464.9,321.6 464.0,323.3 465.4,318.2 463.6,340.2 464.7,323.4 464.8,329.5 462.9,320.4 462.7,324.6 463.8,340.3 465.3,330.7 464.6,332.3 465.0,326.5 464.5,323.0 463.3,324.1 463.8,324.8 342.8,284.2 342.8,356.6 342.9,288.0 342.9,358.9 338.9,287.1 338.9,355.1 350.3,296.7 350.3,359.0 331.4,292.6 331.4,356.5 348.4,294.4 348.4,355.8 351.3,296.0 351.3,355.7 341.9,286.2 341.9,359.8 330.1,297.0 330.1,358.6 336.3,284.8 336.3,358.5 329.7,294.4 329.7,355.4 337.0,289.0 337.0,359.2 341.7,287.2 341.7,358.2 347.1,292.8 347.1,359.8 350.7,295.8 350.7,359.7 334.8,286.3 334.8,358.3 330.1,296.8 330.1,359.9 347.4,290.5 347.4,357.6 330.2,294.5 330.2,359.1 333.5,288.3 333.5,356.8 337.1,285.7 337.1,356.6 330.6,294.9 330.6,357.5 343.1,285.6 343.1,359.5 346.8,291.0 346.8,356.9 348.6,293.1 348.6,357.1 342.1,284.3 342.1,357.5 330.9,295.9 330.9,359.0 331.8,291.1 331.8,358.3 341.5,286.0 341.5,357.0 334.2,288.6 334.2,355.3 330.5,293.0 330.5,355.1 334.5,287.2 334.5,356.8 342.6,289.0 342.6,358.5 347.9,292.6 347.9,358.8 343.5,284.0 343.5,356.8 332.0,293.1 332.0,356.8 339.0,284.8 339.0,359.8 335.4,285.6 335.4,356.9 336.3,284.9 336.3,358.5 338.9,284.1 338.9,359.7 331.8,294.3 331.8,359.9 341.6,287.8 341.6,355.0 333.6,291.4 333.6,358.5 331.8,291.4 331.8,355.4 347.2,292.0 347.2,356.7 342.0,286.5 342.0,356.3 341.3,284.0 341.3,358.6 351.0,295.4 351.0,357.2 342.6,287.4 342.6,358.9 336.6,287.8 336.6,356.8 346.9,290.9 346.9,357.9 349.6,293.2 349.6,357.5 337.0,284.3 337.0,358.9 333.5,288.4 333.5,355.7 346.9,291.9 346.9,356.6 340.2,285.8 340.2,357.5 329.9,294.2 329.9,359.8 328.8,338.6 327.9,325.0 327.9,338.4 328.1,343.6 328.9,311.3 328.4,343.7 328.3,298.3 328.4,349.9 329.3,331.2 328.9,329.4 327.5,317.1 329.3,324.0 326.9,299.5 328.9,310.6 328.4,343.6 328.1,332.1 329.1,328.9 327.6,317.3 329.7,354.2 328.3,354.0 328.0,317.8 329.3,352.1 327.5,331.4 329.7,315.5 328.5,303.3 328.4,325.3 329.2,328.5 326.9,348.7 327.3,315.6 329.1,325.7 327.0,310.3 329.6,347.3 329.8,327.6 326.8,331.2 329.8,315.6 327.5,337.4 329.5,324.8 328.4,307.5 329.4,316.1 328.6,353.3 352.2,350.0 351.3,326.2 351.7,303.4 352.1,338.9 353.0,316.1 353.4,339.4 353.8,338.7 351.5,343.8 354.1,349.1 353.2,307.1 353.8,327.6 353.4,351.8 351.8,301.3 354.0,349.9 351.5,325.6 353.8,334.4 352.8,355.8 351.3,320.8 351.7,353.9 353.0,314.7 353.8,351.2 352.6,353.3 351.8,338.7 354.2,312.9 353.3,346.4 353.8,315.0 352.4,306.4 352.7,348.3 352.1,349.3 352.0,326.3 353.2,345.5 354.0,320.0 352.4,342.5 353.6,344.2 352.0,348.3 353.5,333.2 352.2,340.6 351.4,341.4 352.5,342.6 360.3,300.8 360.3,338.6 359.1,299.7 359.1,338.3 361.0,300.0 361.0,341.6 359.5,300.6 359.5,337.9 356.0,301.0 356.0,337.7 356.5,303.8 356.5,341.7 364.8,303.7 364.8,340.5 365.5,302.2 365.5,339.0 354.5,302.3 354.5,341.8 365.1,303.9 365.1,339.2 361.6,304.0 361.6,340.6 364.0,303.3 364.0,339.8 364.3,300.8 364.3,341.1 358.2,300.1 358.2,341.1 363.1,302.2 363.1,339.4 355.8,303.2 355.8,340.3 361.4,303.1 361.4,337.1 363.2,303.3 363.2,337.7 352.9,303.3 352.9,338.3 359.6,303.6 359.6,338.0 359.0,299.3 359.0,341.4 364.1,301.2 364.1,341.0 354.3,303.0 354.3,341.0 362.3,299.2 362.3,338.5 361.3,303.2 361.3,339.5 361.7,301.3 361.7,339.9 356.1,300.0 356.1,341.4 359.8,300.6 359.8,338.5 356.9,301.6 356.9,337.8 358.4,300.8 358.4,338.9 357.3,299.2 357.3,341.4 356.4,302.7 356.4,341.7 357.5,300.7 357.5,340.4 365.2,301.7 365.2,340.2 352.7,313.9 351.6,325.9 351.9,328.8 350.5,311.7 351.4,306.5 352.0,323.2 350.5,309.7 350.6,326.1 350.5,305.3 351.4,308.1 350.7,326.7 352.3,337.6 350.3,316.7 352.4,330.1 352.0,333.1 352.2,332.9 351.9,323.6 352.1,324.7 352.8,315.7 351.9,323.7 350.6,320.3 350.1,308.4 350.8,316.9 352.4,314.7 366.3,320.1 366.7,330.7 367.6,317.0 367.5,323.9 365.3,332.0 367.9,325.4 366.7,334.8 368.1,323.4 365.4,321.1 365.8,319.3 367.0,310.7 365.4,320.3 367.2,321.4 367.6,337.9 368.1,314.8 366.5,323.2 365.9,335.9 367.5,336.8 366.4,320.6 366.8,306.6 366.0,326.0 368.0,305.2 366.2,320.8 366.4,312.2 291.5,299.7 281.2,299.4 281.7,306.6 334.1,302.0 305.0,304.1 306.8,306.1 352.1,298.8 322.5,300.4 364.5,298.8 279.5,298.7 350.7,292.0 345.9,289.3 345.2,288.0 341.1,292.7 347.3,298.8 343.7,296.3 332.7,283.3 350.0,280.4 339.6,284.1 341.5,285.4 349.8,281.2 348.0,299.1 395.9,338.6 409.5,319.4 403.3,316.2 389.8,314.4 381.6,341.2 402.6,340.6 399.4,322.2 401.3,323.9 432.4,313.2 382.7,319.2 402.5,324.8 377.7,332.1 426.5,330.0 391.7,328.5 385.8,313.4 389.4,324.6 419.7,325.5 425.9,315.9 390.1,317.8 420.4,317.5 406.0,328.7 417.0,329.3 388.4,343.3 401.0,317.4 404.8,329.0 376.1,313.3 401.8,335.7 393.0,333.2 386.6,336.0 420.9,329.6 428.8,325.5 394.2,312.3 394.1,337.2 419.4,326.2 398.5,332.0 373.5,329.2 424.2,316.2 375.0,328.4 409.1,324.5 396.7,342.9 433.6,344.4 381.0,322.6 386.9,341.9 409.5,330.4 375.6,338.3 462.3,300.6 442.4,296.2 458.4,300.7 438.9,313.4 453.6,304.9 441.0,315.1 443.9,310.8 452.6,303.8 462.2,304.3 441.5,300.5 435.0,305.0 461.0,310.6 444.1,346.2 457.3,353.5 443.1,345.5 441.6,353.4 447.9,351.4 453.6,353.2 449.7,342.3 453.2,345.4 458.8,350.2 453.9,351.6 320.3,363.8 323.7,364.0 289.2,362.1 294.3,362.3 305.0,358.2 337.2,278.6 368.2,285.6 360.0,295.2 360.0,299.5 324.0,290.0 286.0,367.0 289.0,351.6 445.5,295.9 461.1,299.5 419.2,361.1 378.5,351.6 440.2,352.0" fill="none" stroke="none" marker-start="url(#md)" marker-mid="url(#md)" marker-end="url(#md)"/>
<path d="M276.2,310.5 C307.0,310.5 430.4,310.5 461.2,310.5" fill="none" stroke="#E41A1C" stroke-width="1.3" stroke-dasharray="4.2 3.3"/>
<path d="M276.2,314.4 C307.0,314.4 430.4,314.4 461.2,314.4" fill="none" stroke="#1F2FBF" stroke-width="1.3" stroke-dasharray="4.4 2.6 1 2.6"/>
<path d="M276.2,343.1 C307.0,343.1 430.4,343.1 461.2,343.1" fill="none" stroke="#1F2FBF" stroke-width="1.3" stroke-dasharray="4.4 2.6 1 2.6"/>
<path d="M276.2,347.5 C307.0,347.5 430.4,347.5 461.2,347.5" fill="none" stroke="#E41A1C" stroke-width="1.3" stroke-dasharray="4.2 3.3"/>
<path d="M276.2,331.9 C277.2,332.0 280.2,332.6 282.1,332.6 C284.1,332.6 285.7,332.5 287.9,332.1 C290.1,331.7 292.8,331.0 295.2,330.4 C297.6,329.8 300.1,329.2 302.5,328.2 C304.9,327.2 307.4,325.9 309.8,324.6 C312.2,323.3 314.7,321.6 317.1,320.2 C319.5,318.8 322.2,317.6 324.4,316.5 C326.6,315.4 328.2,314.3 330.2,313.6 C332.1,312.9 334.2,312.3 336.1,312.1 C338.1,311.9 339.9,312.4 341.9,312.6 C343.8,312.9 345.9,313.1 347.8,313.6 C349.8,314.1 351.7,315.1 353.6,315.5 C355.5,315.9 357.7,315.9 359.4,316.2 C361.1,316.5 362.7,316.8 363.8,317.3 C364.9,317.8 365.0,318.5 366.0,319.4 C367.0,320.2 368.6,321.0 370.0,322.4 C371.4,323.8 372.7,326.4 374.4,327.5 C376.1,328.6 378.0,328.5 380.2,328.9 C382.4,329.3 385.1,329.5 387.5,329.7 C389.9,329.9 392.4,329.8 394.8,329.8 C397.2,329.8 399.7,329.7 402.1,329.7 C404.5,329.7 407.0,329.7 409.4,329.8 C411.8,329.9 414.3,330.1 416.7,330.1 C419.1,330.2 421.6,330.0 424.0,330.1 C426.4,330.2 428.9,330.6 431.3,330.8 C433.7,331.0 436.2,331.1 438.6,331.1 C441.0,331.1 443.5,330.9 445.9,330.8 C448.3,330.7 450.6,330.7 453.2,330.7 C455.8,330.7 459.9,330.8 461.2,330.8" fill="none" stroke="#3E6CDB" stroke-width="3.4" stroke-linejoin="round"/>
<polygon points="484.5,311.4 489.6,311.4 490.0,311.4 491.0,311.4 493.0,322.0 500.0,320.0 505.0,326.0 512.0,322.0 512.9,322.9 513.0,323.0 517.0,327.0 519.0,318.0 526.0,316.0 533.0,312.0 536.0,318.0 536.3,317.7 536.4,317.6 540.0,314.3 545.0,316.0 550.0,314.3 551.0,314.3 551.1,314.3 575.0,314.3 580.0,317.3 609.0,315.8 644.2,315.8 644.3,316.0 655.9,318.0 656.0,316.0 670.5,318.0 670.5,356.0 656.0,358.0 655.9,348.0 644.3,345.0 644.2,342.1 609.0,342.1 580.0,342.1 575.0,342.1 551.1,342.1 551.0,345.0 550.0,345.0 545.0,345.0 540.0,345.0 536.4,345.0 536.3,356.7 536.0,356.7 533.0,356.7 526.0,356.7 519.0,356.7 517.0,356.7 513.0,356.7 512.9,353.8 512.0,353.8 505.0,353.8 500.0,353.8 493.0,353.8 491.0,353.8 490.0,353.8 489.6,365.4 484.5,365.4" fill="url(#qd)"/>
<polygon points="484.5,317.0 489.6,317.0 490.0,317.0 491.0,317.0 493.0,322.0 500.0,320.0 505.0,326.0 512.0,322.0 512.9,322.9 513.0,323.0 517.0,327.0 519.0,318.0 526.0,317.0 533.0,317.0 536.0,318.0 536.3,317.7 536.4,317.6 540.0,317.0 545.0,317.0 550.0,317.0 551.0,317.0 551.1,317.0 575.0,317.0 580.0,317.3 609.0,317.0 644.2,317.0 644.3,317.0 655.9,318.0 656.0,317.0 670.5,318.0 670.5,343.0 656.0,343.0 655.9,343.0 644.3,343.0 644.2,342.1 609.0,342.1 580.0,342.1 575.0,342.1 551.1,342.1 551.0,343.0 550.0,343.0 545.0,343.0 540.0,343.0 536.4,343.0 536.3,343.0 536.0,343.0 533.0,343.0 526.0,343.0 519.0,343.0 517.0,343.0 513.0,343.0 512.9,343.0 512.0,343.0 505.0,343.0 500.0,343.0 493.0,343.0 491.0,343.0 490.0,343.0 489.6,343.0 484.5,343.0" fill="url(#pd)"/>
<path d="M501.9,319.2 501.9,342.6 502.8,323.7 502.8,346.5 549.6,315.3 549.6,344.9 613.8,313.4 613.8,346.0 490.2,313.6 490.2,345.6 545.7,316.2 545.7,344.8 573.9,315.6 573.9,345.2 559.9,316.8 559.9,344.0 649.1,313.9 649.1,343.5 488.9,313.1 488.9,344.7 569.3,313.9 569.3,341.9 521.8,318.1 521.8,344.8 562.0,315.8 562.0,343.3 576.0,313.4 576.0,346.0 593.3,316.8 593.3,345.6 503.1,320.0 503.1,343.1 516.2,323.2 516.2,344.0 638.9,316.0 638.9,344.7 577.3,317.8 577.3,345.5 508.6,323.3 508.6,346.8 636.8,315.8 636.8,343.1 501.1,318.7 501.1,342.5 497.5,320.6 497.5,344.5 552.8,316.6 552.8,342.7 654.6,315.0 654.6,343.0 525.5,317.8 525.5,346.4 522.0,318.2 522.0,342.2 614.3,315.3 614.3,342.2 595.3,314.3 595.3,343.7 623.1,315.1 623.1,345.6 650.9,314.5 650.9,343.1 486.5,314.8 486.5,342.4 540.7,313.6 540.7,344.4 532.4,317.6 532.4,346.0 550.6,315.7 550.6,342.4 495.9,321.3 495.9,342.4 552.9,314.2 552.9,342.2 524.8,314.3 524.8,346.7 529.2,316.3 529.2,343.2 657.7,317.6 657.7,344.5 660.3,316.9 660.3,346.5 581.7,313.7 581.7,341.5 640.8,317.8 640.8,343.2 649.7,318.0 649.7,343.6 625.7,316.9 625.7,344.4 527.5,313.3 527.5,343.7 534.5,316.1 534.5,343.8 559.0,314.6 559.0,341.8 536.5,316.9 536.5,343.4 650.8,317.9 650.8,344.3 539.6,316.3 539.6,346.4 636.4,314.1 636.4,342.2 493.6,322.6 493.6,343.4 557.6,316.8 557.6,342.6 618.8,313.1 618.8,343.1 489.6,317.1 489.6,343.4 635.9,316.8 635.9,341.7 540.3,317.0 540.3,345.4 562.7,313.7 562.7,341.9 549.3,315.5 549.3,345.3 646.1,316.6 646.1,344.8 582.8,316.3 582.8,341.4 492.6,319.7 492.6,344.2 645.6,314.3 645.6,343.7 531.3,316.3 531.3,346.0 503.1,321.7 503.1,345.4 621.9,316.8 621.9,341.9 618.6,315.3 618.6,345.5 520.9,317.9 520.9,346.6 597.6,314.0 597.6,342.8 553.0,317.4 553.0,342.0 561.5,314.8 561.5,343.8 620.0,313.2 620.0,342.3 499.8,318.5 499.8,345.2 630.7,316.6 630.7,341.9 669.1,314.0 669.1,343.0 601.7,316.3 601.7,343.1 611.1,315.3 611.1,342.7 542.8,315.1 542.8,342.5 617.3,313.8 617.3,344.0 657.0,317.1 657.0,346.1 519.0,318.0 519.0,342.1 526.5,314.4 526.5,345.4 667.2,314.8 667.2,344.5 537.9,317.0 537.9,342.1 653.1,315.3 653.1,342.9 638.1,316.6 638.1,345.0 647.9,315.6 647.9,344.1 631.9,315.5 631.9,342.3 598.7,315.3 598.7,344.9 646.6,317.2 646.6,342.3 587.2,315.5 587.2,341.3 538.1,313.4 538.1,345.5 524.2,314.1 524.2,346.3 534.5,316.9 534.5,345.3 602.4,313.5 602.4,342.2 637.7,314.9 637.7,342.6 576.7,313.3 576.7,344.7 628.3,317.8 628.3,342.7 612.9,317.7 612.9,345.4 570.4,317.8 570.4,343.8 589.5,316.1 589.5,342.0 557.3,315.5 557.3,345.0 588.8,314.9 588.8,346.0 499.1,317.1 499.1,343.7 666.7,316.1 666.7,344.0 637.6,314.2 637.6,345.1 498.6,319.4 498.6,346.7 596.8,314.3 596.8,342.2 634.3,314.3 634.3,345.8 564.4,313.5 564.4,344.7 621.9,316.4 621.9,341.2 553.4,315.5 553.4,345.7 502.1,320.6 502.1,343.8 600.9,315.3 600.9,342.7 574.5,315.7 574.5,341.3 544.0,314.3 544.0,343.4 550.9,314.4 550.9,343.8 611.8,314.2 611.8,345.9 499.0,317.8 499.0,345.6 606.1,314.6 606.1,342.5 617.4,314.9 617.4,345.1 653.4,314.5 653.4,345.4 527.9,315.8 527.9,346.5 602.6,317.4 602.6,342.8 537.4,316.2 537.4,343.8 581.9,314.5 581.9,342.1 597.7,313.7 597.7,342.3 501.3,321.0 501.3,342.8 535.4,318.1 535.4,344.6 571.3,314.6 571.3,343.7 629.0,314.8 629.0,341.8 518.7,319.0 518.7,344.4 657.5,314.2 657.5,345.6 557.0,314.4 557.0,344.7 544.1,314.1 544.1,344.2 563.6,313.4 563.6,346.0 558.7,314.8 558.7,341.7 511.9,319.0 511.9,342.4 586.5,316.5 586.5,345.4 533.2,317.1 533.2,345.7 495.3,318.3 495.3,343.0 646.5,316.9 646.5,342.3 529.6,313.8 529.6,345.1 564.3,317.7 564.3,345.3 537.6,314.8 537.6,344.5 560.0,317.0 560.0,342.1 645.7,316.1 645.7,344.0 664.4,315.3 664.4,345.9 663.7,318.0 663.7,346.9 566.9,316.9 566.9,345.3 539.9,315.3 539.9,346.6 629.9,314.5 629.9,345.0 506.1,323.3 506.1,344.9 541.6,313.1 541.6,344.9 598.7,316.4 598.7,341.9 497.6,316.9 497.6,344.7 491.5,315.2 491.5,344.5 554.4,316.4 554.4,341.8 580.5,315.4 580.5,342.1 653.6,318.5 653.6,346.8 531.2,313.1 531.2,345.5 652.1,315.4 652.1,343.5 634.4,315.8 634.4,344.1 616.7,315.6 616.7,345.2 588.0,316.9 588.0,341.2 574.1,317.5 574.1,343.5 613.2,315.7 613.2,345.8 498.7,317.8 498.7,342.8 646.4,318.1 646.4,343.0 537.7,314.6 537.7,345.0 616.5,314.3 616.5,345.2 568.5,315.5 568.5,342.9 569.3,313.2 569.3,341.3 664.5,315.0 664.5,343.8 666.6,315.3 666.6,342.5 646.3,315.2 646.3,345.2 540.0,313.6 540.0,343.1 627.1,315.7 627.1,344.4 620.3,315.9 620.3,344.5 520.5,314.7 520.5,344.2 641.0,314.1 641.0,345.0 638.3,316.7 638.3,341.6 508.5,324.1 508.5,343.1 488.8,315.9 488.8,345.5 637.6,316.6 637.6,344.1 551.5,317.6 551.5,342.4 568.7,313.6 568.7,344.0 612.2,315.6 612.2,343.0 492.8,320.8 492.8,342.2 625.7,316.1 625.7,345.4 607.4,316.8 607.4,342.5 659.5,316.2 659.5,344.7 555.9,317.2 555.9,344.3 587.5,316.3 587.5,345.0 668.5,314.8 668.5,346.8 537.3,315.7 537.3,345.7 635.6,314.7 635.6,342.6 583.2,315.7 583.2,343.1 540.3,313.1 540.3,346.7 549.5,317.6 549.5,345.1 504.9,322.8 504.9,343.9 521.1,314.2 521.1,345.8 576.0,313.8 576.0,343.7 611.0,317.2 611.0,343.3 523.9,313.5 523.9,344.9 582.6,318.2 582.6,342.3 494.5,320.2 494.5,345.5 528.1,314.4 528.1,342.9 641.6,315.9 641.6,342.5 551.3,314.3 551.3,341.2 639.1,316.8 639.1,342.7 548.5,317.7 548.5,343.3 615.1,317.6 615.1,342.6 630.3,314.6 630.3,346.0 511.4,319.2 511.4,345.5 548.7,315.3 548.7,346.3 514.2,321.3 514.2,345.1 528.2,315.3 528.2,343.1 602.6,316.3 602.6,341.3 631.1,317.7 631.1,342.6 630.8,314.5 630.8,345.6 662.2,317.0 662.2,344.1 548.8,313.9 548.8,346.4 657.8,316.7 657.8,346.6 546.7,313.4 546.7,344.4 670.3,317.0 670.3,346.2 605.3,315.1 605.3,343.5 529.4,315.0 529.4,346.8 655.8,317.1 655.8,345.5 544.8,316.2 544.8,346.5 498.7,321.3 498.7,342.9 493.0,318.1 493.0,344.0 622.0,314.2 622.0,345.8 627.0,313.7 627.0,345.0 524.0,316.8 524.0,342.2 633.2,314.7 633.2,344.5 497.5,319.2 497.5,343.9 511.7,320.3 511.7,346.9 491.1,318.2 491.1,343.7 634.2,317.1 634.2,344.0 599.3,318.0 599.3,343.3 634.8,315.4 634.8,342.7 669.8,314.7 669.8,346.8 622.8,313.9 622.8,345.5 491.9,318.8 491.9,346.8 626.4,317.6 626.4,344.6 620.2,317.5 620.2,345.7 552.9,313.9 552.9,343.0 503.9,325.2 503.9,344.1 666.2,314.3 666.2,344.3 596.8,315.0 596.8,344.6 533.7,313.4 533.7,346.4 584.5,314.9 584.5,345.0 503.7,321.9 503.7,344.5 643.9,315.9 643.9,343.4 601.0,317.7 601.0,343.0 519.2,316.7 519.2,342.7 530.0,316.3 530.0,344.2 517.5,320.7 517.5,346.9 641.2,316.2 641.2,343.9 573.5,317.8 573.5,346.1 660.7,316.6 660.7,345.3 656.8,314.2 656.8,344.5 590.2,314.8 590.2,344.1 592.9,317.8 592.9,343.4 560.3,315.7 560.3,341.1 489.9,313.1 489.9,346.4 645.8,316.9 645.8,343.3 598.8,313.9 598.8,343.8 582.3,316.7 582.3,341.7 656.9,316.0 656.9,347.0 501.7,321.7 501.7,346.1 669.3,315.1 669.3,343.6 650.5,317.0 650.5,342.6 597.3,314.6 597.3,345.1 504.1,324.5 504.1,344.0 514.0,321.2 514.0,346.0 660.6,318.1 660.6,342.2 648.7,316.5 648.7,343.9 491.7,318.4 491.7,344.7 524.7,315.9 524.7,342.4 660.0,317.5 660.0,345.7 669.2,314.8 669.2,344.4 662.1,317.9 662.1,345.2 505.1,324.4 505.1,344.8 584.5,314.7 584.5,342.2 540.7,314.2 540.7,346.8 515.9,322.9 515.9,346.9 508.4,320.2 508.4,344.0 588.0,316.5 588.0,345.4 654.9,314.0 654.9,346.0 525.3,316.1 525.3,346.1 507.1,323.5 507.1,346.7 560.6,316.2 560.6,344.9 552.3,313.5 552.3,344.6 488.6,317.6 488.6,344.4 587.5,313.9 587.5,343.8 566.3,316.3 566.3,341.6 537.9,316.1 537.9,345.9 607.6,313.1 607.6,345.8 558.0,316.2 558.0,346.0 640.1,314.8 640.1,342.4 579.0,315.7 579.0,341.8 598.0,317.3 598.0,342.0 599.3,315.8 599.3,342.2 643.8,313.7 643.8,345.0 498.2,321.0 498.2,343.4 614.1,316.3 614.1,344.5 628.0,314.4 628.0,343.3 594.7,316.7 594.7,343.1 550.4,316.1 550.4,342.5 585.0,315.3 585.0,344.5 545.4,313.3 545.4,345.5 544.0,313.4 544.0,342.2 661.2,315.9 661.2,342.7 496.4,319.8 496.4,344.2 493.1,320.7 493.1,344.5 592.4,313.7 592.4,341.1 600.5,313.1 600.5,343.6 557.0,317.3 557.0,343.7 511.9,318.8 511.9,346.1 527.4,316.0 527.4,343.8 541.3,314.8 541.3,345.1 551.5,314.7 551.5,342.9 642.5,317.9 642.5,344.9 626.1,314.9 626.1,344.7 609.6,317.9 609.6,342.3 484.9,315.6 484.9,345.5 543.5,317.9 543.5,343.0 604.0,317.3 604.0,346.0 556.3,316.7 556.3,341.8 577.5,313.8 577.5,345.0 583.9,313.5 583.9,346.0 576.2,317.3 576.2,345.7 593.8,315.4 593.8,344.5 577.2,314.0 577.2,341.1 626.6,317.6 626.6,344.7 583.6,317.5 583.6,342.8 536.7,317.5 536.7,346.4 588.4,315.9 588.4,344.2 556.8,315.1 556.8,341.4 593.8,317.2 593.8,342.9 615.1,316.7 615.1,344.5 516.8,325.0 516.8,345.0 648.6,313.5 648.6,342.5 520.3,317.8 520.3,342.8 584.1,314.8 584.1,344.6 563.8,314.4 563.8,343.8 650.4,317.8 650.4,344.7 617.7,317.6 617.7,344.6 599.4,317.0 599.4,341.7 590.7,314.5 590.7,343.6 500.4,317.9 500.4,344.6 635.9,317.9 635.9,346.0 600.2,317.1 600.2,343.1 507.0,322.4 507.0,345.4 589.2,313.8 589.2,342.2 612.2,317.7 612.2,343.3 580.9,317.8 580.9,344.8 609.8,315.7 609.8,345.2 545.0,313.3 545.0,346.1 610.8,313.5 610.8,345.8 570.6,315.3 570.6,341.5 512.1,322.1 512.1,345.5 590.6,315.8 590.6,342.9 631.1,317.9 631.1,341.5 533.8,317.1 533.8,345.4 630.0,313.7 630.0,343.1 572.1,313.1 572.1,343.9 515.2,323.7 515.2,345.8 501.5,322.5 501.5,345.7 552.1,313.5 552.1,344.5 564.7,318.0 564.7,343.5 598.6,314.8 598.6,341.8 560.7,314.1 560.7,343.6 530.9,316.6 530.9,346.3 610.5,314.4 610.5,341.4 624.2,315.0 624.2,346.0 506.9,324.0 506.9,346.3 542.1,315.0 542.1,343.3 487.5,317.8 487.5,344.0 638.2,313.0 638.2,345.6 575.4,317.2 575.4,342.6 527.9,315.3 527.9,344.1 546.2,313.9 546.2,342.1 488.2,313.7 488.2,343.0 639.6,316.3 639.6,343.9 498.0,318.1 498.0,346.8 650.9,318.1 650.9,343.8 605.3,314.3 605.3,344.3 583.7,316.2 583.7,341.4 527.6,314.4 527.6,344.6 542.3,314.9 542.3,344.5 589.3,315.0 589.3,342.8 591.0,316.3 591.0,344.8 601.6,313.7 601.6,342.9 603.4,316.6 603.4,345.6 620.5,316.0 620.5,344.2 534.5,316.4 534.5,343.8 546.5,314.1 546.5,346.8 664.5,315.1 664.5,344.6 497.1,321.0 497.1,343.3 642.9,314.2 642.9,343.7 612.9,316.0 612.9,345.6 621.1,315.4 621.1,343.1 558.2,315.3 558.2,345.2 490.0,314.5 490.0,345.5 504.8,325.7 504.8,343.8 648.9,314.6 648.9,345.9 644.1,314.6 644.1,343.9 628.7,317.7 628.7,344.0 650.7,318.0 650.7,346.9 522.7,315.8 522.7,345.1 598.2,313.6 598.2,344.0 655.6,316.7 655.6,342.9 541.8,317.5 541.8,344.1 500.0,317.4 500.0,344.9 515.1,323.5 515.1,344.4 608.0,314.4 608.0,342.0 571.1,313.9 571.1,343.9 557.7,317.3 557.7,342.0 583.0,314.7 583.0,341.8 509.7,322.1 509.7,344.6 599.5,316.5 599.5,341.5 665.0,318.3 665.0,343.3 516.0,325.9 516.0,342.4 603.7,314.6 603.7,345.9 509.5,321.9 509.5,342.6 508.4,323.6 508.4,345.9 513.4,324.3 513.4,342.7 539.5,314.3 539.5,343.3 595.6,313.2 595.6,345.1 636.2,317.8 636.2,344.3 509.1,321.1 509.1,342.7 658.0,316.2 658.0,345.6 627.2,316.8 627.2,345.9 518.6,317.7 518.6,344.4 598.1,315.6 598.1,342.4 543.1,316.4 543.1,342.4 638.3,313.4 638.3,343.2 647.0,314.2 647.0,344.6 523.3,314.0 523.3,345.1 651.8,315.7 651.8,346.6 544.9,316.4 544.9,346.3 517.5,324.2 517.5,343.4 558.2,313.7 558.2,345.6 538.2,315.3 538.2,346.2 560.3,315.9 560.3,344.0 631.2,315.2 631.2,345.5 527.0,318.0 527.0,342.1 635.9,315.6 635.9,345.5 514.1,320.5 514.1,345.9 561.4,314.4 561.4,345.3 595.9,314.2 595.9,344.0 596.0,313.4 596.0,343.7 595.7,314.1 595.7,345.6 554.3,315.8 554.3,342.7 564.9,317.9 564.9,343.0 571.3,314.3 571.3,343.1 537.5,318.2 537.5,346.7 511.4,322.2 511.4,346.5 609.0,317.7 609.0,342.5 654.4,317.8 654.4,345.4 570.5,316.6 570.5,345.8 484.8,317.7 483.4,318.7 482.6,339.2 482.3,320.4 484.0,318.6 483.2,320.0 485.0,322.3 484.8,339.7 482.5,335.2 483.2,328.2 484.7,322.0 485.1,319.3 484.5,331.4 485.1,331.6 483.8,324.9 485.1,327.5 482.7,336.2 483.2,324.9 670.2,337.3 670.0,329.6 670.8,322.8 669.9,325.6 671.4,330.5 672.1,334.0 672.6,323.6 670.6,326.8 670.1,325.0 671.2,327.7 670.6,337.4 671.9,341.0 671.3,332.6 671.5,341.1 670.7,339.3 671.2,337.2 672.1,325.3 538.2,303.2 499.4,302.1 570.8,301.4 496.3,307.0 527.3,305.8 496.0,304.4 525.1,305.2 527.4,304.8 574.0,297.8 489.3,301.6 495.3,296.5 552.3,309.4 485.0,349.3 503.6,353.7 574.2,346.8 519.7,357.1 502.7,352.8 548.3,360.7 556.5,361.1 514.8,348.1 486.0,360.3 556.6,361.2 539.1,354.4 488.8,355.3 494.6,351.8 553.8,358.5 565.3,364.8 644.9,312.8 593.7,309.1 636.9,305.5 590.9,304.5 661.5,308.6 663.7,309.8 585.9,302.6 656.1,308.7 624.1,303.6 615.4,302.0 611.9,303.9 633.2,297.9 595.2,359.1 631.7,355.8 626.8,352.5 669.8,351.2 627.9,351.2 634.2,351.3 618.1,345.2 610.6,354.9 635.5,362.5 584.6,351.7 601.8,355.1 661.6,366.3 666.5,369.3 663.2,366.2 657.9,367.2 488.4,373.3 522.5,368.5 508.0,306.7 537.0,302.9 544.0,302.4 553.0,304.3 598.6,371.2 618.5,293.4 632.5,294.3 632.5,303.9 651.5,300.6 658.7,294.8 660.5,367.0 667.6,363.3" fill="none" stroke="none" marker-start="url(#md)" marker-mid="url(#md)" marker-end="url(#md)"/>
<path d="M484.5,310.0 C515.5,310.0 639.5,310.0 670.5,310.0" fill="none" stroke="#E41A1C" stroke-width="1.3" stroke-dasharray="4.2 3.3"/>
<path d="M484.5,314.5 C515.5,314.5 639.5,314.5 670.5,314.5" fill="none" stroke="#1F2FBF" stroke-width="1.3" stroke-dasharray="4.4 2.6 1 2.6"/>
<path d="M484.5,343.1 C515.5,343.1 639.5,343.1 670.5,343.1" fill="none" stroke="#1F2FBF" stroke-width="1.3" stroke-dasharray="4.4 2.6 1 2.6"/>
<path d="M484.5,347.5 C515.5,347.5 639.5,347.5 670.5,347.5" fill="none" stroke="#E41A1C" stroke-width="1.3" stroke-dasharray="4.2 3.3"/>
<path d="M484.5,337.7 C485.4,337.4 487.5,336.6 489.6,336.2 C491.7,335.8 494.5,335.2 496.9,335.5 C499.3,335.8 501.8,336.8 504.2,337.7 C506.6,338.6 509.1,340.4 511.5,340.6 C513.9,340.8 516.4,339.5 518.8,338.9 C521.2,338.3 523.7,337.6 526.1,337.0 C528.5,336.4 531.0,335.8 533.4,335.1 C535.8,334.4 538.3,333.4 540.7,332.6 C543.1,331.8 545.6,330.9 548.0,330.4 C550.4,329.9 552.9,329.6 555.3,329.4 C557.7,329.2 560.2,329.4 562.6,329.4 C565.0,329.4 567.8,329.3 569.9,329.4 C572.0,329.4 573.3,329.6 575.0,329.7 C576.7,329.8 578.0,329.6 580.0,329.7 C582.0,329.8 584.9,329.9 587.3,330.0 C589.7,330.1 592.2,330.2 594.6,330.1 C597.0,330.1 599.5,330.0 601.9,329.7 C604.3,329.4 606.8,328.8 609.2,328.2 C611.6,327.6 614.1,326.7 616.5,326.3 C618.9,325.9 621.4,325.8 623.8,325.7 C626.2,325.6 628.7,325.6 631.1,325.7 C633.5,325.8 636.5,325.8 638.4,326.0 C640.3,326.2 641.3,326.0 642.8,327.2 C644.3,328.4 645.8,331.6 647.2,333.3 C648.7,335.1 650.0,336.6 651.5,337.7 C653.0,338.8 654.2,339.2 655.9,339.9 C657.6,340.6 659.8,341.4 661.8,342.1 C663.8,342.8 666.1,343.8 667.6,344.3 C669.1,344.8 670.0,344.9 670.5,345.0" fill="none" stroke="#3E6CDB" stroke-width="3.4" stroke-linejoin="round"/>
<polygon points="155.0,462.0 178.0,462.0 178.0,480.0 155.0,480.0" fill="url(#qt)"/>
<polygon points="180.0,490.0 225.0,486.0 225.0,508.0 180.0,508.0" fill="url(#qt)"/>
<polygon points="228.0,484.0 256.0,484.0 256.0,506.0 228.0,506.0" fill="url(#qt)"/>
<polygon points="68.0,465.3 71.7,461.0 74.6,455.1 76.0,452.2 78.0,445.0 81.9,445.0 88.7,445.0 90.7,461.0 96.5,455.1 102.3,453.7 106.7,458.0 108.2,463.9 108.2,488.7 106.7,491.6 102.3,493.0 96.5,497.5 90.7,504.8 88.7,504.8 81.9,504.8 78.0,503.2 76.0,502.4 74.6,501.8 71.7,499.3 68.0,496.0" fill="url(#pt)"/>
<polygon points="118.4,455.1 122.8,452.2 124.2,451.8 128.6,450.7 130.0,456.6 135.9,455.1 141.8,456.6 147.6,455.1 153.4,459.5 153.4,504.8 147.6,498.9 141.8,488.7 135.9,484.3 130.0,485.8 128.6,486.1 124.2,487.2 122.8,486.2 118.4,482.9" fill="url(#pt)"/>
<polygon points="155.0,480.0 164.0,479.0 178.0,479.0 178.5,479.0 178.6,452.2 180.0,452.2 187.4,452.2 187.5,468.0 194.7,468.0 194.8,455.1 207.8,455.1 207.9,450.7 215.0,450.7 215.1,450.7 223.9,450.7 223.9,492.0 215.1,492.0 215.0,488.0 207.9,488.0 207.8,498.0 194.8,498.9 194.7,498.9 187.5,499.5 187.4,499.5 180.0,500.0 178.6,503.5 178.5,503.8 178.0,505.0 164.0,505.0 155.0,503.0" fill="url(#pt)"/>
<polygon points="228.2,452.2 240.0,452.2 240.1,452.2 256.0,452.2 256.0,485.8 240.1,485.8 240.0,491.6 228.2,491.6" fill="url(#pt)"/>
<polygon points="80.0,456.0 88.0,454.0 89.0,466.0 85.0,474.0 80.0,470.0" fill="#fff"/>
<path d="M78.7,444.2 78.7,503.4 88.6,443.6 88.6,507.3 89.0,447.6 89.0,504.8 88.3,444.1 88.3,505.0 84.6,442.1 84.6,504.4 81.3,444.7 81.3,505.9 96.7,452.4 96.7,497.2 105.3,454.2 105.3,491.7 90.3,457.0 90.3,507.3 102.4,453.2 102.4,493.8 85.8,445.9 85.8,504.2 87.4,445.1 87.4,506.5 71.8,461.0 71.8,502.1 98.0,452.4 98.0,498.9 73.8,453.8 73.8,502.9 95.8,456.0 95.8,499.5 70.8,459.2 70.8,500.1 98.6,453.0 98.6,497.9 83.2,443.8 83.2,506.5 95.7,455.5 95.7,498.1 95.7,456.0 95.7,500.5 93.3,457.7 93.3,501.5 108.0,464.1 108.0,489.1 94.4,457.2 94.4,501.0 79.6,443.4 79.6,503.5 100.3,453.3 100.3,497.6 76.6,451.1 76.6,504.2 90.1,453.6 90.1,504.1 88.0,442.5 88.0,506.3 77.5,447.6 77.5,504.6 70.0,463.5 70.0,499.5 76.7,448.2 76.7,504.4 103.9,453.9 103.9,494.7 105.8,457.9 105.8,493.4 101.0,451.3 101.0,495.9 102.3,452.1 102.3,495.4 82.1,445.3 82.1,505.1 90.3,457.3 90.3,504.3 71.4,459.8 71.4,499.7 93.7,458.8 93.7,503.8 73.1,458.0 73.1,499.9 70.7,459.6 70.7,500.9 96.5,454.2 96.5,498.8 93.1,455.9 93.1,502.6 104.5,453.0 104.5,494.1 70.9,461.0 70.9,498.3 71.0,459.1 71.0,499.4 107.1,457.2 107.1,491.6 80.3,443.5 80.3,504.0 83.9,445.9 83.9,504.4 101.4,454.1 101.4,494.5 95.8,455.0 95.8,501.4 70.1,462.9 70.1,500.1 94.3,458.2 94.3,499.5 92.6,459.0 92.6,501.7 89.5,451.8 89.5,506.5 83.3,445.3 83.3,507.5 77.2,445.9 77.2,505.2 98.4,453.4 98.4,499.0 107.3,459.6 107.3,491.0 71.6,458.2 71.6,499.7 85.4,442.3 85.4,504.7 102.8,454.2 102.8,493.3 72.3,460.6 72.3,502.4 66.5,486.3 66.7,473.6 67.1,465.4 67.8,471.0 68.5,487.6 67.5,475.0 66.5,485.0 66.8,493.0 68.2,479.1 68.6,487.9 66.5,466.3 67.8,467.5 66.3,483.9 68.1,486.8 66.0,492.2 67.6,466.0 67.7,473.4 66.7,475.5 66.3,473.9 66.1,493.8 67.2,466.4 109.8,485.1 107.8,482.0 107.7,471.8 108.3,467.8 109.3,488.4 108.9,487.3 108.2,467.1 108.2,484.2 108.4,472.5 110.0,479.0 108.6,485.5 107.8,468.9 109.3,476.1 109.5,484.1 109.5,468.2 109.6,469.7 107.7,471.3 131.9,455.1 131.9,484.8 140.6,454.8 140.6,490.8 135.2,455.6 135.2,486.7 139.6,455.7 139.6,486.4 150.2,458.0 150.2,504.2 121.2,451.1 121.2,485.3 124.5,449.8 124.5,486.5 138.9,456.4 138.9,486.9 147.6,455.6 147.6,500.2 148.6,453.9 148.6,501.4 140.9,453.4 140.9,491.0 127.5,450.1 127.5,488.6 135.2,452.8 135.2,487.4 148.8,455.0 148.8,500.4 118.6,453.2 118.6,486.0 144.9,453.4 144.9,495.7 121.4,452.1 121.4,487.9 119.3,453.5 119.3,486.5 121.8,451.6 121.8,487.7 147.9,454.5 147.9,500.5 137.3,455.2 137.3,488.3 141.5,454.4 141.5,488.4 135.6,454.9 135.6,486.6 128.0,448.6 128.0,485.7 145.0,452.9 145.0,493.4 133.8,455.9 133.8,487.8 127.7,449.3 127.7,485.8 123.0,449.9 123.0,488.5 143.2,456.0 143.2,493.3 125.4,452.4 125.4,488.0 127.7,451.2 127.7,486.4 119.0,454.7 119.0,482.9 153.1,459.6 153.1,504.8 152.2,458.0 152.2,504.8 128.3,451.4 128.3,487.7 128.5,449.0 128.5,486.3 129.9,456.9 129.9,487.1 140.3,456.2 140.3,486.9 139.5,456.2 139.5,486.3 151.0,456.6 151.0,501.4 152.5,457.4 152.5,506.2 152.7,456.1 152.7,504.2 135.6,453.4 135.6,486.2 131.1,455.2 131.1,486.2 145.6,454.8 145.6,496.0 148.9,454.8 148.9,503.2 123.0,449.5 123.0,488.1 149.5,453.7 149.5,501.2 143.9,455.9 143.9,493.6 142.4,456.9 142.4,491.1 131.6,454.0 131.6,485.7 147.0,455.7 147.0,498.3 126.6,452.1 126.6,485.8 132.0,454.7 132.0,487.1 119.8,453.9 119.8,483.1 125.6,450.2 125.6,488.9 118.6,473.3 119.1,459.4 118.3,457.2 116.8,471.1 116.7,468.1 117.5,455.9 116.4,463.8 117.3,478.7 118.0,464.7 116.9,477.5 116.5,466.3 118.2,469.1 117.4,473.8 116.7,472.6 118.4,476.6 116.9,478.4 118.9,466.2 116.6,466.0 118.7,456.1 154.7,460.9 153.6,480.3 153.1,480.2 154.8,462.8 153.6,489.7 154.5,485.0 153.5,475.6 155.4,481.3 153.5,480.8 152.9,485.4 155.4,489.0 152.6,497.7 153.2,461.1 153.4,483.6 152.6,504.3 153.8,459.9 154.6,503.8 152.7,466.7 152.9,476.0 153.7,460.9 155.5,494.3 153.5,488.0 154.0,495.8 153.3,502.8 154.8,487.8 154.3,489.0 152.7,499.8 154.1,468.5 153.7,492.2 155.0,469.3 153.8,504.3 159.4,478.1 159.4,506.8 204.7,454.2 204.7,499.0 159.8,479.5 159.8,504.4 160.1,480.3 160.1,503.5 187.3,452.0 187.3,500.6 182.2,452.2 182.2,499.8 203.3,453.8 203.3,501.2 213.8,448.6 213.8,490.6 185.6,450.6 185.6,499.2 167.1,476.1 167.1,504.9 181.7,451.9 181.7,502.5 202.5,456.0 202.5,501.2 214.8,448.9 214.8,487.2 195.8,453.6 195.8,501.8 156.7,480.6 156.7,503.5 201.8,455.0 201.8,499.4 208.2,451.1 208.2,487.5 211.2,451.6 211.2,490.3 195.8,454.5 195.8,498.3 193.6,466.2 193.6,499.0 219.1,448.7 219.1,491.8 214.2,449.8 214.2,490.5 167.0,479.6 167.0,505.7 216.0,450.1 216.0,492.4 179.5,449.6 179.5,502.4 160.0,480.1 160.0,504.2 177.0,477.5 177.0,505.9 218.8,448.0 218.8,492.4 192.3,467.1 192.3,501.6 192.2,467.7 192.2,500.8 180.7,451.0 180.7,499.8 162.8,480.0 162.8,506.4 163.1,479.5 163.1,505.4 183.5,452.4 183.5,499.9 202.1,455.2 202.1,500.1 166.4,476.5 166.4,507.0 196.9,453.6 196.9,501.5 193.1,469.0 193.1,498.8 212.1,451.6 212.1,487.7 168.9,477.9 168.9,505.3 195.5,452.5 195.5,498.0 161.5,476.7 161.5,504.8 209.3,450.0 209.3,487.7 196.1,456.0 196.1,501.7 164.4,478.8 164.4,504.3 214.5,449.0 214.5,489.5 218.0,449.5 218.0,492.3 158.9,479.2 158.9,505.6 201.9,452.4 201.9,498.8 173.9,476.6 173.9,504.4 170.7,479.4 170.7,507.5 197.0,453.4 197.0,499.1 217.1,448.3 217.1,491.5 220.2,448.8 220.2,494.8 175.3,476.4 175.3,505.3 214.3,451.1 214.3,489.4 191.5,466.8 191.5,499.6 219.7,449.3 219.7,491.4 195.4,453.6 195.4,499.2 220.1,450.4 220.1,492.9 218.6,448.4 218.6,491.7 222.1,448.1 222.1,494.0 174.7,476.4 174.7,507.8 204.6,453.4 204.6,498.1 204.4,455.1 204.4,498.4 157.6,478.1 157.6,504.8 176.0,479.1 176.0,505.9 170.0,478.2 170.0,504.6 203.8,456.0 203.8,498.2 167.2,478.3 167.2,505.0 162.7,478.2 162.7,504.5 201.9,454.1 201.9,498.3 217.6,449.9 217.6,494.2 209.2,448.7 209.2,487.9 174.9,478.0 174.9,506.9 163.4,477.1 163.4,503.9 210.1,451.4 210.1,489.4 195.4,453.8 195.4,499.2 180.8,449.2 180.8,499.9 187.9,466.4 187.9,500.9 165.4,477.5 165.4,507.7 170.1,480.0 170.1,504.0 221.8,451.6 221.8,494.7 223.7,451.6 223.7,493.0 211.1,448.4 211.1,490.3 166.7,479.4 166.7,507.1 202.1,455.2 202.1,498.7 210.7,451.4 210.7,489.6 202.1,453.0 202.1,499.0 204.1,454.5 204.1,499.5 164.3,476.1 164.3,505.9 211.6,451.7 211.6,487.6 222.5,448.8 222.5,494.9 183.6,452.4 183.6,501.0 199.3,452.4 199.3,498.1 217.4,447.9 217.4,493.5 220.5,450.2 220.5,493.3 203.7,455.3 203.7,498.5 162.9,477.4 162.9,506.3 169.9,477.4 169.9,505.9 178.6,458.2 178.6,506.3 192.0,468.2 192.0,499.1 216.5,451.1 216.5,491.4 156.1,478.6 156.1,503.2 155.5,477.6 155.5,505.4 188.8,467.5 188.8,500.4 162.4,480.1 162.4,507.4 185.8,453.1 185.8,501.3 183.9,449.7 183.9,502.7 157.6,478.4 157.6,503.9 153.6,488.8 155.6,489.0 155.7,493.5 153.0,495.3 152.9,493.0 154.1,493.1 155.7,487.2 154.4,492.4 153.1,496.2 154.8,502.7 154.0,481.7 154.2,486.8 154.6,494.1 153.3,496.6 153.0,493.1 155.5,493.5 225.7,464.4 226.0,453.6 224.9,460.0 224.9,460.5 224.7,458.4 225.9,488.7 224.6,457.7 224.7,459.1 225.9,485.5 223.5,456.7 225.0,461.3 223.5,457.9 223.2,486.4 223.5,453.7 223.9,451.8 225.5,482.3 224.7,491.3 225.9,474.7 223.6,481.7 223.1,490.1 225.5,478.6 223.5,484.0 225.5,489.6 224.4,466.1 225.7,468.2 225.1,481.8 223.7,474.0 225.5,491.3 235.1,450.5 235.1,492.4 232.8,449.2 232.8,493.2 248.8,450.9 248.8,485.3 239.4,449.7 239.4,493.1 230.0,450.3 230.0,490.8 242.2,452.9 242.2,487.5 231.6,449.7 231.6,493.3 230.6,451.6 230.6,490.7 231.0,452.7 231.0,492.2 237.1,449.4 237.1,493.5 243.6,452.1 243.6,485.2 238.8,450.5 238.8,490.6 240.3,451.3 240.3,486.8 248.3,451.0 248.3,486.7 233.2,450.8 233.2,491.5 240.2,451.8 240.2,486.7 234.5,452.2 234.5,491.1 251.4,452.7 251.4,485.6 233.2,451.4 233.2,490.8 242.4,451.2 242.4,488.0 233.4,452.2 233.4,490.9 242.6,450.9 242.6,486.3 241.6,450.5 241.6,487.6 246.8,449.2 246.8,486.5 236.5,451.8 236.5,493.9 249.9,452.8 249.9,488.5 243.4,449.3 243.4,487.6 252.7,452.8 252.7,486.5 231.6,451.2 231.6,491.2 236.4,449.9 236.4,494.0 255.0,452.5 255.0,487.2 252.7,452.9 252.7,486.5 238.7,450.4 238.7,491.4 250.9,450.5 250.9,486.4 252.1,451.6 252.1,485.0 245.4,449.6 245.4,486.8 235.0,452.3 235.0,492.9 240.8,452.2 240.8,488.4 239.8,452.0 239.8,491.2 254.6,449.5 254.6,487.4 239.0,449.6 239.0,491.1 239.3,449.8 239.3,492.7 255.8,452.2 255.8,488.3 240.8,449.9 240.8,485.0 227.3,468.3 227.0,464.4 228.2,477.3 226.3,469.9 226.7,453.2 227.5,486.6 228.9,482.8 227.7,455.6 227.1,490.7 227.9,457.4 227.4,454.6 226.1,477.1 227.6,455.1 227.9,452.2 228.6,471.2 228.1,471.0 227.0,454.0 226.2,476.9 227.3,453.7 226.1,467.1 228.3,479.8 227.6,460.3 228.7,486.7 226.6,490.4 227.0,469.2 226.2,455.0 227.6,486.3 256.8,479.0 257.5,462.1 258.1,453.3 257.5,452.6 255.5,453.4 255.8,471.1 256.4,471.3 257.9,463.4 255.4,482.4 258.1,484.6 257.9,470.5 255.5,483.3 258.1,464.3 255.7,454.0 256.4,460.0 256.2,463.8 257.6,466.0 255.7,472.2 256.7,454.7 256.6,462.0 256.0,482.4 258.2,468.7 257.9,466.4 102.8,448.8 81.6,442.4 104.2,460.6 105.3,462.5 79.3,433.0 96.0,451.4 82.7,440.1 97.7,457.6 75.6,442.8 82.3,441.3 99.0,432.6 82.8,458.2 72.7,446.3 106.9,464.2 96.7,457.8 93.6,445.5 71.2,448.0 70.1,435.0 89.6,461.6 85.1,448.9 75.0,452.3 104.5,464.5 72.1,439.9 87.7,447.7 104.8,455.8 92.6,437.8 95.6,448.5 96.0,432.0 84.6,442.7 85.4,448.7 100.0,449.4 77.8,448.0 91.7,433.6 92.2,450.5 94.4,454.2 98.8,434.8 82.0,441.0 94.0,461.3 83.9,457.8 70.6,440.3 84.4,472.0 86.3,472.0 88.6,460.1 88.4,458.1 84.8,458.9 80.1,461.1 86.0,468.2 80.6,461.6 88.7,466.3 87.2,474.0 80.2,456.0 87.2,470.5 82.1,470.4 85.9,461.4 85.9,470.0 84.1,465.2 110.0,444.8 108.6,491.6 117.9,492.7 116.7,470.3 109.1,499.5 113.4,478.2 115.2,455.1 117.3,476.6 114.1,462.4 113.7,501.8 109.7,454.1 115.0,486.1 112.9,489.0 113.3,453.4 111.1,460.4 111.7,450.0 117.0,462.2 109.9,447.7 112.8,444.5 135.5,434.8 136.7,434.6 128.5,451.2 121.6,442.1 148.7,447.3 125.0,438.1 139.8,446.6 152.1,442.8 124.8,432.7 140.0,449.5 128.9,445.9 146.3,432.1 126.8,441.8 127.9,434.1 142.8,435.0 141.6,451.9 121.2,436.9 123.5,441.5 147.4,447.2 146.3,492.4 150.9,497.4 141.5,506.0 156.1,502.0 141.7,497.8 142.8,506.4 143.6,487.3 150.3,496.3 148.9,501.8 151.2,494.7 157.5,489.8 150.5,486.6 155.8,489.6 151.3,501.1 141.6,487.0 150.1,499.0 143.9,492.8 158.9,499.9 143.5,499.1 145.3,485.8 140.2,503.4 159.3,490.4 154.6,502.6 143.2,507.1 196.0,434.2 172.6,465.5 178.0,438.0 165.1,473.1 197.9,452.6 190.7,462.8 199.8,445.6 181.3,459.9 197.8,474.2 192.1,456.4 176.2,477.1 190.7,476.4 174.2,453.4 180.4,451.4 195.8,454.5 190.5,455.4 196.6,470.3 174.9,477.9 194.8,468.7 188.6,452.2 169.0,436.6 176.9,460.9 195.4,449.4 189.3,459.4 196.4,474.3 164.4,465.9 174.4,475.3 166.4,449.2 165.3,460.3 165.7,435.9 184.9,439.0 164.3,472.4 194.2,455.0 194.6,459.0 195.5,436.8 165.4,463.3 174.7,458.3 190.7,455.5 174.6,475.6 177.8,452.6 182.7,433.6 183.5,460.2 170.1,464.3 180.2,475.5 177.7,435.9 197.1,445.0 198.5,462.4 176.5,455.1 192.8,472.3 168.9,445.5 167.4,455.7 173.9,444.9 187.7,476.7 171.4,456.1 179.3,458.2 175.9,440.4 216.4,450.3 227.7,451.0 201.0,435.8 251.6,434.2 232.6,435.5 207.5,441.5 248.8,443.2 200.8,436.3 255.5,447.7 229.2,438.5 217.7,432.7 212.9,448.9 220.5,449.0 253.6,445.6 216.3,440.7 206.7,436.6 219.5,432.8 247.8,442.0 219.8,444.5 225.4,438.4 221.5,440.9 217.1,439.4 226.1,449.2 245.2,449.3 225.9,503.3 224.2,499.6 226.7,470.9 227.4,481.5 226.4,471.9 226.6,493.1 225.4,481.7 227.2,502.0 224.0,480.4 226.1,481.1 225.3,489.8 227.4,498.2 238.8,502.4 255.4,487.9 233.1,504.5 230.7,490.1 255.9,501.3 233.5,493.1 255.9,490.0 249.7,490.1 239.9,503.8 246.5,493.5 255.0,502.9 254.5,495.5 231.4,491.3 233.1,490.6 232.3,498.4 249.8,485.4 250.8,501.1 242.2,504.6 230.8,485.7 231.3,487.9 249.5,497.6 231.4,501.5 248.0,496.5 235.5,492.7 119.0,429.9 71.9,429.7 97.8,430.0 96.3,429.6 103.7,429.8 103.1,430.2 115.3,429.7 107.9,429.6 86.6,429.4 109.1,429.6 111.4,429.9 110.9,430.0 78.3,430.0 110.4,429.7 109.0,429.7 73.9,429.8 72.7,429.7 116.2,430.1 107.2,429.7 76.5,429.8 73.4,430.0 109.9,429.5 85.2,429.8 88.7,430.0 70.9,430.0 102.8,429.6 73.0,429.5 76.9,429.8 76.9,429.4 88.0,429.4 70.3,430.1 99.5,429.6 83.6,429.7 90.6,429.9 77.8,429.9 101.5,430.1 110.5,430.0 98.8,429.4 114.7,429.9 99.7,429.7 73.5,429.5 115.2,429.8 89.2,430.1 93.7,429.7 89.4,429.8 100.3,430.0 71.1,430.0 105.3,430.1 86.9,429.5 118.8,429.6 112.1,430.1 106.2,429.6 95.0,429.9 83.0,429.9 119.1,429.9 203.3,429.8 157.7,430.1 136.0,429.8 205.3,430.2 146.8,430.2 209.2,429.4 166.3,429.5 240.0,429.9 241.5,429.4 181.8,430.1 142.4,429.7 205.4,430.1 152.8,429.6 129.4,429.9 209.1,429.4 141.0,429.8 206.9,429.4 240.6,429.8 205.7,429.9 173.8,429.9 175.6,430.0 191.8,429.4 173.7,429.5 241.6,429.5 182.4,430.0 179.1,429.4 150.7,429.7 157.2,430.1 152.7,430.2 214.2,429.6 179.5,429.9 145.4,430.1 142.6,429.9 191.0,430.1 135.6,429.5 198.2,429.6 156.8,429.7 225.2,429.8 143.2,429.9 145.3,429.4 159.7,429.7 188.5,429.6 143.6,430.1 138.4,429.8 230.5,429.7 211.2,429.6 209.8,429.5 250.9,430.2 250.7,429.9 184.5,429.9 230.3,430.1 189.0,429.7 149.3,429.6 216.9,429.5 205.0,429.4 227.0,429.6 183.2,430.1 222.4,429.5 212.4,429.7 254.5,429.6 205.4,429.8 190.2,429.9 179.2,430.0 206.4,429.6 151.6,429.9 196.7,429.5 180.9,430.1 179.0,429.6 206.1,429.4 171.0,430.1 128.7,429.5 170.2,429.6 129.3,429.8 204.5,429.4 219.2,429.8 207.4,429.6 207.4,430.2 242.2,429.7 126.8,429.7 224.3,429.7 205.4,429.9 181.3,429.6 222.9,429.8 192.9,429.7 195.9,429.9 233.4,430.0 197.0,430.1 225.2,430.0 136.9,430.1 183.5,429.6 222.6,429.5 205.8,429.4 213.1,430.0 219.9,429.8 227.0,429.6 186.7,429.8 160.8,430.1 246.8,429.8 126.5,429.7 220.2,429.8 218.9,429.8 228.8,430.1 249.3,429.8 222.4,430.1 157.4,430.2 137.6,429.8 134.1,430.1 221.6,429.4 168.3,430.0 152.9,429.5 165.3,429.7 190.4,429.6 162.3,430.1 130.4,429.6 151.4,429.8 208.8,429.8 248.8,429.8 138.0,429.5 202.9,429.5 224.5,430.0 157.4,430.2 251.9,429.7 143.2,429.8 162.3,430.1 141.2,429.8 177.9,430.1 176.9,429.5 126.3,429.7 174.0,429.7 220.6,429.7 193.9,429.5 125.1,429.7 79.7,508.5 82.8,508.3 73.0,508.4 74.2,508.3 73.7,509.0 75.4,508.9 82.2,508.6 80.8,508.8 79.1,508.7 93.6,508.3 93.8,508.7 95.6,508.8 92.8,508.7 91.2,508.4 90.4,508.7 105.3,508.4 111.5,508.9 102.8,509.0 106.1,508.5 110.8,508.9 113.3,508.9 109.9,508.7 101.1,508.6 101.9,508.9 105.1,508.7 101.8,508.9 103.8,508.2 125.5,508.7 126.8,508.4 126.0,508.2 135.7,508.3 147.0,508.4 142.6,508.7 134.2,508.8 144.7,508.8 134.5,508.3 142.6,509.0 143.6,508.2 142.7,508.3 136.0,508.5 143.1,508.5 136.8,508.8 173.7,508.5 158.5,508.4 197.8,508.2 184.0,508.4 191.8,508.4 181.6,508.7 208.2,508.3 183.0,508.7 154.7,508.3 166.2,508.5 153.6,508.4 179.5,508.8 210.0,508.9 159.1,508.3 186.7,508.6 160.8,508.6 208.1,508.6 179.5,508.5 190.1,509.0 187.9,508.5 194.2,508.6 189.1,508.5 159.0,508.8 171.6,508.3 175.0,508.4 195.2,508.2 202.4,508.7 159.4,508.8 177.2,508.7 170.8,508.3 173.1,508.7 211.3,508.7 183.0,508.8 197.7,508.5 156.1,508.9 162.0,508.3 171.4,508.8 178.4,508.5 162.7,508.8 196.8,508.7 206.2,508.2 201.5,508.8 181.5,508.5 211.3,508.8 209.2,508.2 220.5,508.4 215.4,508.9 221.6,508.8 219.1,508.7 215.8,508.7 217.2,508.9 231.4,508.4 235.1,508.6 236.0,508.5 239.7,508.3 240.6,508.2 238.5,508.7 240.4,508.2 240.4,508.9 237.3,508.4 246.6,508.9 246.1,508.6 234.1,508.3 242.6,508.3 243.1,508.3 238.8,508.7" fill="none" stroke="none" marker-start="url(#mt)" marker-mid="url(#mt)" marker-end="url(#mt)"/>
<path d="M69.9,477.0 C70.6,477.9 72.5,480.6 73.9,482.1 C75.3,483.6 76.6,485.1 78.2,485.8 C79.8,486.5 81.6,487.0 83.4,486.5 C85.2,486.0 87.5,484.3 89.2,482.9 C91.0,481.5 92.4,479.8 93.9,478.2 C95.4,476.6 96.7,474.9 98.2,473.4 C99.7,471.9 101.3,470.6 103.1,469.4 C104.9,468.2 107.0,466.9 108.9,466.1 C110.8,465.4 112.4,465.0 114.3,464.9 C116.2,464.8 118.2,465.1 120.1,465.3 C122.0,465.5 123.9,465.4 125.7,465.8 C127.5,466.2 129.4,466.9 131.2,467.5 C132.9,468.1 134.6,468.8 136.2,469.4 C137.8,470.0 139.3,470.6 141.0,471.2 C142.7,471.8 144.4,472.4 146.1,472.9 C147.8,473.4 149.5,473.8 151.2,474.4 C152.9,475.0 154.3,475.8 156.4,476.3 C158.5,476.9 161.8,477.5 164.0,477.7 C166.2,477.9 167.9,477.9 169.8,477.7 C171.8,477.5 173.8,477.1 175.7,476.7 C177.6,476.3 179.6,475.7 181.5,475.3 C183.4,474.9 185.6,474.3 187.4,474.1 C189.2,473.9 190.8,473.9 192.5,474.1 C194.2,474.3 195.9,474.9 197.6,475.3 C199.3,475.7 201.0,476.7 202.7,476.3 C204.4,475.9 206.2,474.0 207.8,472.9 C209.4,471.8 210.5,470.3 212.2,469.4 C213.9,468.4 216.1,467.4 218.0,467.2 C219.9,467.0 222.0,467.6 223.9,468.0 C225.8,468.4 227.9,468.9 229.7,469.4 C231.5,469.9 233.1,470.6 234.8,470.9 C236.5,471.2 238.1,471.3 239.9,471.2 C241.7,471.1 243.9,470.7 245.8,470.4 C247.8,470.1 250.6,469.6 251.6,469.4" fill="none" stroke="#000" stroke-width="3.2" stroke-dasharray="3.1 2.7"/>
<polygon points="276.0,448.0 328.0,446.0 328.0,462.0 276.0,466.0" fill="url(#qt)"/>
<polygon points="362.0,480.0 372.0,478.0 416.0,482.0 416.0,508.0 372.0,508.0 362.0,508.0" fill="url(#qt)"/>
<polygon points="436.0,486.0 465.0,486.0 465.0,506.0 436.0,506.0" fill="url(#qt)"/>
<polygon points="276.0,466.0 282.6,465.0 289.9,466.0 297.2,467.0 304.5,463.0 311.8,462.0 319.0,458.0 320.5,443.4 322.0,443.4 323.5,458.0 326.4,458.0 328.6,452.2 329.0,450.3 330.0,445.5 336.0,442.0 340.0,437.6 341.0,437.7 341.1,437.7 344.0,438.0 346.0,442.0 348.0,441.0 352.0,437.6 352.1,437.6 358.0,437.6 363.6,440.0 363.6,471.2 358.0,471.2 352.1,471.2 352.0,500.0 348.0,500.0 346.0,500.0 344.0,500.0 341.1,500.0 341.0,481.4 340.0,481.4 336.0,481.4 330.0,481.4 329.0,481.4 328.6,494.5 326.4,495.2 323.5,496.1 322.0,496.6 320.5,497.0 319.0,497.5 311.8,496.0 304.5,497.5 297.2,503.3 289.9,502.8 282.6,502.3 276.0,501.8" fill="url(#pt)"/>
<polygon points="417.3,446.4 421.0,444.0 424.6,450.0 424.6,484.0 421.0,481.3 417.3,478.5" fill="url(#pt)"/>
<polygon points="436.2,449.3 441.0,449.3 442.0,456.6 446.4,456.6 446.5,455.4 447.0,449.3 465.4,449.3 465.4,488.7 447.0,488.7 446.5,488.7 446.4,484.3 442.0,484.3 441.0,484.3 436.2,484.3" fill="url(#pt)"/>
<polygon points="336.6,482.0 341.0,482.0 341.0,507.0 336.6,507.0" fill="#fff"/>
<path d="M332.6,442.2 332.6,482.8 354.5,437.6 354.5,472.0 279.5,462.8 279.5,501.8 278.5,465.3 278.5,503.5 280.1,466.3 280.1,502.9 354.8,435.4 354.8,472.9 358.1,437.4 358.1,471.3 357.9,435.9 357.9,471.8 319.1,455.1 319.1,500.0 317.2,456.4 317.2,497.4 341.8,438.4 341.8,499.2 341.1,438.2 341.1,493.7 323.6,458.6 323.6,497.6 357.9,437.4 357.9,471.2 350.6,437.7 350.6,499.5 310.5,459.3 310.5,498.8 277.8,466.2 277.8,501.6 282.5,464.7 282.5,503.5 322.6,447.4 322.6,496.9 312.7,462.2 312.7,497.4 352.4,436.8 352.4,471.5 287.9,464.8 287.9,504.3 278.0,464.1 278.0,503.6 300.4,466.1 300.4,502.0 342.0,435.6 342.0,502.3 306.5,460.3 306.5,497.9 292.6,465.2 292.6,505.6 310.3,460.0 310.3,498.2 306.7,462.0 306.7,499.2 298.7,464.0 298.7,501.5 333.5,440.8 333.5,484.1 281.7,465.5 281.7,504.3 342.1,438.7 342.1,500.5 337.6,439.6 337.6,480.4 323.7,457.7 323.7,496.3 300.6,462.5 300.6,499.7 291.0,463.4 291.0,502.0 302.9,462.9 302.9,500.6 288.7,466.5 288.7,505.1 316.0,457.1 316.0,498.1 277.5,463.3 277.5,503.3 306.7,463.4 306.7,498.5 336.2,442.1 336.2,482.4 311.4,461.6 311.4,495.5 291.8,463.7 291.8,505.0 330.5,443.0 330.5,483.9 289.2,463.7 289.2,503.1 344.4,438.2 344.4,503.0 340.7,437.8 340.7,483.3 341.3,436.8 341.3,502.8 340.7,436.7 340.7,482.8 318.7,456.6 318.7,499.1 348.8,439.9 348.8,499.2 310.1,460.9 310.1,499.3 302.1,462.4 302.1,498.6 278.8,464.0 278.8,502.7 324.9,455.2 324.9,498.5 349.3,437.6 349.3,500.8 339.3,435.7 339.3,481.3 296.2,466.0 296.2,505.2 346.2,440.3 346.2,499.1 284.7,463.7 284.7,501.8 301.4,464.8 301.4,500.9 302.2,462.9 302.2,501.7 362.7,439.4 362.7,470.6 347.7,441.7 347.7,500.8 290.0,465.7 290.0,505.0 361.9,439.6 361.9,471.1 290.6,466.9 290.6,505.3 335.4,439.6 335.4,480.9 326.5,458.7 326.5,497.1 326.2,457.4 326.2,496.1 349.9,438.2 349.9,502.5 314.5,459.4 314.5,499.5 334.0,442.0 334.0,480.4 312.9,459.3 312.9,496.9 279.9,464.0 279.9,502.6 347.0,439.8 347.0,502.0 327.4,454.7 327.4,497.0 353.1,435.1 353.1,471.3 279.3,464.8 279.3,501.3 301.6,465.2 301.6,500.4 311.3,460.2 311.3,498.3 320.8,442.3 320.8,499.4 290.1,463.1 290.1,505.4 345.1,440.1 345.1,502.2 321.7,440.8 321.7,496.4 338.2,437.1 338.2,482.8 311.4,462.8 311.4,498.1 307.2,460.1 307.2,498.1 331.7,441.7 331.7,482.3 288.6,464.1 288.6,504.7 356.7,435.0 356.7,471.6 320.9,444.2 320.9,499.5 345.6,438.9 345.6,502.0 335.2,439.6 335.2,482.1 320.6,441.1 320.6,496.6 311.8,459.0 311.8,496.3 321.2,441.5 321.2,497.9 354.2,436.5 354.2,471.7 335.6,442.8 335.6,480.9 348.5,441.2 348.5,502.7 292.6,467.0 292.6,503.3 306.7,460.8 306.7,499.2 331.4,442.3 331.4,481.6 326.8,457.3 326.8,496.5 334.3,441.2 334.3,483.8 329.9,445.2 329.9,481.5 326.0,456.3 326.0,495.9 358.5,436.6 358.5,471.0 312.1,459.7 312.1,497.9 294.6,466.5 294.6,504.0 312.4,461.0 312.4,499.0 328.0,451.6 328.0,495.0 288.6,465.4 288.6,505.3 281.4,463.3 281.4,501.6 322.3,446.6 322.3,496.1 348.6,439.1 348.6,501.1 328.7,452.4 328.7,493.4 361.9,438.6 361.9,474.0 344.9,439.0 344.9,501.4 303.2,461.4 303.2,499.4 298.2,463.5 298.2,505.3 294.4,467.5 294.4,504.1 298.7,464.8 298.7,501.5 324.5,456.2 324.5,494.8 295.3,465.4 295.3,505.8 295.3,467.0 295.3,503.9 306.3,461.3 306.3,498.2 304.1,462.7 304.1,499.8 353.6,436.3 353.6,472.5 289.0,465.0 289.0,505.2 292.6,463.7 292.6,502.0 298.1,465.0 298.1,503.8 310.2,463.2 310.2,497.6 352.9,435.5 352.9,471.2 323.3,452.6 323.3,498.0 303.9,463.2 303.9,499.1 349.7,437.3 349.7,502.8 361.9,437.9 361.9,472.5 276.8,486.1 275.5,493.9 274.6,491.2 273.8,466.7 275.8,487.9 274.1,477.4 274.5,495.1 275.3,491.0 274.6,489.8 274.3,468.1 274.3,467.9 275.0,478.9 275.2,496.1 275.9,484.0 274.5,485.2 275.1,487.9 273.9,468.9 275.5,495.2 276.7,493.8 275.7,472.4 274.5,490.6 274.6,492.8 274.6,501.5 274.2,468.4 276.5,489.2 363.8,450.4 365.5,447.6 364.0,470.2 364.8,458.7 363.4,465.1 364.0,469.9 363.9,452.1 364.1,468.4 365.0,458.9 362.9,444.9 363.8,462.6 363.8,451.0 364.1,440.5 365.2,449.5 365.7,468.4 364.6,458.6 364.9,441.9 365.8,458.8 364.5,461.9 364.6,465.8 364.4,450.1 418.6,443.8 418.6,480.0 419.7,444.1 419.7,481.7 419.8,443.7 419.8,482.1 424.6,447.8 424.6,483.3 422.4,446.4 422.4,484.3 419.8,442.1 419.8,480.8 423.3,445.8 423.3,484.7 419.9,445.3 419.9,479.5 421.7,443.3 421.7,483.7 421.2,443.0 421.2,484.4 420.6,443.8 420.6,482.6 417.2,465.2 415.3,478.0 416.8,466.3 416.1,449.8 417.3,464.8 415.5,460.3 415.7,464.8 415.6,476.2 417.1,458.9 418.0,471.8 416.6,474.5 417.8,460.9 415.6,452.9 416.5,474.5 415.8,453.0 416.8,458.4 416.8,448.9 415.4,464.2 415.5,467.9 417.9,457.8 417.6,456.0 415.8,471.3 423.9,475.8 423.9,450.6 426.5,453.1 425.6,477.5 424.0,478.0 424.8,478.6 426.2,466.2 425.6,464.4 424.1,470.2 425.6,452.4 425.2,458.4 425.0,470.8 424.6,461.8 423.9,474.3 426.2,483.8 425.2,463.3 424.9,471.1 425.5,452.7 425.2,481.4 424.7,470.8 426.7,454.0 426.7,461.4 425.3,460.5 444.6,455.4 444.6,485.9 452.8,446.7 452.8,490.6 449.6,446.6 449.6,489.2 463.5,449.1 463.5,491.4 444.9,454.1 444.9,483.5 442.2,457.2 442.2,483.5 456.2,446.4 456.2,487.7 464.1,449.3 464.1,491.2 444.0,454.2 444.0,486.6 458.5,447.3 458.5,490.5 454.3,446.5 454.3,491.6 440.9,448.8 440.9,484.5 450.4,449.5 450.4,488.2 444.3,455.3 444.3,484.6 455.4,449.7 455.4,491.0 454.7,448.4 454.7,490.3 444.6,456.4 444.6,484.0 463.3,449.4 463.3,490.7 449.9,448.7 449.9,489.5 455.5,446.6 455.5,489.7 448.2,449.8 448.2,488.0 461.5,450.1 461.5,491.5 444.3,454.8 444.3,483.9 459.4,449.1 459.4,488.6 456.7,447.3 456.7,490.8 438.0,449.8 438.0,485.0 462.1,448.4 462.1,488.2 458.7,449.2 458.7,487.8 440.4,446.9 440.4,484.9 452.2,448.7 452.2,491.4 450.1,448.5 450.1,490.5 464.2,450.0 464.2,489.8 447.4,446.7 447.4,488.4 442.0,455.5 442.0,485.7 439.2,448.4 439.2,486.8 462.0,449.7 462.0,491.0 450.0,448.3 450.0,488.0 464.5,448.0 464.5,487.8 461.5,449.3 461.5,490.3 442.6,453.9 442.6,485.6 442.3,455.8 442.3,486.1 446.9,450.7 446.9,491.2 464.9,446.4 464.9,489.6 458.0,447.7 458.0,490.6 440.2,448.3 440.2,487.3 447.5,446.6 447.5,489.9 436.5,467.3 434.3,483.2 434.9,473.6 435.7,472.0 435.4,463.4 436.0,465.7 437.0,475.0 435.2,461.2 434.8,475.1 435.6,468.4 436.7,450.8 434.5,459.1 434.8,463.4 434.7,479.7 436.8,454.6 435.7,452.6 437.0,463.8 436.7,481.7 434.5,450.2 435.2,474.7 436.7,450.2 436.4,476.0 436.6,454.6 434.9,465.5 466.2,453.5 465.0,464.5 466.2,465.6 467.1,478.0 466.8,475.3 465.6,472.6 465.3,485.1 465.8,473.4 466.8,477.7 465.0,451.0 465.5,470.1 465.5,459.9 466.9,454.4 465.2,467.7 464.9,481.9 466.4,484.9 465.5,469.7 466.1,482.3 465.8,474.4 467.5,466.8 464.8,477.0 465.4,474.8 467.6,484.8 465.0,452.7 467.4,463.0 465.4,469.5 465.4,472.3 288.1,457.8 324.4,459.1 327.3,445.6 294.6,449.7 279.9,451.9 284.3,459.7 284.8,445.4 286.7,456.5 303.6,447.1 306.7,453.2 323.7,442.8 305.5,445.8 285.1,461.6 318.3,445.3 319.5,444.2 285.4,446.1 326.9,460.4 315.4,446.5 324.0,454.9 284.1,461.1 298.0,460.0 276.5,461.5 289.6,460.1 306.3,440.5 297.4,450.5 325.7,456.1 280.7,449.2 329.6,456.7 300.2,446.0 326.1,443.2 297.6,450.8 308.4,459.4 315.9,453.4 319.3,457.3 292.5,442.4 325.5,456.7 287.3,452.6 299.0,447.3 282.6,456.9 290.2,441.6 297.0,447.5 323.0,444.7 278.3,462.1 302.3,446.3 320.6,451.0 296.8,451.3 309.3,440.0 328.2,450.5 358.1,498.5 358.5,471.7 358.9,482.7 357.2,497.5 353.0,475.7 354.2,504.7 357.8,490.1 359.7,503.0 361.9,479.1 362.0,504.8 356.4,471.1 359.1,477.9 352.6,488.2 361.1,474.0 357.4,499.7 357.5,502.7 361.1,474.3 354.5,495.7 353.8,488.0 358.3,474.0 355.7,500.7 361.9,487.8 352.9,476.0 352.7,493.9 404.5,451.7 399.3,479.8 384.3,457.6 396.1,443.1 380.3,469.7 394.4,476.9 386.6,449.8 403.5,469.8 398.3,479.2 402.4,454.3 387.2,477.5 395.3,465.1 372.1,457.6 393.9,473.9 383.1,460.9 401.6,469.2 402.6,455.8 380.8,442.3 397.9,432.1 399.9,471.2 381.5,463.2 380.7,478.2 401.9,476.9 384.1,433.8 402.0,474.3 409.4,476.9 379.1,450.9 415.8,460.4 414.3,450.4 379.4,465.3 404.9,469.3 406.0,479.5 413.1,465.5 386.5,455.1 375.6,451.8 387.7,448.9 407.8,435.4 390.2,449.0 386.7,464.9 397.5,474.4 405.8,468.9 411.5,477.0 398.1,443.6 382.1,462.2 400.1,441.6 415.9,459.8 372.5,445.0 400.1,445.3 398.7,458.8 414.3,432.8 373.0,445.5 408.1,449.9 390.1,472.7 414.9,471.2 410.5,458.1 391.2,450.9 376.1,452.3 372.6,454.7 389.9,432.7 396.7,450.0 398.3,474.2 411.8,449.8 397.2,478.3 415.4,445.1 421.5,484.4 435.2,494.1 420.6,503.5 433.7,487.7 427.6,490.0 432.7,505.4 434.1,486.9 416.9,485.5 426.9,500.4 426.2,503.6 423.3,493.9 425.5,502.4 427.5,492.5 423.4,505.9 425.0,480.8 434.0,506.6 430.7,489.6 429.1,483.2 419.1,489.1 420.8,493.6 430.2,495.9 424.6,502.8 423.0,484.4 433.1,493.3 417.6,498.4 417.3,501.8 424.5,495.5 431.3,497.5 351.0,490.1 333.8,500.9 350.9,497.2 332.5,495.5 334.2,492.8 349.6,487.2 351.4,497.9 342.9,485.5 338.6,504.2 344.1,504.7 346.8,504.8 336.1,488.1 332.0,484.2 345.2,491.2 333.4,488.7 335.0,490.9 341.8,506.2 341.1,506.3 346.7,495.6 341.1,484.8 341.5,489.1 329.0,490.9 330.4,493.7 340.0,484.4 462.5,495.7 445.5,498.7 439.0,495.4 452.0,490.5 439.7,490.6 460.9,498.8 461.1,498.2 452.6,495.6 445.4,496.6 440.8,504.2 449.5,491.8 460.8,503.4 441.4,503.0 462.1,497.2 445.6,488.3 455.0,497.2 462.1,499.2 461.4,499.7 456.2,504.1 304.1,430.2 316.8,429.6 333.8,430.0 294.0,429.8 288.5,430.0 327.1,430.0 293.6,429.5 314.1,429.8 294.1,430.1 320.4,429.7 324.8,429.6 329.1,429.5 316.5,429.9 303.2,430.2 344.1,429.9 290.7,429.6 331.9,429.7 303.0,429.8 300.0,429.5 298.6,429.7 299.8,429.4 331.1,430.1 287.4,430.0 324.9,430.0 332.6,429.7 300.2,430.1 326.9,429.8 307.8,429.9 286.3,429.5 316.8,429.9 327.6,429.5 330.3,429.4 296.8,429.4 288.9,429.9 327.8,430.1 336.3,430.1 291.7,429.8 289.2,429.9 293.9,430.1 331.4,430.0 340.6,429.6 338.8,429.9 334.4,430.0 315.0,429.4 338.4,429.9 290.8,429.8 303.3,430.2 298.2,429.4 344.7,430.1 288.3,429.9 284.5,430.1 304.9,429.6 318.6,430.1 319.7,429.5 321.2,429.7 337.9,430.1 332.4,429.9 332.0,429.7 320.4,430.2 285.8,430.0 317.1,429.4 330.4,430.0 291.7,430.2 325.2,430.0 310.9,429.5 295.9,430.0 337.0,429.7 333.3,429.5 299.1,430.0 324.9,429.5 342.9,429.9 332.0,430.2 334.0,429.9 298.4,429.7 335.1,430.2 371.3,429.9 358.8,429.8 366.5,429.5 364.8,429.4 358.9,429.8 370.5,430.1 363.0,429.6 362.0,429.6 371.8,429.4 361.2,429.6 363.3,429.9 361.5,429.4 371.3,429.7 361.2,429.8 358.1,429.6 355.0,430.1 367.1,429.7 369.8,429.4 365.8,430.0 369.8,430.0 355.2,429.9 361.1,429.7 436.9,429.9 413.0,429.6 450.4,429.8 396.7,429.7 430.3,429.6 412.0,430.0 429.0,429.8 430.1,429.7 456.9,430.2 445.1,429.9 377.4,429.7 396.3,430.1 427.8,429.9 425.4,430.2 417.3,429.6 457.9,429.6 428.4,429.8 455.7,430.0 458.7,430.0 427.0,429.5 386.2,429.7 402.8,429.5 428.5,430.1 419.9,430.0 404.6,429.7 428.2,429.5 434.8,430.0 402.0,430.1 442.8,430.0 411.9,429.9 427.2,430.2 428.3,429.6 446.2,429.9 411.4,429.9 413.9,429.7 418.7,430.1 450.1,430.1 430.7,429.4 446.6,429.4 448.9,429.7 413.2,429.7 439.3,430.1 452.6,429.6 459.4,429.7 420.0,429.9 385.8,429.8 397.9,429.6 374.9,429.9 377.9,430.0 428.6,430.0 400.2,430.1 450.2,429.9 394.2,430.1 415.8,429.6 399.5,429.7 413.4,430.1 391.7,429.8 382.3,429.5 411.8,429.7 397.7,430.1 373.5,429.4 378.4,429.4 401.5,429.6 437.4,429.7 381.9,429.8 454.7,429.8 386.3,430.0 379.8,429.6 437.3,430.0 416.6,429.7 378.6,429.8 410.3,429.5 435.6,429.6 394.5,429.7 420.6,429.8 437.2,429.7 409.4,429.7 372.6,430.1 398.2,430.0 438.8,430.1 433.9,430.1 396.8,429.9 386.3,430.2 455.2,429.7 423.4,429.6 425.8,429.9 377.5,429.5 450.6,429.4 410.6,430.0 393.5,429.6 440.0,429.7 381.8,429.8 398.4,429.6 448.5,429.6 441.9,429.6 455.3,429.9 387.2,430.1 392.5,429.6 447.0,430.2 376.0,430.1 296.2,508.6 277.2,508.9 281.1,508.8 293.6,508.4 314.9,508.9 308.8,508.3 299.3,508.3 299.0,508.9 300.5,508.9 290.1,508.6 292.7,508.7 304.3,508.4 296.5,508.8 287.6,508.4 305.6,508.9 284.5,508.7 285.4,508.2 280.2,508.3 317.4,509.0 283.7,508.6 309.4,508.8 313.5,508.3 292.1,508.7 293.3,508.4 292.3,508.5 314.0,508.8 291.4,508.6 291.4,508.7 310.1,508.5 289.5,508.7 320.9,508.5 322.5,508.6 324.1,508.4 322.3,508.7 325.5,508.3 328.5,508.2 337.6,508.4 342.2,508.3 333.7,508.2 341.3,508.2 342.4,508.7 343.7,508.6 334.9,509.0 341.6,508.2 344.3,508.2 338.0,508.6 346.5,508.7 346.1,508.4 395.5,508.5 393.3,508.4 369.2,508.3 393.7,508.7 385.5,508.5 376.8,508.8 384.8,508.2 369.2,508.9 387.6,509.0 372.2,508.3 378.7,508.5 378.8,508.9 390.6,508.5 383.8,508.7 369.5,508.6 391.4,508.3 370.2,508.5 385.0,508.6 354.4,508.4 400.8,508.7 370.5,508.3 356.7,508.2 382.6,508.6 382.3,508.5 397.4,508.8 360.1,508.4 373.5,508.9 362.1,508.3 364.6,508.5 394.3,508.4 385.1,508.5 384.3,508.6 364.4,508.5 367.5,508.6 358.4,508.7 385.7,509.0 357.6,508.6 411.3,508.8 402.8,508.2 410.2,508.6 410.5,508.7 403.8,508.4 408.1,508.5 417.3,508.9 414.1,508.7 415.0,508.8 407.0,508.5 414.3,509.0 413.1,509.0 450.2,508.7 432.6,509.0 445.5,508.5 437.0,508.5 432.4,508.8 449.4,509.0 447.0,508.9 453.4,508.8 432.9,508.7 436.9,508.4 439.9,508.6 451.8,508.3 449.5,508.9 439.7,508.3 447.9,508.3 435.0,509.0 440.9,508.9 444.9,508.2 445.5,508.4 434.6,508.3 447.5,508.4" fill="none" stroke="none" marker-start="url(#mt)" marker-mid="url(#mt)" marker-end="url(#mt)"/>
<path d="M277.9,480.2 C278.7,480.4 280.9,481.3 282.6,481.7 C284.4,482.1 286.4,482.5 288.4,482.6 C290.3,482.7 292.4,482.5 294.3,482.4 C296.2,482.3 298.2,482.0 300.1,481.8 C302.1,481.6 304.1,481.6 306.0,481.4 C307.9,481.2 310.1,481.1 311.8,480.7 C313.5,480.3 314.7,479.6 316.2,478.8 C317.7,478.0 319.3,476.9 320.8,475.6 C322.3,474.3 323.8,472.7 325.2,471.2 C326.6,469.7 328.0,468.2 329.3,466.5 C330.6,464.8 331.7,462.7 333.0,461.2 C334.3,459.7 335.7,458.2 337.3,457.3 C338.9,456.4 340.8,455.9 342.5,455.8 C344.2,455.7 345.9,456.5 347.6,456.9 C349.3,457.3 350.9,457.9 352.7,458.3 C354.5,458.7 356.6,458.8 358.5,459.2 C360.4,459.6 362.8,460.4 364.4,460.7 C366.0,461.0 366.5,461.1 368.0,461.2 C369.5,461.3 371.6,461.2 373.5,461.2 C375.4,461.2 377.2,461.2 379.3,461.2 C381.4,461.2 383.7,461.1 385.9,461.2 C388.1,461.3 390.3,461.5 392.4,461.7 C394.5,461.9 396.4,462.0 398.3,462.1 C400.2,462.2 402.1,462.1 404.1,462.1 C406.1,462.2 408.2,462.3 410.2,462.4 C412.1,462.5 413.9,462.4 415.8,462.7 C417.7,462.9 419.7,463.6 421.6,463.9 C423.6,464.2 425.6,464.3 427.5,464.6 C429.4,464.9 431.4,465.3 433.3,465.6 C435.2,465.9 437.2,466.3 439.2,466.5 C441.1,466.7 443.1,466.7 445.0,466.8 C446.9,466.9 449.0,467.1 450.8,467.1 C452.6,467.2 454.1,467.1 455.9,467.1 C457.7,467.1 460.8,467.1 461.8,467.1" fill="none" stroke="#000" stroke-width="3.2" stroke-dasharray="3.1 2.7"/>
<polygon points="484.0,490.0 671.0,490.0 671.0,507.0 484.0,507.0" fill="url(#qt)"/>
<polygon points="484.0,453.7 490.6,458.0 497.9,459.5 499.4,460.1 505.2,462.4 512.5,469.7 515.4,459.5 519.8,455.1 527.1,456.6 534.4,458.0 537.3,459.7 541.7,462.4 543.2,461.8 549.0,459.5 556.3,461.0 563.6,459.5 570.9,463.9 576.0,455.1 580.0,463.9 585.8,462.4 587.3,461.3 591.7,458.0 594.6,455.1 599.0,450.7 601.9,454.6 603.4,456.6 604.8,455.9 609.2,453.7 616.5,452.2 620.9,451.3 623.8,450.7 626.7,450.1 631.1,449.3 632.6,449.3 638.4,449.3 644.2,455.1 648.6,456.6 653.0,452.2 655.9,458.0 661.8,459.5 667.6,463.9 670.5,466.8 670.5,498.0 667.6,498.3 661.8,499.0 655.9,498.0 653.0,497.2 648.6,496.0 644.2,493.0 638.4,490.2 632.6,488.7 631.1,490.0 626.7,494.0 623.8,489.1 620.9,484.3 616.5,496.0 609.2,485.8 604.8,484.3 603.4,489.9 601.9,496.0 599.0,496.0 594.6,496.0 591.7,496.8 587.3,498.0 585.8,498.0 580.0,498.0 576.0,498.0 570.9,498.0 563.6,498.0 556.3,496.0 549.0,497.0 543.2,496.0 541.7,496.8 537.3,499.0 534.4,497.0 527.1,495.0 519.8,494.0 515.4,494.6 512.5,495.0 505.2,494.0 499.4,491.6 497.9,490.9 490.6,487.2 484.0,496.0" fill="url(#pt)"/>
<path d="M518.8,456.1 518.8,494.6 523.1,453.1 523.1,494.6 575.9,453.6 575.9,500.0 570.6,460.8 570.6,497.0 542.4,462.4 542.4,498.7 546.3,461.4 546.3,497.6 603.2,456.1 603.2,493.3 618.3,449.4 618.3,490.9 549.6,458.1 549.6,499.9 562.3,457.8 562.3,497.5 528.9,456.3 528.9,494.6 532.2,457.9 532.2,495.8 646.0,454.3 646.0,496.2 585.9,459.4 585.9,500.8 527.0,454.0 527.0,495.5 654.9,454.8 654.9,499.9 544.3,459.6 544.3,495.4 525.2,457.0 525.2,495.5 644.4,452.5 644.4,494.8 588.3,458.4 588.3,499.9 592.9,455.3 592.9,497.1 535.1,457.4 535.1,500.0 605.2,454.8 605.2,483.9 493.9,456.5 493.9,490.1 557.0,461.1 557.0,496.1 663.1,457.7 663.1,500.5 573.1,460.5 573.1,497.3 631.0,449.3 631.0,491.2 625.1,450.1 625.1,492.6 544.0,461.9 544.0,496.1 585.9,459.3 585.9,497.7 523.6,456.5 523.6,494.1 631.8,447.1 631.8,490.7 594.6,455.1 594.6,498.5 497.3,457.6 497.3,491.9 638.8,449.5 638.8,493.2 569.9,463.5 569.9,498.5 668.5,462.3 668.5,500.8 518.7,455.4 518.7,496.7 623.5,451.5 623.5,490.8 620.0,452.4 620.0,488.5 631.9,446.4 631.9,492.1 655.8,456.4 655.8,497.3 569.3,461.3 569.3,497.8 614.8,452.0 614.8,495.0 664.6,459.5 664.6,501.2 604.6,454.1 604.6,488.1 594.3,452.4 594.3,495.3 592.5,458.1 592.5,495.8 494.4,458.7 494.4,490.6 637.2,446.5 637.2,491.0 561.5,457.9 561.5,500.1 649.9,454.9 649.9,498.7 633.5,448.5 633.5,491.8 495.0,459.5 495.0,490.1 537.7,459.1 537.7,501.4 604.5,456.0 604.5,487.3 548.0,460.0 548.0,498.2 509.9,464.8 509.9,494.1 565.0,457.9 565.0,499.3 505.0,462.4 505.0,496.4 634.8,447.4 634.8,491.1 550.5,458.3 550.5,496.4 631.7,448.0 631.7,489.3 536.2,456.9 536.2,499.2 642.7,454.6 642.7,493.3 512.5,469.9 512.5,497.2 502.5,461.1 502.5,494.3 589.5,457.1 589.5,500.0 581.4,462.6 581.4,497.9 535.5,458.0 535.5,497.7 607.9,454.4 607.9,488.2 619.4,450.6 619.4,490.4 552.5,461.0 552.5,497.0 535.5,459.3 535.5,499.4 512.7,467.1 512.7,495.2 488.6,453.8 488.6,492.6 596.0,451.2 596.0,496.9 640.7,449.2 640.7,491.4 576.4,454.7 576.4,501.0 553.4,459.8 553.4,495.8 525.6,456.8 525.6,494.8 485.2,454.5 485.2,497.3 543.8,459.7 543.8,497.1 578.1,458.3 578.1,499.7 637.2,446.3 637.2,490.5 578.3,460.5 578.3,497.3 664.9,460.2 664.9,498.0 555.2,458.0 555.2,496.5 489.2,455.4 489.2,489.7 606.3,455.8 606.3,486.0 636.4,447.2 636.4,489.4 637.9,449.5 637.9,490.8 627.9,447.1 627.9,495.4 534.0,456.7 534.0,496.2 644.9,455.7 644.9,492.7 597.6,450.0 597.6,496.8 587.6,461.9 587.6,498.7 505.3,461.3 505.3,495.3 485.3,455.3 485.3,496.3 593.4,454.4 593.4,496.9 553.5,461.2 553.5,496.2 634.1,449.7 634.1,489.1 661.9,460.1 661.9,500.6 651.8,452.3 651.8,496.4 553.8,458.9 553.8,499.1 586.6,461.5 586.6,497.5 554.1,461.0 554.1,495.6 497.2,457.7 497.2,490.7 582.1,464.1 582.1,500.1 613.6,451.7 613.6,492.9 582.1,463.7 582.1,500.2 546.7,457.7 546.7,497.0 567.2,462.6 567.2,497.7 493.1,457.8 493.1,487.8 593.1,454.7 593.1,498.3 560.6,458.2 560.6,499.0 545.1,459.6 545.1,498.5 504.6,462.4 504.6,494.5 649.8,453.3 649.8,496.1 517.6,455.2 517.6,494.0 586.3,462.2 586.3,497.6 572.7,461.5 572.7,499.2 654.0,454.2 654.0,496.5 541.9,462.8 541.9,497.2 640.6,450.7 640.6,490.4 525.0,453.7 525.0,495.5 635.6,448.3 635.6,488.5 637.2,446.3 637.2,492.5 605.2,454.3 605.2,484.8 535.9,457.4 535.9,499.1 667.6,461.9 667.6,500.6 649.0,455.7 649.0,498.7 600.6,453.3 600.6,495.5 560.7,460.1 560.7,499.9 522.1,455.0 522.1,495.2 533.7,456.9 533.7,497.9 500.8,460.5 500.8,493.5 608.4,452.1 608.4,484.6 584.7,463.6 584.7,499.3 526.8,456.2 526.8,494.1 505.9,460.5 505.9,493.8 656.3,457.5 656.3,499.8 558.2,457.9 558.2,498.1 543.7,459.4 543.7,495.4 651.5,453.6 651.5,497.3 524.1,456.9 524.1,497.4 586.0,460.9 586.0,500.3 590.3,457.4 590.3,500.1 656.0,456.1 656.0,500.9 642.5,454.4 642.5,495.0 541.4,462.4 541.4,496.7 517.4,455.5 517.4,494.5 545.2,461.4 545.2,497.9 486.9,455.9 486.9,491.7 630.2,447.5 630.2,493.7 603.4,456.1 603.4,489.9 642.8,451.0 642.8,494.6 588.5,459.0 588.5,498.3 488.5,455.6 488.5,490.9 553.3,458.2 553.3,497.7 568.3,460.2 568.3,497.9 516.2,455.8 516.2,496.4 518.0,456.6 518.0,494.8 503.2,459.5 503.2,495.1 544.6,460.5 544.6,495.6 661.2,458.2 661.2,501.1 525.3,457.0 525.3,494.7 611.8,453.8 611.8,491.0 504.4,462.5 504.4,495.8 610.8,452.9 610.8,487.3 540.2,459.8 540.2,497.5 633.7,446.8 633.7,489.0 516.6,456.0 516.6,496.9 491.1,455.3 491.1,489.5 539.9,459.5 539.9,497.3 597.0,450.1 597.0,496.7 602.8,452.8 602.8,493.3 509.1,463.4 509.1,496.7 488.6,454.4 488.6,492.7 492.8,457.2 492.8,490.1 589.9,460.2 589.9,498.0 648.8,454.4 648.8,496.6 669.6,464.6 669.6,499.5 642.0,453.5 642.0,494.6 488.3,455.0 488.3,493.0 552.4,458.1 552.4,496.5 641.2,451.3 641.2,492.1 519.4,453.6 519.4,494.1 575.8,452.7 575.8,499.1 595.4,454.3 595.4,497.2 625.9,448.0 625.9,495.0 523.7,454.3 523.7,496.0 503.6,462.0 503.6,495.6 617.7,450.3 617.7,492.5 519.8,453.0 519.8,495.5 528.2,456.1 528.2,497.4 648.9,456.3 648.9,496.4 619.5,452.4 619.5,489.6 499.6,459.3 499.6,492.6 486.8,453.7 486.8,494.6 572.1,462.6 572.1,500.4 572.3,460.7 572.3,497.7 605.8,453.0 605.8,485.8 573.4,459.3 573.4,499.8 656.1,458.6 656.1,500.4 511.3,467.3 511.3,496.7 562.3,456.8 562.3,499.0 504.2,459.1 504.2,493.3 526.8,454.4 526.8,495.6 623.2,450.2 623.2,488.8 554.5,459.5 554.5,496.6 649.4,454.4 649.4,498.2 587.4,460.0 587.4,499.3 629.7,448.5 629.7,493.0 537.1,459.3 537.1,498.8 537.0,460.3 537.0,500.6 603.3,454.7 603.3,491.5 539.5,459.0 539.5,499.4 508.8,463.2 508.8,496.1 550.5,458.2 550.5,498.3 647.8,455.9 647.8,494.9 626.0,449.5 626.0,495.6 503.8,460.3 503.8,492.8 540.3,460.4 540.3,498.3 548.7,459.6 548.7,499.7 591.5,457.0 591.5,499.1 598.5,450.7 598.5,496.0 588.1,460.5 588.1,497.3 593.8,455.3 593.8,497.5 614.3,453.4 614.3,495.7 658.6,459.0 658.6,498.1 618.0,451.8 618.0,493.1 568.0,460.7 568.0,498.5 559.4,458.2 559.4,499.1 593.0,457.6 593.0,497.5 663.5,461.6 663.5,498.2 582.8,462.7 582.8,500.7 562.2,459.8 562.2,497.6 550.3,458.4 550.3,498.2 533.2,455.4 533.2,495.8 515.4,460.1 515.4,497.0 541.5,461.1 541.5,497.5 588.8,458.1 588.8,496.8 587.8,461.7 587.8,500.2 598.6,448.6 598.6,496.7 576.2,456.4 576.2,499.5 617.2,451.0 617.2,496.2 517.3,458.6 517.3,497.1 609.5,452.3 609.5,488.7 485.8,452.9 485.8,495.0 637.7,447.4 637.7,491.8 653.4,453.2 653.4,498.4 633.0,449.8 633.0,489.6 527.9,455.1 527.9,495.7 662.6,457.1 662.6,500.4 517.6,455.0 517.6,494.8 563.6,459.6 563.6,498.1 612.2,450.3 612.2,490.4 543.4,459.3 543.4,497.1 549.0,457.7 549.0,497.1 628.6,448.3 628.6,494.0 614.6,452.9 614.6,495.7 611.5,452.3 611.5,489.4 661.3,456.7 661.3,498.3 503.2,460.2 503.2,495.7 658.6,458.4 658.6,501.2 528.0,456.0 528.0,495.6 586.7,462.2 586.7,497.6 579.9,460.9 579.9,497.5 548.6,458.7 548.6,496.0 639.6,447.5 639.6,492.9 539.1,459.2 539.1,500.4 489.9,456.4 489.9,487.8 622.9,450.8 622.9,487.4 632.8,446.9 632.8,488.4 515.5,458.1 515.5,497.3 536.2,457.8 536.2,499.4 642.9,451.6 642.9,492.7 511.0,468.9 511.0,496.8 577.5,456.8 577.5,499.3 551.2,458.4 551.2,498.4 496.1,456.5 496.1,489.7 670.2,464.1 670.2,498.7 560.9,458.9 560.9,499.0 620.1,451.8 620.1,486.3 665.3,461.7 665.3,500.4 545.5,460.1 545.5,495.5 644.2,453.6 644.2,494.6 588.3,459.9 588.3,497.8 616.6,450.0 616.6,498.3 572.4,462.0 572.4,497.1 491.7,455.5 491.7,488.8 500.7,459.8 500.7,491.7 503.3,461.2 503.3,495.9 614.7,449.8 614.7,494.6 658.7,456.5 658.7,501.2 640.9,451.9 640.9,492.8 483.7,458.5 484.4,456.5 482.1,484.9 483.6,490.3 483.2,482.7 484.6,493.5 484.0,469.2 483.6,473.4 482.8,465.0 483.0,473.6 484.1,488.1 484.4,478.3 484.0,486.3 484.0,481.3 483.5,479.2 483.2,472.6 482.6,487.7 484.7,456.6 483.3,485.9 482.6,483.6 483.8,476.0 483.1,457.9 482.8,454.9 483.2,472.5 483.3,489.5 482.7,479.1 483.4,482.4 482.9,464.5 483.5,460.7 672.5,480.5 671.4,494.4 671.0,479.7 669.9,481.5 670.8,484.1 671.8,483.6 670.5,494.1 671.9,473.2 672.3,480.0 670.0,484.8 671.3,485.6 671.7,476.6 672.4,469.3 669.8,490.2 670.1,485.0 670.2,477.6 670.7,483.1 670.1,486.7 671.6,474.8 672.7,481.3 669.8,496.7 529.2,452.3 541.2,456.9 539.1,458.5 546.7,459.6 534.0,447.8 526.6,453.7 539.5,453.4 517.4,447.0 528.8,455.6 535.2,454.8 547.2,454.2 540.8,447.1 539.7,457.7 538.4,447.2 546.6,449.0 534.8,448.6 530.8,457.1 535.3,458.1 544.0,443.3 545.7,459.0 522.5,456.4 538.0,453.6 520.9,457.9 527.5,450.5 516.0,445.5 547.3,447.3 546.9,445.6 539.6,450.0 537.7,442.1 535.7,450.6 525.0,453.6 520.3,446.9 517.7,453.7 518.9,458.2 548.3,446.0 546.0,442.2 538.1,455.6 542.1,453.1 521.5,456.8 541.1,448.2 588.7,444.8 596.5,439.2 598.0,449.4 590.1,448.0 588.9,445.9 590.9,439.8 586.2,450.7 590.4,438.0 591.0,448.5 587.5,438.4 590.4,459.1 584.9,438.2 584.4,447.9 593.3,448.0 597.8,453.6 600.3,461.6 668.8,441.8 658.6,452.9 669.7,455.7 667.0,442.4 663.0,450.0 665.8,450.2 665.7,441.5 662.8,447.3 657.3,441.0 665.3,447.1 662.5,457.6 668.8,449.2 664.9,454.4 670.2,450.4 662.8,439.0 666.9,438.0 660.2,441.3 668.5,450.9 664.3,437.2 505.9,505.6 496.2,502.3 509.8,500.8 495.6,504.5 526.8,501.7 557.6,502.7 543.6,500.9 484.8,501.9 487.9,505.2 521.7,500.7 554.7,501.6 556.8,503.7 558.7,500.7 555.0,501.2 570.7,504.8 485.3,501.5 645.9,497.6 621.6,498.8 605.4,496.2 622.2,507.0 601.2,498.9 621.4,493.7 626.9,501.7 610.0,499.5 629.2,487.0 626.2,497.9 625.3,489.5 621.3,491.7 636.6,489.3 606.8,490.5 630.2,486.0 605.4,492.7 613.9,503.4 634.9,497.9 623.0,489.3 619.1,506.0 643.7,497.2 640.0,497.2 636.6,485.5 643.2,505.5 635.7,503.2 629.9,488.2 613.3,493.7 629.7,494.0 601.2,498.9 625.3,492.9 630.7,498.3 635.1,500.3 513.9,451.9 510.9,440.7 506.6,444.0 511.0,442.3 495.4,447.8 485.4,450.3 512.2,442.3 491.0,443.3 491.6,448.4 484.8,449.3 508.5,444.3 504.3,443.7 498.9,429.7 487.1,429.5 490.2,430.0 504.5,429.4 501.1,429.5 502.4,429.8 490.0,430.1 500.9,429.7 492.4,430.0 492.7,430.2 504.1,429.9 501.7,429.5 493.6,429.7 492.7,429.7 501.7,429.6 486.7,429.4 498.0,429.4 503.5,429.9 489.4,429.7 502.6,429.5 495.7,429.8 495.7,430.1 490.0,429.8 488.1,429.8 486.4,429.5 496.1,430.0 496.1,429.4 497.9,430.1 556.2,429.4 551.1,429.4 549.0,429.8 512.7,429.7 523.0,430.0 529.3,429.7 533.6,429.4 508.8,429.6 550.7,429.8 517.4,429.5 547.7,429.8 510.1,429.7 564.5,429.8 561.1,430.2 510.5,429.6 558.7,429.4 517.6,429.7 551.7,429.7 515.9,429.9 535.1,429.8 512.2,430.0 532.4,429.5 553.8,429.8 544.4,429.5 525.1,429.9 541.4,430.1 527.6,429.9 547.8,429.4 524.2,429.9 509.9,430.1 539.3,429.7 532.6,430.1 524.5,429.7 544.8,429.7 535.8,430.1 555.1,430.1 537.6,429.7 518.3,430.1 510.3,430.0 541.4,430.0 509.1,429.5 537.8,429.6 522.3,430.1 527.5,429.5 519.5,429.6 526.8,430.0 512.0,429.9 543.7,429.9 541.3,429.4 538.0,429.6 537.9,429.9 535.1,429.9 539.4,430.2 548.3,429.9 540.5,429.5 513.1,429.9 527.2,429.7 523.7,429.6 531.9,429.5 526.0,429.7 515.4,430.1 564.1,429.9 563.4,430.0 550.6,429.6 555.7,430.0 524.1,429.6 533.4,429.8 539.4,429.8 520.7,429.9 561.1,430.1 540.5,430.0 560.9,429.4 542.0,429.9 510.7,429.4 560.4,430.1 571.2,430.2 572.0,430.0 572.5,429.5 575.6,429.8 572.6,429.4 571.0,430.0 575.6,429.9 575.1,430.1 573.5,429.7 589.4,429.5 596.2,429.7 597.0,429.6 581.6,429.5 592.4,429.9 600.1,429.7 597.5,429.5 580.9,430.0 589.3,429.6 591.3,429.8 594.1,429.7 587.4,429.9 591.0,429.7 587.7,430.0 588.1,429.8 582.3,429.6 594.5,430.1 591.0,429.7 592.3,430.0 600.2,429.4 581.3,429.7 580.7,429.8 587.6,429.4 582.7,429.8 598.3,429.6 634.4,429.9 663.4,429.9 656.1,429.7 626.3,430.1 649.2,429.5 654.4,429.5 658.1,429.9 663.1,429.7 626.5,430.1 613.4,429.8 629.6,429.5 624.1,430.2 617.8,430.1 631.5,430.0 634.2,429.4 648.3,429.5 615.0,429.5 664.9,429.6 645.3,429.7 632.7,429.5 612.7,430.0 627.6,430.2 616.2,430.1 660.7,430.1 641.9,429.4 655.9,430.0 625.1,430.0 613.8,429.9 612.0,429.5 639.0,430.1 661.4,430.0 614.9,430.2 623.4,429.9 642.1,429.7 636.0,430.0 624.7,430.1 666.0,429.6 642.7,430.1 642.7,429.4 646.4,429.5 658.0,429.5 643.7,429.6 650.3,430.2 655.3,429.7 642.1,429.9 626.5,429.8 641.7,429.5 652.9,429.5 650.1,430.1 646.1,430.1 646.0,429.7 640.0,430.1 658.4,429.8 646.3,429.6 622.1,429.8 620.0,429.6 616.5,429.9 623.3,429.5 613.5,429.7 665.9,429.8 641.6,429.8 624.2,430.1 654.0,429.7 645.5,430.1 649.2,429.5 612.5,429.4 629.0,430.2 645.3,429.5 645.6,429.9 657.3,430.0 489.7,508.4 486.5,508.3 486.8,508.5 487.8,508.3 489.6,508.8 488.7,508.5 486.3,508.8 485.9,508.4 487.2,508.8 503.5,508.4 496.1,508.9 510.3,508.9 507.8,508.6 508.3,508.4 495.9,508.7 503.5,508.8 502.8,508.4 508.8,508.7 500.0,508.4 504.1,508.5 500.5,508.6 566.5,508.7 524.8,508.9 538.6,508.3 523.7,508.4 515.8,508.9 540.2,508.3 560.3,508.8 518.4,508.5 553.3,508.6 544.8,508.8 519.9,508.2 573.4,508.5 545.3,508.6 522.2,508.9 530.6,508.8 550.9,508.5 532.4,508.9 544.8,509.0 561.4,508.5 562.8,508.9 563.0,508.5 542.5,508.4 558.6,508.3 560.9,508.4 517.8,508.7 528.5,508.7 569.5,508.9 561.9,508.6 568.8,508.4 549.3,508.4 569.3,508.7 569.6,508.3 542.7,508.2 573.7,508.8 525.7,508.3 547.4,508.7 520.9,508.3 561.7,508.5 536.3,508.3 537.2,508.6 528.1,508.8 545.9,508.8 551.6,508.9 518.7,508.9 564.0,508.5 530.1,508.3 566.5,508.9 560.0,508.6 521.3,509.0 561.8,508.2 523.4,508.9 534.7,508.5 582.9,508.2 590.2,509.0 601.5,508.5 590.8,508.9 586.0,508.5 602.3,508.7 600.7,508.4 594.0,508.5 592.8,508.4 603.1,508.3 595.9,508.5 583.6,508.7 606.3,508.7 593.5,508.5 587.6,508.3 603.2,508.7 586.6,508.7 597.2,508.2 602.0,508.7 582.4,508.4 606.5,508.5 599.1,508.6 595.9,508.2 604.4,508.6 599.2,508.7 589.9,508.5 580.1,508.4 614.2,508.6 617.2,508.4 619.5,508.7 613.6,508.2 619.5,508.4 619.7,508.7 613.9,509.0 629.6,508.7 635.5,508.8 640.5,508.8 636.4,508.3 629.2,508.7 631.4,508.6 637.2,508.9 631.0,509.0 640.2,509.0 639.9,508.2 645.8,508.3 638.4,508.5 631.5,509.0 638.2,509.0 640.7,508.3 662.6,508.8 661.3,508.3 668.7,508.4 667.9,508.5 660.4,508.3 658.9,508.4 668.7,508.5 653.8,508.9 664.8,508.7 661.6,508.2 654.2,508.4 667.2,508.8" fill="none" stroke="none" marker-start="url(#mt)" marker-mid="url(#mt)" marker-end="url(#mt)"/>
<path d="M486.2,474.1 C487.2,474.0 490.2,473.8 492.1,473.7 C494.1,473.6 496.1,473.6 497.9,473.8 C499.7,474.0 501.4,474.3 503.0,474.8 C504.6,475.3 505.8,476.1 507.4,476.7 C509.0,477.3 510.8,478.0 512.5,478.5 C514.2,479.0 516.0,479.4 517.6,479.9 C519.2,480.4 520.5,481.0 522.0,481.4 C523.5,481.8 524.8,482.2 526.4,482.1 C528.0,482.1 529.8,481.6 531.5,481.1 C533.2,480.6 534.9,479.8 536.6,479.2 C538.3,478.6 539.9,478.1 541.7,477.7 C543.5,477.3 545.5,476.9 547.5,476.6 C549.5,476.3 551.4,476.1 553.4,476.0 C555.4,475.9 557.2,475.9 559.2,476.0 C561.2,476.1 563.2,476.2 565.1,476.3 C567.0,476.4 569.1,476.6 570.9,476.7 C572.7,476.8 574.1,476.9 576.0,477.0 C577.9,477.1 580.2,477.4 582.2,477.3 C584.2,477.2 586.0,477.0 588.0,476.7 C590.0,476.4 591.9,476.0 593.9,475.6 C595.9,475.2 597.9,474.7 599.7,474.1 C601.5,473.5 603.1,472.6 604.8,471.9 C606.5,471.2 608.2,470.6 609.9,470.0 C611.6,469.4 613.2,468.8 615.0,468.3 C616.8,467.8 618.9,467.2 620.9,466.8 C622.9,466.4 624.6,466.2 626.7,466.1 C628.8,466.0 631.1,466.0 633.3,466.1 C635.5,466.2 637.8,466.4 639.9,466.8 C642.0,467.2 643.8,467.7 645.7,468.3 C647.6,468.9 649.8,469.5 651.5,470.4 C653.2,471.2 654.3,472.4 655.9,473.4 C657.5,474.4 659.3,475.2 661.0,476.3 C662.7,477.4 664.5,478.6 666.1,479.9 C667.7,481.2 669.8,483.6 670.5,484.3" fill="none" stroke="#000" stroke-width="3.2" stroke-dasharray="3.1 2.7"/>
<polygon points="155.0,598.0 195.0,600.0 195.0,622.0 155.0,622.0" fill="url(#qs)"/>
<polygon points="208.0,615.0 226.0,615.0 226.0,640.0 208.0,640.0" fill="url(#qs)"/>
<polygon points="68.0,572.1 74.6,567.7 81.9,563.4 89.2,567.7 93.6,569.2 98.0,575.0 102.3,578.0 106.7,580.9 106.7,610.0 102.3,614.5 98.0,613.0 93.6,611.5 89.2,615.9 81.9,613.0 74.6,615.9 68.0,608.6" fill="url(#ps)"/>
<polygon points="118.4,576.5 124.2,575.0 128.6,575.0 130.0,575.0 131.5,569.2 135.9,564.8 137.4,564.8 141.8,564.8 147.6,566.3 152.0,572.1 153.4,583.8 153.4,630.5 152.0,626.3 147.6,613.0 141.8,607.2 137.4,604.2 135.9,607.9 131.5,618.8 130.0,612.8 128.6,607.2 124.2,615.9 118.4,613.0" fill="url(#ps)"/>
<polygon points="155.0,618.0 164.0,620.0 180.0,620.0 180.1,563.0 185.9,563.0 186.0,622.0 194.7,622.0 194.8,563.4 207.8,563.4 207.9,564.8 215.0,565.3 215.1,565.3 223.9,566.0 223.9,617.4 215.1,617.4 215.0,621.8 207.9,621.8 207.8,640.0 194.8,640.0 194.7,640.0 186.0,640.0 185.9,640.0 180.1,640.0 180.0,640.0 164.0,640.0 155.0,638.0" fill="url(#ps)"/>
<polygon points="228.2,573.6 237.0,573.6 237.1,569.2 241.4,569.2 244.0,573.6 253.0,573.6 256.0,576.5 256.0,613.0 253.0,613.0 244.0,613.0 241.4,613.0 237.1,613.0 237.0,613.0 228.2,613.0" fill="url(#ps)"/>
<path d="M88.3,564.8 88.3,618.4 77.6,566.1 77.6,615.3 68.2,570.8 68.2,610.0 90.7,566.9 90.7,613.5 103.3,579.3 103.3,616.0 98.3,575.2 98.3,614.0 78.1,564.3 78.1,613.8 99.8,574.3 99.8,613.7 88.1,566.7 88.1,617.2 103.0,578.3 103.0,615.1 102.6,577.8 102.6,617.1 87.1,563.8 87.1,616.0 103.0,578.3 103.0,614.7 89.6,565.1 89.6,618.3 77.3,564.7 77.3,614.9 68.5,568.9 68.5,610.3 83.8,561.6 83.8,613.3 97.0,570.8 97.0,614.4 83.0,563.3 83.0,615.2 79.6,564.7 79.6,613.8 87.1,565.6 87.1,615.6 88.3,567.3 88.3,616.7 72.3,566.8 72.3,614.0 91.3,567.8 91.3,613.3 99.0,576.3 99.0,613.8 79.3,562.8 79.3,615.5 68.5,569.3 68.5,612.1 86.4,566.3 86.4,617.7 83.5,564.5 83.5,612.9 86.8,566.6 86.8,617.4 99.0,575.1 99.0,615.0 81.9,564.0 81.9,614.3 72.0,568.4 72.0,612.5 72.6,566.1 72.6,614.7 71.6,567.9 71.6,613.0 104.6,580.4 104.6,611.6 100.7,575.7 100.7,615.9 86.9,564.4 86.9,615.6 91.5,568.4 91.5,616.1 79.2,565.8 79.2,616.9 68.1,570.9 68.1,608.4 85.3,562.8 85.3,617.1 105.6,578.0 105.6,610.7 86.3,565.9 86.3,614.9 93.5,569.1 93.5,611.3 85.5,566.3 85.5,614.1 85.0,564.1 85.0,613.6 106.4,578.7 106.4,611.7 103.6,575.9 103.6,615.2 90.1,568.8 90.1,617.0 74.3,565.1 74.3,618.0 82.6,563.1 82.6,613.2 91.9,567.7 91.9,616.0 78.6,566.1 78.6,614.1 100.3,574.6 100.3,616.6 96.3,570.5 96.3,614.6 104.2,579.2 104.2,613.4 76.0,564.7 76.0,616.5 81.6,561.4 81.6,615.0 74.2,565.4 74.2,618.0 70.8,568.1 70.8,611.8 66.4,585.0 66.9,585.7 67.9,602.2 68.6,585.0 68.7,596.4 68.0,605.7 66.7,600.2 67.4,592.6 67.1,572.6 66.1,576.9 67.4,594.7 67.0,581.5 67.7,600.4 67.3,599.3 66.7,600.8 67.0,596.8 66.2,594.2 67.7,605.9 67.7,597.1 68.4,600.9 68.6,591.7 67.3,601.5 66.5,588.1 66.2,598.6 67.9,591.5 107.9,607.5 107.5,587.8 108.6,609.0 106.6,591.7 108.1,608.5 107.2,583.6 107.0,583.2 108.3,587.3 106.6,601.9 107.1,599.9 106.3,581.2 107.4,605.6 107.0,607.0 107.0,593.7 108.0,587.3 107.7,609.9 108.2,600.2 108.8,602.9 107.6,582.5 107.8,600.2 150.3,567.2 150.3,623.4 123.7,575.3 123.7,618.1 129.8,572.1 129.8,611.1 137.1,562.4 137.1,606.1 153.0,580.0 153.0,631.8 146.3,563.8 146.3,611.1 152.7,578.7 152.7,628.8 138.8,565.5 138.8,605.4 132.0,567.8 132.0,620.2 120.8,575.2 120.8,615.3 132.1,566.3 132.1,618.0 139.0,562.3 139.0,607.2 135.3,563.8 135.3,609.7 141.0,562.6 141.0,608.2 134.2,563.7 134.2,612.2 120.4,573.4 120.4,613.9 124.5,574.3 124.5,615.4 131.3,569.8 131.3,617.2 127.0,572.6 127.0,610.5 122.1,573.9 122.1,617.0 118.6,573.8 118.6,614.2 125.2,573.9 125.2,614.9 126.8,573.5 126.8,612.4 118.6,574.3 118.6,614.3 121.7,574.5 121.7,617.5 122.2,573.7 122.2,616.2 129.4,574.1 129.4,609.8 141.1,563.6 141.1,609.5 148.1,564.6 148.1,614.0 122.6,575.6 122.6,615.4 125.6,572.2 125.6,613.5 140.0,565.7 140.0,606.2 146.6,567.0 146.6,612.7 124.6,572.1 124.6,615.1 126.0,574.4 126.0,612.7 143.7,564.6 143.7,610.5 141.7,563.4 141.7,608.7 120.7,574.7 120.7,615.0 134.3,566.5 134.3,613.3 120.3,575.0 120.3,616.2 150.3,568.1 150.3,623.8 130.0,575.3 130.0,615.2 126.6,574.5 126.6,612.1 143.6,566.0 143.6,608.6 152.7,575.4 152.7,627.6 137.5,562.5 137.5,604.6 136.3,563.9 136.3,607.1 122.6,575.9 122.6,616.9 147.5,567.0 147.5,615.4 135.8,562.1 135.8,610.7 130.4,573.0 130.4,614.0 132.1,568.3 132.1,618.2 122.3,574.0 122.3,615.7 151.5,571.9 151.5,627.1 118.5,577.2 118.5,614.9 119.7,575.1 119.7,616.3 118.0,597.1 118.3,612.1 118.2,582.9 116.9,598.3 116.7,599.7 118.2,606.4 117.6,595.8 118.2,589.8 119.2,603.7 117.1,590.9 118.5,581.8 118.9,598.0 117.5,595.7 116.8,591.5 117.7,587.3 117.8,577.2 116.5,605.7 117.5,602.6 116.3,587.4 116.4,583.0 117.4,600.0 119.0,605.4 118.9,581.8 118.4,600.5 116.3,599.1 152.8,604.0 154.8,586.5 154.5,606.3 154.5,601.5 154.4,589.8 152.9,588.3 153.8,626.8 155.6,594.4 153.4,620.9 155.5,627.2 154.1,599.6 155.2,597.3 153.3,589.7 153.4,586.0 153.9,630.4 154.2,599.8 154.8,595.1 153.3,614.9 155.6,592.4 152.7,625.2 155.2,605.2 153.6,585.4 154.1,591.3 153.7,588.2 155.5,617.5 154.8,608.5 155.0,606.5 153.7,618.2 155.4,588.0 154.0,614.5 154.7,585.0 154.5,616.8 183.3,561.3 183.3,642.0 190.1,620.0 190.1,641.3 162.1,618.1 162.1,641.7 171.3,618.0 171.3,641.1 183.4,564.0 183.4,642.4 203.2,563.1 203.2,640.6 176.1,619.6 176.1,640.2 165.6,620.3 165.6,640.0 221.9,565.4 221.9,617.0 195.5,563.7 195.5,640.2 220.8,564.8 220.8,618.4 169.2,617.4 169.2,641.1 218.8,564.7 218.8,618.5 192.0,622.5 192.0,641.8 191.3,619.8 191.3,639.3 212.9,564.7 212.9,622.8 196.3,563.4 196.3,639.7 189.8,622.0 189.8,642.5 198.8,563.6 198.8,641.4 211.3,564.8 211.3,624.7 182.3,563.7 182.3,641.0 196.2,563.5 196.2,640.9 184.8,561.6 184.8,640.2 203.3,560.9 203.3,641.3 168.1,617.8 168.1,641.4 189.3,619.5 189.3,639.6 206.5,563.0 206.5,641.8 177.4,619.4 177.4,640.3 183.4,561.2 183.4,639.6 220.0,563.0 220.0,618.4 169.4,620.7 169.4,642.8 220.1,563.8 220.1,618.5 197.2,563.8 197.2,641.7 183.4,562.4 183.4,640.6 210.5,565.6 210.5,623.1 171.0,618.9 171.0,642.3 217.8,564.5 217.8,619.1 165.4,620.3 165.4,642.8 159.8,617.7 159.8,640.0 172.3,620.4 172.3,639.2 215.3,564.4 215.3,617.6 157.6,617.4 157.6,641.0 173.4,618.8 173.4,642.8 221.4,566.1 221.4,619.5 211.3,562.7 211.3,624.7 216.9,565.6 216.9,617.0 156.2,618.6 156.2,638.1 158.7,616.3 158.7,640.3 202.8,560.5 202.8,642.0 169.9,620.5 169.9,640.3 197.4,564.0 197.4,641.4 177.6,617.3 177.6,641.5 218.9,563.9 218.9,619.0 174.0,619.9 174.0,641.1 208.9,562.7 208.9,622.8 165.4,619.3 165.4,639.2 170.6,617.3 170.6,642.1 179.2,618.8 179.2,639.2 168.0,620.7 168.0,639.8 204.0,563.3 204.0,640.2 199.9,562.5 199.9,642.9 163.9,618.3 163.9,641.0 203.9,561.3 203.9,640.8 208.2,562.6 208.2,620.9 165.5,619.0 165.5,640.9 221.2,563.0 221.2,618.4 161.6,617.4 161.6,639.4 194.0,621.1 194.0,642.6 171.8,619.6 171.8,641.8 195.9,563.5 195.9,640.1 167.6,617.5 167.6,639.1 222.6,563.6 222.6,618.4 194.7,620.0 194.7,642.5 172.2,620.5 172.2,641.9 195.8,562.9 195.8,639.3 202.9,560.6 202.9,639.1 219.4,564.8 219.4,616.5 172.7,618.7 172.7,640.0 179.2,618.8 179.2,640.6 178.0,617.1 178.0,641.3 196.4,562.2 196.4,641.9 223.7,565.1 223.7,618.6 199.8,563.8 199.8,642.4 186.0,619.3 186.0,640.7 164.9,617.5 164.9,639.6 164.5,619.4 164.5,641.4 212.6,563.9 212.6,620.9 208.4,563.7 208.4,622.2 217.1,563.3 217.1,616.7 214.9,566.2 214.9,624.3 158.1,616.8 158.1,640.1 205.7,562.9 205.7,641.5 208.6,565.5 208.6,623.0 191.2,621.0 191.2,640.8 200.0,561.2 200.0,639.1 220.3,564.7 220.3,619.7 211.5,562.8 211.5,624.3 181.3,561.9 181.3,640.9 183.4,563.5 183.4,639.9 190.4,620.8 190.4,640.1 160.3,619.2 160.3,641.2 159.6,618.0 159.6,640.1 201.9,561.1 201.9,642.7 203.3,561.0 203.3,643.0 191.3,622.0 191.3,641.8 185.4,561.9 185.4,639.1 212.0,564.8 212.0,621.1 197.9,563.4 197.9,639.8 213.9,565.0 213.9,622.1 192.3,622.0 192.3,642.4 153.3,623.8 154.2,636.7 153.5,621.5 155.4,636.7 155.8,620.6 155.7,630.3 155.7,623.5 153.0,623.0 154.5,624.8 153.5,618.5 154.5,619.0 152.9,636.6 153.2,627.0 153.0,633.2 223.6,587.8 224.6,573.6 225.0,603.6 223.3,596.5 225.4,611.2 225.6,602.4 223.4,600.3 225.0,584.7 223.7,584.9 223.4,599.5 224.7,616.3 223.9,582.8 223.6,613.2 224.5,606.4 223.2,611.1 225.6,592.3 223.8,596.1 226.1,575.6 224.6,616.0 225.3,566.9 223.5,589.3 224.0,579.3 224.8,602.9 225.0,607.7 223.6,576.8 223.3,597.8 225.9,575.7 224.1,592.3 223.6,610.1 223.8,602.7 223.5,617.3 224.3,589.8 224.3,594.8 223.9,593.1 224.8,572.0 239.6,569.6 239.6,613.6 244.9,570.6 244.9,614.5 230.2,572.0 230.2,615.8 241.3,567.3 241.3,615.1 240.5,567.9 240.5,612.9 235.6,571.1 235.6,614.0 239.8,568.2 239.8,613.5 244.9,571.8 244.9,612.7 242.8,569.8 242.8,612.1 244.1,572.4 244.1,613.5 232.8,574.1 232.8,615.8 232.1,573.8 232.1,615.7 233.4,573.9 233.4,614.9 241.6,569.0 241.6,613.5 238.3,568.9 238.3,615.5 236.5,571.3 236.5,614.0 247.1,571.5 247.1,612.3 229.7,571.8 229.7,614.7 246.4,574.3 246.4,612.8 232.3,573.3 232.3,614.4 236.3,570.7 236.3,614.2 242.7,570.4 242.7,613.2 243.7,572.5 243.7,614.6 231.8,572.5 231.8,615.2 231.9,573.4 231.9,615.9 230.0,571.5 230.0,615.0 243.3,571.5 243.3,615.3 236.8,572.8 236.8,615.7 255.2,574.2 255.2,613.9 231.3,572.7 231.3,614.8 231.6,573.4 231.6,614.5 245.7,572.3 245.7,612.6 250.3,573.7 250.3,614.8 247.4,571.1 247.4,615.6 247.3,574.5 247.3,612.3 253.4,572.5 253.4,612.1 248.9,573.1 248.9,612.2 237.0,570.5 237.0,615.8 236.2,570.7 236.2,615.9 232.8,573.8 232.8,612.3 242.3,570.2 242.3,614.3 255.5,574.1 255.5,613.2 243.6,570.6 243.6,614.9 247.7,572.2 247.7,613.1 228.0,593.4 227.7,575.9 228.4,604.3 226.1,580.4 227.7,591.2 227.9,595.8 229.0,612.4 226.0,596.7 227.0,592.7 228.4,607.5 228.5,574.8 226.2,603.5 228.8,604.7 228.1,600.8 228.6,608.1 227.7,595.4 227.4,575.8 227.5,594.6 228.7,598.2 227.6,605.7 228.3,595.6 227.9,583.1 228.6,590.9 228.6,582.0 226.6,603.5 226.3,604.9 227.7,576.1 255.4,601.3 258.1,607.1 256.3,607.6 257.5,599.6 257.8,584.7 257.2,604.7 256.7,606.0 257.3,585.5 257.2,603.5 257.1,586.1 255.4,593.1 257.4,604.0 258.0,606.4 256.7,588.0 256.8,608.7 256.1,583.6 257.9,611.0 257.4,612.2 257.6,598.8 257.2,596.5 257.8,586.2 257.5,602.0 256.4,577.4 255.4,608.6 257.3,607.4 95.2,559.9 89.2,560.9 80.2,559.9 88.8,557.3 75.0,568.5 111.4,555.6 80.8,562.6 89.5,566.9 92.8,559.7 97.7,565.6 99.3,556.5 117.3,560.9 77.3,560.4 73.9,558.0 114.3,557.7 115.9,633.9 100.4,637.2 96.6,622.7 117.7,619.3 114.5,626.4 110.2,638.1 113.7,617.2 110.6,621.4 109.3,633.9 101.1,617.2 98.4,614.4 117.7,635.2 98.5,613.2 97.2,629.2 112.6,625.5 101.2,618.1 100.5,626.3 96.0,636.2 112.7,621.9 116.2,636.8 107.9,611.2 108.0,619.4 113.3,627.2 113.1,616.9 100.8,617.0 103.3,626.0 105.6,639.0 109.8,628.8 101.6,632.2 95.6,628.1 154.5,550.0 150.0,552.9 130.5,555.0 131.6,564.8 134.8,554.6 120.8,564.8 136.8,565.9 126.3,553.9 138.5,564.0 148.9,562.9 120.5,556.8 136.8,561.2 124.2,555.5 143.7,548.2 134.7,556.1 151.7,565.9 145.6,558.8 150.5,560.8 167.0,580.7 165.8,562.8 191.4,603.1 168.1,590.6 190.8,604.9 187.8,592.6 186.0,605.3 166.9,575.6 176.5,606.0 197.8,569.4 170.3,583.5 173.0,605.6 189.1,595.1 176.4,581.9 184.8,592.6 182.3,575.2 170.7,565.5 191.2,588.5 186.4,600.7 169.2,599.3 177.1,573.3 198.7,572.2 173.2,604.5 190.5,578.5 187.3,558.7 174.5,581.5 192.1,602.6 198.5,599.7 194.7,589.4 186.4,559.2 187.7,598.5 178.1,559.5 171.3,601.3 195.3,568.5 170.3,592.1 178.6,568.1 196.4,560.9 186.6,604.9 167.7,585.1 167.0,586.2 166.8,582.9 185.0,594.4 178.1,560.1 196.3,587.8 188.0,580.0 194.3,597.4 188.1,595.9 192.5,595.8 189.9,592.3 188.5,593.4 189.1,601.0 191.3,585.2 189.2,585.0 192.4,591.1 193.7,600.0 192.0,603.2 191.3,602.0 193.0,586.6 192.1,604.4 188.3,593.7 248.4,563.9 213.3,557.5 227.3,558.7 211.4,555.7 247.8,553.6 248.1,564.5 204.4,563.7 214.9,551.8 226.5,565.0 233.3,554.1 232.6,560.6 209.6,564.1 226.0,552.2 236.6,557.6 216.1,563.2 200.9,554.3 234.1,552.3 201.4,561.4 208.2,552.9 221.8,556.4 226.8,551.2 243.0,550.2 221.7,631.3 212.3,622.9 228.2,633.8 213.3,619.5 224.7,619.9 211.1,633.0 220.1,633.1 209.2,624.7 229.6,633.1 215.3,624.4 209.2,622.5 221.2,623.1 223.2,624.6 207.1,618.0 207.7,632.5 226.1,629.7 224.8,629.7 210.6,622.3 215.5,630.0 225.9,636.2 216.1,635.9 214.1,630.4 247.2,630.6 248.3,630.6 235.1,634.4 248.7,633.9 235.8,622.8 237.5,634.0 242.7,628.9 252.3,622.2 242.6,625.2 236.7,625.7 244.5,615.1 244.1,621.8 233.6,629.8 251.6,630.2 251.4,617.4 239.4,618.7 230.0,629.6 232.0,633.9 242.2,624.0 252.0,620.9 252.5,630.8 246.6,633.4 242.2,622.3 247.5,617.3 248.4,615.7 253.8,636.5 236.2,621.4 247.2,636.8 241.6,624.2 242.4,615.7 112.5,548.8 106.1,548.9 75.4,548.6 104.5,548.5 97.1,548.7 84.3,548.5 98.3,548.5 107.2,548.9 76.1,548.8 99.2,548.7 84.3,548.6 117.1,548.8 74.3,548.6 88.0,548.7 75.3,548.9 104.8,548.6 88.9,548.5 81.3,548.6 114.1,548.7 72.7,548.9 85.2,548.5 107.2,548.8 109.6,548.5 114.9,548.5 101.1,548.9 105.0,548.6 102.0,548.7 102.1,548.7 115.9,548.8 88.8,548.8 103.8,548.6 104.1,548.7 77.8,548.7 96.7,548.7 110.8,548.8 114.7,548.5 113.1,548.9 69.4,548.7 113.7,548.6 116.6,548.5 110.8,548.9 100.2,548.7 96.5,548.6 85.0,548.8 89.6,548.8 71.7,548.9 118.6,548.6 107.1,548.7 108.2,548.5 111.3,548.7 100.4,548.8 70.9,548.7 105.9,548.5 91.1,548.7 79.2,548.8 82.0,548.7 97.6,548.5 109.8,548.5 77.0,548.8 102.3,548.8 242.2,548.8 229.6,548.6 249.4,548.8 173.8,548.8 156.7,548.9 216.6,548.5 240.6,548.8 184.9,548.8 187.2,548.9 129.3,548.5 215.4,548.7 191.7,548.6 213.3,548.9 185.6,548.8 177.8,548.7 192.7,548.9 169.3,548.5 226.9,548.9 248.6,548.6 147.2,548.5 157.3,548.7 166.1,548.7 216.3,548.7 172.1,548.5 235.6,548.5 193.2,548.7 245.7,548.6 211.5,548.7 230.7,548.7 250.2,548.7 140.3,548.9 136.4,548.5 173.0,548.8 206.7,548.5 206.5,548.8 216.6,548.7 168.7,548.5 139.6,548.5 187.7,548.8 195.7,548.8 170.6,548.5 202.1,548.9 173.6,548.5 245.6,548.5 211.2,548.6 181.8,548.9 152.3,548.9 245.9,548.9 255.3,548.8 134.6,548.6 136.3,548.6 186.0,548.7 243.8,548.9 218.4,548.7 239.7,548.5 129.7,548.9 194.8,548.9 214.1,548.7 174.8,548.8 249.6,548.7 155.6,548.7 163.3,548.9 168.7,548.7 177.2,548.5 245.9,548.8 220.7,548.6 250.7,548.7 176.8,548.5 215.3,548.8 209.7,548.5 183.8,548.7 127.7,548.5 193.7,548.5 214.5,548.6 230.4,548.6 172.6,548.6 221.0,548.7 240.6,548.6 244.4,548.6 236.3,548.9 217.9,548.6 135.3,548.6 184.1,548.9 156.1,548.8 181.7,548.5 255.2,548.6 138.9,548.5 129.7,548.8 125.7,548.8 152.0,548.6 236.2,548.5 228.3,548.9 233.9,548.6 146.6,548.9 134.0,548.6 206.1,548.9 202.7,548.7 165.9,548.8 220.7,548.9 183.0,548.8 176.3,548.5 204.5,548.5 143.7,548.9 170.9,548.9 252.1,548.6 241.8,548.9 231.7,548.6 185.1,548.8 218.4,548.9 184.2,548.8 131.6,548.9 164.1,548.8 126.0,548.7 187.8,548.7 193.2,548.9 236.4,548.6 131.8,548.6 232.3,548.8 194.5,548.8 151.4,548.7 186.1,548.6 187.1,548.5 199.9,548.8 196.2,548.8 236.9,548.8 184.1,548.6 169.4,548.9 132.8,548.5 174.8,548.5 210.9,548.9 214.7,548.7 192.7,548.6 190.8,548.8 168.0,548.6 149.8,548.5 199.2,548.8 148.5,548.7 186.5,548.5 141.9,548.8 246.3,548.6 70.4,642.6 70.1,642.6 70.1,642.4 74.3,642.4 75.6,642.8 75.9,642.5 87.4,642.6 90.3,642.6 82.4,642.6 84.1,643.0 88.4,643.1 85.8,642.9 87.5,642.4 96.3,643.0 99.8,642.6 96.2,642.5 110.3,642.6 109.3,642.9 104.9,642.4 103.9,642.5 104.4,642.7 108.9,642.7 122.3,643.0 121.1,642.9 123.1,642.9 144.7,642.3 153.6,642.7 149.3,642.3 152.9,642.6 153.4,642.4 148.1,643.0 153.2,643.0 158.2,642.9 199.6,643.0 193.2,642.4 181.6,642.4 156.4,642.8 188.5,643.0 158.9,643.0 181.3,642.9 170.1,642.7 193.5,642.6 157.0,642.5 191.2,642.4 207.6,642.7 183.7,642.4 195.5,642.8 176.4,642.9 162.1,642.5 201.6,642.4 205.3,643.0 207.5,642.9 187.5,642.5 197.5,642.9 205.2,642.9 158.2,643.0 193.4,642.7 157.7,642.5 158.5,642.3 178.8,642.3 192.2,642.3 205.4,642.9 177.1,642.8 163.3,643.1 186.1,642.5 160.0,642.5 168.2,642.8 173.9,642.5 176.8,642.8 204.2,642.9 162.3,643.0 159.7,642.3 192.6,642.8 162.5,643.1 195.8,642.5 195.5,642.4 182.6,642.7 218.9,642.4 221.5,642.6 223.1,642.3 217.7,643.0 219.6,642.4 222.9,642.4 239.4,642.7 239.1,642.5 232.9,642.7 239.7,643.0 242.2,642.3 244.3,642.8 236.3,643.1 243.7,642.7 233.2,642.4 243.7,642.9 246.2,642.3 241.7,642.7" fill="none" stroke="none" marker-start="url(#ms)" marker-mid="url(#ms)" marker-end="url(#ms)"/>
<path d="M69.9,594.7 C70.5,593.7 72.1,590.7 73.4,588.9 C74.7,587.1 76.3,585.2 77.8,584.1 C79.3,583.0 80.9,582.2 82.6,582.3 C84.2,582.4 86.1,583.5 87.7,584.5 C89.3,585.5 90.6,587.0 92.1,588.5 C93.6,590.0 94.9,592.0 96.5,593.3 C98.1,594.6 99.9,595.7 101.6,596.2 C103.3,596.7 105.0,596.5 106.7,596.2 C108.4,595.9 110.0,595.2 111.8,594.3 C113.6,593.4 115.9,592.0 117.7,590.8 C119.5,589.6 121.2,588.1 122.8,587.0 C124.4,585.9 125.8,584.9 127.4,584.2 C129.0,583.6 130.5,583.3 132.3,583.1 C134.1,582.9 136.3,582.7 138.1,583.1 C139.9,583.5 141.5,584.4 143.2,585.3 C144.9,586.2 146.6,587.3 148.3,588.5 C150.0,589.7 151.8,591.0 153.4,592.3 C155.0,593.6 156.0,594.8 158.1,596.2 C160.2,597.6 163.9,600.0 166.2,600.6 C168.5,601.2 170.2,600.7 172.0,600.1 C173.8,599.5 175.4,598.3 177.1,596.9 C178.8,595.5 180.5,593.5 182.2,591.8 C183.9,590.0 185.4,587.9 187.4,586.4 C189.4,584.9 192.0,582.8 193.9,582.6 C195.8,582.4 197.3,584.4 199.0,585.0 C200.7,585.6 202.3,586.4 204.1,586.4 C205.9,586.4 208.1,585.5 210.0,585.3 C211.9,585.1 214.0,584.8 215.8,585.0 C217.6,585.2 219.2,585.8 220.9,586.4 C222.6,587.0 224.4,588.1 226.0,588.9 C227.6,589.7 228.9,590.5 230.4,591.1 C231.9,591.8 233.3,592.4 234.8,592.8 C236.3,593.2 237.5,593.8 239.2,593.7 C240.9,593.6 243.1,592.8 245.0,592.3 C246.9,591.8 249.9,590.7 250.9,590.4" fill="none" stroke="#000" stroke-width="3.2" stroke-dasharray="3.1 2.7"/>
<polygon points="276.0,615.0 402.0,612.0 402.0,641.0 276.0,641.0" fill="url(#qs)"/>
<polygon points="287.0,556.0 328.0,556.0 328.0,590.0 287.0,585.0" fill="url(#qs)"/>
<polygon points="402.0,620.0 437.0,620.0 437.0,641.0 402.0,641.0" fill="url(#qs)"/>
<polygon points="437.0,598.0 465.0,598.0 465.0,641.0 437.0,641.0" fill="url(#qs)"/>
<polygon points="418.0,600.0 424.0,600.0 424.0,630.0 418.0,630.0" fill="url(#qs)"/>
<polygon points="276.8,578.0 286.0,578.0 287.0,583.8 303.0,583.8 307.0,586.7 312.0,592.0 317.6,598.4 317.7,600.0 328.5,600.0 328.6,595.5 352.0,595.5 352.1,583.8 362.9,583.8 363.0,600.0 363.0,620.0 362.9,620.0 352.1,620.0 352.0,628.0 328.6,628.0 328.5,628.0 317.7,625.0 317.6,625.0 312.0,623.8 307.0,622.8 303.0,622.0 287.0,620.0 286.0,618.0 276.8,618.0" fill="url(#ps)"/>
<polygon points="418.7,566.3 423.1,566.3 423.1,601.3 418.7,601.3" fill="url(#ps)"/>
<polygon points="437.7,572.1 442.0,572.1 443.5,576.5 446.4,576.5 446.5,576.5 448.0,576.5 450.0,572.1 455.2,572.1 455.3,572.1 461.0,572.1 464.7,569.2 464.7,600.0 461.0,600.0 455.3,600.0 455.2,606.0 450.0,606.0 448.0,606.0 446.5,606.0 446.4,603.0 443.5,603.0 442.0,603.0 437.7,603.0" fill="url(#ps)"/>
<path d="M281.3,576.5 281.3,620.7 295.4,584.4 295.4,622.4 340.7,594.0 340.7,630.5 315.7,594.1 315.7,626.2 331.2,594.2 331.2,628.0 330.0,593.3 330.0,630.1 289.4,583.8 289.4,621.2 329.6,596.0 329.6,628.6 327.1,599.4 327.1,630.1 360.7,584.7 360.7,622.6 332.6,594.9 332.6,627.4 309.0,586.7 309.0,623.2 316.6,595.7 316.6,624.1 307.3,586.6 307.3,624.4 349.0,595.0 349.0,628.6 331.0,596.3 331.0,628.9 312.2,593.0 312.2,626.0 318.7,598.5 318.7,625.0 337.2,596.0 337.2,628.5 346.0,596.3 346.0,627.9 341.3,593.3 341.3,630.8 316.3,594.4 316.3,624.9 302.4,584.8 302.4,622.8 284.5,576.0 284.5,620.1 329.1,593.4 329.1,628.3 336.7,595.6 336.7,627.7 348.8,593.6 348.8,628.7 309.6,589.8 309.6,623.5 321.9,598.8 321.9,627.3 336.7,596.0 336.7,628.8 343.0,593.9 343.0,628.5 292.0,582.1 292.0,622.3 297.2,582.2 297.2,620.7 311.9,590.4 311.9,623.9 276.8,575.4 276.8,620.0 327.6,600.6 327.6,627.1 360.4,583.9 360.4,620.4 315.2,594.0 315.2,627.3 327.2,597.4 327.2,627.8 307.3,585.9 307.3,623.9 349.5,593.7 349.5,630.2 336.6,594.9 336.6,629.8 351.2,595.7 351.2,629.4 282.3,575.4 282.3,617.3 279.6,575.7 279.6,618.6 314.0,593.4 314.0,625.4 335.6,594.0 335.6,630.1 350.9,593.1 350.9,629.8 314.7,595.5 314.7,625.2 292.6,583.3 292.6,621.2 360.7,581.4 360.7,621.9 334.5,595.8 334.5,629.5 286.6,581.7 286.6,620.3 280.4,578.8 280.4,617.3 285.8,576.8 285.8,620.5 336.6,595.7 336.6,629.2 313.5,591.3 313.5,626.7 309.7,588.9 309.7,623.4 298.5,583.8 298.5,621.0 315.0,595.1 315.0,625.9 319.9,597.8 319.9,628.3 358.4,583.9 358.4,622.5 359.5,581.0 359.5,619.9 307.8,584.9 307.8,624.4 335.5,594.9 335.5,630.5 326.5,599.5 326.5,629.5 343.3,596.3 343.3,627.2 328.0,597.8 328.0,630.1 347.1,595.6 347.1,627.2 289.5,581.5 289.5,623.3 350.7,595.8 350.7,629.9 327.7,600.0 327.7,628.6 355.9,583.6 355.9,620.6 297.9,583.2 297.9,622.3 300.5,581.4 300.5,624.3 358.3,582.1 358.3,619.0 284.0,577.6 284.0,619.5 343.0,595.5 343.0,629.5 334.8,596.0 334.8,629.2 334.6,594.3 334.6,627.9 300.9,581.1 300.9,624.6 344.1,594.4 344.1,630.3 360.9,580.8 360.9,621.9 311.1,590.0 311.1,623.2 297.4,583.7 297.4,623.5 281.4,576.8 281.4,618.9 296.3,580.8 296.3,622.9 323.9,600.5 323.9,626.2 333.2,594.3 333.2,627.8 311.5,589.6 311.5,623.6 297.7,584.1 297.7,620.4 297.8,581.2 297.8,623.6 355.1,582.1 355.1,620.6 313.1,591.7 313.1,623.7 296.4,584.3 296.4,620.9 352.4,584.0 352.4,622.6 325.6,598.2 325.6,627.7 319.0,597.3 319.0,627.5 307.2,586.9 307.2,625.5 325.6,598.0 325.6,629.9 296.4,582.9 296.4,622.6 277.3,577.9 277.3,621.0 283.3,577.9 283.3,618.3 303.0,580.8 303.0,622.5 328.1,597.9 328.1,629.5 297.5,582.0 297.5,622.1 329.9,595.2 329.9,627.3 309.6,589.3 309.6,623.2 311.3,591.8 311.3,625.2 319.8,600.3 319.8,627.4 323.2,599.7 323.2,626.0 320.1,598.2 320.1,626.7 290.7,581.2 290.7,622.0 294.6,583.2 294.6,620.6 277.7,578.0 277.7,620.0 341.7,594.7 341.7,627.1 338.2,593.9 338.2,629.1 342.2,593.8 342.2,627.4 324.6,597.7 324.6,628.5 328.5,599.5 328.5,628.8 281.6,577.3 281.6,618.9 295.3,584.6 295.3,623.3 337.3,592.7 337.3,628.9 348.2,593.3 348.2,629.5 330.4,592.8 330.4,630.6 320.5,598.7 320.5,627.1 330.2,593.4 330.2,630.3 309.1,589.6 309.1,625.6 339.0,593.9 339.0,629.8 282.1,578.6 282.1,617.7 292.1,583.3 292.1,621.0 323.2,598.5 323.2,627.4 286.2,577.6 286.2,619.6 311.3,590.9 311.3,623.6 320.9,598.0 320.9,628.0 301.5,584.0 301.5,622.4 318.6,600.6 318.6,624.5 274.8,579.7 277.2,582.6 276.1,601.9 275.1,598.5 277.2,587.1 277.6,592.8 275.8,595.6 276.6,597.8 277.4,599.4 276.6,599.1 276.5,609.1 276.3,581.0 276.5,603.1 277.0,603.4 276.8,614.7 276.1,616.1 277.1,590.2 276.3,586.9 276.5,589.8 275.3,589.7 275.1,610.9 276.6,586.8 275.9,615.4 277.3,612.6 276.1,596.1 276.9,617.4 276.9,586.9 275.1,583.9 364.2,600.2 363.7,600.7 364.1,609.8 362.8,604.2 362.6,619.5 363.7,600.8 362.7,603.9 364.1,604.0 362.2,619.7 363.9,615.6 362.2,602.3 364.0,610.5 365.0,619.4 362.3,609.5 418.8,565.7 418.8,604.2 420.3,564.5 420.3,602.3 421.6,566.7 421.6,600.6 419.5,564.9 419.5,601.1 422.0,564.8 422.0,601.5 420.1,564.5 420.1,604.2 421.9,565.2 421.9,600.4 417.8,574.0 417.1,594.6 419.5,566.7 416.9,585.0 419.0,572.6 417.5,588.3 418.5,572.1 418.9,589.8 419.2,581.0 417.2,592.0 417.4,566.7 418.5,580.4 417.6,569.2 417.7,600.5 416.6,581.7 418.2,573.4 418.1,592.0 418.3,578.4 417.4,593.2 419.5,597.6 417.9,594.8 417.3,593.0 419.1,570.8 418.0,574.3 422.3,585.5 424.7,573.8 425.2,570.7 425.1,592.0 423.2,585.1 423.9,579.4 424.6,591.2 424.6,578.2 424.9,568.9 423.3,587.9 423.7,569.5 424.6,594.6 424.1,573.0 424.7,590.7 424.8,584.5 423.8,582.6 424.3,577.7 422.8,582.6 422.6,573.1 424.7,567.1 424.8,590.2 425.0,590.3 424.0,572.7 422.7,596.3 460.0,569.9 460.0,602.9 455.6,572.2 455.6,602.1 446.6,575.1 446.6,606.1 442.0,571.4 442.0,603.5 459.9,570.4 459.9,599.4 438.8,571.1 438.8,605.9 461.6,571.3 461.6,602.1 438.4,572.2 438.4,604.4 443.6,573.6 443.6,604.7 439.6,571.1 439.6,602.1 454.8,569.2 454.8,608.8 458.4,569.3 458.4,599.0 463.5,570.5 463.5,602.1 450.6,572.3 450.6,608.0 460.0,570.2 460.0,599.3 450.4,571.5 450.4,608.6 452.2,570.0 452.2,605.1 442.3,573.9 442.3,602.0 455.3,572.8 455.3,601.0 461.1,571.5 461.1,600.6 448.0,573.7 448.0,605.8 439.5,571.9 439.5,604.6 437.7,570.8 437.7,602.2 454.0,570.4 454.0,607.4 442.0,572.8 442.0,604.6 457.8,572.4 457.8,600.7 439.1,571.4 439.1,604.4 458.0,571.3 458.0,601.1 443.1,573.0 443.1,602.4 447.0,576.4 447.0,605.3 449.7,572.2 449.7,605.4 440.6,573.0 440.6,605.1 441.3,573.0 441.3,603.8 443.1,575.8 443.1,603.6 444.1,575.6 444.1,605.9 444.4,575.9 444.4,604.1 438.3,569.5 438.3,603.2 458.1,571.9 458.1,599.4 454.5,572.3 454.5,605.7 451.4,571.4 451.4,607.4 443.5,576.2 443.5,604.2 463.8,567.8 463.8,599.9 441.3,571.8 441.3,603.7 436.9,593.2 438.0,591.8 438.2,593.5 435.9,577.3 436.7,576.4 436.3,585.0 437.9,582.6 436.4,597.3 437.6,593.1 437.4,591.9 437.0,578.6 438.0,572.5 435.7,580.1 436.5,599.0 437.3,596.0 437.8,592.6 436.7,588.5 436.1,575.0 437.3,594.3 436.4,575.5 437.4,573.0 465.4,570.3 466.6,588.6 466.4,571.9 465.1,573.9 465.1,587.1 466.4,599.2 464.9,593.8 466.4,597.4 464.6,593.1 464.1,587.2 466.6,577.1 465.0,587.6 464.9,589.6 464.2,572.0 464.1,575.2 465.5,576.5 465.0,596.7 466.1,597.6 466.7,578.5 464.4,586.8 466.3,574.6 337.6,567.4 348.0,574.0 339.3,586.3 330.2,578.1 336.7,591.6 330.6,585.0 341.7,572.2 348.4,593.1 336.9,594.2 342.1,585.9 338.5,571.5 329.9,584.8 339.5,578.8 339.6,590.3 333.3,590.4 340.5,576.0 338.0,588.6 341.5,577.1 334.6,578.9 342.5,576.8 338.2,580.5 340.1,586.2 356.6,561.9 356.1,552.4 364.5,562.0 353.7,579.7 356.0,554.4 362.1,580.1 359.4,553.6 363.8,561.5 364.2,576.5 352.0,561.7 365.0,576.6 356.1,578.3 386.3,584.3 394.3,565.0 394.6,564.0 385.0,611.8 389.1,595.1 385.7,580.8 396.9,554.9 401.0,580.1 403.8,555.4 383.4,560.3 385.5,604.2 407.2,565.0 385.7,565.9 410.5,551.7 401.5,609.5 386.4,598.9 387.0,570.4 386.4,561.1 391.3,550.8 409.7,599.7 411.5,570.0 395.5,552.6 378.2,611.8 383.3,595.7 409.4,566.9 408.2,594.4 409.6,562.1 395.9,609.3 411.8,569.0 373.2,551.5 382.3,575.2 404.1,606.2 385.1,587.8 392.6,605.8 382.6,589.0 400.5,600.0 406.3,599.2 377.3,584.3 382.1,578.9 376.1,601.6 385.3,587.4 402.5,597.2 397.2,557.7 384.9,605.0 399.1,609.4 390.9,588.7 375.3,600.7 412.0,594.5 374.9,560.2 395.3,610.8 380.7,569.8 406.0,581.9 415.0,567.4 403.1,603.7 391.3,601.0 384.1,556.9 391.8,596.3 407.6,605.4 408.1,599.3 411.9,577.1 406.5,594.9 377.0,573.4 378.7,601.5 415.1,563.0 398.7,550.6 394.3,570.6 400.3,576.1 307.5,632.9 326.5,633.1 327.4,632.6 328.0,630.6 313.3,639.2 309.1,638.4 303.2,636.0 322.2,630.5 326.7,639.1 320.9,634.8 322.0,634.3 312.9,630.2 304.1,548.8 316.9,548.5 302.3,548.7 346.7,548.8 330.6,548.8 346.4,548.9 345.8,548.5 317.0,548.9 317.1,548.6 280.3,548.9 328.2,548.7 338.5,548.7 310.5,548.8 277.4,548.5 311.2,548.6 331.3,548.9 279.4,548.8 338.0,548.6 310.2,548.8 345.5,548.8 309.0,548.8 279.9,548.5 295.7,548.6 295.3,548.8 327.0,548.9 291.1,548.5 340.2,548.9 299.0,548.5 315.2,548.7 300.2,548.9 320.4,548.8 327.7,548.7 285.5,548.5 281.5,548.7 343.4,548.5 315.6,548.7 311.7,548.7 284.8,548.7 277.4,548.8 297.3,548.7 307.5,548.8 317.6,548.5 288.2,548.7 316.6,548.8 332.9,548.9 310.2,548.6 298.6,548.9 281.6,548.9 312.1,548.7 312.7,548.7 319.8,548.6 294.5,548.5 300.2,548.8 310.2,548.5 325.0,548.8 286.3,548.7 324.7,548.5 334.6,548.6 302.7,548.9 286.5,548.6 343.7,548.5 313.7,548.8 333.8,548.6 283.4,548.7 284.6,548.6 313.6,548.5 331.5,548.9 289.8,548.8 333.5,548.6 295.4,548.8 278.2,548.5 282.0,548.9 297.4,548.8 300.9,548.5 320.8,548.7 278.3,548.6 330.4,548.7 318.4,548.5 334.1,548.8 298.9,548.6 335.8,548.6 346.7,548.5 296.8,548.8 317.5,548.9 285.1,548.8 335.9,548.6 290.4,548.5 290.1,548.8 311.6,548.8 277.8,548.7 380.1,548.7 379.4,548.9 446.7,548.9 412.8,548.8 401.7,548.6 439.7,548.6 441.1,548.5 410.0,548.6 388.7,548.7 379.3,548.5 444.6,548.5 441.3,548.9 389.3,548.9 449.8,548.8 377.5,548.6 458.6,548.8 429.1,548.8 387.0,548.9 414.9,548.7 458.3,548.9 391.1,548.7 415.7,548.7 419.6,548.7 442.5,548.8 390.0,548.7 459.2,548.5 418.9,548.6 377.4,548.7 452.0,548.9 411.8,548.6 446.0,548.6 428.9,548.6 449.2,548.6 401.7,548.8 447.1,548.6 417.8,548.9 427.3,548.7 447.0,548.7 445.0,548.6 449.5,548.6 456.5,548.9 397.6,548.5 441.7,548.5 422.4,548.5 417.7,548.8 375.7,548.6 394.4,548.9 434.4,548.6 428.1,548.5 377.0,548.8 414.9,548.6 393.8,548.7 452.7,548.6 381.3,548.8 378.8,548.6 377.4,548.5 437.4,548.5 452.6,548.6 402.3,548.8 436.8,548.5 416.5,548.5 438.6,548.5 454.8,548.8 400.4,548.9 378.5,548.6 457.9,548.5 434.1,548.6 407.5,548.9 431.5,548.8 437.1,548.9 403.3,548.7 428.8,548.6 376.7,548.9 457.8,548.6 393.8,548.9 380.7,548.5 391.7,548.6 374.7,548.5 425.7,548.6 379.4,548.5 446.8,548.7 422.9,548.9 424.8,548.5 410.3,548.8 436.8,548.6 372.9,548.6 425.0,548.5 399.0,548.6 411.0,548.9 377.0,548.6 373.1,548.9 384.1,548.6 445.2,548.8 424.2,548.8 376.3,548.8 410.2,548.9 379.5,548.8 414.0,548.8 385.3,548.8 400.1,548.8 456.9,548.7 421.7,548.5 439.1,548.7 385.6,548.6 378.6,548.6 373.5,548.9 396.7,548.7 382.5,548.5 383.3,548.9 401.8,548.8 287.4,642.9 287.3,643.1 298.1,642.5 286.6,642.4 286.0,642.8 309.0,642.8 309.3,642.5 298.6,642.8 286.9,642.5 287.6,642.3 301.4,643.0 283.8,643.0 298.7,642.8 280.9,642.7 281.9,642.8 295.9,642.7 286.8,642.7 301.8,643.0 309.5,642.8 299.9,642.5 290.9,642.7 280.4,642.3 306.3,642.6 289.5,642.9 301.6,642.5 297.0,642.8 292.7,643.0 287.4,642.8 309.8,642.4 295.6,642.6 292.9,643.1 300.8,642.4 310.0,643.0 319.4,642.9 342.6,642.3 363.1,643.1 366.1,642.7 316.9,642.7 345.0,642.8 353.1,643.1 346.1,642.9 347.6,643.0 325.3,643.0 323.9,643.0 332.6,642.6 344.3,642.8 346.1,643.1 329.5,642.6 335.6,643.0 319.7,642.6 339.1,642.4 327.9,642.8 346.3,642.6 339.9,642.8 360.2,642.5 321.1,643.0 321.3,642.6 322.4,643.0 363.9,642.5 351.3,642.6 320.4,642.4 355.6,642.5 330.9,642.7 343.5,642.7 363.9,642.5 335.7,642.4 325.3,642.8 332.3,642.6 318.2,642.5 349.8,643.1 351.1,642.6 366.0,642.6 365.0,642.3 344.4,643.1 336.3,642.7 336.8,642.4 343.2,642.6 360.3,642.4 317.7,643.0 322.2,643.0 347.0,642.7 324.4,642.7 350.0,642.3 357.8,642.8 362.7,642.7 366.2,642.9 333.9,643.0 332.0,642.6 327.3,642.7 316.0,642.7 325.5,642.4 354.6,642.8 344.9,642.5 395.0,642.3 376.4,642.6 380.0,642.6 396.3,643.1 379.4,642.5 382.2,642.5 376.4,642.9 376.4,642.6 376.7,643.0 382.2,642.4 391.5,642.5 380.8,642.6 380.7,642.7 377.6,642.5 388.4,642.7 376.5,642.8 390.1,642.8 384.2,642.7 381.9,643.0 385.1,642.9 390.7,642.7 416.9,642.6 421.0,642.6 416.9,642.7 421.1,643.1 421.4,642.4 417.6,642.8 435.6,642.6 437.3,643.1 437.3,642.9 449.3,642.5 446.5,642.5 449.7,642.5 455.0,642.6 448.6,643.1 451.6,642.9 441.3,643.0 448.0,642.3 447.8,643.1 446.9,642.8 447.5,643.1 453.0,642.7" fill="none" stroke="none" marker-start="url(#ms)" marker-mid="url(#ms)" marker-end="url(#ms)"/>
<path d="M277.9,597.2 C278.7,598.0 280.9,600.5 282.6,602.0 C284.4,603.5 286.4,605.5 288.4,606.4 C290.3,607.3 292.4,607.1 294.3,607.2 C296.2,607.3 298.2,607.0 300.1,607.2 C302.1,607.4 304.1,607.6 306.0,608.6 C307.9,609.6 310.0,611.8 311.8,613.0 C313.6,614.2 315.2,615.0 316.9,615.6 C318.6,616.2 320.2,616.5 322.0,616.6 C323.8,616.7 326.1,616.6 327.9,616.2 C329.7,615.9 331.4,615.1 333.0,614.5 C334.6,613.9 335.8,613.0 337.3,612.3 C338.8,611.6 340.6,610.8 342.2,610.1 C343.8,609.4 345.2,608.9 346.8,608.3 C348.4,607.7 350.3,607.1 351.9,606.4 C353.5,605.7 354.7,604.9 356.3,604.2 C357.9,603.5 359.8,602.8 361.4,602.0 C363.0,601.2 363.8,600.7 365.8,599.6 C367.8,598.5 371.2,596.6 373.5,595.2 C375.8,593.8 377.4,592.6 379.3,591.4 C381.2,590.2 383.2,589.1 385.1,588.2 C387.1,587.3 389.1,586.6 391.0,586.0 C392.9,585.4 394.9,584.9 396.8,584.5 C398.8,584.1 400.8,583.7 402.7,583.5 C404.6,583.3 406.6,583.2 408.5,583.2 C410.4,583.2 412.4,583.2 414.3,583.2 C416.2,583.2 418.2,583.1 420.2,583.5 C422.1,583.9 424.1,584.7 426.0,585.3 C427.9,585.9 429.9,586.4 431.9,587.0 C433.8,587.6 435.8,588.5 437.7,588.9 C439.6,589.3 441.6,589.4 443.5,589.6 C445.4,589.8 447.4,589.9 449.4,589.9 C451.3,589.9 453.4,589.8 455.2,589.6 C457.0,589.4 459.4,588.8 460.3,588.6" fill="none" stroke="#000" stroke-width="3.2" stroke-dasharray="3.1 2.7"/>
<polygon points="484.0,605.0 671.0,605.0 671.0,640.0 484.0,640.0" fill="url(#qs)"/>
<polygon points="484.0,561.9 487.7,567.7 489.1,568.4 493.5,570.7 499.4,570.7 502.3,570.7 505.2,569.2 508.1,567.7 511.0,569.2 514.0,570.7 515.4,570.3 519.8,569.2 525.6,579.4 531.5,573.6 537.3,572.1 541.7,580.9 546.1,579.2 549.0,578.0 551.9,578.6 556.3,579.4 557.8,579.7 563.6,580.9 569.4,583.8 576.0,579.4 580.0,579.4 585.8,583.8 588.8,583.0 591.7,582.3 597.5,576.5 601.9,575.0 603.4,576.5 604.8,577.9 606.3,579.4 609.2,578.7 612.1,578.0 615.0,578.0 618.0,578.0 620.9,578.7 623.8,579.4 628.2,580.3 631.1,580.9 632.6,580.6 635.5,580.0 638.4,579.4 641.3,578.0 644.2,576.5 648.6,567.7 653.0,564.8 655.9,564.8 658.8,564.8 661.8,564.8 664.7,564.8 670.5,566.3 671.2,570.0 671.2,598.0 670.5,598.4 664.7,596.5 661.8,595.5 658.8,597.0 655.9,598.4 653.0,600.7 648.6,604.2 644.2,608.0 641.3,610.0 638.4,611.0 635.5,612.0 632.6,614.0 631.1,613.3 628.2,612.0 623.8,610.8 620.9,610.0 618.0,612.0 615.0,610.0 612.1,610.0 609.2,610.0 606.3,606.2 604.8,604.2 603.4,612.0 601.9,612.5 597.5,614.0 591.7,612.7 588.8,612.0 585.8,612.0 580.0,612.0 576.0,612.0 569.4,614.1 563.6,616.0 557.8,618.0 556.3,618.0 551.9,618.0 549.0,617.0 546.1,616.0 541.7,612.0 537.3,616.0 531.5,612.0 525.6,608.0 519.8,610.0 515.4,612.0 514.0,608.6 511.0,601.3 508.1,599.9 505.2,598.4 502.3,600.6 499.4,602.8 493.5,601.3 489.1,604.2 487.7,606.3 484.0,612.0" fill="url(#ps)"/>
<path d="M526.7,576.1 526.7,608.9 654.4,563.1 654.4,601.7 649.7,566.6 649.7,604.3 635.4,580.7 635.4,613.7 616.1,578.3 616.1,609.9 550.9,578.4 550.9,618.5 578.4,577.5 578.4,614.2 626.4,577.2 626.4,611.6 561.7,579.3 561.7,618.8 631.9,581.0 631.9,613.2 521.0,569.7 521.0,611.7 501.5,571.4 501.5,600.6 521.8,571.1 521.8,612.2 537.3,570.0 537.3,615.7 607.9,576.1 607.9,607.8 659.8,564.4 659.8,597.2 620.3,579.1 620.3,609.6 638.6,576.6 638.6,613.6 591.2,583.2 591.2,615.5 554.3,576.4 554.3,617.9 608.6,579.0 608.6,612.2 512.8,567.3 512.8,606.5 588.1,583.4 588.1,612.7 508.6,567.6 508.6,603.0 637.1,579.4 637.1,611.2 575.6,577.2 575.6,613.3 643.3,577.2 643.3,609.1 538.9,576.2 538.9,616.3 584.2,582.2 584.2,611.2 624.7,578.8 624.7,613.1 515.7,569.3 515.7,611.6 632.2,578.4 632.2,613.5 522.1,572.0 522.1,609.2 553.3,579.4 553.3,618.3 487.8,565.3 487.8,608.9 486.1,562.7 486.1,608.1 595.8,578.2 595.8,615.6 535.1,571.1 535.1,617.3 620.4,578.0 620.4,609.5 547.3,575.8 547.3,615.8 549.9,575.7 549.9,618.2 610.8,575.8 610.8,611.3 489.0,566.2 489.0,603.8 607.4,578.3 607.4,610.2 587.9,583.0 587.9,614.8 645.1,575.2 645.1,608.7 594.8,579.6 594.8,615.2 523.6,575.0 523.6,611.5 624.9,577.0 624.9,612.7 649.2,565.8 649.2,604.5 517.6,570.6 517.6,612.9 521.9,571.5 521.9,610.6 596.2,575.7 596.2,614.7 598.8,576.4 598.8,614.3 650.2,564.2 650.2,605.2 568.7,583.0 568.7,615.3 622.0,576.6 622.0,611.4 595.2,576.3 595.2,614.5 625.4,576.9 625.4,613.8 622.1,576.2 622.1,613.2 508.0,565.3 508.0,602.3 657.8,563.7 657.8,597.8 541.1,577.7 541.1,614.8 552.4,577.1 552.4,620.5 606.1,578.9 606.1,607.3 556.4,580.3 556.4,617.6 553.6,579.6 553.6,617.0 614.9,576.8 614.9,612.2 660.3,562.2 660.3,595.9 645.6,573.1 645.6,605.9 506.8,565.6 506.8,599.3 619.2,575.8 619.2,613.2 565.3,581.3 565.3,617.3 631.3,581.4 631.3,616.0 609.8,579.4 609.8,610.8 585.0,580.5 585.0,614.2 521.1,570.0 521.1,610.7 496.7,570.6 496.7,602.5 646.0,573.4 646.0,605.8 489.2,567.9 489.2,606.7 637.8,577.9 637.8,613.4 503.5,570.1 503.5,599.2 538.1,572.0 538.1,616.6 639.8,576.2 639.8,610.2 493.6,568.7 493.6,602.1 664.9,563.9 664.9,596.5 562.6,580.4 562.6,618.4 578.4,577.1 578.4,613.0 634.0,580.9 634.0,612.5 553.0,576.0 553.0,620.8 487.9,568.1 487.9,607.6 665.7,562.3 665.7,598.2 526.5,578.0 526.5,608.9 486.9,563.6 486.9,606.8 578.7,576.9 578.7,611.8 600.9,573.3 600.9,612.2 641.3,576.7 641.3,610.9 557.3,579.4 557.3,618.7 614.9,578.2 614.9,609.3 584.4,583.1 584.4,614.9 535.0,569.8 535.0,614.9 575.1,578.0 575.1,611.7 620.5,575.8 620.5,611.2 503.5,571.0 503.5,601.1 598.9,574.6 598.9,613.2 627.0,577.4 627.0,611.7 642.8,576.5 642.8,609.4 522.1,571.2 522.1,611.7 545.8,577.9 545.8,618.4 638.7,577.4 638.7,610.8 505.0,566.9 505.0,598.0 646.1,572.2 646.1,607.4 584.8,581.4 584.8,611.2 534.4,570.2 534.4,614.9 615.9,578.5 615.9,612.3 594.2,579.0 594.2,614.7 663.5,565.3 663.5,595.5 561.2,580.4 561.2,617.2 671.2,570.2 671.2,597.1 648.6,566.6 648.6,603.2 606.6,577.5 606.6,609.0 559.3,580.4 559.3,618.8 582.2,581.3 582.2,614.6 596.6,574.8 596.6,616.5 533.5,572.2 533.5,614.5 490.7,570.2 490.7,602.6 649.3,567.3 649.3,605.3 641.6,577.2 641.6,609.1 562.5,579.9 562.5,617.8 629.8,581.4 629.8,614.8 626.8,581.0 626.8,611.2 484.5,560.8 484.5,611.1 573.4,578.2 573.4,614.0 530.3,572.8 530.3,611.7 607.8,578.3 607.8,609.8 526.0,577.2 526.0,609.6 537.9,573.7 537.9,614.4 582.4,579.7 582.4,611.0 559.8,578.7 559.8,620.0 514.8,569.0 514.8,610.4 589.9,582.4 589.9,613.9 645.5,572.6 645.5,607.9 652.4,565.0 652.4,601.6 535.8,572.6 535.8,614.9 547.1,577.9 547.1,617.8 657.9,562.8 657.9,596.6 602.8,575.2 602.8,611.3 575.7,578.4 575.7,613.3 537.3,571.2 537.3,618.5 592.5,580.6 592.5,612.8 552.3,576.5 552.3,618.1 633.3,580.0 633.3,615.7 601.1,573.3 601.1,614.4 539.2,574.7 539.2,614.8 618.8,575.4 618.8,612.2 614.6,578.9 614.6,611.5 530.6,573.4 530.6,611.5 541.0,579.2 541.0,613.0 648.1,569.2 648.1,604.3 606.6,576.5 606.6,605.6 647.6,569.2 647.6,605.2 495.1,570.8 495.1,603.7 639.2,576.5 639.2,610.4 662.2,563.7 662.2,597.3 620.0,579.3 620.0,610.5 662.7,563.0 662.7,598.0 493.8,570.6 493.8,601.3 633.4,579.5 633.4,615.6 563.6,579.7 563.6,615.8 495.7,568.6 495.7,604.5 486.3,565.3 486.3,608.6 597.7,574.2 597.7,614.8 565.0,582.6 565.0,617.8 667.4,563.4 667.4,596.7 559.6,580.6 559.6,619.6 564.6,580.4 564.6,615.9 628.9,577.9 628.9,612.2 596.1,578.7 596.1,612.7 499.7,571.4 499.7,603.5 496.3,569.8 496.3,601.6 612.1,576.4 612.1,612.7 534.1,572.3 534.1,614.4 581.1,578.8 581.1,613.9 546.0,576.4 546.0,616.4 488.4,566.3 488.4,607.5 621.9,577.1 621.9,610.9 559.6,577.8 559.6,618.9 657.9,563.2 657.9,600.2 642.9,575.8 642.9,611.7 499.5,571.2 499.5,602.4 532.2,572.1 532.2,611.6 537.6,569.8 537.6,615.5 634.2,578.9 634.2,613.0 606.5,577.2 606.5,605.9 502.7,570.9 502.7,599.6 652.6,565.7 652.6,603.5 489.2,566.0 489.2,605.0 622.0,576.3 622.0,609.5 487.6,565.0 487.6,609.3 632.2,580.7 632.2,615.8 538.9,572.9 538.9,614.2 540.4,575.8 540.4,612.4 539.1,575.7 539.1,615.5 557.6,578.2 557.6,620.0 581.0,577.3 581.0,612.4 649.9,565.2 649.9,604.4 491.8,566.8 491.8,604.3 524.5,575.0 524.5,608.7 654.3,565.7 654.3,601.5 545.2,579.3 545.2,616.6 556.9,578.7 556.9,619.3 514.1,567.9 514.1,609.3 663.4,562.1 663.4,598.2 502.7,571.5 502.7,601.8 592.7,579.1 592.7,615.2 519.8,566.4 519.8,612.0 491.6,567.6 491.6,603.8 569.0,580.8 569.0,614.0 613.9,577.5 613.9,610.6 555.6,577.8 555.6,620.9 586.6,584.5 586.6,614.9 608.4,578.8 608.4,611.2 555.1,576.8 555.1,618.9 532.0,572.9 532.0,612.4 539.9,577.0 539.9,613.1 637.8,579.0 637.8,613.0 584.7,581.5 584.7,611.7 630.1,579.3 630.1,614.9 600.1,573.3 600.1,615.4 639.3,576.7 639.3,613.4 653.6,564.4 653.6,599.9 520.1,568.0 520.1,612.2 532.4,572.2 532.4,614.5 505.2,567.5 505.2,598.5 518.7,569.0 518.7,612.0 658.4,565.7 658.4,597.4 497.3,570.3 497.3,602.7 493.3,570.4 493.3,601.9 639.7,576.2 639.7,612.3 487.6,566.6 487.6,607.9 635.1,578.6 635.1,614.8 547.9,578.9 547.9,619.6 512.1,570.2 512.1,606.1 553.5,576.9 553.5,620.4 542.1,578.2 542.1,614.5 495.5,568.5 495.5,603.5 652.7,565.6 652.7,602.4 498.6,571.4 498.6,603.7 596.5,575.7 596.5,613.7 515.9,570.5 515.9,612.8 543.0,581.3 543.0,615.2 547.8,579.1 547.8,618.5 538.4,573.3 538.4,614.8 636.5,577.6 636.5,611.7 581.4,578.4 581.4,611.2 623.7,579.4 623.7,611.3 517.1,570.6 517.1,611.0 623.2,579.6 623.2,611.1 653.0,563.2 653.0,600.6 597.4,574.0 597.4,613.1 590.3,582.0 590.3,614.4 606.4,576.9 606.4,607.3 634.8,578.1 634.8,613.9 598.6,576.4 598.6,612.9 577.3,579.1 577.3,613.6 615.1,577.2 615.1,609.2 634.0,580.3 634.0,613.0 516.2,570.5 516.2,612.1 581.7,578.8 581.7,612.1 508.1,566.9 508.1,602.0 533.3,570.3 533.3,615.5 648.3,568.0 648.3,604.2 612.2,576.6 612.2,610.2 521.1,568.9 521.1,608.7 538.3,574.6 538.3,615.9 614.8,575.8 614.8,610.2 554.4,576.9 554.4,619.1 554.1,580.0 554.1,619.0 496.4,570.7 496.4,602.9 539.1,574.6 539.1,614.6 648.0,569.0 648.0,607.0 654.5,563.4 654.5,600.3 537.4,572.4 537.4,617.6 619.2,578.4 619.2,613.2 600.6,573.8 600.6,614.1 589.7,582.5 589.7,611.5 636.9,578.3 636.9,613.5 636.1,578.7 636.1,613.2 561.9,579.5 561.9,615.7 624.7,579.1 624.7,610.7 647.9,569.4 647.9,605.2 627.5,577.5 627.5,612.2 612.4,575.9 612.4,611.6 539.8,575.9 539.8,613.5 550.4,579.1 550.4,618.8 622.7,579.5 622.7,609.5 610.8,575.8 610.8,612.5 565.0,582.1 565.0,615.5 505.7,568.7 505.7,598.4 482.0,598.2 484.5,600.0 483.1,604.2 484.5,604.0 481.9,604.9 484.1,573.8 482.0,586.8 482.8,585.4 483.4,586.1 482.4,604.9 483.7,567.8 483.1,575.4 482.7,573.5 484.7,608.7 484.6,584.6 482.4,600.0 483.3,610.4 481.9,573.0 482.7,611.9 482.1,565.4 484.3,584.8 484.0,580.5 482.9,608.4 482.2,602.6 484.2,609.8 482.5,577.6 484.5,609.4 483.0,598.9 483.2,575.6 482.3,604.8 482.5,603.2 482.8,612.0 482.3,576.1 483.3,591.0 484.6,570.6 671.8,574.6 672.3,586.7 673.2,585.5 672.4,591.6 671.8,592.5 673.0,589.7 671.2,581.3 670.9,576.4 673.2,594.6 671.4,576.3 670.4,591.5 671.7,579.2 672.6,586.8 672.6,596.9 672.2,581.7 672.2,594.5 672.6,587.6 672.1,594.1 673.2,583.5 536.7,556.7 513.1,562.2 531.2,563.9 537.6,551.1 555.4,564.3 563.9,550.1 534.8,562.7 560.4,551.2 563.9,556.7 533.9,563.1 545.3,562.9 562.6,558.2 507.7,560.7 566.8,553.4 496.9,552.8 487.5,562.2 494.7,553.5 521.8,551.0 542.3,553.0 565.3,559.3 509.0,564.5 510.3,563.7 493.6,605.0 502.7,635.7 497.4,603.1 499.4,635.7 493.5,636.8 506.8,604.8 497.6,607.1 503.6,601.4 501.5,600.5 513.6,634.3 504.6,610.7 491.6,625.6 494.6,635.6 493.7,615.0 496.6,629.9 500.5,602.0 505.6,616.2 492.2,639.7 498.7,627.5 514.6,637.6 487.0,603.4 486.6,624.0 492.7,635.1 509.5,626.3 499.7,607.3 510.5,614.9 493.4,625.7 508.5,637.0 509.6,636.2 511.7,627.1 486.8,634.3 500.3,625.0 503.3,634.8 514.1,621.5 503.5,621.2 499.7,601.9 486.8,632.9 504.3,638.8 491.4,630.6 496.1,625.1 495.9,602.4 511.6,627.9 504.5,615.4 489.9,608.0 506.8,609.6 621.8,563.4 583.0,572.8 627.6,574.4 647.8,573.4 640.0,568.1 592.5,554.9 601.4,552.0 629.1,569.9 610.4,557.4 648.6,559.9 627.5,564.4 593.5,571.9 624.9,564.9 599.4,563.2 625.0,551.6 600.5,551.0 611.9,564.7 586.9,566.3 604.0,557.3 629.0,550.9 589.5,562.4 637.9,563.0 600.2,558.3 648.9,565.9 584.4,566.3 645.4,553.2 604.8,551.5 583.3,562.5 630.9,561.0 621.2,569.1 646.2,628.6 654.8,612.2 652.9,618.6 646.4,628.4 650.2,608.9 651.9,628.2 649.4,617.6 647.2,606.5 653.4,609.1 651.5,609.8 655.2,609.3 647.7,605.6 648.5,617.4 654.1,605.4 654.7,614.1 653.4,616.5 653.8,616.0 655.0,606.7 650.0,632.1 650.6,614.7 654.2,613.9 647.2,613.5 669.3,608.4 668.5,639.7 664.8,624.6 660.1,624.0 668.1,612.5 661.5,596.3 656.9,643.9 661.5,596.3 656.1,615.5 666.7,601.9 669.0,608.9 669.6,605.7 662.4,611.4 656.5,604.3 662.9,611.8 658.3,602.9 664.5,636.2 666.8,641.7 668.8,639.3 663.2,628.8 658.0,622.2 668.6,608.5 668.0,630.7 657.7,601.7 661.7,607.0 658.5,623.7 667.2,641.2 670.1,626.6 669.5,610.3 668.9,600.5 670.4,599.3 670.9,636.3 669.4,642.7 666.1,634.4 664.1,633.2 667.1,600.6 670.2,632.8 499.0,548.9 487.5,548.6 491.6,548.5 491.2,548.5 499.8,548.5 488.7,548.8 504.0,548.7 499.0,548.5 491.6,548.8 497.1,548.9 497.0,548.8 490.4,548.8 489.5,548.7 491.4,548.7 486.2,548.9 485.2,548.8 491.4,548.5 494.1,548.6 499.8,548.6 495.7,548.7 496.1,548.8 500.5,548.7 500.0,548.9 505.8,548.6 499.0,548.9 524.5,548.7 561.7,548.5 558.7,548.7 546.0,548.9 540.3,548.7 549.5,548.9 545.6,548.8 509.6,548.5 560.9,548.5 533.7,548.9 564.9,548.5 553.6,548.5 559.0,548.9 527.7,548.7 510.5,548.6 524.2,548.5 542.3,548.5 511.2,548.5 541.5,548.6 554.6,548.8 528.0,548.8 529.2,548.8 528.5,548.7 536.1,548.5 526.8,548.6 514.1,548.9 515.8,548.5 531.6,548.7 560.0,548.6 545.7,548.8 559.7,548.5 513.2,548.5 508.9,548.5 539.9,548.7 556.4,548.8 550.4,548.9 558.7,548.6 533.3,548.8 534.9,548.9 534.7,548.5 527.3,548.9 521.4,548.8 536.4,548.8 562.1,548.6 528.4,548.9 555.4,548.9 514.1,548.9 520.0,548.6 549.2,548.8 533.3,548.5 542.2,548.6 559.0,548.9 526.2,548.9 528.8,548.6 532.4,548.7 541.0,548.8 521.8,548.8 533.5,548.9 535.6,548.8 510.7,548.6 552.9,548.7 538.2,548.6 564.2,548.6 532.3,548.9 531.5,548.5 540.1,548.9 518.6,548.8 537.2,548.8 543.1,548.9 553.6,548.9 573.0,548.9 574.0,548.7 572.9,548.9 571.7,548.8 570.4,548.6 572.9,548.5 573.9,548.9 570.8,548.8 586.1,548.5 584.2,548.5 588.5,548.8 596.1,548.7 580.3,548.7 593.3,548.7 593.3,548.7 592.5,548.9 581.9,548.9 580.9,548.7 596.1,548.8 580.3,548.6 595.1,548.9 593.5,548.8 586.5,548.8 592.1,548.9 594.9,548.9 590.6,548.7 587.1,548.5 599.7,548.7 582.2,548.7 592.6,548.5 593.1,548.8 593.9,548.6 598.8,548.7 646.5,548.7 642.6,548.9 635.0,548.8 614.2,548.7 615.6,548.7 660.0,548.9 659.1,548.7 656.6,548.7 624.8,548.6 642.4,548.8 628.6,548.9 627.8,548.6 628.4,548.6 621.0,548.6 653.2,548.5 615.0,548.6 630.4,548.7 665.1,548.9 653.8,548.5 655.5,548.6 640.4,548.7 639.7,548.9 644.2,548.7 637.6,548.5 641.6,548.9 668.8,548.7 655.6,548.9 649.7,548.8 670.5,548.7 661.7,548.9 651.4,548.8 614.2,548.5 635.1,548.9 637.8,548.5 665.2,548.5 641.2,548.8 616.0,548.9 664.9,548.8 623.3,548.5 657.1,548.8 665.4,548.7 622.2,548.7 626.2,548.5 652.2,548.7 640.9,548.6 616.9,548.6 620.0,548.7 636.5,548.7 657.6,548.7 640.2,548.6 644.2,548.6 649.6,548.7 616.8,548.7 646.7,548.5 667.2,548.5 634.6,548.7 657.7,548.8 646.9,548.9 637.3,548.8 636.7,548.5 644.5,548.9 664.5,548.9 645.0,548.6 650.5,548.7 642.4,548.5 632.7,548.9 654.7,548.5 616.5,548.9 653.7,548.7 615.4,548.5 494.3,642.8 494.4,642.9 496.2,642.5 492.2,642.9 495.1,642.6 492.3,642.7 503.1,642.8 503.3,642.9 504.5,642.3 518.9,642.6 516.8,642.8 516.5,642.5 517.6,643.1 527.5,643.1 531.8,642.6 532.7,642.8 530.0,642.4 535.7,642.9 559.9,642.6 540.6,642.3 566.8,642.4 569.8,642.4 558.4,642.4 553.1,642.8 569.1,642.6 549.2,643.1 559.6,642.5 562.5,642.3 554.2,642.9 569.1,642.3 558.7,642.6 535.2,642.6 541.2,642.9 536.0,643.0 564.1,642.9 542.0,642.8 576.0,642.4 573.7,642.4 558.7,642.3 554.6,642.5 565.6,642.4 546.8,642.7 568.6,643.0 560.4,642.6 540.9,643.0 556.9,642.5 543.0,642.6 564.1,642.6 571.3,642.4 562.8,642.7 572.5,642.6 537.1,642.6 563.7,642.8 535.7,642.8 557.2,642.7 570.0,642.7 545.6,642.7 568.6,643.0 543.8,642.9 550.5,642.7 540.1,642.6 549.8,642.7 596.2,642.4 594.3,642.7 602.7,642.7 582.8,642.9 580.4,643.0 583.6,642.4 591.2,642.7 603.2,642.9 603.9,642.8 601.9,642.4 588.4,642.9 597.8,642.3 580.3,642.4 585.4,643.0 583.4,642.9 607.2,642.4 590.4,642.9 589.7,642.9 583.2,642.5 590.7,643.1 583.8,642.4 580.3,642.9 582.5,643.0 587.1,642.5 582.0,642.6 580.7,642.3 598.1,642.9 612.7,642.7 617.9,642.5 625.4,642.6 630.4,642.6 610.0,642.4 625.0,643.0 618.7,642.9 609.9,643.0 629.0,642.3 626.1,642.7 614.6,642.9 624.8,643.1 625.5,643.0 623.6,642.6 619.8,642.3 615.1,642.6 633.9,643.0 633.0,642.7 630.3,642.3 613.1,642.7 628.6,642.4 615.6,642.9 616.2,642.6 624.5,642.3 610.1,642.4 617.6,642.4 622.5,642.6 667.6,643.0 662.6,643.0 662.3,643.0 659.3,642.7 670.3,642.6 666.2,642.5 667.6,642.7" fill="none" stroke="none" marker-start="url(#ms)" marker-mid="url(#ms)" marker-end="url(#ms)"/>
<path d="M486.2,586.4 C487.1,586.1 489.6,585.0 491.3,584.5 C493.0,584.0 494.6,583.7 496.4,583.5 C498.2,583.3 500.2,583.1 502.0,583.4 C503.8,583.6 505.6,584.3 507.4,585.0 C509.1,585.7 510.8,586.6 512.5,587.4 C514.2,588.2 515.9,588.9 517.6,589.6 C519.3,590.3 521.0,591.1 522.7,591.8 C524.4,592.5 526.1,593.3 527.8,594.0 C529.5,594.7 531.2,595.3 532.9,595.9 C534.6,596.5 536.3,596.9 538.0,597.4 C539.7,597.9 541.4,598.3 543.2,598.8 C545.0,599.3 547.1,599.8 549.0,600.3 C550.9,600.8 552.9,601.2 554.8,601.6 C556.7,602.0 558.6,602.5 560.4,602.8 C562.2,603.1 564.0,603.3 565.8,603.5 C567.5,603.7 569.2,603.7 570.9,603.8 C572.6,603.9 574.1,604.0 576.0,603.9 C577.9,603.8 580.2,603.4 582.2,603.1 C584.2,602.8 586.0,602.4 588.0,602.0 C590.0,601.6 592.1,601.1 593.9,600.6 C595.7,600.1 597.3,599.6 599.0,599.1 C600.7,598.6 602.4,598.1 604.1,597.7 C605.8,597.3 607.5,596.9 609.2,596.6 C610.9,596.4 612.6,596.0 614.3,596.2 C616.0,596.4 617.6,597.1 619.4,597.7 C621.2,598.3 623.4,599.2 625.3,599.6 C627.2,600.0 629.0,600.4 630.8,600.1 C632.6,599.8 634.5,598.9 636.2,597.7 C637.9,596.5 639.4,594.4 641.0,592.8 C642.6,591.2 644.2,589.6 645.7,588.2 C647.2,586.8 648.5,585.5 650.1,584.5 C651.7,583.5 653.5,582.6 655.2,582.0 C656.9,581.4 658.5,581.0 660.3,580.9 C662.1,580.8 664.4,581.1 666.1,581.2 C667.8,581.3 669.8,581.5 670.5,581.6" fill="none" stroke="#000" stroke-width="3.2" stroke-dasharray="3.1 2.7"/>
<polygon points="66.8,701.3 75.4,701.3 75.5,688.1 90.0,688.1 90.1,710.0 94.5,710.0 95.0,711.5 107.6,711.5 108.0,720.0 114.9,720.0 115.0,711.5 126.6,711.5 127.0,720.0 129.4,720.0 129.5,704.2 134.0,704.2 134.1,691.0 138.5,691.0 138.6,704.2 148.5,704.2 148.6,707.1 158.0,707.1 162.0,711.5 180.5,711.5 180.6,684.0 183.4,684.0 183.5,711.5 196.0,711.5 196.1,686.0 198.0,686.0 198.1,711.5 203.5,711.5 203.6,694.0 205.0,694.0 205.1,694.0 209.2,694.0 209.3,694.0 209.5,694.0 209.6,711.5 221.9,711.5 222.0,720.0 227.6,720.0 227.7,711.5 254.0,711.5 254.0,739.2 227.7,739.2 227.6,735.0 222.0,735.0 221.9,740.7 209.6,740.7 209.5,740.7 209.3,740.7 209.2,753.8 205.1,753.8 205.0,740.7 203.6,740.7 203.5,740.7 198.1,740.7 198.0,740.7 196.1,740.7 196.0,740.7 183.5,740.7 183.4,740.7 180.6,740.7 180.5,740.7 162.0,740.7 158.0,740.3 148.6,739.2 148.5,743.6 138.6,743.6 138.5,743.6 134.1,743.6 134.0,743.6 129.5,743.6 129.4,735.0 127.0,735.0 126.6,739.2 115.0,739.2 114.9,735.0 108.0,735.0 107.6,739.2 95.0,739.2 94.5,739.2 90.1,739.2 90.0,755.3 75.5,755.3 75.4,745.1 66.8,745.1" fill="url(#qd)"/>
<polygon points="66.8,714.0 75.4,714.0 75.5,714.0 90.0,714.0 90.1,714.0 94.5,714.0 95.0,714.0 107.6,714.0 108.0,720.0 114.9,720.0 115.0,714.0 126.6,714.0 127.0,720.0 129.4,720.0 129.5,714.0 134.0,714.0 134.1,714.0 138.5,714.0 138.6,714.0 148.5,714.0 148.6,714.0 158.0,714.0 162.0,714.0 180.5,714.0 180.6,714.0 183.4,714.0 183.5,714.0 196.0,714.0 196.1,714.0 198.0,714.0 198.1,714.0 203.5,714.0 203.6,714.0 205.0,714.0 205.1,714.0 209.2,714.0 209.3,714.0 209.5,714.0 209.6,714.0 221.9,714.0 222.0,720.0 227.6,720.0 227.7,714.0 254.0,714.0 254.0,739.2 227.7,739.2 227.6,735.0 222.0,735.0 221.9,740.7 209.6,740.7 209.5,740.7 209.3,740.7 209.2,741.0 205.1,741.0 205.0,740.7 203.6,740.7 203.5,740.7 198.1,740.7 198.0,740.7 196.1,740.7 196.0,740.7 183.5,740.7 183.4,740.7 180.6,740.7 180.5,740.7 162.0,740.7 158.0,740.3 148.6,739.2 148.5,741.0 138.6,741.0 138.5,741.0 134.1,741.0 134.0,741.0 129.5,741.0 129.4,735.0 127.0,735.0 126.6,739.2 115.0,739.2 114.9,735.0 108.0,735.0 107.6,739.2 95.0,739.2 94.5,739.2 90.1,739.2 90.0,741.0 75.5,741.0 75.4,741.0 66.8,741.0" fill="url(#pd)"/>
<polygon points="75.5,694.0 90.0,694.0 90.0,749.0 75.5,749.0" fill="url(#pd)"/>
<path d="M253.0,712.3 253.0,741.8 188.9,713.1 188.9,742.8 149.2,710.8 149.2,739.6 226.4,720.9 226.4,737.0 245.3,714.2 245.3,738.7 79.3,712.2 79.3,743.1 122.8,714.6 122.8,742.6 181.8,713.2 181.8,740.2 88.3,714.1 88.3,743.7 214.4,711.9 214.4,743.5 198.5,712.8 198.5,741.6 207.4,714.6 207.4,744.1 118.9,711.1 118.9,739.2 86.3,714.1 86.3,740.6 193.7,712.8 193.7,743.1 169.2,710.0 169.2,740.0 183.6,710.4 183.6,741.2 139.8,714.4 139.8,744.8 77.2,713.2 77.2,744.5 93.9,712.2 93.9,741.4 237.1,714.0 237.1,739.5 78.2,713.0 78.2,743.8 248.0,714.9 248.0,742.0 151.4,712.5 151.4,740.2 111.4,720.6 111.4,738.5 233.2,713.2 233.2,739.0 103.6,710.0 103.6,742.3 236.3,710.7 236.3,741.4 109.9,719.2 109.9,738.8 135.4,711.5 135.4,741.2 189.1,712.8 189.1,743.1 117.9,712.7 117.9,740.3 144.1,710.6 144.1,743.7 170.8,710.3 170.8,744.6 145.7,710.1 145.7,741.1 78.8,712.5 78.8,744.6 98.6,714.8 98.6,739.1 70.7,715.0 70.7,744.2 76.8,712.5 76.8,744.3 89.3,711.0 89.3,741.3 164.4,714.3 164.4,741.0 134.8,713.6 134.8,743.3 104.6,712.9 104.6,741.1 86.9,711.7 86.9,741.3 120.6,710.5 120.6,741.2 160.7,714.1 160.7,741.0 220.1,710.2 220.1,743.6 134.2,713.1 134.2,743.6 93.6,710.2 93.6,740.9 210.8,711.1 210.8,741.2 226.3,719.4 226.3,737.7 246.5,713.4 246.5,740.2 68.3,714.6 68.3,744.8 88.1,710.5 88.1,740.6 96.2,711.1 96.2,743.0 104.9,713.1 104.9,742.0 109.1,719.6 109.1,737.7 237.7,714.9 237.7,743.0 195.9,713.4 195.9,740.7 191.0,712.2 191.0,741.2 71.4,713.0 71.4,744.9 108.7,718.9 108.7,738.0 169.7,714.7 169.7,743.9 169.5,710.1 169.5,741.3 234.0,712.0 234.0,738.8 181.1,711.9 181.1,742.5 68.6,714.1 68.6,742.0 86.7,713.1 86.7,744.4 99.5,710.0 99.5,741.0 85.1,711.6 85.1,742.3 160.1,714.2 160.1,742.8 234.9,713.9 234.9,740.4 225.4,716.6 225.4,736.4 119.5,713.1 119.5,738.8 204.4,714.5 204.4,740.1 199.0,710.8 199.0,741.0 214.9,711.6 214.9,742.7 114.6,718.4 114.6,738.4 246.9,712.9 246.9,739.2 191.2,710.6 191.2,744.1 80.7,710.2 80.7,740.1 211.8,714.8 211.8,744.7 217.3,710.9 217.3,744.0 151.4,712.0 151.4,739.5 94.2,712.8 94.2,741.8 244.0,713.7 244.0,741.8 160.9,711.0 160.9,739.9 106.5,714.5 106.5,739.6 121.8,712.6 121.8,741.1 145.9,710.7 145.9,745.0 176.8,710.7 176.8,741.6 90.2,711.2 90.2,739.9 164.5,713.9 164.5,740.8 134.8,714.9 134.8,741.1 115.1,714.9 115.1,740.2 138.7,712.3 138.7,741.1 219.3,713.2 219.3,739.9 169.7,713.3 169.7,742.9 250.9,711.6 250.9,738.3 243.1,713.2 243.1,743.1 87.6,712.7 87.6,741.9 199.8,710.2 199.8,740.7 87.6,712.7 87.6,742.5 223.0,717.9 223.0,738.5 186.9,715.0 186.9,739.9 200.7,710.9 200.7,744.6 67.3,714.0 67.3,744.7 78.8,710.2 78.8,741.9 144.6,712.2 144.6,740.5 90.4,714.3 90.4,740.0 161.0,711.2 161.0,744.5 238.5,712.5 238.5,738.8 91.6,713.8 91.6,741.9 213.0,711.6 213.0,740.8 131.5,714.6 131.5,742.0 203.2,714.1 203.2,740.2 133.9,714.2 133.9,741.0 156.3,713.8 156.3,739.9 194.0,711.1 194.0,741.4 138.9,714.3 138.9,744.7 223.1,718.3 223.1,736.1 243.8,711.8 243.8,740.4 245.1,710.0 245.1,740.8 232.8,712.5 232.8,741.5 206.3,714.3 206.3,742.6 70.6,711.7 70.6,743.2 96.1,713.6 96.1,742.8 234.6,710.5 234.6,742.3 183.6,713.4 183.6,741.9 159.6,710.8 159.6,743.3 182.8,711.4 182.8,743.6 77.7,712.9 77.7,743.9 90.3,713.4 90.3,739.2 183.1,714.2 183.1,741.2 185.3,713.4 185.3,743.9 246.6,710.6 246.6,741.4 74.2,711.8 74.2,743.6 243.0,713.4 243.0,743.1 71.9,710.7 71.9,740.1 171.2,714.6 171.2,740.2 85.3,712.2 85.3,744.5 219.0,712.6 219.0,741.2 96.7,712.2 96.7,741.4 98.0,714.6 98.0,742.9 202.7,714.3 202.7,743.9 91.7,711.6 91.7,740.8 144.6,713.2 144.6,741.3 71.0,713.2 71.0,741.3 89.3,711.3 89.3,742.4 176.7,712.7 176.7,742.9 154.1,712.8 154.1,739.3 233.4,710.3 233.4,741.5 128.6,716.1 128.6,737.4 209.9,713.1 209.9,742.3 171.6,710.8 171.6,740.7 114.8,716.3 114.8,737.4 97.6,713.1 97.6,738.8 101.4,713.3 101.4,739.9 72.8,714.2 72.8,744.5 131.0,715.0 131.0,744.8 67.9,713.8 67.9,740.6 155.9,711.1 155.9,741.6 140.9,714.2 140.9,740.8 179.7,710.6 179.7,744.2 132.5,712.0 132.5,741.6 234.5,713.4 234.5,742.7 208.3,710.5 208.3,743.6 100.8,711.9 100.8,739.1 174.7,710.9 174.7,741.1 248.2,712.5 248.2,740.8 236.9,711.8 236.9,740.6 237.7,713.8 237.7,742.4 165.7,710.6 165.7,741.2 146.0,710.2 146.0,740.9 174.2,714.2 174.2,741.8 172.9,713.3 172.9,742.9 213.6,710.3 213.6,743.8 162.7,712.4 162.7,743.9 122.1,712.6 122.1,740.8 102.4,712.4 102.4,741.2 179.2,710.2 179.2,740.7 160.7,713.0 160.7,741.2 115.0,711.5 115.0,739.4 230.1,710.0 230.1,742.7 73.5,712.9 73.5,742.3 108.2,716.9 108.2,734.9 184.4,713.3 184.4,743.7 126.3,710.9 126.3,740.8 241.6,714.3 241.6,742.7 188.4,714.6 188.4,741.2 251.4,712.8 251.4,742.5 145.6,710.3 145.6,740.7 208.7,712.3 208.7,742.2 195.7,712.0 195.7,743.7 199.5,712.3 199.5,742.0 169.2,712.7 169.2,741.8 77.0,713.1 77.0,744.8 228.3,712.1 228.3,739.7 180.5,711.1 180.5,740.7 189.7,712.3 189.7,744.5 86.0,713.3 86.0,744.1 170.5,712.3 170.5,742.1 99.6,713.0 99.6,742.6 86.4,712.8 86.4,740.6 162.5,710.1 162.5,742.3 103.9,713.2 103.9,742.5 239.1,711.0 239.1,739.3 155.0,712.9 155.0,739.3 149.6,714.1 149.6,743.1 163.7,711.0 163.7,741.1 245.7,713.0 245.7,739.0 253.7,713.5 253.7,738.7 138.6,710.3 138.6,741.8 250.8,713.0 250.8,740.9 228.8,710.6 228.8,740.6 153.5,711.4 153.5,743.3 150.6,714.8 150.6,740.3 94.5,713.9 94.5,739.1 214.2,712.2 214.2,741.4 184.7,714.5 184.7,744.0 210.9,712.8 210.9,744.6 168.9,712.0 168.9,740.1 106.0,710.7 106.0,740.5 219.6,710.2 219.6,740.1 134.1,714.0 134.1,741.1 217.2,714.6 217.2,742.3 165.0,711.5 165.0,741.1 230.0,714.5 230.0,743.1 79.6,710.5 79.6,744.3 251.6,713.3 251.6,740.4 252.6,711.5 252.6,741.6 71.2,711.4 71.2,742.8 229.0,710.3 229.0,741.0 185.5,711.8 185.5,743.6 162.4,711.6 162.4,744.4 166.0,711.1 166.0,743.0 114.6,718.8 114.6,734.2 76.8,711.5 76.8,745.0 78.1,714.5 78.1,741.7 74.5,712.8 74.5,744.5 121.2,712.0 121.2,739.1 82.9,711.0 82.9,742.5 226.8,720.8 226.8,736.3 102.0,710.3 102.0,742.1 238.4,711.7 238.4,738.3 171.0,714.6 171.0,743.9 212.1,712.2 212.1,743.1 200.7,711.5 200.7,743.4 252.5,710.5 252.5,743.0 172.6,710.3 172.6,740.5 99.4,713.7 99.4,740.2 218.7,712.7 218.7,743.8 83.2,711.7 83.2,742.1 132.8,711.5 132.8,740.6 163.6,712.4 163.6,742.9 72.0,710.3 72.0,740.1 99.0,711.1 99.0,742.3 218.2,711.9 218.2,740.3 224.4,718.1 224.4,738.6 162.0,711.4 162.0,741.9 73.5,711.0 73.5,743.2 153.5,710.9 153.5,743.5 105.1,712.1 105.1,742.2 132.5,712.3 132.5,741.8 235.4,712.9 235.4,740.7 248.5,710.7 248.5,739.7 156.4,710.7 156.4,743.7 225.0,716.6 225.0,738.4 77.5,711.5 77.5,743.3 153.5,714.8 153.5,739.7 79.4,710.7 79.4,743.5 113.4,719.2 113.4,738.7 119.6,710.4 119.6,739.5 212.1,712.5 212.1,743.0 219.8,712.6 219.8,741.8 78.0,710.1 78.0,743.7 180.7,710.9 180.7,743.3 161.9,711.3 161.9,743.9 95.5,714.3 95.5,741.1 230.8,713.7 230.8,738.4 124.1,712.1 124.1,740.1 216.4,711.9 216.4,743.8 196.2,713.5 196.2,740.1 163.6,714.4 163.6,743.9 73.4,711.5 73.4,743.1 75.9,710.5 75.9,743.3 173.2,711.2 173.2,741.6 73.2,711.2 73.2,741.9 246.8,712.8 246.8,741.2 111.1,718.9 111.1,736.8 247.6,711.6 247.6,741.3 88.3,712.6 88.3,740.0 67.6,712.2 67.6,741.3 73.2,712.7 73.2,744.1 174.7,714.3 174.7,742.0 152.9,713.5 152.9,742.7 236.7,712.2 236.7,742.1 77.7,712.3 77.7,740.8 212.7,710.5 212.7,742.2 134.4,711.7 134.4,740.4 88.9,710.1 88.9,740.8 209.7,713.3 209.7,743.2 136.7,713.8 136.7,741.6 148.6,713.0 148.6,743.0 207.6,711.9 207.6,742.5 84.9,710.7 84.9,740.1 122.8,710.3 122.8,741.0 124.7,710.4 124.7,738.9 224.8,717.2 224.8,738.6 202.7,713.5 202.7,742.9 224.6,720.2 224.6,734.7 206.4,711.7 206.4,743.9 120.5,711.4 120.5,739.9 115.8,711.0 115.8,741.5 242.7,714.8 242.7,739.1 199.3,714.4 199.3,742.5 85.6,714.0 85.6,743.6 165.1,713.8 165.1,741.3 102.9,712.0 102.9,738.2 195.7,713.5 195.7,741.3 245.5,713.8 245.5,738.8 249.5,711.1 249.5,739.6 140.0,713.8 140.0,743.8 171.3,714.7 171.3,742.1 212.8,713.7 212.8,740.6 155.3,713.2 155.3,743.6 137.4,714.8 137.4,740.5 130.0,712.5 130.0,743.2 103.9,710.2 103.9,742.6 118.3,710.5 118.3,739.0 109.5,716.8 109.5,735.8 246.3,711.9 246.3,741.5 229.8,711.7 229.8,742.7 229.0,714.7 229.0,742.6 80.1,714.5 80.1,743.9 130.9,714.1 130.9,741.5 142.3,714.6 142.3,742.1 229.6,714.0 229.6,740.9 225.4,720.4 225.4,738.0 106.8,714.1 106.8,741.4 168.6,712.6 168.6,743.0 120.2,713.7 120.2,738.6 230.6,710.1 230.6,739.0 154.0,714.5 154.0,741.4 248.7,714.4 248.7,740.8 160.1,712.9 160.1,741.9 116.5,711.2 116.5,742.1 136.2,714.2 136.2,743.8 195.2,713.6 195.2,742.1 180.1,713.8 180.1,742.0 197.6,710.3 197.6,744.6 194.4,712.1 194.4,742.5 105.7,713.6 105.7,742.5 246.6,714.1 246.6,739.5 136.5,713.5 136.5,741.7 204.8,714.6 204.8,744.1 214.8,713.4 214.8,742.3 181.0,714.4 181.0,743.1 253.2,713.0 253.2,740.2 217.1,712.4 217.1,742.1 124.1,710.6 124.1,739.9 134.9,710.4 134.9,742.1 223.1,719.6 223.1,738.7 105.4,710.2 105.4,739.1 113.5,716.9 113.5,735.0 123.8,712.4 123.8,738.7 237.6,711.6 237.6,738.5 173.3,711.4 173.3,741.0 167.6,711.5 167.6,741.7 134.4,714.9 134.4,742.9 194.8,712.9 194.8,743.0 207.0,710.1 207.0,742.8 148.8,711.5 148.8,739.1 124.0,712.0 124.0,739.3 129.4,718.6 129.4,739.2 249.6,712.9 249.6,740.6 106.8,710.2 106.8,742.7 67.5,713.8 67.5,744.0 132.2,711.3 132.2,741.8 146.5,711.1 146.5,742.9 196.9,711.3 196.9,743.2 95.1,711.4 95.1,741.8 204.3,711.8 204.3,741.7 231.6,713.5 231.6,740.6 227.4,719.7 227.4,734.8 153.6,714.9 153.6,738.9 242.2,714.6 242.2,738.9 100.8,711.4 100.8,741.8 92.9,713.5 92.9,739.3 212.8,711.0 212.8,740.4 216.0,710.0 216.0,742.0 145.4,712.2 145.4,740.3 109.1,719.0 109.1,735.6 250.9,712.9 250.9,738.6 142.9,711.9 142.9,741.1 127.2,717.9 127.2,737.5 74.6,713.3 74.6,741.3 175.2,713.4 175.2,741.3 242.0,710.5 242.0,739.1 197.4,710.5 197.4,743.9 178.9,713.5 178.9,743.1 110.8,718.9 110.8,737.0 211.5,714.6 211.5,742.4 247.4,711.9 247.4,741.7 91.6,713.7 91.6,739.6 220.3,711.1 220.3,741.1 96.4,713.7 96.4,741.3 108.3,716.5 108.3,735.8 95.1,714.8 95.1,740.8 219.5,710.1 219.5,743.6 172.6,711.4 172.6,740.6 94.4,713.6 94.4,741.7 244.1,714.1 244.1,738.8 228.4,713.4 228.4,741.9 161.9,711.3 161.9,742.8 78.8,712.4 78.8,740.3 121.5,711.4 121.5,741.2 72.0,712.0 72.0,740.3 144.4,714.2 144.4,744.2 174.8,712.0 174.8,743.7 87.2,714.1 87.2,741.0 106.9,714.6 106.9,741.1 110.7,718.0 110.7,736.6 142.6,713.7 142.6,743.5 116.7,714.8 116.7,742.1 101.1,714.2 101.1,741.0 179.5,710.3 179.5,742.0 93.0,710.9 93.0,742.0 226.3,719.0 226.3,739.0 80.6,713.3 80.6,740.6 152.1,713.8 152.1,739.6 236.7,710.4 236.7,742.3 190.5,710.6 190.5,743.4 191.6,714.3 191.6,743.5 91.8,713.5 91.8,739.4 150.0,713.6 150.0,740.7 197.5,713.8 197.5,741.5 131.2,710.2 131.2,740.4 93.2,712.3 93.2,743.2 221.1,714.3 221.1,743.1 233.8,712.5 233.8,739.6 231.5,710.8 231.5,740.4 199.0,711.4 199.0,741.7 188.7,714.9 188.7,740.0 176.0,711.1 176.0,741.5 247.9,713.6 247.9,739.9 174.8,714.2 174.8,741.8 234.7,712.5 234.7,738.2 139.7,712.5 139.7,742.1 165.4,714.7 165.4,742.7 72.7,711.0 72.7,740.4 85.7,711.1 85.7,741.6 176.3,710.3 176.3,741.1 72.3,710.2 72.3,742.7 250.5,713.4 250.5,741.2 100.8,712.7 100.8,742.4 113.9,716.8 113.9,734.2 152.3,711.7 152.3,743.3 221.3,712.8 221.3,741.8 171.5,714.9 171.5,743.5 82.3,714.3 82.3,740.9 91.7,710.2 91.7,741.2 215.6,713.2 215.6,743.4 235.4,712.0 235.4,738.8 207.1,713.4 207.1,742.4 127.6,718.6 127.6,736.7 235.1,714.7 235.1,741.9 95.2,712.6 95.2,739.1 67.1,717.0 67.0,724.7 65.2,739.5 65.8,727.0 66.3,720.7 67.2,718.8 67.6,724.0 65.7,721.6 66.4,735.1 65.8,717.5 66.9,726.5 67.5,727.9 67.2,737.2 67.1,722.8 66.5,728.9 66.3,716.0 65.0,731.4 66.8,725.3 255.3,719.3 255.8,720.4 253.8,735.8 254.2,716.3 255.7,737.2 255.0,731.6 253.4,719.1 253.7,733.0 255.0,715.7 254.3,721.4 253.9,727.4 253.9,717.5 254.9,735.6 253.7,714.6 253.5,721.6 254.9,726.7 255.2,735.2 89.8,690.4 89.8,751.6 86.4,694.4 86.4,752.6 78.0,691.3 78.0,749.0 86.3,690.9 86.3,748.5 89.7,691.5 89.7,750.1 76.1,692.9 76.1,748.7 83.3,691.1 83.3,750.0 79.8,692.9 79.8,750.0 88.4,692.7 88.4,750.6 77.8,694.3 77.8,749.2 89.9,690.3 89.9,750.2 76.8,691.3 76.8,749.9 76.1,690.0 76.1,750.4 76.6,692.3 76.6,749.2 75.9,690.4 75.9,751.3 85.9,691.1 85.9,751.9 77.1,690.0 77.1,752.3 85.1,691.1 85.1,752.0 79.5,694.2 79.5,752.3 85.1,692.6 85.1,749.7 84.9,694.3 84.9,752.5 77.6,693.6 77.6,749.2 78.2,693.6 78.2,748.9 84.9,690.4 84.9,748.9 85.8,692.5 85.8,750.2 78.1,694.1 78.1,752.1 84.8,694.4 84.8,748.7 85.3,690.3 85.3,748.7 77.6,692.2 77.6,752.8 83.7,692.4 83.7,749.4 89.6,694.4 89.6,751.4 75.5,690.8 75.5,749.9 78.9,694.0 78.9,750.4 83.2,690.4 83.2,749.5 82.3,693.4 82.3,748.0 79.4,693.6 79.4,752.4 75.5,706.2 74.8,720.1 75.8,721.0 75.0,734.8 75.4,748.3 74.1,707.0 74.1,735.4 74.3,743.4 75.5,714.4 75.7,702.5 74.4,697.9 74.0,712.5 74.2,748.2 74.8,741.6 73.8,741.7 74.8,723.4 74.1,726.2 75.6,741.8 74.5,730.9 74.4,733.3 74.8,711.1 76.0,714.4 74.7,747.3 76.3,711.2 73.4,733.1 73.6,703.7 75.1,720.6 73.7,727.1 74.7,747.0 74.9,742.6 74.4,722.5 74.1,724.5 75.4,729.1 74.5,714.2 75.6,709.9 75.4,724.4 74.8,724.0 74.3,694.3 91.5,739.1 90.0,736.6 91.2,742.0 92.2,744.4 90.2,738.6 89.3,746.2 90.6,741.0 89.7,747.7 91.5,705.4 89.6,745.4 91.2,732.4 91.1,711.1 89.4,744.6 92.1,735.5 90.4,736.4 89.3,694.1 89.9,717.4 92.0,711.6 89.6,742.7 89.9,744.3 90.8,728.0 90.9,715.8 90.3,742.4 90.4,702.4 89.9,746.4 90.1,717.0 89.8,746.9 90.2,748.3 91.7,744.0 91.2,711.2 90.7,725.1 90.0,740.5 91.1,747.6 89.3,739.9 91.8,731.9 90.2,723.3 91.4,705.8 90.9,718.6 74.6,695.0 152.5,704.8 152.6,699.1 131.7,703.4 76.1,699.6 120.1,698.9 98.2,690.8 116.5,690.4 143.2,692.6 155.0,703.5 84.4,699.9 147.5,690.2 95.1,694.1 150.7,703.8 113.3,693.4 221.6,700.6 232.3,704.3 196.8,693.2 216.8,693.4 172.3,700.6 164.2,707.1 253.6,705.0 175.5,695.1 189.8,694.4 217.7,698.3 173.3,706.4 232.7,700.9 156.6,745.7 172.7,746.5 120.8,749.3 86.9,751.5 236.3,754.8 128.1,756.0 117.9,747.7 92.7,753.9 152.7,751.0 209.2,745.9 96.7,756.0 89.9,753.1 253.2,747.6 237.7,748.4 164.5,755.1 147.0,747.9 210.4,754.7 103.4,747.5 239.6,750.1 191.6,750.3 110.4,730.9 111.1,739.4 110.7,728.8 111.5,739.9 112.3,713.0 109.1,738.0 111.2,733.4 109.9,724.3 114.1,714.7 108.5,736.3 223.2,732.6 224.3,736.8 225.8,727.9 226.1,721.1 224.5,729.1 222.9,737.0 227.4,719.2 223.0,734.8 85.6,719.2 80.6,716.4 86.8,727.5 80.7,727.0 86.1,722.9 79.2,719.4 84.9,719.8 79.3,725.3 83.9,731.4 82.1,729.7 185.9,703.0 182.3,682.7 178.6,689.4 183.4,696.4 182.0,694.4 183.6,694.9 184.6,692.9 184.0,688.4 182.7,692.4 183.1,710.6 196.8,701.5 196.5,710.8 195.0,704.6 198.2,706.2 197.2,703.7 194.8,702.5 195.8,698.9 195.4,689.6 207.2,689.7 203.2,700.6 206.4,701.6 205.9,711.8 207.2,711.9 204.6,704.6 210.4,696.1 209.0,688.8 210.1,702.3 202.5,707.5 102.1,758.2 122.2,757.5 145.3,750.9 149.2,751.6 144.9,754.6 89.4,686.0 136.8,689.6 174.4,777.2 167.8,700.5 219.7,691.1 236.2,692.5 246.7,693.2 230.6,757.5 236.2,753.8 183.2,754.1 196.6,753.8 120.5,757.0 79.0,756.0 84.0,757.0" fill="none" stroke="none" marker-start="url(#md)" marker-mid="url(#md)" marker-end="url(#md)"/>
<path d="M66.8,706.6 C97.9,706.6 222.1,706.6 253.2,706.6" fill="none" stroke="#E41A1C" stroke-width="1.3" stroke-dasharray="4.2 3.3"/>
<path d="M66.8,711.6 C97.9,711.6 222.1,711.6 253.2,711.6" fill="none" stroke="#1F2FBF" stroke-width="1.3" stroke-dasharray="4.4 2.6 1 2.6"/>
<path d="M66.8,741.5 C97.9,741.5 222.1,741.5 253.2,741.5" fill="none" stroke="#1F2FBF" stroke-width="1.3" stroke-dasharray="4.4 2.6 1 2.6"/>
<path d="M66.8,746.5 C97.9,746.5 222.1,746.5 253.2,746.5" fill="none" stroke="#E41A1C" stroke-width="1.3" stroke-dasharray="4.2 3.3"/>
<path d="M66.8,715.9 C67.8,715.5 70.7,714.2 72.6,713.2 C74.5,712.2 76.6,710.6 78.4,710.0 C80.2,709.4 81.8,709.3 83.5,709.7 C85.2,710.1 87.1,710.9 88.7,712.2 C90.3,713.5 91.5,715.6 93.0,717.3 C94.5,719.0 95.9,720.9 97.4,722.4 C98.9,723.9 100.1,725.6 101.8,726.4 C103.5,727.2 105.6,727.1 107.6,727.3 C109.5,727.4 111.5,727.2 113.5,727.3 C115.5,727.4 117.5,727.8 119.3,727.8 C121.1,727.8 122.9,727.9 124.4,727.3 C125.9,726.6 126.8,725.1 128.1,723.9 C129.4,722.7 130.9,721.2 132.5,720.3 C134.1,719.4 135.9,718.8 137.6,718.5 C139.3,718.2 141.0,718.4 142.7,718.8 C144.4,719.2 146.1,720.0 147.8,721.0 C149.5,722.0 151.2,723.6 152.9,724.6 C154.6,725.6 156.5,726.3 158.0,726.8 C159.5,727.3 159.6,727.5 162.0,727.6 C164.4,727.7 169.8,728.6 172.2,727.6 C174.6,726.6 174.9,723.2 176.6,721.7 C178.3,720.2 180.8,718.9 182.4,718.5 C184.0,718.1 184.9,718.9 186.1,719.5 C187.3,720.1 188.1,722.9 189.7,722.4 C191.3,721.9 193.6,717.6 195.6,716.6 C197.6,715.6 199.4,716.2 201.4,716.6 C203.4,717.0 205.4,718.0 207.3,718.8 C209.2,719.6 210.9,720.8 213.1,721.4 C215.3,722.0 218.0,722.0 220.4,722.4 C222.8,722.8 225.3,723.5 227.7,723.9 C230.1,724.3 232.3,724.5 235.0,724.6 C237.7,724.7 240.8,724.3 243.8,724.3 C246.8,724.2 251.6,724.3 253.2,724.3" fill="none" stroke="#3E6CDB" stroke-width="3.4" stroke-linejoin="round"/>
<polygon points="275.5,704.2 300.0,704.0 302.5,704.8 310.0,707.0 318.6,708.0 318.7,713.0 328.8,713.0 328.9,721.7 352.1,721.7 352.2,710.0 366.0,710.0 370.0,721.0 434.0,721.0 434.2,710.0 463.4,710.0 463.4,739.2 434.2,739.2 434.0,733.0 370.0,733.0 366.0,752.4 352.2,752.4 352.1,765.5 328.9,765.5 328.8,753.8 318.7,753.8 318.6,748.0 310.0,748.0 302.5,745.1 300.0,745.1 275.5,745.1" fill="url(#qd)"/>
<polygon points="275.5,714.0 300.0,714.0 302.5,714.0 310.0,714.0 318.6,714.0 318.7,714.0 328.8,714.0 328.9,721.7 352.1,721.7 352.2,714.0 366.0,714.0 370.0,721.0 434.0,721.0 434.2,714.0 463.4,714.0 463.4,739.2 434.2,739.2 434.0,733.0 370.0,733.0 366.0,741.5 352.2,741.5 352.1,741.5 328.9,741.5 328.8,741.5 318.7,741.5 318.6,741.5 310.0,741.5 302.5,741.5 300.0,741.5 275.5,741.5" fill="url(#pd)"/>
<polygon points="329.0,721.0 352.0,721.0 352.0,765.0 329.0,765.0" fill="url(#pd)"/>
<polygon points="318.7,713.0 328.8,713.0 328.8,753.0 318.7,753.0" fill="url(#pd)"/>
<path d="M337.7,718.3 337.7,745.3 352.4,713.3 352.4,742.2 381.9,717.8 381.9,732.9 424.2,719.5 424.2,735.7 425.1,720.3 425.1,735.1 308.1,711.3 308.1,745.0 379.3,720.4 379.3,735.1 365.1,711.7 365.1,744.7 312.8,710.7 312.8,744.5 416.9,720.8 416.9,733.6 431.2,720.8 431.2,734.8 456.8,714.4 456.8,741.5 332.3,721.5 332.3,741.2 446.8,710.4 446.8,739.1 355.3,714.5 355.3,744.6 450.7,712.4 450.7,743.0 396.8,717.2 396.8,736.9 298.2,713.3 298.2,742.9 292.6,712.3 292.6,741.1 453.2,714.1 453.2,740.7 454.6,712.8 454.6,739.7 377.4,721.9 377.4,732.8 418.3,717.2 418.3,735.2 289.0,711.9 289.0,740.8 279.0,712.5 279.0,744.5 299.6,713.7 299.6,744.1 461.6,710.9 461.6,741.0 309.3,712.4 309.3,741.1 308.2,712.9 308.2,741.6 303.7,710.7 303.7,741.9 431.1,721.0 431.1,735.2 310.7,714.8 310.7,742.8 330.0,722.7 330.0,740.7 318.2,713.1 318.2,741.9 371.1,718.0 371.1,733.6 443.1,713.1 443.1,742.4 456.8,711.1 456.8,740.8 278.0,711.3 278.0,741.6 453.5,713.8 453.5,741.0 295.9,711.4 295.9,742.0 366.5,714.8 366.5,739.7 409.6,717.6 409.6,736.0 341.0,720.4 341.0,742.5 439.8,714.9 439.8,740.9 359.3,712.1 359.3,742.3 332.4,718.0 332.4,745.1 277.6,711.6 277.6,744.8 418.4,719.3 418.4,735.5 463.3,710.7 463.3,742.0 437.2,711.2 437.2,740.3 311.0,710.9 311.0,745.3 371.0,717.1 371.0,733.2 347.0,719.5 347.0,742.2 344.8,720.9 344.8,745.0 455.8,712.9 455.8,742.8 358.6,712.4 358.6,744.8 335.5,720.2 335.5,742.9 395.4,719.3 395.4,735.8 387.7,720.9 387.7,735.7 348.9,718.0 348.9,742.4 443.2,713.7 443.2,742.5 400.6,719.6 400.6,735.4 386.1,721.2 386.1,732.7 387.2,721.5 387.2,733.9 351.9,720.7 351.9,745.2 458.5,711.2 458.5,741.7 443.8,713.5 443.8,739.1 371.5,721.2 371.5,735.6 386.7,720.3 386.7,735.4 450.2,714.6 450.2,738.7 437.9,710.4 437.9,742.3 380.3,719.4 380.3,735.0 338.3,718.3 338.3,743.2 287.7,711.2 287.7,740.6 450.0,710.6 450.0,738.6 459.7,710.5 459.7,742.3 368.9,718.9 368.9,736.0 443.2,711.0 443.2,739.4 320.5,711.1 320.5,744.1 335.7,718.2 335.7,744.8 330.5,722.4 330.5,740.7 436.7,712.9 436.7,740.4 332.2,721.5 332.2,743.8 281.2,710.6 281.2,744.5 287.8,711.8 287.8,742.0 341.6,719.3 341.6,742.6 312.1,712.0 312.1,743.8 361.3,711.2 361.3,740.8 282.2,713.5 282.2,744.1 398.7,720.8 398.7,734.3 439.7,711.9 439.7,739.1 424.0,717.8 424.0,734.1 334.5,718.6 334.5,740.9 451.6,711.9 451.6,742.6 280.9,710.3 280.9,740.7 371.4,721.3 371.4,732.8 415.1,719.9 415.1,733.8 370.9,718.1 370.9,734.3 374.4,718.2 374.4,733.2 282.1,712.9 282.1,742.7 400.7,719.2 400.7,734.1 397.1,720.1 397.1,736.4 318.5,712.6 318.5,741.0 434.5,711.4 434.5,742.4 287.2,710.7 287.2,744.9 404.0,718.7 404.0,733.8 448.2,710.3 448.2,742.1 383.0,718.5 383.0,733.1 434.2,712.3 434.2,742.6 312.7,712.5 312.7,745.3 321.7,714.0 321.7,740.9 406.9,718.8 406.9,733.4 346.6,718.0 346.6,744.5 373.4,718.3 373.4,735.4 298.8,713.9 298.8,744.7 400.3,717.8 400.3,732.4 426.1,720.7 426.1,733.2 373.0,719.8 373.0,732.9 390.2,719.6 390.2,734.6 299.5,711.0 299.5,742.7 402.8,718.8 402.8,732.0 331.4,719.7 331.4,741.1 370.4,719.2 370.4,734.4 338.3,718.8 338.3,745.2 351.7,720.1 351.7,743.2 424.5,719.4 424.5,735.7 292.8,714.4 292.8,743.0 400.3,719.4 400.3,733.0 316.5,711.2 316.5,742.0 403.3,719.4 403.3,734.4 326.9,710.2 326.9,744.8 294.8,710.4 294.8,742.6 455.9,714.6 455.9,739.5 279.6,713.1 279.6,744.9 396.2,720.4 396.2,732.5 425.3,720.7 425.3,733.6 327.7,714.9 327.7,742.4 302.0,711.9 302.0,740.7 347.4,719.8 347.4,742.7 389.3,718.5 389.3,734.1 436.5,712.9 436.5,739.9 401.6,718.1 401.6,733.4 278.1,714.6 278.1,741.7 299.8,712.5 299.8,743.1 350.7,720.9 350.7,742.7 361.7,714.4 361.7,742.4 430.3,721.4 430.3,732.9 415.5,721.6 415.5,733.4 280.5,714.8 280.5,742.0 387.9,720.3 387.9,735.1 311.8,713.1 311.8,743.2 384.8,719.9 384.8,736.8 292.7,711.8 292.7,741.0 293.5,713.7 293.5,742.4 313.7,710.4 313.7,742.3 459.1,714.7 459.1,740.0 300.5,713.2 300.5,742.2 349.8,719.2 349.8,743.8 280.2,714.1 280.2,742.9 459.2,714.1 459.2,741.0 383.0,718.9 383.0,732.1 411.2,721.4 411.2,734.2 435.5,710.7 435.5,743.0 434.0,717.9 434.0,737.5 400.0,721.7 400.0,736.8 351.2,718.8 351.2,742.4 302.6,714.3 302.6,740.8 408.0,721.8 408.0,732.5 287.2,712.7 287.2,742.1 445.8,713.9 445.8,741.6 411.9,720.9 411.9,735.5 399.0,719.5 399.0,733.2 325.3,713.5 325.3,744.4 454.8,711.9 454.8,741.6 353.0,710.9 353.0,741.7 357.1,713.5 357.1,743.1 319.7,711.9 319.7,745.4 400.3,719.4 400.3,734.5 456.9,710.1 456.9,738.9 386.3,719.8 386.3,733.6 456.6,712.3 456.6,739.6 351.8,720.2 351.8,744.9 275.6,710.7 275.6,740.8 331.1,719.1 331.1,745.1 351.7,719.2 351.7,743.2 348.3,722.1 348.3,741.3 385.5,719.1 385.5,735.1 417.0,719.5 417.0,734.3 458.3,714.2 458.3,740.8 360.7,714.4 360.7,745.1 438.2,713.2 438.2,741.6 418.8,720.0 418.8,732.1 455.3,713.9 455.3,742.2 301.9,712.7 301.9,745.1 354.4,713.3 354.4,744.1 416.9,722.0 416.9,732.1 345.3,718.4 345.3,744.1 332.9,720.3 332.9,741.7 413.3,721.3 413.3,735.5 295.3,711.0 295.3,744.3 377.8,717.4 377.8,735.3 278.1,713.1 278.1,743.7 374.8,717.7 374.8,732.9 366.1,710.5 366.1,742.0 331.8,718.0 331.8,742.2 359.3,710.8 359.3,744.8 309.9,714.8 309.9,743.0 413.3,717.9 413.3,732.7 452.9,710.2 452.9,738.7 394.5,721.4 394.5,734.7 320.6,713.6 320.6,743.0 316.7,710.1 316.7,745.0 372.9,719.6 372.9,735.1 393.0,721.8 393.0,735.2 281.2,712.0 281.2,741.3 434.7,710.5 434.7,740.0 352.2,713.4 352.2,743.6 294.5,711.3 294.5,744.5 356.2,710.9 356.2,740.6 283.0,711.3 283.0,741.0 325.9,714.6 325.9,740.8 333.1,719.1 333.1,744.9 421.4,717.6 421.4,735.6 426.0,719.3 426.0,732.5 429.5,718.2 429.5,733.3 369.1,715.8 369.1,735.3 316.1,710.3 316.1,741.1 450.3,712.2 450.3,741.8 412.2,718.0 412.2,732.6 350.6,720.1 350.6,741.8 307.7,714.0 307.7,742.9 371.4,717.6 371.4,736.6 384.2,721.4 384.2,736.5 408.8,718.1 408.8,732.1 281.7,710.7 281.7,741.6 421.9,718.7 421.9,732.2 311.8,712.7 311.8,745.2 296.0,710.2 296.0,742.8 432.0,720.9 432.0,733.9 386.3,720.4 386.3,732.9 450.3,714.4 450.3,739.7 390.4,721.3 390.4,736.4 331.6,719.1 331.6,741.2 440.6,712.3 440.6,738.7 363.4,712.6 363.4,742.2 350.4,720.7 350.4,743.3 361.2,711.4 361.2,743.1 454.0,710.5 454.0,738.8 306.5,711.7 306.5,741.6 394.7,718.7 394.7,733.6 283.5,713.3 283.5,742.5 361.6,712.8 361.6,742.0 369.3,717.4 369.3,734.3 286.5,712.6 286.5,745.0 317.7,711.2 317.7,744.7 420.3,720.6 420.3,736.1 400.5,717.6 400.5,736.8 441.1,714.9 441.1,742.0 461.8,710.3 461.8,742.8 341.3,721.5 341.3,742.7 410.5,717.7 410.5,736.0 320.1,710.1 320.1,741.3 301.1,711.3 301.1,741.7 295.2,712.7 295.2,742.1 402.4,720.1 402.4,733.9 427.9,720.1 427.9,733.1 402.9,721.0 402.9,734.7 275.6,710.2 275.6,743.5 316.6,710.6 316.6,743.4 320.0,710.2 320.0,741.9 306.8,711.6 306.8,744.2 292.4,712.0 292.4,742.5 375.0,720.9 375.0,736.1 375.4,718.1 375.4,734.8 384.8,717.7 384.8,736.4 442.5,712.2 442.5,740.7 347.0,721.5 347.0,742.7 318.0,710.1 318.0,743.7 293.0,714.9 293.0,743.2 421.6,720.1 421.6,736.0 403.8,720.8 403.8,735.8 436.8,710.3 436.8,741.9 362.4,714.3 362.4,742.6 350.2,721.4 350.2,741.5 415.6,720.2 415.6,734.2 318.4,713.6 318.4,740.8 384.5,721.5 384.5,733.4 358.7,710.4 358.7,743.4 296.3,713.3 296.3,741.2 383.1,719.5 383.1,734.1 405.4,719.6 405.4,736.9 403.3,719.3 403.3,736.4 309.6,714.5 309.6,745.2 284.9,713.3 284.9,744.9 299.3,712.7 299.3,744.4 417.7,719.3 417.7,736.4 400.6,719.8 400.6,734.1 426.7,718.5 426.7,733.3 407.7,717.3 407.7,733.0 342.8,721.0 342.8,741.8 358.7,713.5 358.7,742.5 442.7,713.3 442.7,739.5 328.7,714.0 328.7,744.0 317.3,714.0 317.3,744.9 381.3,717.2 381.3,735.8 341.3,722.0 341.3,742.2 369.5,716.6 369.5,735.4 320.6,711.7 320.6,743.0 353.2,712.2 353.2,744.8 340.8,721.9 340.8,743.5 393.2,718.5 393.2,734.8 296.3,711.0 296.3,744.9 431.7,717.2 431.7,733.6 383.5,721.1 383.5,736.3 397.3,721.1 397.3,732.4 392.1,719.8 392.1,734.7 398.6,721.7 398.6,736.9 372.1,717.9 372.1,736.8 280.4,713.0 280.4,744.1 391.8,719.1 391.8,734.0 303.5,711.3 303.5,741.7 336.7,720.7 336.7,742.9 289.7,711.3 289.7,742.2 380.0,721.4 380.0,733.8 331.5,718.1 331.5,741.0 284.7,713.7 284.7,740.6 376.0,721.2 376.0,734.4 442.3,713.0 442.3,738.7 358.3,712.5 358.3,742.6 410.9,717.3 410.9,733.8 373.1,719.4 373.1,733.9 416.6,719.9 416.6,736.9 296.9,713.0 296.9,741.4 390.2,718.8 390.2,734.0 409.0,721.6 409.0,733.6 397.6,721.6 397.6,733.7 448.1,712.9 448.1,740.6 409.7,721.2 409.7,734.8 310.9,714.9 310.9,740.9 447.6,710.7 447.6,740.4 366.2,715.4 366.2,740.1 346.2,722.1 346.2,741.3 337.4,721.4 337.4,744.0 347.5,721.2 347.5,744.9 462.5,710.3 462.5,741.2 285.0,710.0 285.0,740.9 348.8,722.4 348.8,742.7 433.4,717.1 433.4,734.7 352.9,712.0 352.9,742.1 322.6,714.1 322.6,744.5 305.4,710.0 305.4,743.1 388.6,717.9 388.6,736.6 368.2,715.3 368.2,737.1 297.6,714.8 297.6,741.7 366.3,714.4 366.3,741.0 367.8,713.5 367.8,741.2 300.9,711.7 300.9,740.9 319.2,714.3 319.2,740.9 339.5,722.6 339.5,744.3 293.0,714.2 293.0,740.9 446.8,711.4 446.8,741.9 299.1,711.3 299.1,742.4 300.0,712.9 300.0,745.5 460.0,711.4 460.0,740.1 338.8,718.3 338.8,743.6 343.0,720.9 343.0,741.3 291.8,710.5 291.8,743.8 286.3,712.2 286.3,743.2 337.6,722.0 337.6,743.9 398.4,718.3 398.4,734.6 337.4,721.4 337.4,742.6 426.9,718.9 426.9,732.2 372.4,719.3 372.4,733.9 366.5,714.0 366.5,741.8 417.8,721.3 417.8,736.1 338.8,718.9 338.8,744.8 317.8,710.4 317.8,742.7 344.8,721.7 344.8,743.3 400.7,720.8 400.7,735.7 330.2,718.1 330.2,744.8 415.1,717.8 415.1,732.4 403.1,720.8 403.1,734.4 317.7,711.7 317.7,741.2 386.7,718.4 386.7,735.2 333.2,720.5 333.2,744.8 396.1,718.2 396.1,734.8 419.5,718.2 419.5,734.0 382.3,718.6 382.3,734.4 326.8,711.6 326.8,743.9 305.3,711.8 305.3,743.1 276.3,710.1 276.3,744.1 284.1,714.0 284.1,744.7 297.1,713.7 297.1,745.5 275.7,712.3 275.7,742.8 311.2,712.6 311.2,744.8 350.5,720.8 350.5,745.3 387.7,717.2 387.7,735.6 449.9,711.0 449.9,742.1 300.5,714.1 300.5,743.4 326.2,712.2 326.2,744.3 457.4,712.4 457.4,739.7 460.2,712.0 460.2,738.9 393.2,719.6 393.2,734.7 450.9,711.8 450.9,739.1 395.2,719.1 395.2,732.7 336.0,721.1 336.0,744.7 459.2,713.8 459.2,742.3 370.8,720.7 370.8,736.8 462.3,711.8 462.3,739.2 306.4,710.3 306.4,740.6 371.5,719.8 371.5,734.7 405.7,718.8 405.7,735.0 311.1,714.0 311.1,743.0 443.3,710.9 443.3,741.3 337.7,722.6 337.7,742.4 397.6,719.0 397.6,735.9 343.9,719.4 343.9,741.9 435.0,714.0 435.0,739.3 384.1,721.4 384.1,734.4 428.3,717.4 428.3,733.7 377.2,717.3 377.2,733.0 300.9,713.0 300.9,741.1 284.2,713.9 284.2,744.5 379.0,717.2 379.0,734.2 454.6,710.6 454.6,738.3 329.6,719.5 329.6,745.1 323.3,712.0 323.3,744.6 289.5,713.4 289.5,745.4 335.4,719.3 335.4,740.9 414.0,721.4 414.0,734.0 435.6,713.1 435.6,741.9 305.3,713.1 305.3,743.4 296.1,713.1 296.1,744.2 380.0,720.5 380.0,736.0 357.4,712.4 357.4,744.0 452.9,710.2 452.9,743.2 324.1,714.7 324.1,742.8 400.9,718.7 400.9,732.8 281.8,712.0 281.8,741.7 281.9,710.9 281.9,742.7 371.2,720.1 371.2,735.7 328.1,710.4 328.1,745.2 276.0,710.9 276.0,742.7 350.6,718.9 350.6,740.6 279.5,714.5 279.5,744.7 312.2,713.0 312.2,740.7 446.9,713.7 446.9,738.7 365.6,713.5 365.6,740.5 370.2,719.5 370.2,732.6 305.0,710.1 305.0,740.9 419.4,721.9 419.4,735.3 434.1,717.2 434.1,737.3 304.4,712.9 304.4,741.9 393.1,717.5 393.1,736.1 430.5,721.7 430.5,736.7 361.7,715.0 361.7,741.5 369.0,716.9 369.0,738.2 346.8,719.8 346.8,741.2 286.8,714.6 286.8,745.5 304.7,714.6 304.7,744.1 295.6,714.0 295.6,744.8 441.4,710.9 441.4,742.0 349.6,721.0 349.6,744.8 374.9,719.8 374.9,733.6 440.1,712.4 440.1,741.8 385.1,719.3 385.1,736.6 284.8,710.5 284.8,743.8 421.4,719.0 421.4,733.7 394.2,718.3 394.2,736.7 273.7,738.7 274.1,722.0 275.7,720.8 275.1,722.5 274.9,724.8 273.7,720.7 275.7,733.1 274.1,726.8 273.9,719.3 275.5,728.8 274.1,724.9 273.4,726.1 273.8,729.4 273.9,728.4 274.3,718.7 274.8,723.6 274.7,726.0 275.5,738.9 275.0,714.9 464.8,736.5 465.0,735.4 462.6,715.3 464.8,722.0 465.5,735.6 463.3,717.0 464.6,718.8 465.4,733.2 464.2,716.8 464.2,731.1 464.5,726.7 464.3,738.9 465.5,719.3 462.9,733.9 463.9,729.1 463.3,737.8 465.0,727.0 333.4,720.3 333.4,765.2 331.7,720.5 331.7,764.5 335.4,721.8 335.4,766.4 331.9,720.6 331.9,765.5 329.8,717.1 329.8,764.6 341.8,720.8 341.8,765.4 331.9,718.5 331.9,767.0 343.2,721.0 343.2,767.8 335.4,717.9 335.4,765.3 338.7,717.6 338.7,766.2 338.5,720.3 338.5,766.5 338.9,719.2 338.9,765.5 337.3,718.4 337.3,767.7 331.4,719.1 331.4,766.2 330.3,720.9 330.3,766.2 351.4,718.4 351.4,766.4 349.2,719.7 349.2,767.6 341.2,721.5 341.2,765.7 348.8,720.4 348.8,768.1 329.8,721.6 329.8,766.2 336.9,717.4 336.9,766.0 336.7,717.2 336.7,766.0 351.4,719.2 351.4,767.1 348.8,718.0 348.8,766.1 346.7,720.0 346.7,767.1 333.6,720.1 333.6,766.5 330.3,721.1 330.3,769.0 336.7,720.4 336.7,764.5 329.2,721.3 329.2,768.2 346.4,720.6 346.4,767.9 346.5,721.1 346.5,765.8 336.0,720.9 336.0,765.9 332.9,718.9 332.9,765.8 332.2,717.3 332.2,766.8 334.3,719.8 334.3,766.8 335.2,718.4 335.2,764.2 333.6,717.2 333.6,767.0 349.8,719.6 349.8,766.7 350.0,717.9 350.0,766.0 345.5,718.3 345.5,766.5 332.2,720.1 332.2,767.7 340.8,721.4 340.8,765.9 341.5,719.6 341.5,764.4 338.6,718.5 338.6,767.3 340.5,720.2 340.5,765.0 329.9,717.0 329.9,768.7 347.1,717.9 347.1,768.6 329.7,721.3 329.7,767.6 333.5,722.0 333.5,765.6 349.6,719.4 349.6,768.4 338.6,718.4 338.6,766.0 342.6,717.6 342.6,766.3 338.0,719.6 338.0,768.8 333.4,719.6 333.4,765.1 333.1,720.0 333.1,766.5 343.0,720.0 343.0,765.7 341.4,721.0 341.4,768.7 328.7,764.4 327.7,761.2 329.8,745.0 328.1,722.0 326.9,731.4 329.4,722.7 327.7,728.7 328.1,750.5 327.1,739.1 328.7,755.1 327.2,737.2 328.4,733.6 329.5,743.8 329.8,746.9 327.5,740.9 328.9,732.2 328.5,742.4 326.8,739.0 327.2,742.9 328.2,744.9 327.5,748.6 327.0,743.0 327.9,736.3 327.7,735.7 328.0,738.5 328.6,757.3 329.3,729.1 329.2,763.8 328.3,725.8 329.3,742.4 352.3,736.7 354.0,722.0 353.5,758.3 352.1,744.8 353.0,728.8 352.7,748.1 353.9,759.1 352.9,754.5 351.9,727.3 352.9,741.4 352.6,728.3 351.6,760.2 353.5,735.0 353.1,758.8 353.3,752.9 353.7,724.3 352.0,732.1 351.7,753.4 354.2,746.2 352.6,735.1 352.2,751.9 353.4,751.4 352.8,729.2 351.5,721.5 354.0,738.3 354.1,729.5 351.9,737.7 352.3,734.8 351.3,754.8 353.9,740.6 320.9,711.5 320.9,756.8 327.8,713.5 327.8,754.0 321.8,712.3 321.8,755.0 325.0,713.5 325.0,754.1 323.2,712.3 323.2,754.5 326.6,711.1 326.6,754.3 323.4,713.1 323.4,754.6 320.9,712.2 320.9,753.6 328.0,710.3 328.0,754.5 323.8,711.2 323.8,755.4 324.9,709.9 324.9,752.7 325.8,713.8 325.8,753.3 323.0,713.7 323.0,752.7 324.2,710.4 324.2,753.2 325.2,713.1 325.2,754.3 327.1,713.1 327.1,756.7 319.0,710.6 319.0,755.7 327.5,710.1 327.5,752.6 323.1,712.5 323.1,754.5 327.0,713.3 327.0,753.7 328.4,710.4 328.4,756.0 320.9,712.1 320.9,753.9 326.7,711.9 326.7,755.8 319.8,710.8 319.8,753.7 326.8,710.7 326.8,754.7 316.8,736.4 318.0,743.5 318.0,751.9 318.0,751.3 317.9,734.0 317.8,714.8 319.5,717.4 316.8,737.5 317.4,732.7 317.4,738.9 318.4,737.8 319.4,730.7 318.0,725.7 319.1,733.0 319.4,737.7 317.0,732.3 317.5,716.9 318.8,731.6 318.3,716.2 317.5,714.9 319.2,722.9 317.2,716.9 317.9,751.5 317.4,729.6 317.7,726.7 317.2,736.7 318.6,748.0 316.7,747.0 328.9,746.9 329.4,748.9 330.3,727.9 329.8,743.3 328.8,729.4 330.8,751.1 330.7,722.0 330.6,750.4 328.7,716.2 329.3,742.6 329.9,739.6 330.7,750.8 328.7,715.2 329.7,730.8 328.0,752.9 328.2,733.8 330.6,715.4 330.5,719.0 330.6,750.4 329.1,720.0 328.4,714.5 329.8,723.6 329.0,734.8 330.4,744.4 328.5,716.6 329.2,749.6 330.8,750.7 329.1,738.6 327.7,700.1 332.9,700.4 292.2,701.6 330.1,698.5 344.6,704.2 331.6,701.0 277.6,700.8 289.1,702.7 347.7,700.8 365.8,702.9 344.5,715.5 346.8,709.0 338.5,719.6 340.3,706.1 345.6,713.6 342.4,715.4 338.0,712.6 338.0,707.3 344.9,715.9 335.8,713.9 340.0,702.3 346.9,702.5 334.4,703.3 349.1,709.8 365.0,756.3 359.0,758.1 359.3,753.7 354.5,755.0 356.3,753.0 392.8,739.5 381.9,728.3 374.9,730.8 412.1,737.7 410.0,722.4 417.5,724.7 432.6,719.5 384.3,732.9 430.3,737.7 399.4,726.3 389.4,737.8 395.2,735.3 401.2,724.1 415.7,728.0 373.8,713.1 413.6,717.6 396.9,738.5 413.4,719.5 393.6,725.0 390.7,721.2 399.3,735.0 410.4,717.0 425.6,731.4 431.4,728.1 388.6,713.6 396.4,723.6 402.0,712.2 416.4,712.3 397.9,727.6 424.1,716.3 422.2,723.0 419.1,717.2 411.0,726.8 373.9,721.3 428.9,738.5 411.1,716.6 371.9,719.8 396.8,726.5 411.2,735.0 406.8,714.6 370.8,720.1 409.1,730.3 412.2,737.5 425.9,733.2 401.2,712.1 390.9,717.5 372.9,716.3 384.8,730.0 407.6,734.8 402.2,723.3 391.2,734.4 394.2,739.4 391.1,733.9 414.0,721.4 407.6,731.6 390.8,712.7 395.1,739.6 378.1,718.3 428.8,722.0 377.8,717.1 408.5,737.2 398.9,730.6 379.7,736.6 432.4,722.7 397.6,732.5 429.5,720.1 407.5,720.6 377.0,713.1 423.3,714.2 393.7,739.1 378.5,736.0 406.8,716.2 428.7,735.6 372.7,736.2 406.0,737.7 406.2,738.7 389.8,717.4 416.8,740.0 429.0,729.6 387.9,738.1 372.0,738.6 433.4,737.3 413.7,736.1 428.6,718.4 406.1,724.8 392.8,733.5 422.4,732.4 370.4,716.0 386.5,736.3 411.7,729.1 445.5,743.3 441.4,746.1 444.9,750.8 446.8,747.4 451.4,742.4 458.9,750.3 350.5,768.8 345.1,771.3 347.8,765.3 347.9,767.7 329.4,769.0 329.3,771.6 292.3,698.0 323.8,764.4 360.2,773.4 321.6,755.0 441.7,697.2 447.2,701.3 451.3,697.8 441.7,704.6 441.7,750.8 450.4,752.6 449.6,761.4 449.6,768.3 455.5,750.6 389.5,749.0 395.5,748.8 280.0,701.0 281.0,703.0" fill="none" stroke="none" marker-start="url(#md)" marker-mid="url(#md)" marker-end="url(#md)"/>
<path d="M276.2,706.6 C307.0,706.6 430.4,706.6 461.2,706.6" fill="none" stroke="#E41A1C" stroke-width="1.3" stroke-dasharray="4.2 3.3"/>
<path d="M276.2,711.6 C307.0,711.6 430.4,711.6 461.2,711.6" fill="none" stroke="#1F2FBF" stroke-width="1.3" stroke-dasharray="4.4 2.6 1 2.6"/>
<path d="M276.2,741.8 C307.0,741.8 430.4,741.8 461.2,741.8" fill="none" stroke="#1F2FBF" stroke-width="1.3" stroke-dasharray="4.4 2.6 1 2.6"/>
<path d="M276.2,746.6 C307.0,746.6 430.4,746.6 461.2,746.6" fill="none" stroke="#E41A1C" stroke-width="1.3" stroke-dasharray="4.2 3.3"/>
<path d="M276.2,721.7 C277.4,722.0 280.8,722.7 283.5,723.2 C286.2,723.7 289.4,724.2 292.3,724.6 C295.2,725.0 298.6,725.3 301.0,725.8 C303.4,726.2 304.9,726.4 306.9,727.3 C308.8,728.2 310.8,729.9 312.7,731.2 C314.6,732.5 316.7,733.7 318.6,734.9 C320.6,736.1 322.5,737.2 324.4,738.5 C326.3,739.8 328.2,741.4 330.2,742.4 C332.1,743.4 334.2,744.1 336.1,744.3 C338.1,744.5 339.9,743.9 341.9,743.6 C343.8,743.3 345.9,742.8 347.8,742.4 C349.8,742.0 351.7,741.6 353.6,741.4 C355.5,741.2 357.7,741.1 359.4,741.0 C361.1,740.9 362.7,741.2 363.8,740.7 C364.9,740.2 365.0,739.1 366.0,737.8 C367.0,736.5 368.6,734.5 370.0,732.7 C371.4,731.0 372.4,728.3 374.4,727.3 C376.3,726.3 378.8,726.9 381.7,726.8 C384.6,726.6 388.5,726.5 391.9,726.4 C395.3,726.3 398.5,726.2 402.1,726.1 C405.8,726.0 410.2,725.9 413.8,725.8 C417.4,725.7 421.1,725.6 424.0,725.4 C426.9,725.2 428.9,724.7 431.3,724.6 C433.7,724.5 435.9,724.5 438.6,724.6 C441.3,724.7 444.7,725.0 447.4,725.1 C450.1,725.2 452.4,725.4 454.7,725.4 C457.0,725.4 460.1,725.1 461.2,725.1" fill="none" stroke="#3E6CDB" stroke-width="3.4" stroke-linejoin="round"/>
<polygon points="504.2,726.0 515.9,726.0 515.9,737.8 504.2,737.8" fill="url(#qd)"/>
<polygon points="484.5,686.7 489.6,686.7 489.7,701.3 500.0,703.0 520.0,701.3 545.0,703.0 575.0,703.0 580.0,711.5 644.2,711.5 644.3,701.3 655.9,701.3 656.0,688.1 670.5,688.1 670.5,740.7 656.0,740.7 655.9,736.3 644.3,736.3 644.2,742.2 580.0,742.2 575.0,743.6 545.0,743.6 520.0,743.6 500.0,743.6 489.7,743.6 489.6,743.6 484.5,743.6" fill="url(#qd)"/>
<polygon points="484.5,714.0 489.6,714.0 489.7,714.0 500.0,714.0 520.0,714.0 545.0,714.0 575.0,714.0 580.0,714.0 644.2,714.0 644.3,714.0 655.9,714.0 656.0,714.0 670.5,714.0 670.5,740.7 656.0,740.7 655.9,736.3 644.3,736.3 644.2,742.0 580.0,742.0 575.0,742.0 545.0,742.0 520.0,742.0 500.0,742.0 489.7,742.0 489.6,742.0 484.5,742.0" fill="url(#pd)"/>
<polygon points="656.0,690.0 670.5,690.0 670.5,740.0 656.0,740.0" fill="url(#pd)"/>
<polygon points="644.3,702.0 655.9,702.0 655.9,736.0 644.3,736.0" fill="url(#pd)"/>
<path d="M609.0,712.5 609.0,745.6 565.4,713.8 565.4,742.8 669.6,714.4 669.6,743.0 569.1,713.3 569.1,741.1 538.9,710.0 538.9,745.4 630.3,711.8 630.3,742.3 670.2,712.4 670.2,739.9 551.8,713.6 551.8,744.6 631.8,711.5 631.8,744.5 668.2,714.7 668.2,744.4 628.9,712.3 628.9,743.8 489.8,711.9 489.8,744.0 563.2,710.7 563.2,743.4 601.9,711.8 601.9,742.2 629.5,712.1 629.5,741.6 634.4,710.4 634.4,743.4 553.0,714.5 553.0,744.7 547.5,713.2 547.5,742.1 617.4,714.8 617.4,741.0 563.6,713.0 563.6,745.4 495.6,713.2 495.6,744.6 507.7,710.6 507.7,741.8 565.0,712.9 565.0,741.7 568.8,712.8 568.8,743.9 625.1,712.6 625.1,743.9 531.1,714.4 531.1,743.9 569.4,712.6 569.4,745.1 541.4,710.8 541.4,744.4 543.8,710.6 543.8,745.9 646.3,713.1 646.3,736.4 489.9,713.9 489.9,744.7 544.0,711.5 544.0,745.1 556.2,714.5 556.2,744.0 504.2,712.8 504.2,743.6 508.7,710.4 508.7,742.9 613.1,712.7 613.1,745.6 486.0,713.4 486.0,745.1 497.5,711.6 497.5,745.3 516.3,712.3 516.3,742.4 558.5,714.8 558.5,743.2 508.2,713.3 508.2,744.4 492.0,713.5 492.0,741.1 485.1,713.7 485.1,745.4 485.4,713.0 485.4,741.3 498.0,714.6 498.0,742.0 655.3,710.1 655.3,735.6 643.4,713.8 643.4,744.6 525.9,711.9 525.9,742.9 546.5,711.1 546.5,743.8 494.0,711.1 494.0,743.8 602.1,713.0 602.1,743.2 623.1,714.5 623.1,745.8 603.5,713.9 603.5,742.4 578.6,713.0 578.6,744.3 667.7,710.7 667.7,744.4 522.6,712.4 522.6,741.1 515.8,711.3 515.8,744.8 495.3,710.6 495.3,743.0 558.3,710.9 558.3,745.7 570.7,713.3 570.7,745.2 485.7,711.0 485.7,742.7 624.7,712.2 624.7,743.2 586.9,713.5 586.9,743.2 666.6,712.4 666.6,742.7 599.1,710.7 599.1,742.1 624.1,710.7 624.1,741.6 569.8,712.3 569.8,745.4 599.3,711.1 599.3,743.6 613.2,713.6 613.2,745.4 548.5,714.2 548.5,743.6 666.6,715.0 666.6,741.8 504.0,710.8 504.0,744.4 650.0,713.2 650.0,738.9 612.4,711.4 612.4,743.8 528.7,714.0 528.7,745.5 578.4,711.5 578.4,742.3 660.0,712.2 660.0,739.9 643.7,713.3 643.7,745.6 611.4,714.2 611.4,742.8 572.5,711.3 572.5,741.0 521.7,711.0 521.7,743.1 518.8,711.8 518.8,741.3 487.2,710.6 487.2,744.5 521.8,710.0 521.8,745.8 624.6,713.6 624.6,742.0 499.4,713.9 499.4,741.6 652.0,713.0 652.0,740.2 577.3,712.1 577.3,745.5 541.9,714.2 541.9,745.7 620.4,713.4 620.4,742.2 540.7,712.2 540.7,745.6 627.8,712.4 627.8,741.1 617.0,713.2 617.0,744.4 555.9,711.8 555.9,742.3 619.3,711.0 619.3,741.9 649.7,712.7 649.7,739.6 666.9,711.1 666.9,740.2 491.8,710.7 491.8,744.7 617.3,711.9 617.3,741.5 584.1,714.4 584.1,745.6 579.7,714.7 579.7,741.8 601.5,712.8 601.5,742.0 581.6,711.3 581.6,744.2 618.1,710.4 618.1,741.1 569.1,713.6 569.1,745.6 617.8,713.2 617.8,741.6 626.3,711.1 626.3,744.3 608.6,714.8 608.6,743.0 595.2,712.7 595.2,742.9 586.6,712.9 586.6,741.7 618.7,710.7 618.7,742.1 606.6,712.4 606.6,741.3 524.5,711.8 524.5,744.5 647.6,712.4 647.6,735.8 524.0,713.2 524.0,742.1 646.9,713.1 646.9,739.8 568.6,710.3 568.6,744.7 600.1,711.7 600.1,743.9 529.2,713.8 529.2,745.3 619.1,713.4 619.1,745.0 572.9,712.1 572.9,744.3 499.1,712.8 499.1,743.7 512.2,711.8 512.2,744.2 587.1,714.2 587.1,741.8 640.6,713.7 640.6,741.6 495.1,714.0 495.1,741.5 647.3,712.0 647.3,739.5 530.6,714.9 530.6,744.7 516.2,711.7 516.2,744.4 596.0,713.5 596.0,743.5 557.1,714.0 557.1,745.7 528.1,711.7 528.1,744.0 621.7,713.6 621.7,745.9 617.8,712.7 617.8,741.8 560.4,712.4 560.4,742.6 608.7,714.1 608.7,742.5 577.7,712.2 577.7,742.3 522.4,712.4 522.4,742.4 598.7,710.9 598.7,741.3 659.8,713.0 659.8,741.6 556.2,712.2 556.2,742.7 667.2,710.2 667.2,743.4 502.8,713.5 502.8,744.5 520.4,714.8 520.4,741.9 667.2,711.0 667.2,741.7 503.1,711.8 503.1,746.0 594.4,713.9 594.4,742.0 668.3,712.3 668.3,741.1 515.0,714.8 515.0,742.6 639.5,714.9 639.5,742.9 555.6,712.1 555.6,741.2 513.7,714.6 513.7,741.2 520.6,714.8 520.6,743.8 581.5,710.4 581.5,742.4 653.4,712.3 653.4,738.1 546.0,712.1 546.0,744.7 646.6,713.5 646.6,737.8 594.2,713.8 594.2,742.7 577.2,712.6 577.2,744.6 517.8,712.3 517.8,745.1 597.2,714.9 597.2,742.0 575.2,713.6 575.2,741.9 593.8,712.8 593.8,744.2 661.9,713.5 661.9,744.5 538.4,712.7 538.4,741.2 492.2,710.3 492.2,745.5 642.1,711.0 642.1,744.8 599.3,711.0 599.3,743.6 652.1,712.1 652.1,739.5 493.9,711.2 493.9,745.1 615.2,711.3 615.2,742.6 578.9,714.1 578.9,743.5 553.0,710.1 553.0,743.5 509.7,714.0 509.7,745.6 599.6,713.3 599.6,741.5 532.7,713.4 532.7,745.0 509.1,711.8 509.1,744.1 617.9,712.8 617.9,742.9 582.0,714.0 582.0,743.4 497.1,712.7 497.1,745.8 638.9,711.1 638.9,744.4 628.9,715.0 628.9,744.2 602.3,710.4 602.3,742.8 617.3,711.9 617.3,741.9 642.1,714.6 642.1,744.7 601.3,712.5 601.3,743.4 492.8,713.3 492.8,744.4 559.0,710.4 559.0,745.4 596.6,714.5 596.6,742.4 550.9,710.5 550.9,743.8 580.3,711.6 580.3,742.6 520.0,714.4 520.0,745.0 619.6,712.9 619.6,742.6 575.5,713.6 575.5,745.3 487.6,710.1 487.6,745.8 537.2,712.1 537.2,745.2 638.1,711.0 638.1,743.7 498.2,711.9 498.2,742.6 617.5,710.4 617.5,744.3 563.0,712.6 563.0,741.9 586.3,714.7 586.3,743.5 525.4,712.1 525.4,742.0 597.0,711.9 597.0,746.0 485.9,713.0 485.9,743.0 518.1,711.2 518.1,745.8 558.3,713.9 558.3,743.2 588.0,714.8 588.0,741.6 619.1,712.3 619.1,744.2 496.5,713.7 496.5,741.8 582.4,714.4 582.4,744.4 524.5,712.6 524.5,744.1 489.8,713.7 489.8,745.4 501.5,713.0 501.5,742.0 659.0,712.8 659.0,743.1 589.3,712.2 589.3,744.6 488.6,712.2 488.6,745.9 533.8,712.5 533.8,745.0 619.7,711.7 619.7,746.0 563.7,711.6 563.7,744.2 610.7,713.1 610.7,743.1 494.4,713.1 494.4,742.9 501.8,713.4 501.8,744.6 491.3,714.0 491.3,744.1 652.4,710.8 652.4,736.7 598.7,712.3 598.7,744.7 622.5,713.5 622.5,741.6 575.4,714.7 575.4,744.8 492.5,710.2 492.5,741.8 556.8,714.4 556.8,744.1 653.9,712.3 653.9,735.8 624.5,711.1 624.5,744.1 515.7,710.1 515.7,743.0 561.4,714.2 561.4,743.3 621.7,713.3 621.7,744.5 516.1,711.4 516.1,745.8 663.2,713.1 663.2,743.2 512.0,714.8 512.0,745.6 591.1,710.2 591.1,745.2 529.1,713.7 529.1,742.2 606.7,711.3 606.7,743.3 531.9,713.9 531.9,742.5 639.0,714.7 639.0,745.2 655.5,711.8 655.5,739.1 665.3,712.0 665.3,742.7 669.9,713.1 669.9,743.1 531.6,711.9 531.6,745.4 583.7,715.0 583.7,745.3 627.3,710.5 627.3,745.3 538.8,710.3 538.8,745.8 610.2,710.6 610.2,742.0 546.0,714.3 546.0,744.5 552.5,710.6 552.5,743.1 639.8,712.7 639.8,743.8 666.2,714.7 666.2,743.6 563.5,711.0 563.5,742.8 658.2,712.9 658.2,741.0 544.9,711.5 544.9,741.9 629.1,713.7 629.1,741.4 488.8,712.7 488.8,742.0 505.4,714.7 505.4,741.5 632.9,713.1 632.9,742.4 587.5,711.5 587.5,742.8 521.2,710.3 521.2,745.3 573.7,711.7 573.7,745.6 624.8,714.5 624.8,746.0 531.0,710.5 531.0,743.8 521.2,712.9 521.2,744.6 633.4,714.2 633.4,741.7 505.5,712.0 505.5,742.7 555.5,711.0 555.5,742.6 589.8,711.5 589.8,744.1 561.2,711.6 561.2,743.3 567.1,711.9 567.1,742.2 498.3,711.9 498.3,741.3 564.7,713.2 564.7,744.6 547.5,711.4 547.5,741.5 494.7,710.9 494.7,744.4 568.0,713.9 568.0,743.1 651.4,710.2 651.4,739.9 544.8,710.3 544.8,743.8 548.6,711.3 548.6,744.5 486.9,712.9 486.9,744.0 637.0,710.2 637.0,742.3 497.6,710.6 497.6,742.8 578.9,713.6 578.9,741.4 586.2,714.6 586.2,744.7 666.9,713.8 666.9,740.4 604.4,713.7 604.4,742.8 664.1,712.3 664.1,743.2 539.6,711.8 539.6,745.3 598.0,714.9 598.0,741.8 533.3,713.2 533.3,743.1 631.9,712.4 631.9,745.1 556.5,714.9 556.5,744.4 497.9,713.9 497.9,745.9 566.9,710.0 566.9,745.2 643.8,712.2 643.8,742.8 651.4,712.3 651.4,739.6 533.1,712.9 533.1,745.3 500.1,714.1 500.1,742.6 508.3,711.4 508.3,745.9 584.0,713.0 584.0,745.1 567.5,712.5 567.5,743.1 660.5,714.7 660.5,742.7 638.3,713.5 638.3,742.6 669.5,710.7 669.5,742.8 625.8,714.5 625.8,744.7 641.4,713.9 641.4,745.4 608.8,711.2 608.8,744.3 564.6,713.1 564.6,744.1 647.7,713.9 647.7,738.7 615.9,713.4 615.9,744.7 646.1,713.2 646.1,737.6 621.8,710.7 621.8,742.9 589.1,712.8 589.1,743.6 644.6,712.6 644.6,739.5 570.6,711.3 570.6,741.8 605.9,712.2 605.9,746.0 548.1,714.2 548.1,742.1 619.2,714.8 619.2,745.2 560.2,710.7 560.2,744.3 635.8,713.7 635.8,745.1 486.9,712.9 486.9,745.5 522.0,712.9 522.0,743.2 488.6,714.6 488.6,742.6 505.1,711.7 505.1,746.0 619.3,712.9 619.3,742.5 630.4,712.1 630.4,742.4 620.3,712.7 620.3,746.0 639.3,711.1 639.3,743.2 502.3,711.0 502.3,745.6 609.6,711.0 609.6,743.1 510.7,711.1 510.7,744.6 633.3,712.7 633.3,743.6 638.4,714.2 638.4,741.9 611.8,712.8 611.8,741.7 670.1,712.8 670.1,743.6 627.6,710.3 627.6,744.6 632.6,713.1 632.6,745.0 599.1,713.6 599.1,744.9 504.6,711.8 504.6,745.6 667.4,710.8 667.4,743.0 508.9,710.5 508.9,742.1 598.4,711.9 598.4,744.3 589.9,714.2 589.9,745.1 514.9,715.0 514.9,743.8 587.3,712.7 587.3,742.8 586.9,711.7 586.9,745.2 560.1,713.1 560.1,742.3 602.3,711.4 602.3,742.6 668.3,712.9 668.3,741.1 622.2,713.9 622.2,741.2 485.3,711.7 485.3,744.1 624.4,713.5 624.4,742.2 670.3,711.8 670.3,742.4 543.8,714.5 543.8,742.0 585.6,710.8 585.6,745.0 582.2,710.2 582.2,745.8 559.6,714.5 559.6,741.5 650.1,711.6 650.1,740.1 545.5,713.5 545.5,744.7 508.2,713.4 508.2,745.5 660.2,713.7 660.2,744.0 507.7,710.1 507.7,745.1 624.2,712.3 624.2,743.1 489.1,713.3 489.1,741.8 611.8,711.3 611.8,741.6 655.9,710.8 655.9,738.6 501.7,711.4 501.7,743.3 650.1,714.6 650.1,737.8 647.9,713.7 647.9,738.2 588.4,711.2 588.4,741.3 632.5,710.4 632.5,746.0 620.0,713.9 620.0,743.0 617.4,711.2 617.4,741.9 603.7,714.5 603.7,745.3 528.3,710.5 528.3,741.9 513.6,712.6 513.6,743.6 585.2,711.2 585.2,742.5 651.1,711.4 651.1,737.5 541.6,711.4 541.6,744.8 524.1,710.7 524.1,741.1 524.2,712.0 524.2,742.8 593.1,712.6 593.1,742.0 519.3,710.0 519.3,741.9 630.2,712.8 630.2,744.8 597.4,714.6 597.4,745.5 659.5,714.4 659.5,742.5 615.4,714.2 615.4,742.9 505.2,710.6 505.2,743.1 533.8,713.1 533.8,745.2 493.5,713.6 493.5,745.0 631.4,711.0 631.4,742.6 494.7,713.3 494.7,745.2 661.5,713.7 661.5,743.9 534.3,710.5 534.3,742.6 564.3,715.0 564.3,744.0 492.7,714.7 492.7,744.5 531.9,710.9 531.9,745.8 508.9,712.5 508.9,745.7 564.0,714.9 564.0,744.0 574.8,710.4 574.8,741.3 617.4,710.2 617.4,742.8 543.1,712.1 543.1,741.5 668.1,712.8 668.1,743.8 487.3,713.2 487.3,742.8 557.8,713.8 557.8,745.1 529.8,712.8 529.8,743.8 584.9,712.5 584.9,743.8 613.5,712.8 613.5,745.1 578.8,713.5 578.8,741.1 555.2,714.3 555.2,743.4 558.0,710.9 558.0,741.5 520.0,712.3 520.0,741.4 641.8,710.8 641.8,743.0 540.2,712.8 540.2,744.0 486.3,710.6 486.3,743.5 501.3,713.7 501.3,742.1 510.1,714.7 510.1,742.2 606.4,712.1 606.4,741.4 663.1,710.2 663.1,742.0 617.7,711.5 617.7,743.9 646.4,712.3 646.4,739.0 651.8,712.2 651.8,737.6 624.6,713.3 624.6,741.8 651.7,713.2 651.7,737.2 530.9,711.7 530.9,744.7 659.8,710.5 659.8,741.3 591.2,713.0 591.2,742.4 543.4,710.4 543.4,742.4 499.1,712.1 499.1,745.3 607.6,712.6 607.6,741.3 537.2,713.0 537.2,744.2 586.2,710.2 586.2,743.9 485.4,712.8 485.4,743.3 560.7,712.0 560.7,741.9 484.6,712.4 484.6,741.1 588.5,710.9 588.5,742.4 560.4,713.0 560.4,745.7 485.4,710.2 485.4,742.9 600.0,714.3 600.0,744.0 563.4,714.8 563.4,742.2 523.2,712.9 523.2,744.8 662.6,712.6 662.6,744.3 602.5,714.6 602.5,741.4 509.0,713.6 509.0,743.1 534.6,711.9 534.6,743.8 488.3,714.1 488.3,743.4 507.5,714.0 507.5,743.1 509.1,711.8 509.1,743.9 660.3,712.3 660.3,741.5 589.7,712.7 589.7,742.3 600.8,713.9 600.8,744.8 525.3,711.6 525.3,741.3 522.3,712.2 522.3,745.5 610.2,713.1 610.2,745.0 508.1,712.1 508.1,741.0 559.1,710.5 559.1,742.1 651.2,711.3 651.2,735.5 583.1,712.8 583.1,744.3 550.8,714.6 550.8,744.5 497.7,713.6 497.7,741.8 605.4,711.1 605.4,741.8 494.9,710.5 494.9,743.8 608.5,711.6 608.5,744.6 483.8,730.4 483.3,724.8 484.9,722.5 483.5,718.3 484.1,731.7 485.1,725.2 483.8,730.4 483.6,724.2 485.0,717.3 484.9,740.9 484.0,739.1 484.3,724.9 484.2,738.2 485.3,728.6 482.7,718.2 482.6,723.8 484.4,732.0 484.3,719.0 483.1,730.5 671.6,718.0 671.7,732.1 670.7,722.9 669.8,715.0 670.7,733.9 672.6,728.2 671.0,731.2 670.8,736.4 671.2,716.3 670.9,735.4 672.2,721.4 669.7,729.8 671.7,737.6 671.6,734.8 671.9,729.1 670.8,737.1 672.2,739.2 671.7,725.7 663.8,688.7 663.8,742.0 665.2,686.8 665.2,743.3 668.4,689.0 668.4,740.8 665.0,689.8 665.0,744.0 670.2,686.3 670.2,739.2 663.2,689.4 663.2,740.6 662.0,688.4 662.0,742.9 664.3,689.8 664.3,743.9 662.3,687.6 662.3,739.7 661.4,688.6 661.4,742.1 657.0,689.4 657.0,743.3 661.2,687.8 661.2,741.3 659.4,687.0 659.4,739.5 666.8,686.9 666.8,739.4 666.9,690.8 666.9,740.3 661.5,686.9 661.5,739.5 669.0,689.4 669.0,743.2 661.2,690.1 661.2,741.2 662.3,689.1 662.3,741.3 668.0,690.2 668.0,742.1 664.8,690.7 664.8,739.1 664.6,688.6 664.6,742.4 659.0,687.8 659.0,740.5 664.8,690.4 664.8,743.9 664.6,691.0 664.6,742.8 666.9,689.2 666.9,740.4 657.1,686.6 657.1,742.8 661.8,687.4 661.8,742.6 658.7,690.7 658.7,742.6 669.4,688.8 669.4,741.9 656.3,687.0 656.3,740.1 668.5,688.1 668.5,740.5 664.8,690.5 664.8,743.5 662.8,690.8 662.8,741.8 668.1,690.9 668.1,739.7 665.2,687.1 665.2,740.9 654.0,725.3 654.8,715.6 655.7,730.4 656.1,705.8 654.6,708.1 653.9,728.1 656.2,730.6 655.3,705.2 654.1,694.3 655.0,735.2 654.1,710.5 656.6,733.8 656.1,719.6 656.7,725.2 653.8,695.0 654.5,693.4 656.1,707.8 654.9,726.2 655.5,711.4 656.5,715.2 655.1,701.7 654.9,739.1 656.2,720.5 655.1,739.2 655.3,717.0 654.6,709.2 654.9,709.6 655.7,696.6 654.4,712.8 655.8,709.6 656.7,720.5 656.3,703.5 654.0,708.7 653.9,728.1 656.5,729.4 670.5,691.7 671.8,736.8 672.3,724.3 671.1,711.1 671.2,700.9 671.3,709.9 670.6,735.7 670.2,728.6 671.5,699.8 671.4,699.2 672.2,703.4 671.2,706.2 672.7,696.5 671.4,737.3 670.2,709.7 672.6,690.0 671.2,726.3 670.3,704.2 670.5,713.8 671.3,721.5 672.6,735.5 670.3,728.1 670.0,722.3 672.6,690.4 670.7,732.7 671.3,697.8 671.3,732.5 671.3,715.3 672.1,733.8 672.3,715.4 670.3,693.8 672.6,719.6 672.5,713.0 670.9,735.0 672.3,719.7 649.7,700.5 649.7,735.5 647.7,700.6 647.7,735.6 645.7,698.6 645.7,737.6 646.5,702.6 646.5,737.7 651.6,702.5 651.6,739.4 653.0,702.2 653.0,735.8 650.0,702.8 650.0,735.3 649.2,702.9 649.2,736.6 650.7,701.9 650.7,739.5 648.9,700.7 648.9,739.2 655.3,699.6 655.3,735.0 644.6,701.7 644.6,739.6 650.4,700.9 650.4,737.8 651.3,698.4 651.3,739.8 655.7,702.0 655.7,738.9 654.9,701.8 654.9,736.9 647.6,701.2 647.6,738.9 644.6,699.4 644.6,736.2 646.8,701.5 646.8,739.1 645.9,699.5 645.9,738.4 650.4,701.3 650.4,739.2 647.0,700.1 647.0,736.8 653.5,702.1 653.5,735.2 653.0,702.3 653.0,735.9 648.3,700.8 648.3,737.8 646.3,700.3 646.3,739.3 645.4,701.4 645.4,738.1 646.2,701.4 646.2,737.4 648.6,698.6 648.6,737.9 643.3,711.4 642.4,716.5 644.0,702.3 643.9,717.7 645.0,735.8 644.9,719.3 643.6,728.6 644.7,731.1 643.4,702.9 643.0,722.7 644.2,709.1 644.9,732.3 643.3,713.5 643.9,730.8 643.7,707.0 642.5,734.3 644.8,722.8 643.5,730.6 644.9,714.3 643.3,719.8 642.1,727.6 643.3,705.8 644.6,713.5 656.8,735.8 655.3,710.4 655.3,710.1 655.6,735.0 655.3,725.3 656.3,712.5 656.3,734.5 656.8,726.9 657.1,709.1 655.7,718.6 657.5,703.6 655.8,725.9 655.7,721.8 655.4,728.8 657.2,711.1 656.5,726.2 657.1,724.7 656.8,722.1 657.5,733.3 657.1,718.4 656.8,703.4 657.5,712.4 655.7,704.1 516.9,695.5 510.2,694.5 512.9,690.1 512.4,699.3 521.1,700.3 551.3,700.5 492.0,697.4 507.8,692.4 513.3,691.3 560.7,697.4 565.3,696.4 540.6,694.7 567.8,691.9 543.7,697.8 494.2,696.1 565.3,697.9 573.1,692.0 562.6,689.9 488.8,696.0 527.3,692.1 532.6,752.2 546.5,748.5 506.5,749.3 563.6,754.8 571.5,752.0 522.3,746.4 553.6,750.9 488.7,753.7 490.1,751.1 541.5,754.5 604.0,699.2 621.9,697.5 639.6,702.9 643.9,705.5 614.6,709.5 581.6,709.3 585.4,709.1 588.1,709.7 599.4,700.8 619.4,697.4 581.4,697.3 628.7,708.8 631.0,745.9 610.0,751.2 636.2,752.9 637.4,754.0 584.9,755.4 643.6,743.7 608.1,754.8 614.8,745.8 619.0,744.2 635.1,749.8 603.4,758.1 611.3,750.3 585.5,750.7 586.5,753.0 619.7,754.8 657.2,745.8 662.7,766.7 667.0,758.5 669.1,756.4 664.5,746.2 669.7,763.9 658.2,754.5 663.6,761.6 512.8,732.8 510.4,737.8 512.2,726.7 511.6,731.0 514.4,730.1 512.1,728.4 493.4,753.2 518.0,689.3 537.3,689.3 574.4,758.3 613.5,691.8 643.0,682.3 636.4,693.2 640.7,693.3 611.1,766.0 611.1,756.0 618.5,756.0 630.8,757.3 638.4,761.0 638.4,762.8 668.6,767.2 668.6,757.3" fill="none" stroke="none" marker-start="url(#md)" marker-mid="url(#md)" marker-end="url(#md)"/>
<path d="M484.5,706.5 C515.5,706.5 639.5,706.5 670.5,706.5" fill="none" stroke="#E41A1C" stroke-width="1.3" stroke-dasharray="4.2 3.3"/>
<path d="M484.5,711.5 C515.5,711.5 639.5,711.5 670.5,711.5" fill="none" stroke="#1F2FBF" stroke-width="1.3" stroke-dasharray="4.4 2.6 1 2.6"/>
<path d="M484.5,741.7 C515.5,741.7 639.5,741.7 670.5,741.7" fill="none" stroke="#1F2FBF" stroke-width="1.3" stroke-dasharray="4.4 2.6 1 2.6"/>
<path d="M484.5,746.5 C515.5,746.5 639.5,746.5 670.5,746.5" fill="none" stroke="#E41A1C" stroke-width="1.3" stroke-dasharray="4.2 3.3"/>
<path d="M484.5,718.1 C485.6,718.2 489.0,718.5 491.1,718.5 C493.2,718.5 495.0,718.5 496.9,718.1 C498.8,717.7 500.6,716.5 502.7,715.9 C504.8,715.3 507.2,714.8 509.3,714.7 C511.4,714.6 513.0,714.7 515.1,715.1 C517.2,715.5 519.1,716.6 521.7,717.3 C524.3,718.0 527.8,718.8 530.5,719.5 C533.2,720.2 535.6,720.7 537.8,721.4 C540.0,722.1 541.6,723.2 543.6,723.9 C545.6,724.6 547.3,725.4 549.5,725.8 C551.7,726.2 554.1,726.3 556.8,726.4 C559.5,726.5 562.5,726.2 565.5,726.1 C568.5,726.0 572.6,725.8 575.0,725.8 C577.4,725.8 577.7,725.8 580.0,725.8 C582.3,725.8 585.9,726.0 588.8,726.1 C591.7,726.2 594.7,726.0 597.5,726.1 C600.3,726.2 603.1,726.3 605.5,726.8 C607.9,727.3 609.8,728.4 612.1,729.0 C614.4,729.6 616.7,729.9 619.4,730.2 C622.1,730.5 625.5,730.8 628.2,730.8 C630.9,730.8 633.3,730.8 635.5,730.5 C637.7,730.2 639.6,730.3 641.3,729.3 C643.0,728.3 644.2,726.2 645.7,724.6 C647.2,723.0 648.6,721.1 650.1,719.5 C651.6,717.9 652.9,716.2 654.5,715.1 C656.1,714.0 657.9,713.6 659.6,713.0 C661.3,712.4 662.9,711.9 664.7,711.5 C666.5,711.1 669.5,710.7 670.5,710.5" fill="none" stroke="#3E6CDB" stroke-width="3.4" stroke-linejoin="round"/>
<rect x="60.0" y="5.4" width="203.6" height="16.8" fill="#fff" stroke="#333" stroke-width="1"/>
<text x="161.8" y="18.2" font-size="12.0" text-anchor="middle" font-weight="bold" fill="#1A1A1A" textLength="30.5" lengthAdjust="spacingAndGlyphs">chr04</text>
<rect x="268.1" y="5.4" width="203.7" height="16.8" fill="#fff" stroke="#333" stroke-width="1"/>
<text x="370.0" y="18.2" font-size="12.0" text-anchor="middle" font-weight="bold" fill="#1A1A1A" textLength="30.5" lengthAdjust="spacingAndGlyphs">chr11</text>
<rect x="476.3" y="5.4" width="203.6" height="16.8" fill="#fff" stroke="#333" stroke-width="1"/>
<text x="578.1" y="18.2" font-size="12.0" text-anchor="middle" font-weight="bold" fill="#1A1A1A" textLength="30.5" lengthAdjust="spacingAndGlyphs">chr14</text>
<text x="1.2" y="17.8" font-size="19.0" text-anchor="start" font-weight="bold" fill="#000" textLength="9.4" lengthAdjust="spacingAndGlyphs">a</text>
<path d="M60,22.3V109.4H263.6M268.1,109.4H471.8M476.3,109.4H679.9" fill="none" stroke="#333333" stroke-width="1.1"/>
<path d="M57.3,26.8H60" stroke="#333333" stroke-width="1"/>
<text x="56.2" y="29.4" font-size="7.2" text-anchor="end" font-weight="bold" fill="#555">1.00</text>
<path d="M57.3,46.5H60" stroke="#333333" stroke-width="1"/>
<text x="56.2" y="49.1" font-size="7.2" text-anchor="end" font-weight="bold" fill="#555">0.75</text>
<path d="M57.3,66.2H60" stroke="#333333" stroke-width="1"/>
<text x="56.2" y="68.8" font-size="7.2" text-anchor="end" font-weight="bold" fill="#555">0.50</text>
<path d="M57.3,85.9H60" stroke="#333333" stroke-width="1"/>
<text x="56.2" y="88.5" font-size="7.2" text-anchor="end" font-weight="bold" fill="#555">0.25</text>
<path d="M57.3,105.6H60" stroke="#333333" stroke-width="1"/>
<text x="56.2" y="108.2" font-size="7.2" text-anchor="end" font-weight="bold" fill="#555">0.00</text>
<path d="M69.4,109.4V111.7" stroke="#333333" stroke-width="1"/>
<text x="66.9" y="119.1" font-size="7.2" text-anchor="middle" font-weight="bold" fill="#555">0</text>
<path d="M111.8,109.4V111.7" stroke="#333333" stroke-width="1"/>
<text x="109.9" y="119.1" font-size="7.2" text-anchor="middle" font-weight="bold" fill="#555">5</text>
<path d="M154.2,109.4V111.7" stroke="#333333" stroke-width="1"/>
<text x="149.8" y="119.1" font-size="7.2" text-anchor="middle" font-weight="bold" fill="#555">10</text>
<path d="M196.5,109.4V111.7" stroke="#333333" stroke-width="1"/>
<text x="192.2" y="119.1" font-size="7.2" text-anchor="middle" font-weight="bold" fill="#555">15</text>
<path d="M238.9,109.4V111.7" stroke="#333333" stroke-width="1"/>
<text x="234.6" y="119.1" font-size="7.2" text-anchor="middle" font-weight="bold" fill="#555">20</text>
<path d="M277.4,109.4V111.7" stroke="#333333" stroke-width="1"/>
<text x="275.3" y="119.1" font-size="7.2" text-anchor="middle" font-weight="bold" fill="#555">0</text>
<path d="M343.7,109.4V111.7" stroke="#333333" stroke-width="1"/>
<text x="341.5" y="119.1" font-size="7.2" text-anchor="middle" font-weight="bold" fill="#555">5</text>
<path d="M410.0,109.4V111.7" stroke="#333333" stroke-width="1"/>
<text x="405.8" y="119.1" font-size="7.2" text-anchor="middle" font-weight="bold" fill="#555">10</text>
<path d="M485.5,109.4V111.7" stroke="#333333" stroke-width="1"/>
<text x="483.3" y="119.1" font-size="7.2" text-anchor="middle" font-weight="bold" fill="#555">0</text>
<path d="M544.1,109.4V111.7" stroke="#333333" stroke-width="1"/>
<text x="542.2" y="119.1" font-size="7.2" text-anchor="middle" font-weight="bold" fill="#555">5</text>
<path d="M602.8,109.4V111.7" stroke="#333333" stroke-width="1"/>
<text x="598.7" y="119.1" font-size="7.2" text-anchor="middle" font-weight="bold" fill="#555">10</text>
<path d="M661.5,109.4V111.7" stroke="#333333" stroke-width="1"/>
<text x="657.6" y="119.1" font-size="7.2" text-anchor="middle" font-weight="bold" fill="#555">15</text>
<text x="30.0" y="65.9" font-size="8.0" text-anchor="middle" font-weight="bold" fill="#1A1A1A" stroke="#1A1A1A" stroke-width="0.30" textLength="71.3" lengthAdjust="spacingAndGlyphs" transform="rotate(-90 30.0 65.9)">Susceptible bulk (S)</text>
<text x="38.4" y="65.9" font-size="8.0" text-anchor="middle" font-weight="bold" fill="#1A1A1A" stroke="#1A1A1A" stroke-width="0.30" textLength="37.8" lengthAdjust="spacingAndGlyphs" transform="rotate(-90 38.4 65.9)">SNPindex</text>
<path d="M60,139.4V243.7H263.6M268.1,243.7H471.8M476.3,243.7H679.9" fill="none" stroke="#333333" stroke-width="1.1"/>
<path d="M57.3,144.8H60" stroke="#333333" stroke-width="1"/>
<text x="56.2" y="147.4" font-size="7.2" text-anchor="end" font-weight="bold" fill="#555">1.00</text>
<path d="M57.3,168.5H60" stroke="#333333" stroke-width="1"/>
<text x="56.2" y="171.1" font-size="7.2" text-anchor="end" font-weight="bold" fill="#555">0.75</text>
<path d="M57.3,192.1H60" stroke="#333333" stroke-width="1"/>
<text x="56.2" y="194.7" font-size="7.2" text-anchor="end" font-weight="bold" fill="#555">0.50</text>
<path d="M57.3,215.8H60" stroke="#333333" stroke-width="1"/>
<text x="56.2" y="218.3" font-size="7.2" text-anchor="end" font-weight="bold" fill="#555">0.25</text>
<path d="M57.3,239.4H60" stroke="#333333" stroke-width="1"/>
<text x="56.2" y="242.0" font-size="7.2" text-anchor="end" font-weight="bold" fill="#555">0.00</text>
<path d="M69.4,243.7V246.0" stroke="#333333" stroke-width="1"/>
<text x="66.9" y="253.4" font-size="7.2" text-anchor="middle" font-weight="bold" fill="#555">0</text>
<path d="M111.8,243.7V246.0" stroke="#333333" stroke-width="1"/>
<text x="109.9" y="253.4" font-size="7.2" text-anchor="middle" font-weight="bold" fill="#555">5</text>
<path d="M154.2,243.7V246.0" stroke="#333333" stroke-width="1"/>
<text x="149.8" y="253.4" font-size="7.2" text-anchor="middle" font-weight="bold" fill="#555">10</text>
<path d="M196.5,243.7V246.0" stroke="#333333" stroke-width="1"/>
<text x="192.2" y="253.4" font-size="7.2" text-anchor="middle" font-weight="bold" fill="#555">15</text>
<path d="M238.9,243.7V246.0" stroke="#333333" stroke-width="1"/>
<text x="234.6" y="253.4" font-size="7.2" text-anchor="middle" font-weight="bold" fill="#555">20</text>
<path d="M277.4,243.7V246.0" stroke="#333333" stroke-width="1"/>
<text x="275.3" y="253.4" font-size="7.2" text-anchor="middle" font-weight="bold" fill="#555">0</text>
<path d="M343.7,243.7V246.0" stroke="#333333" stroke-width="1"/>
<text x="341.5" y="253.4" font-size="7.2" text-anchor="middle" font-weight="bold" fill="#555">5</text>
<path d="M410.0,243.7V246.0" stroke="#333333" stroke-width="1"/>
<text x="405.8" y="253.4" font-size="7.2" text-anchor="middle" font-weight="bold" fill="#555">10</text>
<path d="M485.5,243.7V246.0" stroke="#333333" stroke-width="1"/>
<text x="483.3" y="253.4" font-size="7.2" text-anchor="middle" font-weight="bold" fill="#555">0</text>
<path d="M544.1,243.7V246.0" stroke="#333333" stroke-width="1"/>
<text x="542.2" y="253.4" font-size="7.2" text-anchor="middle" font-weight="bold" fill="#555">5</text>
<path d="M602.8,243.7V246.0" stroke="#333333" stroke-width="1"/>
<text x="598.7" y="253.4" font-size="7.2" text-anchor="middle" font-weight="bold" fill="#555">10</text>
<path d="M661.5,243.7V246.0" stroke="#333333" stroke-width="1"/>
<text x="657.6" y="253.4" font-size="7.2" text-anchor="middle" font-weight="bold" fill="#555">15</text>
<text x="30.0" y="191.6" font-size="8.0" text-anchor="middle" font-weight="bold" fill="#1A1A1A" stroke="#1A1A1A" stroke-width="0.30" textLength="64.0" lengthAdjust="spacingAndGlyphs" transform="rotate(-90 30.0 191.6)">Resistant bulk (R)</text>
<text x="38.4" y="191.6" font-size="8.0" text-anchor="middle" font-weight="bold" fill="#1A1A1A" stroke="#1A1A1A" stroke-width="0.30" textLength="37.8" lengthAdjust="spacingAndGlyphs" transform="rotate(-90 38.4 191.6)">SNPindex</text>
<path d="M58.3,274.2V378.5H262.3M266.9,378.5H471.0M475.2,378.5H679.9" fill="none" stroke="#333333" stroke-width="1.1"/>
<path d="M55.6,277.2H58.3" stroke="#333333" stroke-width="1"/>
<text x="55.0" y="279.8" font-size="7.2" text-anchor="end" font-weight="bold" fill="#555">1.0</text>
<path d="M55.6,303.4H58.3" stroke="#333333" stroke-width="1"/>
<text x="55.0" y="306.0" font-size="7.2" text-anchor="end" font-weight="bold" fill="#555">0.5</text>
<path d="M55.6,329.6H58.3" stroke="#333333" stroke-width="1"/>
<text x="55.0" y="332.2" font-size="7.2" text-anchor="end" font-weight="bold" fill="#555">0.0</text>
<path d="M55.6,355.8H58.3" stroke="#333333" stroke-width="1"/>
<text x="55.0" y="358.4" font-size="7.2" text-anchor="end" font-weight="bold" fill="#555">-0.5</text>
<path d="M67.3,378.5V380.8" stroke="#333333" stroke-width="1"/>
<text x="66.7" y="388.7" font-size="7.2" text-anchor="middle" font-weight="bold" fill="#555">0</text>
<path d="M109.9,378.5V380.8" stroke="#333333" stroke-width="1"/>
<text x="110.2" y="388.7" font-size="7.2" text-anchor="middle" font-weight="bold" fill="#555">5</text>
<path d="M152.6,378.5V380.8" stroke="#333333" stroke-width="1"/>
<text x="152.5" y="388.7" font-size="7.2" text-anchor="middle" font-weight="bold" fill="#555">10</text>
<path d="M195.2,378.5V380.8" stroke="#333333" stroke-width="1"/>
<text x="195.4" y="388.7" font-size="7.2" text-anchor="middle" font-weight="bold" fill="#555">15</text>
<path d="M237.9,378.5V380.8" stroke="#333333" stroke-width="1"/>
<text x="237.4" y="388.7" font-size="7.2" text-anchor="middle" font-weight="bold" fill="#555">20</text>
<path d="M275.9,378.5V380.8" stroke="#333333" stroke-width="1"/>
<text x="275.9" y="388.7" font-size="7.2" text-anchor="middle" font-weight="bold" fill="#555">0</text>
<path d="M342.2,378.5V380.8" stroke="#333333" stroke-width="1"/>
<text x="342.9" y="388.7" font-size="7.2" text-anchor="middle" font-weight="bold" fill="#555">5</text>
<path d="M408.5,378.5V380.8" stroke="#333333" stroke-width="1"/>
<text x="408.5" y="388.7" font-size="7.2" text-anchor="middle" font-weight="bold" fill="#555">10</text>
<path d="M484.9,378.5V380.8" stroke="#333333" stroke-width="1"/>
<text x="484.2" y="388.7" font-size="7.2" text-anchor="middle" font-weight="bold" fill="#555">0</text>
<path d="M543.8,378.5V380.8" stroke="#333333" stroke-width="1"/>
<text x="543.5" y="388.7" font-size="7.2" text-anchor="middle" font-weight="bold" fill="#555">5</text>
<path d="M602.6,378.5V380.8" stroke="#333333" stroke-width="1"/>
<text x="602.0" y="388.7" font-size="7.2" text-anchor="middle" font-weight="bold" fill="#555">10</text>
<path d="M661.4,378.5V380.8" stroke="#333333" stroke-width="1"/>
<text x="661.4" y="388.7" font-size="7.2" text-anchor="middle" font-weight="bold" fill="#555">15</text>
<text x="30.0" y="326.4" font-size="8.0" text-anchor="middle" font-weight="bold" fill="#1A1A1A" stroke="#1A1A1A" stroke-width="0.30" textLength="42.5" lengthAdjust="spacingAndGlyphs" transform="rotate(-90 30.0 326.4)">ΔSNP index</text>
<text x="38.4" y="326.4" font-size="8.0" text-anchor="middle" font-weight="bold" fill="#1A1A1A" stroke="#1A1A1A" stroke-width="0.30" textLength="61.6" lengthAdjust="spacingAndGlyphs" transform="rotate(-90 38.4 326.4)">(R - S SNP index)</text>
<text x="369.1" y="398.7" font-size="8.0" text-anchor="middle" font-weight="bold" fill="#1A1A1A" stroke="#1A1A1A" stroke-width="0.25" textLength="46.7" lengthAdjust="spacingAndGlyphs">Position (Mb)</text>
<rect x="75.1" y="22.3" width="15.6" height="356.2" fill="#767676" fill-opacity="0.5"/>
<rect x="329.2" y="22.3" width="22.6" height="356.2" fill="#767676" fill-opacity="0.5"/>
<rect x="656.1" y="22.3" width="14.0" height="356.2" fill="#767676" fill-opacity="0.5"/>
<rect x="60.0" y="408.8" width="203.6" height="16.8" fill="#fff" stroke="#333" stroke-width="1"/>
<text x="161.8" y="421.6" font-size="12.0" text-anchor="middle" font-weight="bold" fill="#1A1A1A" textLength="30.5" lengthAdjust="spacingAndGlyphs">chr04</text>
<rect x="268.1" y="408.8" width="203.7" height="16.8" fill="#fff" stroke="#333" stroke-width="1"/>
<text x="370.0" y="421.6" font-size="12.0" text-anchor="middle" font-weight="bold" fill="#1A1A1A" textLength="30.5" lengthAdjust="spacingAndGlyphs">chr11</text>
<rect x="476.3" y="408.8" width="203.6" height="16.8" fill="#fff" stroke="#333" stroke-width="1"/>
<text x="578.1" y="421.6" font-size="12.0" text-anchor="middle" font-weight="bold" fill="#1A1A1A" textLength="30.5" lengthAdjust="spacingAndGlyphs">chr14</text>
<text x="1.2" y="422.7" font-size="19.0" text-anchor="start" font-weight="bold" fill="#000" textLength="9.8" lengthAdjust="spacingAndGlyphs">b</text>
<path d="M60,425.7V512.8H263.6M268.1,512.8H471.8M476.3,512.8H679.9" fill="none" stroke="#333333" stroke-width="1.1"/>
<path d="M57.3,430.2H60" stroke="#333333" stroke-width="1"/>
<text x="56.2" y="432.8" font-size="7.2" text-anchor="end" font-weight="bold" fill="#555">1.00</text>
<path d="M57.3,449.9H60" stroke="#333333" stroke-width="1"/>
<text x="56.2" y="452.5" font-size="7.2" text-anchor="end" font-weight="bold" fill="#555">0.75</text>
<path d="M57.3,469.6H60" stroke="#333333" stroke-width="1"/>
<text x="56.2" y="472.2" font-size="7.2" text-anchor="end" font-weight="bold" fill="#555">0.50</text>
<path d="M57.3,489.3H60" stroke="#333333" stroke-width="1"/>
<text x="56.2" y="491.9" font-size="7.2" text-anchor="end" font-weight="bold" fill="#555">0.25</text>
<path d="M57.3,509.0H60" stroke="#333333" stroke-width="1"/>
<text x="56.2" y="511.6" font-size="7.2" text-anchor="end" font-weight="bold" fill="#555">0.00</text>
<path d="M69.4,512.8V515.1" stroke="#333333" stroke-width="1"/>
<text x="66.9" y="522.5" font-size="7.2" text-anchor="middle" font-weight="bold" fill="#555">0</text>
<path d="M111.8,512.8V515.1" stroke="#333333" stroke-width="1"/>
<text x="109.9" y="522.5" font-size="7.2" text-anchor="middle" font-weight="bold" fill="#555">5</text>
<path d="M154.2,512.8V515.1" stroke="#333333" stroke-width="1"/>
<text x="149.8" y="522.5" font-size="7.2" text-anchor="middle" font-weight="bold" fill="#555">10</text>
<path d="M196.5,512.8V515.1" stroke="#333333" stroke-width="1"/>
<text x="192.2" y="522.5" font-size="7.2" text-anchor="middle" font-weight="bold" fill="#555">15</text>
<path d="M238.9,512.8V515.1" stroke="#333333" stroke-width="1"/>
<text x="234.6" y="522.5" font-size="7.2" text-anchor="middle" font-weight="bold" fill="#555">20</text>
<path d="M277.4,512.8V515.1" stroke="#333333" stroke-width="1"/>
<text x="275.3" y="522.5" font-size="7.2" text-anchor="middle" font-weight="bold" fill="#555">0</text>
<path d="M343.7,512.8V515.1" stroke="#333333" stroke-width="1"/>
<text x="341.5" y="522.5" font-size="7.2" text-anchor="middle" font-weight="bold" fill="#555">5</text>
<path d="M410.0,512.8V515.1" stroke="#333333" stroke-width="1"/>
<text x="405.8" y="522.5" font-size="7.2" text-anchor="middle" font-weight="bold" fill="#555">10</text>
<path d="M485.5,512.8V515.1" stroke="#333333" stroke-width="1"/>
<text x="483.3" y="522.5" font-size="7.2" text-anchor="middle" font-weight="bold" fill="#555">0</text>
<path d="M544.1,512.8V515.1" stroke="#333333" stroke-width="1"/>
<text x="542.2" y="522.5" font-size="7.2" text-anchor="middle" font-weight="bold" fill="#555">5</text>
<path d="M602.8,512.8V515.1" stroke="#333333" stroke-width="1"/>
<text x="598.7" y="522.5" font-size="7.2" text-anchor="middle" font-weight="bold" fill="#555">10</text>
<path d="M661.5,512.8V515.1" stroke="#333333" stroke-width="1"/>
<text x="657.6" y="522.5" font-size="7.2" text-anchor="middle" font-weight="bold" fill="#555">15</text>
<text x="30.0" y="469.2" font-size="8.0" text-anchor="middle" font-weight="bold" fill="#1A1A1A" stroke="#1A1A1A" stroke-width="0.30" textLength="71.3" lengthAdjust="spacingAndGlyphs" transform="rotate(-90 30.0 469.2)">Susceptible bulk (S)</text>
<text x="38.4" y="469.2" font-size="8.0" text-anchor="middle" font-weight="bold" fill="#1A1A1A" stroke="#1A1A1A" stroke-width="0.30" textLength="37.8" lengthAdjust="spacingAndGlyphs" transform="rotate(-90 38.4 469.2)">SNPindex</text>
<path d="M60,542.8V647.1H263.6M268.1,647.1H471.8M476.3,647.1H679.9" fill="none" stroke="#333333" stroke-width="1.1"/>
<path d="M57.3,548.2H60" stroke="#333333" stroke-width="1"/>
<text x="56.2" y="550.8" font-size="7.2" text-anchor="end" font-weight="bold" fill="#555">1.00</text>
<path d="M57.3,571.9H60" stroke="#333333" stroke-width="1"/>
<text x="56.2" y="574.5" font-size="7.2" text-anchor="end" font-weight="bold" fill="#555">0.75</text>
<path d="M57.3,595.5H60" stroke="#333333" stroke-width="1"/>
<text x="56.2" y="598.1" font-size="7.2" text-anchor="end" font-weight="bold" fill="#555">0.50</text>
<path d="M57.3,619.1H60" stroke="#333333" stroke-width="1"/>
<text x="56.2" y="621.8" font-size="7.2" text-anchor="end" font-weight="bold" fill="#555">0.25</text>
<path d="M57.3,642.8H60" stroke="#333333" stroke-width="1"/>
<text x="56.2" y="645.4" font-size="7.2" text-anchor="end" font-weight="bold" fill="#555">0.00</text>
<path d="M69.4,647.1V649.4" stroke="#333333" stroke-width="1"/>
<text x="66.9" y="656.8" font-size="7.2" text-anchor="middle" font-weight="bold" fill="#555">0</text>
<path d="M111.8,647.1V649.4" stroke="#333333" stroke-width="1"/>
<text x="109.9" y="656.8" font-size="7.2" text-anchor="middle" font-weight="bold" fill="#555">5</text>
<path d="M154.2,647.1V649.4" stroke="#333333" stroke-width="1"/>
<text x="149.8" y="656.8" font-size="7.2" text-anchor="middle" font-weight="bold" fill="#555">10</text>
<path d="M196.5,647.1V649.4" stroke="#333333" stroke-width="1"/>
<text x="192.2" y="656.8" font-size="7.2" text-anchor="middle" font-weight="bold" fill="#555">15</text>
<path d="M238.9,647.1V649.4" stroke="#333333" stroke-width="1"/>
<text x="234.6" y="656.8" font-size="7.2" text-anchor="middle" font-weight="bold" fill="#555">20</text>
<path d="M277.4,647.1V649.4" stroke="#333333" stroke-width="1"/>
<text x="275.3" y="656.8" font-size="7.2" text-anchor="middle" font-weight="bold" fill="#555">0</text>
<path d="M343.7,647.1V649.4" stroke="#333333" stroke-width="1"/>
<text x="341.5" y="656.8" font-size="7.2" text-anchor="middle" font-weight="bold" fill="#555">5</text>
<path d="M410.0,647.1V649.4" stroke="#333333" stroke-width="1"/>
<text x="405.8" y="656.8" font-size="7.2" text-anchor="middle" font-weight="bold" fill="#555">10</text>
<path d="M485.5,647.1V649.4" stroke="#333333" stroke-width="1"/>
<text x="483.3" y="656.8" font-size="7.2" text-anchor="middle" font-weight="bold" fill="#555">0</text>
<path d="M544.1,647.1V649.4" stroke="#333333" stroke-width="1"/>
<text x="542.2" y="656.8" font-size="7.2" text-anchor="middle" font-weight="bold" fill="#555">5</text>
<path d="M602.8,647.1V649.4" stroke="#333333" stroke-width="1"/>
<text x="598.7" y="656.8" font-size="7.2" text-anchor="middle" font-weight="bold" fill="#555">10</text>
<path d="M661.5,647.1V649.4" stroke="#333333" stroke-width="1"/>
<text x="657.6" y="656.8" font-size="7.2" text-anchor="middle" font-weight="bold" fill="#555">15</text>
<text x="30.0" y="594.9" font-size="8.0" text-anchor="middle" font-weight="bold" fill="#1A1A1A" stroke="#1A1A1A" stroke-width="0.30" textLength="64.0" lengthAdjust="spacingAndGlyphs" transform="rotate(-90 30.0 594.9)">Resistant bulk (R)</text>
<text x="38.4" y="594.9" font-size="8.0" text-anchor="middle" font-weight="bold" fill="#1A1A1A" stroke="#1A1A1A" stroke-width="0.30" textLength="37.8" lengthAdjust="spacingAndGlyphs" transform="rotate(-90 38.4 594.9)">SNPindex</text>
<path d="M58.3,677.6V781.9H262.3M266.9,781.9H471.0M475.2,781.9H679.9" fill="none" stroke="#333333" stroke-width="1.1"/>
<path d="M55.6,699.8H58.3" stroke="#333333" stroke-width="1"/>
<text x="55.0" y="702.4" font-size="7.2" text-anchor="end" font-weight="bold" fill="#555">0.5</text>
<path d="M55.6,727.3H58.3" stroke="#333333" stroke-width="1"/>
<text x="55.0" y="729.9" font-size="7.2" text-anchor="end" font-weight="bold" fill="#555">0.0</text>
<path d="M55.6,754.8H58.3" stroke="#333333" stroke-width="1"/>
<text x="55.0" y="757.4" font-size="7.2" text-anchor="end" font-weight="bold" fill="#555">-0.5</text>
<path d="M67.3,781.9V784.2" stroke="#333333" stroke-width="1"/>
<text x="66.7" y="792.1" font-size="7.2" text-anchor="middle" font-weight="bold" fill="#555">0</text>
<path d="M109.9,781.9V784.2" stroke="#333333" stroke-width="1"/>
<text x="110.2" y="792.1" font-size="7.2" text-anchor="middle" font-weight="bold" fill="#555">5</text>
<path d="M152.6,781.9V784.2" stroke="#333333" stroke-width="1"/>
<text x="152.5" y="792.1" font-size="7.2" text-anchor="middle" font-weight="bold" fill="#555">10</text>
<path d="M195.2,781.9V784.2" stroke="#333333" stroke-width="1"/>
<text x="195.4" y="792.1" font-size="7.2" text-anchor="middle" font-weight="bold" fill="#555">15</text>
<path d="M237.9,781.9V784.2" stroke="#333333" stroke-width="1"/>
<text x="237.4" y="792.1" font-size="7.2" text-anchor="middle" font-weight="bold" fill="#555">20</text>
<path d="M275.9,781.9V784.2" stroke="#333333" stroke-width="1"/>
<text x="275.9" y="792.1" font-size="7.2" text-anchor="middle" font-weight="bold" fill="#555">0</text>
<path d="M342.2,781.9V784.2" stroke="#333333" stroke-width="1"/>
<text x="342.9" y="792.1" font-size="7.2" text-anchor="middle" font-weight="bold" fill="#555">5</text>
<path d="M408.5,781.9V784.2" stroke="#333333" stroke-width="1"/>
<text x="408.5" y="792.1" font-size="7.2" text-anchor="middle" font-weight="bold" fill="#555">10</text>
<path d="M484.9,781.9V784.2" stroke="#333333" stroke-width="1"/>
<text x="484.2" y="792.1" font-size="7.2" text-anchor="middle" font-weight="bold" fill="#555">0</text>
<path d="M543.8,781.9V784.2" stroke="#333333" stroke-width="1"/>
<text x="543.5" y="792.1" font-size="7.2" text-anchor="middle" font-weight="bold" fill="#555">5</text>
<path d="M602.6,781.9V784.2" stroke="#333333" stroke-width="1"/>
<text x="602.0" y="792.1" font-size="7.2" text-anchor="middle" font-weight="bold" fill="#555">10</text>
<path d="M661.4,781.9V784.2" stroke="#333333" stroke-width="1"/>
<text x="661.4" y="792.1" font-size="7.2" text-anchor="middle" font-weight="bold" fill="#555">15</text>
<text x="30.0" y="729.8" font-size="8.0" text-anchor="middle" font-weight="bold" fill="#1A1A1A" stroke="#1A1A1A" stroke-width="0.30" textLength="42.5" lengthAdjust="spacingAndGlyphs" transform="rotate(-90 30.0 729.8)">ΔSNP index</text>
<text x="38.4" y="729.8" font-size="8.0" text-anchor="middle" font-weight="bold" fill="#1A1A1A" stroke="#1A1A1A" stroke-width="0.30" textLength="61.6" lengthAdjust="spacingAndGlyphs" transform="rotate(-90 38.4 729.8)">(R - S SNP index)</text>
<text x="369.1" y="802.1" font-size="8.0" text-anchor="middle" font-weight="bold" fill="#1A1A1A" stroke="#1A1A1A" stroke-width="0.25" textLength="46.7" lengthAdjust="spacingAndGlyphs">Position (Mb)</text>
<rect x="75.1" y="425.7" width="15.6" height="356.2" fill="#767676" fill-opacity="0.5"/>
<rect x="329.2" y="425.7" width="22.6" height="356.2" fill="#767676" fill-opacity="0.5"/>
<rect x="656.1" y="425.7" width="14.0" height="356.2" fill="#767676" fill-opacity="0.5"/></svg>
</div></body></html>
